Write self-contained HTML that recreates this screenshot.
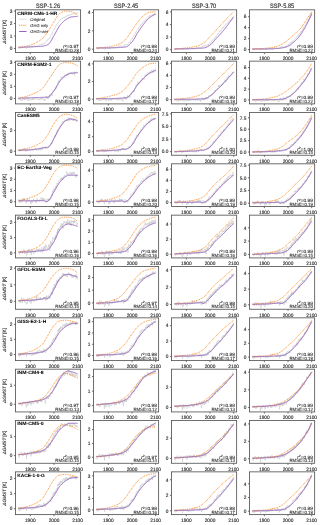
<!DOCTYPE html>
<html><head><meta charset="utf-8"><style>
html,body{margin:0;padding:0;background:#fff;width:320px;height:525px;overflow:hidden}
svg{display:block;will-change:transform}
text{font-family:"Liberation Sans", sans-serif;fill:#262626;text-rendering:geometricPrecision;stroke:#262626;stroke-width:0.12px}
.ti{font-size:6.4px}
.xt{font-size:4.9px}
.yt{font-size:4.9px}
.mn{font-size:4.7px;font-weight:bold;fill:#000;stroke:#000;stroke-width:0.05px}
.an{font-size:4.7px;stroke-width:0.06px;fill:#111;stroke:#111}
.sup{font-size:3.2px}
.lg{font-size:4.0px;fill:#333;stroke:#333;stroke-width:0.08px}
.yl{font-size:4.7px}
.ax{fill:none;stroke:#555555;stroke-width:0.85}
.tk{stroke:#555555;stroke-width:0.85}
.g{fill:none;stroke:#c8c8c8;stroke-width:0.6}
.o{fill:none;stroke:#ff7f0e;stroke-width:1.0;stroke-dasharray:0.9 0.9}
.p{fill:none;stroke:#9467bd;stroke-width:1.0}
</style></head><body>
<svg width="320" height="525" viewBox="0 0 320 525" xmlns="http://www.w3.org/2000/svg">
<text class="ti" x="48.05" y="7.75" text-anchor="middle" textLength="24.2" lengthAdjust="spacingAndGlyphs">SSP-1.26</text>
<text class="ti" x="126.07" y="7.75" text-anchor="middle" textLength="24.2" lengthAdjust="spacingAndGlyphs">SSP-2.45</text>
<text class="ti" x="204.09" y="7.75" text-anchor="middle" textLength="24.2" lengthAdjust="spacingAndGlyphs">SSP-3.70</text>
<text class="ti" x="282.11" y="7.75" text-anchor="middle" textLength="24.2" lengthAdjust="spacingAndGlyphs">SSP-5.85</text>
<clipPath id="c00"><rect x="15.50" y="9.80" width="65.10" height="42.75"/></clipPath>
<g clip-path="url(#c00)">
<polyline class="g" points="18.5,47.78 18.7,47.66 18.9,48.42 19.2,48.87 19.4,48.37 19.6,47.60 19.9,47.81 20.1,47.83 20.4,47.48 20.6,48.24 20.8,48.37 21.1,47.49 21.3,47.97 21.5,47.29 21.8,47.35 22.0,47.20 22.2,47.18 22.5,47.44 22.7,47.37 23.0,47.38 23.2,48.00 23.4,47.65 23.7,47.76 23.9,47.05 24.1,47.37 24.4,47.70 24.6,47.62 24.9,47.30 25.1,47.77 25.3,48.12 25.6,47.76 25.8,48.16 26.0,48.33 26.3,48.43 26.5,48.66 26.7,48.42 27.0,47.85 27.2,47.04 27.5,47.03 27.7,47.55 27.9,46.77 28.2,46.94 28.4,46.72 28.6,47.03 28.9,47.30 29.1,47.59 29.3,47.86 29.6,47.84 29.8,47.11 30.1,47.00 30.3,47.14 30.5,46.88 30.8,47.00 31.0,47.00 31.2,47.22 31.5,46.37 31.7,46.81 32.0,46.49 32.2,47.42 32.4,46.72 32.7,46.70 32.9,46.96 33.1,46.14 33.4,45.95 33.6,46.23 33.8,46.15 34.1,46.05 34.3,45.97 34.6,46.12 34.8,45.92 35.0,46.59 35.3,46.01 35.5,46.53 35.7,46.63 36.0,46.37 36.2,45.95 36.5,45.92 36.7,46.32 36.9,46.41 37.2,46.02 37.4,46.16 37.6,45.73 37.9,46.21 38.1,46.46 38.3,45.64 38.6,45.89 38.8,46.49 39.1,45.74 39.3,45.30 39.5,44.91 39.8,45.04 40.0,44.24 40.2,44.45 40.5,44.12 40.7,44.32 40.9,44.53 41.2,44.47 41.4,45.07 41.7,44.21 41.9,44.04 42.1,43.66 42.4,43.98 42.6,43.72 42.8,43.73 43.1,44.48 43.3,43.99 43.6,43.81 43.8,43.69 44.0,43.56 44.3,43.56 44.5,43.44 44.7,42.86 45.0,42.85 45.2,42.98 45.4,42.70 45.7,42.55 45.9,42.13 46.2,41.69 46.4,41.74 46.6,40.44 46.9,41.01 47.1,40.55 47.3,39.90 47.6,39.70 47.8,39.37 48.0,39.34 48.3,39.47 48.5,39.44 48.8,38.54 49.0,38.12 49.2,38.57 49.5,38.59 49.7,38.30 49.9,38.15 50.2,36.75 50.4,36.06 50.7,35.57 50.9,34.81 51.1,34.86 51.4,34.35 51.6,33.92 51.8,34.27 52.1,34.25 52.3,33.80 52.5,31.61 52.8,31.21 53.0,31.07 53.3,30.58 53.5,30.04 53.7,29.50 54.0,28.81 54.2,28.65 54.4,29.18 54.7,28.42 54.9,28.23 55.2,27.63 55.4,26.63 55.6,26.80 55.9,26.11 56.1,25.42 56.3,24.88 56.6,24.29 56.8,24.62 57.0,24.10 57.3,23.87 57.5,24.06 57.8,22.88 58.0,22.47 58.2,22.14 58.5,22.28 58.7,22.45 58.9,21.75 59.2,21.25 59.4,20.79 59.6,20.41 59.9,20.45 60.1,20.51 60.4,19.75 60.6,19.61 60.8,19.80 61.1,19.63 61.3,19.63 61.5,19.32 61.8,18.92 62.0,18.28 62.3,18.73 62.5,18.95 62.7,18.35 63.0,17.61 63.2,17.74 63.4,17.71 63.7,17.83 63.9,17.26 64.1,17.63 64.4,17.51 64.6,18.10 64.9,17.21 65.1,16.98 65.3,17.18 65.6,16.41 65.8,16.71 66.0,16.99 66.3,16.73 66.5,16.32 66.8,16.60 67.0,15.57 67.2,14.86 67.5,14.89 67.7,15.06 67.9,15.23 68.2,15.09 68.4,15.86 68.6,15.83 68.9,15.04 69.1,14.69 69.4,14.91 69.6,15.21 69.8,15.27 70.1,15.23 70.3,14.63 70.5,14.38 70.8,14.66 71.0,14.70 71.2,14.98 71.5,14.02 71.7,14.06 72.0,14.38 72.2,14.10 72.4,14.03 72.7,13.81 72.9,13.71 73.1,14.09 73.4,14.30 73.6,13.56 73.9,13.65 74.1,14.05 74.3,13.95 74.6,13.80 74.8,13.65 75.0,13.63 75.3,13.81 75.5,13.89 75.7,13.22 76.0,13.94 76.2,13.20 76.5,13.92 76.7,13.40 76.9,12.66 77.2,13.14 77.4,12.68 77.6,12.66"/>
<polyline class="o" points="18.5,47.27 18.9,47.26 19.4,47.25 19.9,47.23 20.4,47.19 20.8,47.15 21.3,47.10 21.8,47.04 22.2,46.98 22.7,46.91 23.2,46.83 23.7,46.74 24.1,46.65 24.6,46.56 25.1,46.46 25.6,46.35 26.0,46.24 26.5,46.13 27.0,46.02 27.5,45.90 27.9,45.78 28.4,45.65 28.9,45.53 29.3,45.40 29.8,45.27 30.3,45.15 30.8,45.01 31.2,44.87 31.7,44.72 32.2,44.55 32.7,44.38 33.1,44.19 33.6,43.99 34.1,43.79 34.6,43.57 35.0,43.34 35.5,43.11 36.0,42.86 36.5,42.60 36.9,42.33 37.4,42.06 37.9,41.77 38.3,41.48 38.8,41.17 39.3,40.86 39.8,40.53 40.2,40.20 40.7,39.86 41.2,39.51 41.7,39.15 42.1,38.78 42.6,38.38 43.1,37.92 43.6,37.42 44.0,36.88 44.5,36.29 45.0,35.68 45.4,35.05 45.9,34.39 46.4,33.72 46.9,33.04 47.3,32.36 47.8,31.69 48.3,31.01 48.8,30.31 49.2,29.57 49.7,28.82 50.2,28.04 50.7,27.25 51.1,26.45 51.6,25.65 52.1,24.85 52.5,24.06 53.0,23.29 53.5,22.53 54.0,21.80 54.4,21.05 54.9,20.27 55.4,19.47 55.9,18.65 56.3,17.84 56.8,17.05 57.3,16.29 57.8,15.57 58.2,14.92 58.7,14.34 59.2,13.85 59.6,13.46 60.1,13.17 60.6,12.91 61.1,12.65 61.5,12.41 62.0,12.18 62.5,11.97 63.0,11.77 63.4,11.61 63.9,11.46 64.4,11.34 64.9,11.26 65.3,11.20 65.8,11.18 66.3,11.19 66.8,11.20 67.2,11.23 67.7,11.26 68.2,11.30 68.6,11.35 69.1,11.41 69.6,11.47 70.1,11.54 70.5,11.62 71.0,11.69 71.5,11.78 72.0,11.87 72.4,12.00 72.9,12.17 73.4,12.38 73.9,12.62 74.3,12.90 74.8,13.20 75.3,13.53 75.7,13.88 76.2,14.25 76.7,14.63 77.2,15.03 77.6,15.43"/>
<polyline class="p" points="18.5,47.27 18.9,47.26 19.4,47.24 19.9,47.23 20.4,47.22 20.8,47.20 21.3,47.19 21.8,47.17 22.2,47.16 22.7,47.14 23.2,47.12 23.7,47.11 24.1,47.09 24.6,47.07 25.1,47.06 25.6,47.04 26.0,47.02 26.5,47.00 27.0,46.98 27.5,46.96 27.9,46.94 28.4,46.93 28.9,46.91 29.3,46.89 29.8,46.87 30.3,46.85 30.8,46.83 31.2,46.81 31.7,46.79 32.2,46.77 32.7,46.75 33.1,46.73 33.6,46.72 34.1,46.70 34.6,46.68 35.0,46.66 35.5,46.64 36.0,46.62 36.5,46.60 36.9,46.57 37.4,46.55 37.9,46.53 38.3,46.50 38.8,46.47 39.3,46.44 39.8,46.41 40.2,46.37 40.7,46.34 41.2,46.30 41.7,46.25 42.1,46.21 42.6,46.16 43.1,46.09 43.6,46.01 44.0,45.91 44.5,45.80 45.0,45.68 45.4,45.54 45.9,45.38 46.4,45.22 46.9,45.03 47.3,44.84 47.8,44.62 48.3,44.38 48.8,44.01 49.2,43.52 49.7,42.93 50.2,42.24 50.7,41.49 51.1,40.68 51.6,39.83 52.1,38.96 52.5,38.08 53.0,37.22 53.5,36.38 54.0,35.59 54.4,34.81 54.9,33.98 55.4,33.12 55.9,32.24 56.3,31.34 56.8,30.45 57.3,29.57 57.8,28.71 58.2,27.88 58.7,27.10 59.2,26.37 59.6,25.71 60.1,25.11 60.6,24.54 61.1,23.99 61.5,23.46 62.0,22.94 62.5,22.45 63.0,21.97 63.4,21.52 63.9,21.10 64.4,20.70 64.9,20.33 65.3,19.99 65.8,19.67 66.3,19.38 66.8,19.08 67.2,18.79 67.7,18.51 68.2,18.24 68.6,17.98 69.1,17.75 69.6,17.53 70.1,17.34 70.5,17.18 71.0,17.05 71.5,16.95 72.0,16.89 72.4,16.83 72.9,16.78 73.4,16.73 73.9,16.68 74.3,16.64 74.8,16.60 75.3,16.57 75.7,16.54 76.2,16.52 76.7,16.50 77.2,16.49 77.6,16.49"/>
</g>
<rect class="ax" x="15.50" y="9.80" width="65.10" height="42.75"/>
<line class="tk" x1="30.30" y1="52.55" x2="30.30" y2="54.15"/>
<text class="xt" x="30.30" y="59.95" text-anchor="middle" textLength="10.69" lengthAdjust="spacingAndGlyphs">1900</text>
<line class="tk" x1="53.97" y1="52.55" x2="53.97" y2="54.15"/>
<text class="xt" x="53.97" y="59.95" text-anchor="middle" textLength="10.69" lengthAdjust="spacingAndGlyphs">2000</text>
<line class="tk" x1="77.64" y1="52.55" x2="77.64" y2="54.15"/>
<text class="xt" x="77.64" y="59.95" text-anchor="middle" textLength="10.69" lengthAdjust="spacingAndGlyphs">2100</text>
<line class="tk" x1="13.90" y1="48.44" x2="15.50" y2="48.44"/>
<text class="yt" x="12.30" y="50.19" text-anchor="end" textLength="2.67" lengthAdjust="spacingAndGlyphs">0</text>
<line class="tk" x1="13.90" y1="36.00" x2="15.50" y2="36.00"/>
<text class="yt" x="12.30" y="37.75" text-anchor="end" textLength="2.67" lengthAdjust="spacingAndGlyphs">1</text>
<line class="tk" x1="13.90" y1="23.55" x2="15.50" y2="23.55"/>
<text class="yt" x="12.30" y="25.30" text-anchor="end" textLength="2.67" lengthAdjust="spacingAndGlyphs">2</text>
<line class="tk" x1="13.90" y1="11.10" x2="15.50" y2="11.10"/>
<text class="yt" x="12.30" y="12.85" text-anchor="end" textLength="2.67" lengthAdjust="spacingAndGlyphs">3</text>
<text class="an" x="78.80" y="47.90" text-anchor="end" textLength="15.60" lengthAdjust="spacingAndGlyphs">r<tspan class="sup" dy="-1.3">2</tspan><tspan dy="1.3">=0.97</tspan></text>
<text class="an" x="78.80" y="51.60" text-anchor="end" textLength="23.43" lengthAdjust="spacingAndGlyphs">RMSE=0.28</text>
<clipPath id="c01"><rect x="93.52" y="9.80" width="65.10" height="42.75"/></clipPath>
<g clip-path="url(#c01)">
<polyline class="g" points="96.5,48.21 96.7,48.09 97.0,48.87 97.2,49.33 97.4,48.84 97.7,48.07 97.9,48.29 98.1,48.32 98.4,47.98 98.6,48.75 98.8,48.89 99.1,48.02 99.3,48.51 99.6,47.84 99.8,47.92 100.0,47.77 100.3,47.76 100.5,48.04 100.7,47.98 101.0,48.00 101.2,48.64 101.5,48.30 101.7,48.42 101.9,47.72 102.2,48.06 102.4,48.40 102.6,48.33 102.9,48.02 103.1,48.50 103.3,48.87 103.6,48.53 103.8,48.93 104.1,49.12 104.3,49.23 104.5,49.48 104.8,49.25 105.0,48.70 105.2,47.90 105.5,47.91 105.7,48.44 105.9,47.68 106.2,47.86 106.4,47.66 106.7,47.98 106.9,48.27 107.1,48.57 107.4,48.86 107.6,48.85 107.8,48.14 108.1,48.04 108.3,48.21 108.6,47.95 108.8,48.09 109.0,48.10 109.3,48.34 109.5,47.50 109.7,47.95 110.0,47.64 110.2,48.58 110.4,47.90 110.7,47.89 110.9,48.15 111.2,47.34 111.4,47.16 111.6,47.45 111.9,47.38 112.1,47.29 112.3,47.22 112.6,47.38 112.8,47.18 113.0,47.87 113.3,47.29 113.5,47.82 113.8,47.94 114.0,47.69 114.2,47.28 114.5,47.26 114.7,47.67 114.9,47.77 115.2,47.39 115.4,47.55 115.7,47.13 115.9,47.63 116.1,47.90 116.4,47.09 116.6,47.36 116.8,47.98 117.1,47.25 117.3,46.83 117.5,46.47 117.8,46.62 118.0,45.84 118.3,46.08 118.5,45.78 118.7,46.01 119.0,46.26 119.2,46.23 119.4,46.86 119.7,46.04 119.9,45.91 120.2,45.57 120.4,45.94 120.6,45.74 120.9,45.81 121.1,46.65 121.3,46.25 121.6,46.16 121.8,46.15 122.0,46.14 122.3,46.26 122.5,46.28 122.8,45.83 123.0,45.97 123.2,46.25 123.5,46.12 123.7,46.13 123.9,45.87 124.2,45.61 124.4,45.82 124.6,44.69 124.9,45.43 125.1,45.15 125.4,44.67 125.6,44.65 125.8,44.50 126.1,44.65 126.3,44.95 126.5,45.11 126.8,44.40 127.0,44.17 127.3,44.82 127.5,45.04 127.7,44.95 128.0,45.01 128.2,43.81 128.4,43.32 128.7,43.03 128.9,42.47 129.1,42.71 129.4,42.39 129.6,42.13 129.9,42.66 130.1,42.82 130.3,42.52 130.6,40.48 130.8,40.23 131.0,40.22 131.3,39.85 131.5,39.42 131.8,38.98 132.0,38.36 132.2,38.27 132.5,38.85 132.7,38.13 132.9,37.96 133.2,37.38 133.4,36.40 133.6,36.56 133.9,35.86 134.1,35.15 134.4,34.57 134.6,33.95 134.8,34.23 135.1,33.65 135.3,33.37 135.5,31.97 135.8,32.12 136.0,32.32 136.2,32.34 136.5,31.46 136.7,31.06 137.0,30.79 137.2,30.42 137.4,30.09 137.7,30.07 137.9,29.24 138.1,28.42 138.4,27.99 138.6,28.82 138.9,27.92 139.1,27.36 139.3,27.29 139.6,27.30 139.8,26.54 140.0,26.07 140.3,26.24 140.5,24.99 140.7,24.71 141.0,24.62 141.2,24.66 141.5,24.68 141.7,24.22 141.9,24.07 142.2,23.78 142.4,22.96 142.6,22.63 142.9,22.49 143.1,22.04 143.4,22.09 143.6,21.58 143.8,21.82 144.1,21.31 144.3,21.35 144.5,21.59 144.8,21.12 145.0,21.13 145.2,20.44 145.5,20.58 145.7,20.00 146.0,19.20 146.2,19.10 146.4,19.52 146.7,19.05 146.9,18.93 147.1,18.80 147.4,18.50 147.6,18.54 147.8,18.35 148.1,17.91 148.3,17.99 148.6,17.39 148.8,16.71 149.0,17.08 149.3,17.04 149.5,16.47 149.7,15.58 150.0,16.04 150.2,16.47 150.5,15.50 150.7,15.64 150.9,15.37 151.2,15.79 151.4,15.57 151.6,16.00 151.9,15.25 152.1,14.74 152.3,14.53 152.6,14.94 152.8,15.79 153.1,14.96 153.3,14.30 153.5,14.01 153.8,14.10 154.0,14.34 154.2,13.56 154.5,14.07 154.7,13.51 155.0,14.00 155.2,14.68 155.4,14.36 155.7,13.34"/>
<polyline class="o" points="96.5,47.91 97.0,47.90 97.4,47.90 97.9,47.88 98.4,47.87 98.8,47.85 99.3,47.82 99.8,47.79 100.3,47.76 100.7,47.73 101.2,47.69 101.7,47.64 102.2,47.60 102.6,47.55 103.1,47.50 103.6,47.45 104.1,47.39 104.5,47.34 105.0,47.28 105.5,47.22 105.9,47.16 106.4,47.10 106.9,47.04 107.4,46.97 107.8,46.91 108.3,46.85 108.8,46.78 109.3,46.71 109.7,46.64 110.2,46.56 110.7,46.47 111.2,46.39 111.6,46.29 112.1,46.19 112.6,46.09 113.0,45.98 113.5,45.87 114.0,45.75 114.5,45.63 114.9,45.50 115.4,45.36 115.9,45.22 116.4,45.07 116.8,44.92 117.3,44.76 117.8,44.59 118.3,44.42 118.7,44.24 119.2,44.05 119.7,43.86 120.2,43.66 120.6,43.44 121.1,43.17 121.6,42.87 122.0,42.54 122.5,42.17 123.0,41.78 123.5,41.36 123.9,40.92 124.4,40.47 124.9,40.00 125.4,39.52 125.8,39.03 126.3,38.52 126.8,37.97 127.3,37.37 127.7,36.73 128.2,36.06 128.7,35.36 129.1,34.64 129.6,33.90 130.1,33.16 130.6,32.43 131.0,31.70 131.5,30.98 132.0,30.29 132.5,29.60 132.9,28.90 133.4,28.20 133.9,27.49 134.4,26.78 134.8,26.07 135.3,25.37 135.8,24.68 136.2,24.00 136.7,23.34 137.2,22.70 137.7,22.09 138.1,21.51 138.6,20.92 139.1,20.34 139.6,19.76 140.0,19.19 140.5,18.64 141.0,18.10 141.5,17.58 141.9,17.09 142.4,16.62 142.9,16.19 143.4,15.79 143.8,15.43 144.3,15.09 144.8,14.75 145.2,14.41 145.7,14.08 146.2,13.77 146.7,13.47 147.1,13.20 147.6,12.94 148.1,12.72 148.6,12.54 149.0,12.39 149.5,12.28 150.0,12.22 150.5,12.16 150.9,12.11 151.4,12.06 151.9,12.01 152.3,11.97 152.8,11.93 153.3,11.90 153.8,11.87 154.2,11.85 154.7,11.83 155.2,11.82 155.7,11.82"/>
<polyline class="p" points="96.5,47.91 97.0,47.91 97.4,47.91 97.9,47.91 98.4,47.91 98.8,47.91 99.3,47.91 99.8,47.91 100.3,47.91 100.7,47.91 101.2,47.91 101.7,47.91 102.2,47.91 102.6,47.91 103.1,47.91 103.6,47.91 104.1,47.91 104.5,47.91 105.0,47.91 105.5,47.91 105.9,47.91 106.4,47.91 106.9,47.91 107.4,47.91 107.8,47.91 108.3,47.91 108.8,47.91 109.3,47.90 109.7,47.90 110.2,47.89 110.7,47.88 111.2,47.87 111.6,47.86 112.1,47.85 112.6,47.84 113.0,47.82 113.5,47.81 114.0,47.79 114.5,47.77 114.9,47.75 115.4,47.73 115.9,47.71 116.4,47.68 116.8,47.66 117.3,47.64 117.8,47.61 118.3,47.59 118.7,47.56 119.2,47.54 119.7,47.51 120.2,47.48 120.6,47.45 121.1,47.42 121.6,47.39 122.0,47.36 122.5,47.32 123.0,47.27 123.5,47.23 123.9,47.17 124.4,47.11 124.9,47.04 125.4,46.97 125.8,46.89 126.3,46.79 126.8,46.63 127.3,46.40 127.7,46.11 128.2,45.77 128.7,45.39 129.1,44.96 129.6,44.50 130.1,44.02 130.6,43.52 131.0,43.00 131.5,42.48 132.0,41.96 132.5,41.40 132.9,40.77 133.4,40.07 133.9,39.32 134.4,38.53 134.8,37.71 135.3,36.87 135.8,36.02 136.2,35.18 136.7,34.35 137.2,33.54 137.7,32.78 138.1,32.05 138.6,31.33 139.1,30.61 139.6,29.89 140.0,29.18 140.5,28.47 141.0,27.78 141.5,27.09 141.9,26.42 142.4,25.77 142.9,25.13 143.4,24.51 143.8,23.92 144.3,23.34 144.8,22.75 145.2,22.17 145.7,21.60 146.2,21.04 146.7,20.49 147.1,19.96 147.6,19.46 148.1,18.98 148.6,18.52 149.0,18.11 149.5,17.73 150.0,17.38 150.5,17.05 150.9,16.73 151.4,16.42 151.9,16.12 152.3,15.83 152.8,15.56 153.3,15.31 153.8,15.08 154.2,14.87 154.7,14.67 155.2,14.51 155.7,14.37"/>
</g>
<rect class="ax" x="93.52" y="9.80" width="65.10" height="42.75"/>
<line class="tk" x1="108.32" y1="52.55" x2="108.32" y2="54.15"/>
<text class="xt" x="108.32" y="59.95" text-anchor="middle" textLength="10.69" lengthAdjust="spacingAndGlyphs">1900</text>
<line class="tk" x1="131.99" y1="52.55" x2="131.99" y2="54.15"/>
<text class="xt" x="131.99" y="59.95" text-anchor="middle" textLength="10.69" lengthAdjust="spacingAndGlyphs">2000</text>
<line class="tk" x1="155.66" y1="52.55" x2="155.66" y2="54.15"/>
<text class="xt" x="155.66" y="59.95" text-anchor="middle" textLength="10.69" lengthAdjust="spacingAndGlyphs">2100</text>
<line class="tk" x1="91.92" y1="49.19" x2="93.52" y2="49.19"/>
<text class="yt" x="90.32" y="50.94" text-anchor="end" textLength="2.67" lengthAdjust="spacingAndGlyphs">0</text>
<line class="tk" x1="91.92" y1="30.86" x2="93.52" y2="30.86"/>
<text class="yt" x="90.32" y="32.61" text-anchor="end" textLength="2.67" lengthAdjust="spacingAndGlyphs">2</text>
<line class="tk" x1="91.92" y1="12.53" x2="93.52" y2="12.53"/>
<text class="yt" x="90.32" y="14.28" text-anchor="end" textLength="2.67" lengthAdjust="spacingAndGlyphs">4</text>
<text class="an" x="156.82" y="47.90" text-anchor="end" textLength="15.60" lengthAdjust="spacingAndGlyphs">r<tspan class="sup" dy="-1.3">2</tspan><tspan dy="1.3">=0.98</tspan></text>
<text class="an" x="156.82" y="51.60" text-anchor="end" textLength="23.43" lengthAdjust="spacingAndGlyphs">RMSE=0.24</text>
<clipPath id="c02"><rect x="171.54" y="9.80" width="65.10" height="42.75"/></clipPath>
<g clip-path="url(#c02)">
<polyline class="g" points="174.5,48.84 174.7,48.73 175.0,49.50 175.2,49.96 175.4,49.47 175.7,48.71 175.9,48.93 176.2,48.96 176.4,48.62 176.6,49.39 176.9,49.53 177.1,48.67 177.3,49.16 177.6,48.50 177.8,48.58 178.0,48.44 178.3,48.43 178.5,48.71 178.8,48.65 179.0,48.68 179.2,49.32 179.5,48.98 179.7,49.11 179.9,48.41 180.2,48.76 180.4,49.10 180.7,49.04 180.9,48.73 181.1,49.22 181.4,49.59 181.6,49.25 181.8,49.67 182.1,49.86 182.3,49.97 182.5,50.23 182.8,50.01 183.0,49.46 183.3,48.67 183.5,48.68 183.7,49.22 184.0,48.46 184.2,48.65 184.4,48.46 184.7,48.79 184.9,49.08 185.2,49.39 185.4,49.68 185.6,49.68 185.9,48.98 186.1,48.89 186.3,49.05 186.6,48.81 186.8,48.95 187.0,48.97 187.3,49.22 187.5,48.39 187.8,48.85 188.0,48.55 188.2,49.50 188.5,48.83 188.7,48.83 188.9,49.10 189.2,48.31 189.4,48.14 189.6,48.44 189.9,48.38 190.1,48.31 190.4,48.25 190.6,48.42 190.8,48.24 191.1,48.94 191.3,48.38 191.5,48.93 191.8,49.05 192.0,48.82 192.3,48.43 192.5,48.42 192.7,48.85 193.0,48.96 193.2,48.60 193.4,48.77 193.7,48.37 193.9,48.89 194.1,49.17 194.4,48.38 194.6,48.66 194.9,49.29 195.1,48.58 195.3,48.17 195.6,47.82 195.8,47.99 196.0,47.23 196.3,47.48 196.5,47.19 196.8,47.43 197.0,47.69 197.2,47.67 197.5,48.32 197.7,47.51 197.9,47.39 198.2,47.06 198.4,47.43 198.6,47.23 198.9,47.31 199.1,48.13 199.4,47.72 199.6,47.63 199.8,47.59 200.1,47.57 200.3,47.66 200.5,47.66 200.8,47.19 201.0,47.30 201.2,47.55 201.5,47.40 201.7,47.38 202.0,47.09 202.2,46.80 202.4,46.99 202.7,45.84 202.9,46.56 203.1,46.26 203.4,45.76 203.6,45.73 203.9,45.57 204.1,45.71 204.3,46.02 204.6,46.20 204.8,45.53 205.0,45.37 205.3,46.09 205.5,46.40 205.7,46.41 206.0,46.59 206.2,45.51 206.5,45.16 206.7,45.02 206.9,44.61 207.2,45.01 207.4,44.85 207.6,44.76 207.9,45.46 208.1,45.79 208.4,45.66 208.6,43.79 208.8,43.71 209.1,43.87 209.3,43.66 209.5,43.38 209.8,43.08 210.0,42.61 210.2,42.65 210.5,43.38 210.7,42.80 211.0,42.78 211.2,42.35 211.4,41.51 211.7,41.83 211.9,41.28 212.1,40.71 212.4,40.28 212.6,39.80 212.8,40.24 213.1,39.80 213.3,39.65 213.6,39.74 213.8,39.58 214.0,38.67 214.3,38.64 214.5,38.88 214.7,38.20 215.0,37.38 215.2,37.20 215.5,37.28 215.7,36.81 215.9,35.97 216.2,36.45 216.4,36.22 216.6,35.58 216.9,35.20 217.1,34.84 217.3,35.05 217.6,34.05 217.8,33.52 218.1,33.79 218.3,34.15 218.5,33.59 218.8,33.15 219.0,32.92 219.2,31.69 219.5,30.96 219.7,30.82 220.0,31.16 220.2,31.53 220.4,30.37 220.7,30.24 220.9,31.12 221.1,30.79 221.4,29.70 221.6,29.55 221.8,29.73 222.1,28.39 222.3,28.30 222.6,27.95 222.8,28.37 223.0,27.40 223.3,27.81 223.5,28.10 223.7,26.89 224.0,26.83 224.2,26.32 224.4,26.53 224.7,26.68 224.9,26.09 225.2,25.63 225.4,24.70 225.6,24.07 225.9,24.29 226.1,24.46 226.3,24.16 226.6,23.78 226.8,23.52 227.1,23.72 227.3,23.71 227.5,23.74 227.8,23.17 228.0,23.09 228.2,22.73 228.5,22.65 228.7,21.68 228.9,21.79 229.2,21.55 229.4,21.15 229.7,20.62 229.9,20.68 230.1,21.04 230.4,20.29 230.6,20.44 230.8,20.04 231.1,19.01 231.3,19.75 231.6,18.94 231.8,18.81 232.0,17.95 232.3,18.18 232.5,17.94 232.7,17.88 233.0,16.83 233.2,16.76 233.4,16.67 233.7,16.65"/>
<polyline class="o" points="174.5,48.97 175.0,48.95 175.4,48.92 175.9,48.89 176.4,48.87 176.9,48.83 177.3,48.80 177.8,48.77 178.3,48.73 178.8,48.69 179.2,48.65 179.7,48.61 180.2,48.57 180.7,48.53 181.1,48.48 181.6,48.43 182.1,48.38 182.5,48.34 183.0,48.29 183.5,48.23 184.0,48.18 184.4,48.13 184.9,48.07 185.4,48.02 185.9,47.96 186.3,47.91 186.8,47.85 187.3,47.79 187.8,47.73 188.2,47.67 188.7,47.61 189.2,47.55 189.6,47.49 190.1,47.42 190.6,47.35 191.1,47.28 191.5,47.21 192.0,47.13 192.5,47.05 193.0,46.97 193.4,46.88 193.9,46.79 194.4,46.70 194.9,46.60 195.3,46.50 195.8,46.39 196.3,46.28 196.8,46.16 197.2,46.04 197.7,45.92 198.2,45.78 198.6,45.64 199.1,45.46 199.6,45.27 200.1,45.05 200.5,44.82 201.0,44.57 201.5,44.30 202.0,44.01 202.4,43.72 202.9,43.41 203.4,43.09 203.9,42.77 204.3,42.43 204.8,42.06 205.3,41.65 205.7,41.21 206.2,40.74 206.7,40.25 207.2,39.75 207.6,39.24 208.1,38.71 208.6,38.19 209.1,37.67 209.5,37.16 210.0,36.66 210.5,36.16 211.0,35.66 211.4,35.16 211.9,34.65 212.4,34.14 212.8,33.63 213.3,33.11 213.8,32.60 214.3,32.08 214.7,31.57 215.2,31.06 215.7,30.54 216.2,30.03 216.6,29.52 217.1,29.01 217.6,28.51 218.1,28.00 218.5,27.49 219.0,26.98 219.5,26.47 220.0,25.96 220.4,25.45 220.9,24.94 221.4,24.43 221.8,23.92 222.3,23.41 222.8,22.89 223.3,22.38 223.7,21.86 224.2,21.34 224.7,20.82 225.2,20.31 225.6,19.80 226.1,19.29 226.6,18.78 227.1,18.29 227.5,17.79 228.0,17.31 228.5,16.83 228.9,16.36 229.4,15.89 229.9,15.42 230.4,14.95 230.8,14.49 231.3,14.04 231.8,13.59 232.3,13.14 232.7,12.70 233.2,12.26 233.7,11.82"/>
<polyline class="p" points="174.5,48.97 175.0,48.96 175.4,48.96 175.9,48.95 176.4,48.95 176.9,48.94 177.3,48.93 177.8,48.93 178.3,48.92 178.8,48.91 179.2,48.91 179.7,48.90 180.2,48.89 180.7,48.88 181.1,48.87 181.6,48.86 182.1,48.85 182.5,48.84 183.0,48.83 183.5,48.82 184.0,48.81 184.4,48.80 184.9,48.79 185.4,48.78 185.9,48.77 186.3,48.76 186.8,48.74 187.3,48.73 187.8,48.72 188.2,48.71 188.7,48.69 189.2,48.68 189.6,48.67 190.1,48.65 190.6,48.64 191.1,48.62 191.5,48.61 192.0,48.59 192.5,48.57 193.0,48.56 193.4,48.54 193.9,48.52 194.4,48.50 194.9,48.48 195.3,48.46 195.8,48.44 196.3,48.42 196.8,48.40 197.2,48.38 197.7,48.35 198.2,48.33 198.6,48.31 199.1,48.28 199.6,48.26 200.1,48.24 200.5,48.21 201.0,48.18 201.5,48.15 202.0,48.12 202.4,48.08 202.9,48.04 203.4,47.99 203.9,47.94 204.3,47.87 204.8,47.78 205.3,47.65 205.7,47.49 206.2,47.30 206.7,47.09 207.2,46.86 207.6,46.60 208.1,46.33 208.6,46.05 209.1,45.76 209.5,45.45 210.0,45.15 210.5,44.81 211.0,44.41 211.4,43.97 211.9,43.48 212.4,42.96 212.8,42.42 213.3,41.85 213.8,41.28 214.3,40.70 214.7,40.13 215.2,39.58 215.7,39.04 216.2,38.53 216.6,38.02 217.1,37.52 217.6,37.02 218.1,36.53 218.5,36.03 219.0,35.53 219.5,35.03 220.0,34.52 220.4,34.01 220.9,33.49 221.4,32.95 221.8,32.41 222.3,31.86 222.8,31.29 223.3,30.72 223.7,30.14 224.2,29.55 224.7,28.96 225.2,28.35 225.6,27.75 226.1,27.14 226.6,26.52 227.1,25.91 227.5,25.29 228.0,24.67 228.5,24.05 228.9,23.42 229.4,22.79 229.9,22.15 230.4,21.51 230.8,20.87 231.3,20.22 231.8,19.57 232.3,18.91 232.7,18.25 233.2,17.58 233.7,16.92"/>
</g>
<rect class="ax" x="171.54" y="9.80" width="65.10" height="42.75"/>
<line class="tk" x1="186.34" y1="52.55" x2="186.34" y2="54.15"/>
<text class="xt" x="186.34" y="59.95" text-anchor="middle" textLength="10.69" lengthAdjust="spacingAndGlyphs">1900</text>
<line class="tk" x1="210.01" y1="52.55" x2="210.01" y2="54.15"/>
<text class="xt" x="210.01" y="59.95" text-anchor="middle" textLength="10.69" lengthAdjust="spacingAndGlyphs">2000</text>
<line class="tk" x1="233.68" y1="52.55" x2="233.68" y2="54.15"/>
<text class="xt" x="233.68" y="59.95" text-anchor="middle" textLength="10.69" lengthAdjust="spacingAndGlyphs">2100</text>
<line class="tk" x1="169.94" y1="49.67" x2="171.54" y2="49.67"/>
<text class="yt" x="168.34" y="51.42" text-anchor="end" textLength="2.67" lengthAdjust="spacingAndGlyphs">0</text>
<line class="tk" x1="169.94" y1="37.09" x2="171.54" y2="37.09"/>
<text class="yt" x="168.34" y="38.84" text-anchor="end" textLength="2.67" lengthAdjust="spacingAndGlyphs">2</text>
<line class="tk" x1="169.94" y1="24.52" x2="171.54" y2="24.52"/>
<text class="yt" x="168.34" y="26.27" text-anchor="end" textLength="2.67" lengthAdjust="spacingAndGlyphs">4</text>
<line class="tk" x1="169.94" y1="11.95" x2="171.54" y2="11.95"/>
<text class="yt" x="168.34" y="13.70" text-anchor="end" textLength="2.67" lengthAdjust="spacingAndGlyphs">6</text>
<text class="an" x="234.84" y="47.90" text-anchor="end" textLength="15.60" lengthAdjust="spacingAndGlyphs">r<tspan class="sup" dy="-1.3">2</tspan><tspan dy="1.3">=0.99</tspan></text>
<text class="an" x="234.84" y="51.60" text-anchor="end" textLength="23.43" lengthAdjust="spacingAndGlyphs">RMSE=0.21</text>
<clipPath id="c03"><rect x="249.56" y="9.80" width="65.10" height="42.75"/></clipPath>
<g clip-path="url(#c03)">
<polyline class="g" points="252.5,49.06 252.8,48.94 253.0,49.71 253.2,50.18 253.5,49.69 253.7,48.92 253.9,49.14 254.2,49.17 254.4,48.84 254.6,49.61 254.9,49.75 255.1,48.89 255.4,49.38 255.6,48.71 255.8,48.79 256.1,48.65 256.3,48.64 256.5,48.92 256.8,48.86 257.0,48.89 257.3,49.53 257.5,49.19 257.7,49.32 258.0,48.62 258.2,48.97 258.4,49.31 258.7,49.25 258.9,48.94 259.1,49.43 259.4,49.80 259.6,49.46 259.9,49.88 260.1,50.07 260.3,50.18 260.6,50.44 260.8,50.22 261.0,49.67 261.3,48.88 261.5,48.89 261.8,49.43 262.0,48.67 262.2,48.86 262.5,48.67 262.7,49.00 262.9,49.29 263.2,49.60 263.4,49.90 263.6,49.89 263.9,49.19 264.1,49.10 264.4,49.27 264.6,49.02 264.8,49.16 265.1,49.19 265.3,49.43 265.5,48.61 265.8,49.07 266.0,48.77 266.2,49.72 266.5,49.05 266.7,49.05 267.0,49.33 267.2,48.53 267.4,48.37 267.7,48.68 267.9,48.62 268.1,48.54 268.4,48.49 268.6,48.66 268.9,48.49 269.1,49.19 269.3,48.63 269.6,49.18 269.8,49.32 270.0,49.08 270.3,48.70 270.5,48.70 270.7,49.13 271.0,49.25 271.2,48.89 271.5,49.06 271.7,48.67 271.9,49.19 272.2,49.48 272.4,48.69 272.6,48.98 272.9,49.62 273.1,48.91 273.4,48.51 273.6,48.17 273.8,48.34 274.1,47.58 274.3,47.84 274.5,47.56 274.8,47.81 275.0,48.08 275.2,48.06 275.5,48.72 275.7,47.92 276.0,47.80 276.2,47.48 276.4,47.86 276.7,47.68 276.9,47.77 277.1,48.61 277.4,48.21 277.6,48.14 277.8,48.13 278.1,48.12 278.3,48.24 278.6,48.26 278.8,47.82 279.0,47.96 279.3,48.23 279.5,48.11 279.7,48.12 280.0,47.87 280.2,47.60 280.5,47.83 280.7,46.71 280.9,47.46 281.2,47.19 281.4,46.73 281.6,46.73 281.9,46.60 282.1,46.77 282.3,47.11 282.6,47.33 282.8,46.69 283.1,46.56 283.3,47.32 283.5,47.68 283.8,47.73 284.0,47.94 284.2,46.91 284.5,46.60 284.7,46.49 285.0,46.12 285.2,46.57 285.4,46.45 285.7,46.41 285.9,47.15 286.1,47.53 286.4,47.45 286.6,45.63 286.8,45.59 287.1,45.80 287.3,45.63 287.6,45.41 287.8,45.15 288.0,44.73 288.3,44.82 288.5,45.59 288.7,45.06 289.0,45.09 289.2,44.70 289.4,43.91 289.7,44.27 289.9,43.76 290.2,43.24 290.4,42.85 290.6,42.41 290.9,42.89 291.1,42.49 291.3,42.38 291.6,41.96 291.8,42.34 292.1,41.50 292.3,41.26 292.5,40.90 292.8,41.54 293.0,41.07 293.2,40.90 293.5,40.55 293.7,40.69 293.9,40.45 294.2,39.75 294.4,39.47 294.7,39.58 294.9,39.46 295.1,39.22 295.4,38.47 295.6,38.03 295.8,38.25 296.1,38.20 296.3,37.39 296.6,37.04 296.8,37.16 297.0,36.51 297.3,36.32 297.5,36.27 297.7,35.79 298.0,35.51 298.2,34.98 298.4,35.27 298.7,34.63 298.9,34.96 299.2,34.22 299.4,34.43 299.6,33.36 299.9,33.07 300.1,33.73 300.3,32.57 300.6,32.04 300.8,31.89 301.0,31.93 301.3,30.96 301.5,31.83 301.8,31.42 302.0,30.26 302.2,29.82 302.5,29.58 302.7,29.44 302.9,28.57 303.2,28.92 303.4,28.60 303.7,27.31 303.9,26.43 304.1,26.63 304.4,25.80 304.6,25.85 304.8,25.85 305.1,25.44 305.3,24.65 305.5,24.47 305.8,24.38 306.0,23.19 306.3,23.46 306.5,22.68 306.7,22.18 307.0,21.62 307.2,20.97 307.4,20.73 307.7,19.91 307.9,19.73 308.1,19.95 308.4,20.27 308.6,19.80 308.9,18.72 309.1,18.34 309.3,17.88 309.6,17.09 309.8,15.95 310.0,16.10 310.3,16.38 310.5,15.49 310.8,14.67 311.0,14.16 311.2,14.04 311.5,12.48 311.7,13.37"/>
<polyline class="o" points="252.5,48.97 253.0,48.96 253.5,48.95 253.9,48.94 254.4,48.93 254.9,48.92 255.4,48.90 255.8,48.88 256.3,48.86 256.8,48.84 257.3,48.82 257.7,48.79 258.2,48.77 258.7,48.74 259.1,48.71 259.6,48.68 260.1,48.65 260.6,48.61 261.0,48.58 261.5,48.55 262.0,48.51 262.5,48.48 262.9,48.44 263.4,48.40 263.9,48.37 264.4,48.33 264.8,48.29 265.3,48.25 265.8,48.21 266.2,48.17 266.7,48.12 267.2,48.07 267.7,48.02 268.1,47.97 268.6,47.92 269.1,47.86 269.6,47.80 270.0,47.74 270.5,47.67 271.0,47.60 271.5,47.53 271.9,47.46 272.4,47.38 272.9,47.30 273.4,47.21 273.8,47.13 274.3,47.03 274.8,46.94 275.2,46.84 275.7,46.74 276.2,46.63 276.7,46.51 277.1,46.37 277.6,46.22 278.1,46.04 278.6,45.85 279.0,45.64 279.5,45.42 280.0,45.20 280.5,44.96 280.9,44.72 281.4,44.47 281.9,44.21 282.3,43.96 282.8,43.68 283.3,43.39 283.8,43.08 284.2,42.75 284.7,42.42 285.2,42.07 285.7,41.71 286.1,41.34 286.6,40.97 287.1,40.60 287.6,40.22 288.0,39.84 288.5,39.46 289.0,39.06 289.4,38.65 289.9,38.23 290.4,37.80 290.9,37.37 291.3,36.93 291.8,36.49 292.3,36.05 292.8,35.61 293.2,35.18 293.7,34.75 294.2,34.32 294.7,33.91 295.1,33.51 295.6,33.12 296.1,32.72 296.6,32.33 297.0,31.93 297.5,31.53 298.0,31.11 298.4,30.67 298.9,30.21 299.4,29.73 299.9,29.23 300.3,28.68 300.8,28.09 301.3,27.47 301.8,26.81 302.2,26.13 302.7,25.43 303.2,24.71 303.7,23.99 304.1,23.25 304.6,22.52 305.1,21.80 305.5,21.09 306.0,20.39 306.5,19.69 307.0,18.99 307.4,18.28 307.9,17.58 308.4,16.87 308.9,16.15 309.3,15.44 309.8,14.72 310.3,14.00 310.8,13.28 311.2,12.55 311.7,11.82"/>
<polyline class="p" points="252.5,48.97 253.0,48.97 253.5,48.97 253.9,48.97 254.4,48.97 254.9,48.97 255.4,48.97 255.8,48.97 256.3,48.97 256.8,48.97 257.3,48.97 257.7,48.97 258.2,48.97 258.7,48.97 259.1,48.97 259.6,48.97 260.1,48.97 260.6,48.97 261.0,48.97 261.5,48.97 262.0,48.97 262.5,48.97 262.9,48.97 263.4,48.97 263.9,48.97 264.4,48.97 264.8,48.97 265.3,48.96 265.8,48.96 266.2,48.95 266.7,48.95 267.2,48.94 267.7,48.92 268.1,48.91 268.6,48.90 269.1,48.88 269.6,48.87 270.0,48.85 270.5,48.83 271.0,48.81 271.5,48.79 271.9,48.77 272.4,48.75 272.9,48.72 273.4,48.70 273.8,48.67 274.3,48.65 274.8,48.62 275.2,48.60 275.7,48.57 276.2,48.54 276.7,48.51 277.1,48.48 277.6,48.44 278.1,48.40 278.6,48.36 279.0,48.31 279.5,48.26 280.0,48.20 280.5,48.14 280.9,48.08 281.4,48.01 281.9,47.94 282.3,47.87 282.8,47.78 283.3,47.69 283.8,47.58 284.2,47.47 284.7,47.34 285.2,47.21 285.7,47.07 286.1,46.91 286.6,46.75 287.1,46.58 287.6,46.40 288.0,46.21 288.5,46.00 289.0,45.75 289.4,45.48 289.9,45.18 290.4,44.85 290.9,44.51 291.3,44.15 291.8,43.77 292.3,43.38 292.8,42.98 293.2,42.57 293.7,42.17 294.2,41.76 294.7,41.33 295.1,40.89 295.6,40.44 296.1,39.96 296.6,39.47 297.0,38.97 297.5,38.45 298.0,37.91 298.4,37.36 298.9,36.79 299.4,36.20 299.9,35.59 300.3,34.97 300.8,34.31 301.3,33.62 301.8,32.90 302.2,32.16 302.7,31.39 303.2,30.61 303.7,29.81 304.1,28.99 304.6,28.16 305.1,27.32 305.5,26.47 306.0,25.61 306.5,24.74 307.0,23.85 307.4,22.93 307.9,22.00 308.4,21.05 308.9,20.09 309.3,19.10 309.8,18.10 310.3,17.09 310.8,16.05 311.2,15.01 311.7,13.94"/>
</g>
<rect class="ax" x="249.56" y="9.80" width="65.10" height="42.75"/>
<line class="tk" x1="264.36" y1="52.55" x2="264.36" y2="54.15"/>
<text class="xt" x="264.36" y="59.95" text-anchor="middle" textLength="10.69" lengthAdjust="spacingAndGlyphs">1900</text>
<line class="tk" x1="288.03" y1="52.55" x2="288.03" y2="54.15"/>
<text class="xt" x="288.03" y="59.95" text-anchor="middle" textLength="10.69" lengthAdjust="spacingAndGlyphs">2000</text>
<line class="tk" x1="311.70" y1="52.55" x2="311.70" y2="54.15"/>
<text class="xt" x="311.70" y="59.95" text-anchor="middle" textLength="10.69" lengthAdjust="spacingAndGlyphs">2100</text>
<line class="tk" x1="247.96" y1="49.59" x2="249.56" y2="49.59"/>
<text class="yt" x="246.36" y="51.34" text-anchor="end" textLength="2.67" lengthAdjust="spacingAndGlyphs">0</text>
<line class="tk" x1="247.96" y1="38.63" x2="249.56" y2="38.63"/>
<text class="yt" x="246.36" y="40.38" text-anchor="end" textLength="2.67" lengthAdjust="spacingAndGlyphs">2</text>
<line class="tk" x1="247.96" y1="27.67" x2="249.56" y2="27.67"/>
<text class="yt" x="246.36" y="29.42" text-anchor="end" textLength="2.67" lengthAdjust="spacingAndGlyphs">4</text>
<line class="tk" x1="247.96" y1="16.71" x2="249.56" y2="16.71"/>
<text class="yt" x="246.36" y="18.46" text-anchor="end" textLength="2.67" lengthAdjust="spacingAndGlyphs">6</text>
<text class="an" x="312.86" y="47.90" text-anchor="end" textLength="15.60" lengthAdjust="spacingAndGlyphs">r<tspan class="sup" dy="-1.3">2</tspan><tspan dy="1.3">=0.99</tspan></text>
<text class="an" x="312.86" y="51.60" text-anchor="end" textLength="23.43" lengthAdjust="spacingAndGlyphs">RMSE=0.22</text>
<text class="mn" x="17.20" y="14.70" textLength="40.09" lengthAdjust="spacingAndGlyphs">CNRM-CM6-1-HR</text>
<text class="yl" transform="translate(6.10,31.78) rotate(-90)" text-anchor="middle"><tspan font-style="italic">&#916;GMST</tspan> [K]</text>
<clipPath id="c10"><rect x="15.50" y="61.14" width="65.10" height="42.75"/></clipPath>
<g clip-path="url(#c10)">
<polyline class="g" points="18.5,99.81 18.7,99.28 18.9,98.26 19.2,99.67 19.4,98.09 19.6,98.31 19.9,98.78 20.1,98.37 20.4,98.47 20.6,99.30 20.8,99.22 21.1,100.82 21.3,99.68 21.5,99.26 21.8,100.07 22.0,100.31 22.2,100.68 22.5,99.53 22.7,99.76 23.0,98.48 23.2,98.51 23.4,98.27 23.7,99.00 23.9,99.92 24.1,99.24 24.4,99.02 24.6,99.76 24.9,98.81 25.1,99.94 25.3,97.92 25.6,98.27 25.8,98.68 26.0,98.85 26.3,99.28 26.5,99.37 26.7,97.80 27.0,97.54 27.2,98.62 27.5,99.12 27.7,100.50 27.9,100.21 28.2,100.82 28.4,99.15 28.6,98.29 28.9,98.49 29.1,99.09 29.3,98.77 29.6,98.63 29.8,99.58 30.1,98.86 30.3,100.14 30.5,100.16 30.8,100.39 31.0,99.52 31.2,99.69 31.5,99.34 31.7,99.84 32.0,98.96 32.2,99.84 32.4,97.34 32.7,97.96 32.9,99.87 33.1,99.32 33.4,98.80 33.6,100.07 33.8,99.09 34.1,98.45 34.3,98.95 34.6,99.20 34.8,99.27 35.0,98.48 35.3,98.31 35.5,98.25 35.7,99.29 36.0,98.52 36.2,98.55 36.5,98.67 36.7,98.82 36.9,98.97 37.2,98.95 37.4,99.40 37.6,98.15 37.9,98.31 38.1,99.40 38.3,99.38 38.6,99.44 38.8,98.94 39.1,98.82 39.3,99.02 39.5,100.12 39.8,98.94 40.0,99.75 40.2,98.25 40.5,98.08 40.7,98.70 40.9,98.78 41.2,98.14 41.4,98.55 41.7,99.71 41.9,98.43 42.1,97.74 42.4,97.72 42.6,98.49 42.8,99.12 43.1,99.37 43.3,99.58 43.6,99.86 43.8,98.64 44.0,98.90 44.3,100.16 44.5,99.63 44.7,100.95 45.0,100.31 45.2,99.48 45.4,99.20 45.7,98.94 45.9,97.29 46.2,96.36 46.4,96.17 46.6,97.58 46.9,96.56 47.1,97.34 47.3,98.87 47.6,97.47 47.8,98.17 48.0,99.08 48.3,98.67 48.5,97.02 48.8,96.63 49.0,97.23 49.2,95.88 49.5,94.56 49.7,97.50 49.9,96.70 50.2,96.55 50.4,94.58 50.7,94.56 50.9,95.52 51.1,95.39 51.4,94.63 51.6,93.64 51.8,95.89 52.1,95.32 52.3,92.59 52.5,93.22 52.8,91.29 53.0,91.46 53.3,91.49 53.5,90.54 53.7,90.86 54.0,90.26 54.2,90.59 54.4,90.81 54.7,90.32 54.9,89.68 55.2,88.55 55.4,89.08 55.6,87.68 55.9,88.69 56.1,87.56 56.3,88.36 56.6,86.67 56.8,85.61 57.0,85.39 57.3,85.24 57.5,85.51 57.8,84.38 58.0,83.36 58.2,81.73 58.5,81.13 58.7,82.06 58.9,80.47 59.2,82.09 59.4,81.38 59.6,80.81 59.9,80.38 60.1,79.38 60.4,79.91 60.6,79.18 60.8,78.82 61.1,77.78 61.3,76.79 61.5,76.70 61.8,76.52 62.0,78.57 62.3,78.01 62.5,77.74 62.7,77.69 63.0,77.44 63.2,76.45 63.4,77.26 63.7,77.52 63.9,77.84 64.1,76.79 64.4,76.82 64.6,76.31 64.9,77.43 65.1,74.78 65.3,76.07 65.6,75.95 65.8,74.80 66.0,75.16 66.3,75.12 66.5,74.99 66.8,75.56 67.0,75.28 67.2,74.38 67.5,75.76 67.7,74.17 67.9,72.77 68.2,74.63 68.4,73.89 68.6,74.84 68.9,73.95 69.1,73.47 69.4,73.52 69.6,73.16 69.8,72.43 70.1,73.15 70.3,73.30 70.5,72.87 70.8,73.61 71.0,73.84 71.2,72.27 71.5,73.57 71.7,73.48 72.0,74.08 72.2,74.00 72.4,73.21 72.7,73.47 72.9,74.38 73.1,72.89 73.4,73.36 73.6,72.77 73.9,72.14 74.1,71.69 74.3,72.59 74.6,75.30 74.8,73.13 75.0,73.61 75.3,73.07 75.5,72.55 75.7,72.38 76.0,71.65 76.2,71.79 76.5,71.82 76.7,72.28 76.9,72.90 77.2,72.50 77.4,72.18 77.6,72.78"/>
<polyline class="o" points="18.5,98.21 18.9,98.14 19.4,98.07 19.9,97.99 20.4,97.90 20.8,97.81 21.3,97.71 21.8,97.61 22.2,97.50 22.7,97.38 23.2,97.27 23.7,97.14 24.1,97.01 24.6,96.88 25.1,96.74 25.6,96.60 26.0,96.46 26.5,96.31 27.0,96.16 27.5,96.01 27.9,95.85 28.4,95.69 28.9,95.53 29.3,95.36 29.8,95.19 30.3,95.02 30.8,94.85 31.2,94.68 31.7,94.50 32.2,94.31 32.7,94.13 33.1,93.93 33.6,93.73 34.1,93.53 34.6,93.31 35.0,93.09 35.5,92.87 36.0,92.63 36.5,92.39 36.9,92.13 37.4,91.87 37.9,91.60 38.3,91.32 38.8,91.03 39.3,90.72 39.8,90.41 40.2,90.09 40.7,89.75 41.2,89.40 41.7,89.03 42.1,88.66 42.6,88.23 43.1,87.74 43.6,87.19 44.0,86.59 44.5,85.94 45.0,85.26 45.4,84.55 45.9,83.82 46.4,83.09 46.9,82.36 47.3,81.64 47.8,80.93 48.3,80.25 48.8,79.55 49.2,78.84 49.7,78.11 50.2,77.38 50.7,76.64 51.1,75.90 51.6,75.17 52.1,74.44 52.5,73.72 53.0,73.02 53.5,72.34 54.0,71.67 54.4,71.01 54.9,70.31 55.4,69.59 55.9,68.87 56.3,68.16 56.8,67.46 57.3,66.80 57.8,66.18 58.2,65.61 58.7,65.11 59.2,64.69 59.6,64.37 60.1,64.14 60.6,63.92 61.1,63.71 61.5,63.52 62.0,63.34 62.5,63.17 63.0,63.01 63.4,62.88 63.9,62.77 64.4,62.67 64.9,62.60 65.3,62.56 65.8,62.55 66.3,62.55 66.8,62.57 67.2,62.59 67.7,62.63 68.2,62.67 68.6,62.72 69.1,62.78 69.6,62.84 70.1,62.91 70.5,62.99 71.0,63.06 71.5,63.14 72.0,63.23 72.4,63.34 72.9,63.48 73.4,63.65 73.9,63.84 74.3,64.05 74.8,64.27 75.3,64.52 75.7,64.78 76.2,65.06 76.7,65.35 77.2,65.64 77.6,65.94"/>
<polyline class="p" points="18.5,98.21 18.9,98.19 19.4,98.17 19.9,98.16 20.4,98.14 20.8,98.12 21.3,98.11 21.8,98.09 22.2,98.07 22.7,98.06 23.2,98.04 23.7,98.02 24.1,98.00 24.6,97.99 25.1,97.97 25.6,97.95 26.0,97.94 26.5,97.92 27.0,97.90 27.5,97.89 27.9,97.87 28.4,97.85 28.9,97.83 29.3,97.82 29.8,97.80 30.3,97.78 30.8,97.77 31.2,97.75 31.7,97.73 32.2,97.72 32.7,97.70 33.1,97.68 33.6,97.66 34.1,97.64 34.6,97.63 35.0,97.61 35.5,97.59 36.0,97.57 36.5,97.56 36.9,97.54 37.4,97.52 37.9,97.51 38.3,97.49 38.8,97.47 39.3,97.46 39.8,97.44 40.2,97.42 40.7,97.41 41.2,97.39 41.7,97.37 42.1,97.36 42.6,97.34 43.1,97.33 43.6,97.32 44.0,97.30 44.5,97.29 45.0,97.28 45.4,97.26 45.9,97.25 46.4,97.23 46.9,97.21 47.3,97.19 47.8,97.17 48.3,97.09 48.8,96.81 49.2,96.36 49.7,95.82 50.2,95.28 50.7,94.78 51.1,94.28 51.6,93.75 52.1,93.19 52.5,92.62 53.0,92.03 53.5,91.41 54.0,90.78 54.4,90.10 54.9,89.37 55.4,88.60 55.9,87.79 56.3,86.96 56.8,86.13 57.3,85.29 57.8,84.46 58.2,83.66 58.7,82.90 59.2,82.19 59.6,81.53 60.1,80.93 60.6,80.35 61.1,79.77 61.5,79.20 62.0,78.65 62.5,78.12 63.0,77.61 63.4,77.12 63.9,76.67 64.4,76.26 64.9,75.89 65.3,75.56 65.8,75.28 66.3,75.04 66.8,74.80 67.2,74.57 67.7,74.36 68.2,74.15 68.6,73.96 69.1,73.79 69.6,73.63 70.1,73.49 70.5,73.37 71.0,73.27 71.5,73.19 72.0,73.13 72.4,73.08 72.9,73.03 73.4,72.98 73.9,72.93 74.3,72.89 74.8,72.85 75.3,72.82 75.7,72.79 76.2,72.77 76.7,72.75 77.2,72.74 77.6,72.74"/>
</g>
<rect class="ax" x="15.50" y="61.14" width="65.10" height="42.75"/>
<line class="tk" x1="30.30" y1="103.89" x2="30.30" y2="105.49"/>
<text class="xt" x="30.30" y="111.29" text-anchor="middle" textLength="10.69" lengthAdjust="spacingAndGlyphs">1900</text>
<line class="tk" x1="53.97" y1="103.89" x2="53.97" y2="105.49"/>
<text class="xt" x="53.97" y="111.29" text-anchor="middle" textLength="10.69" lengthAdjust="spacingAndGlyphs">2000</text>
<line class="tk" x1="77.64" y1="103.89" x2="77.64" y2="105.49"/>
<text class="xt" x="77.64" y="111.29" text-anchor="middle" textLength="10.69" lengthAdjust="spacingAndGlyphs">2100</text>
<line class="tk" x1="13.90" y1="98.47" x2="15.50" y2="98.47"/>
<text class="yt" x="12.30" y="100.22" text-anchor="end" textLength="2.67" lengthAdjust="spacingAndGlyphs">0</text>
<line class="tk" x1="13.90" y1="86.41" x2="15.50" y2="86.41"/>
<text class="yt" x="12.30" y="88.16" text-anchor="end" textLength="2.67" lengthAdjust="spacingAndGlyphs">1</text>
<line class="tk" x1="13.90" y1="74.35" x2="15.50" y2="74.35"/>
<text class="yt" x="12.30" y="76.10" text-anchor="end" textLength="2.67" lengthAdjust="spacingAndGlyphs">2</text>
<line class="tk" x1="13.90" y1="62.30" x2="15.50" y2="62.30"/>
<text class="yt" x="12.30" y="64.05" text-anchor="end" textLength="2.67" lengthAdjust="spacingAndGlyphs">3</text>
<text class="an" x="78.80" y="99.24" text-anchor="end" textLength="15.60" lengthAdjust="spacingAndGlyphs">r<tspan class="sup" dy="-1.3">2</tspan><tspan dy="1.3">=0.97</tspan></text>
<text class="an" x="78.80" y="102.94" text-anchor="end" textLength="23.43" lengthAdjust="spacingAndGlyphs">RMSE=0.18</text>
<clipPath id="c11"><rect x="93.52" y="61.14" width="65.10" height="42.75"/></clipPath>
<g clip-path="url(#c11)">
<polyline class="g" points="96.5,100.02 96.7,99.50 97.0,98.49 97.2,99.90 97.4,98.32 97.7,98.55 97.9,99.02 98.1,98.61 98.4,98.72 98.6,99.55 98.8,99.48 99.1,101.08 99.3,99.94 99.6,99.53 99.8,100.34 100.0,100.59 100.3,100.96 100.5,99.82 100.7,100.05 101.0,98.77 101.2,98.81 101.5,98.57 101.7,99.30 101.9,100.23 102.2,99.55 102.4,99.34 102.6,100.08 102.9,99.14 103.1,100.27 103.3,98.26 103.6,98.61 103.8,99.03 104.1,99.20 104.3,99.63 104.5,99.72 104.8,98.16 105.0,97.90 105.2,98.99 105.5,99.50 105.7,100.87 105.9,100.59 106.2,101.21 106.4,99.54 106.7,98.68 106.9,98.89 107.1,99.50 107.4,99.18 107.6,99.04 107.8,99.99 108.1,99.28 108.3,100.57 108.6,100.59 108.8,100.82 109.0,99.96 109.3,100.13 109.5,99.78 109.7,100.28 110.0,99.40 110.2,100.28 110.4,97.78 110.7,98.40 110.9,100.30 111.2,99.76 111.4,99.23 111.6,100.49 111.9,99.52 112.1,98.87 112.3,99.37 112.6,99.61 112.8,99.68 113.0,98.89 113.3,98.71 113.5,98.64 113.8,99.67 114.0,98.91 114.2,98.92 114.5,99.04 114.7,99.18 114.9,99.33 115.2,99.30 115.4,99.75 115.7,98.48 115.9,98.63 116.1,99.72 116.4,99.70 116.6,99.75 116.8,99.24 117.1,99.11 117.3,99.31 117.5,100.40 117.8,99.21 118.0,100.01 118.3,98.51 118.5,98.33 118.7,98.95 119.0,99.02 119.2,98.37 119.4,98.77 119.7,99.93 119.9,98.65 120.2,97.95 120.4,97.93 120.6,98.70 120.9,99.33 121.1,99.59 121.3,99.81 121.6,100.10 121.8,98.89 122.0,99.16 122.3,100.44 122.5,99.93 122.8,101.27 123.0,100.64 123.2,99.82 123.5,99.56 123.7,99.30 123.9,97.65 124.2,96.73 124.4,96.55 124.6,97.96 124.9,96.95 125.1,97.73 125.4,99.26 125.6,97.88 125.8,98.58 126.1,99.50 126.3,99.12 126.5,97.53 126.8,97.22 127.0,97.93 127.3,96.68 127.5,95.48 127.7,98.54 128.0,97.85 128.2,97.82 128.4,95.94 128.7,96.00 128.9,97.03 129.1,96.96 129.4,96.25 129.6,95.32 129.9,97.62 130.1,97.09 130.3,94.40 130.6,95.07 130.8,93.18 131.0,93.39 131.3,93.47 131.5,92.55 131.8,92.93 132.0,92.38 132.2,92.78 132.5,93.06 132.7,92.66 132.9,92.10 133.2,91.06 133.4,91.69 133.6,90.39 133.9,91.50 134.1,90.47 134.4,91.37 134.6,89.78 134.8,88.82 135.1,88.70 135.3,88.64 135.5,87.71 135.8,85.99 136.0,85.12 136.2,85.89 136.5,84.66 136.7,84.18 137.0,84.52 137.2,84.52 137.4,84.05 137.7,84.19 137.9,82.35 138.1,84.04 138.4,83.26 138.6,84.02 138.9,83.15 139.1,81.60 139.3,82.55 139.6,83.21 139.8,82.24 140.0,81.90 140.3,82.20 140.5,82.00 140.7,81.09 141.0,80.23 141.2,81.56 141.5,79.64 141.7,79.31 141.9,79.39 142.2,78.19 142.4,79.44 142.6,80.16 142.9,78.25 143.1,78.08 143.4,78.05 143.6,78.64 143.8,78.65 144.1,79.51 144.3,77.66 144.5,76.61 144.8,75.68 145.0,75.77 145.2,74.75 145.5,75.59 145.7,75.49 146.0,76.23 146.2,74.29 146.4,74.02 146.7,74.85 146.9,73.93 147.1,74.86 147.4,74.07 147.6,73.99 147.8,72.64 148.1,73.56 148.3,73.63 148.6,73.11 148.8,73.00 149.0,73.05 149.3,72.55 149.5,72.00 149.7,72.63 150.0,71.81 150.2,73.11 150.5,71.41 150.7,71.35 150.9,70.81 151.2,70.90 151.4,71.27 151.6,70.76 151.9,69.86 152.1,70.53 152.3,71.37 152.6,71.49 152.8,73.01 153.1,72.32 153.3,69.90 153.5,69.61 153.8,70.37 154.0,70.43 154.2,69.99 154.5,70.31 154.7,70.99 155.0,69.89 155.2,70.37 155.4,68.65 155.7,70.13"/>
<polyline class="o" points="96.5,98.63 97.0,98.58 97.4,98.52 97.9,98.45 98.4,98.39 98.8,98.32 99.3,98.25 99.8,98.18 100.3,98.10 100.7,98.02 101.2,97.94 101.7,97.86 102.2,97.78 102.6,97.69 103.1,97.60 103.6,97.51 104.1,97.42 104.5,97.32 105.0,97.23 105.5,97.13 105.9,97.03 106.4,96.93 106.9,96.83 107.4,96.72 107.8,96.62 108.3,96.51 108.8,96.40 109.3,96.30 109.7,96.19 110.2,96.08 110.7,95.98 111.2,95.87 111.6,95.75 112.1,95.64 112.6,95.52 113.0,95.40 113.5,95.28 114.0,95.15 114.5,95.02 114.9,94.88 115.4,94.74 115.9,94.59 116.4,94.43 116.8,94.27 117.3,94.10 117.8,93.92 118.3,93.74 118.7,93.54 119.2,93.34 119.7,93.12 120.2,92.90 120.6,92.65 121.1,92.35 121.6,92.01 122.0,91.63 122.5,91.22 123.0,90.78 123.5,90.32 123.9,89.84 124.4,89.35 124.9,88.85 125.4,88.35 125.8,87.84 126.3,87.34 126.8,86.82 127.3,86.28 127.7,85.72 128.2,85.14 128.7,84.55 129.1,83.94 129.6,83.33 130.1,82.70 130.6,82.07 131.0,81.44 131.5,80.80 132.0,80.17 132.5,79.51 132.9,78.82 133.4,78.11 133.9,77.37 134.4,76.63 134.8,75.89 135.3,75.16 135.8,74.44 136.2,73.75 136.7,73.10 137.2,72.49 137.7,71.93 138.1,71.43 138.6,70.95 139.1,70.49 139.6,70.05 140.0,69.62 140.5,69.22 141.0,68.82 141.5,68.45 141.9,68.09 142.4,67.74 142.9,67.41 143.4,67.10 143.8,66.79 144.3,66.49 144.8,66.19 145.2,65.90 145.7,65.60 146.2,65.32 146.7,65.04 147.1,64.78 147.6,64.55 148.1,64.33 148.6,64.15 149.0,63.99 149.5,63.87 150.0,63.78 150.5,63.70 150.9,63.62 151.4,63.55 151.9,63.48 152.3,63.41 152.8,63.36 153.3,63.31 153.8,63.26 154.2,63.23 154.7,63.21 155.2,63.19 155.7,63.18"/>
<polyline class="p" points="96.5,98.63 97.0,98.63 97.4,98.63 97.9,98.63 98.4,98.63 98.8,98.63 99.3,98.63 99.8,98.63 100.3,98.63 100.7,98.63 101.2,98.63 101.7,98.63 102.2,98.63 102.6,98.63 103.1,98.63 103.6,98.63 104.1,98.63 104.5,98.63 105.0,98.63 105.5,98.63 105.9,98.63 106.4,98.63 106.9,98.63 107.4,98.63 107.8,98.63 108.3,98.63 108.8,98.63 109.3,98.63 109.7,98.62 110.2,98.62 110.7,98.61 111.2,98.60 111.6,98.58 112.1,98.57 112.6,98.55 113.0,98.54 113.5,98.52 114.0,98.50 114.5,98.48 114.9,98.46 115.4,98.44 115.9,98.42 116.4,98.39 116.8,98.37 117.3,98.35 117.8,98.32 118.3,98.30 118.7,98.28 119.2,98.25 119.7,98.23 120.2,98.21 120.6,98.19 121.1,98.16 121.6,98.13 122.0,98.11 122.5,98.08 123.0,98.05 123.5,98.01 123.9,97.98 124.4,97.95 124.9,97.91 125.4,97.87 125.8,97.82 126.3,97.73 126.8,97.56 127.3,97.31 127.7,97.00 128.2,96.67 128.7,96.34 129.1,95.95 129.6,95.52 130.1,95.05 130.6,94.54 131.0,94.00 131.5,93.46 132.0,92.90 132.5,92.32 132.9,91.69 133.4,91.03 133.9,90.33 134.4,89.61 134.8,88.88 135.3,88.15 135.8,87.42 136.2,86.70 136.7,86.00 137.2,85.34 137.7,84.71 138.1,84.12 138.6,83.55 139.1,82.99 139.6,82.45 140.0,81.91 140.5,81.39 141.0,80.88 141.5,80.38 141.9,79.89 142.4,79.41 142.9,78.95 143.4,78.49 143.8,78.04 144.3,77.60 144.8,77.16 145.2,76.71 145.7,76.28 146.2,75.85 146.7,75.43 147.1,75.03 147.6,74.64 148.1,74.27 148.6,73.92 149.0,73.60 149.5,73.30 150.0,73.03 150.5,72.77 150.9,72.51 151.4,72.27 151.9,72.03 152.3,71.80 152.8,71.59 153.3,71.39 153.8,71.20 154.2,71.03 154.7,70.87 155.2,70.73 155.7,70.61"/>
</g>
<rect class="ax" x="93.52" y="61.14" width="65.10" height="42.75"/>
<line class="tk" x1="108.32" y1="103.89" x2="108.32" y2="105.49"/>
<text class="xt" x="108.32" y="111.29" text-anchor="middle" textLength="10.69" lengthAdjust="spacingAndGlyphs">1900</text>
<line class="tk" x1="131.99" y1="103.89" x2="131.99" y2="105.49"/>
<text class="xt" x="131.99" y="111.29" text-anchor="middle" textLength="10.69" lengthAdjust="spacingAndGlyphs">2000</text>
<line class="tk" x1="155.66" y1="103.89" x2="155.66" y2="105.49"/>
<text class="xt" x="155.66" y="111.29" text-anchor="middle" textLength="10.69" lengthAdjust="spacingAndGlyphs">2100</text>
<line class="tk" x1="91.92" y1="99.16" x2="93.52" y2="99.16"/>
<text class="yt" x="90.32" y="100.91" text-anchor="end" textLength="2.67" lengthAdjust="spacingAndGlyphs">0</text>
<line class="tk" x1="91.92" y1="81.49" x2="93.52" y2="81.49"/>
<text class="yt" x="90.32" y="83.24" text-anchor="end" textLength="2.67" lengthAdjust="spacingAndGlyphs">2</text>
<line class="tk" x1="91.92" y1="63.82" x2="93.52" y2="63.82"/>
<text class="yt" x="90.32" y="65.57" text-anchor="end" textLength="2.67" lengthAdjust="spacingAndGlyphs">4</text>
<text class="an" x="156.82" y="99.24" text-anchor="end" textLength="15.60" lengthAdjust="spacingAndGlyphs">r<tspan class="sup" dy="-1.3">2</tspan><tspan dy="1.3">=0.98</tspan></text>
<text class="an" x="156.82" y="102.94" text-anchor="end" textLength="23.43" lengthAdjust="spacingAndGlyphs">RMSE=0.17</text>
<clipPath id="c12"><rect x="171.54" y="61.14" width="65.10" height="42.75"/></clipPath>
<g clip-path="url(#c12)">
<polyline class="g" points="174.5,100.57 174.7,100.11 175.0,99.22 175.2,100.45 175.4,99.08 175.7,99.27 175.9,99.68 176.2,99.33 176.4,99.43 176.6,100.15 176.9,100.09 177.1,101.49 177.3,100.49 177.6,100.13 177.8,100.84 178.0,101.06 178.3,101.39 178.5,100.39 178.8,100.59 179.0,99.47 179.2,99.50 179.5,99.30 179.7,99.93 179.9,100.74 180.2,100.15 180.4,99.97 180.7,100.62 180.9,99.79 181.1,100.78 181.4,99.02 181.6,99.33 181.8,99.70 182.1,99.87 182.3,100.33 182.5,100.47 182.8,99.04 183.0,98.73 183.3,99.66 183.5,100.11 183.7,101.31 184.0,101.06 184.2,101.60 184.4,100.14 184.7,99.39 184.9,99.58 185.2,100.11 185.4,99.83 185.6,99.71 185.9,100.54 186.1,99.91 186.3,101.04 186.6,101.08 186.8,101.33 187.0,100.61 187.3,100.72 187.5,100.36 187.8,100.79 188.0,100.02 188.2,100.79 188.5,98.60 188.7,99.14 188.9,100.80 189.2,100.32 189.4,99.86 189.6,100.97 189.9,100.11 190.1,99.54 190.4,99.98 190.6,100.19 190.8,100.25 191.1,99.55 191.3,99.39 191.5,99.34 191.8,100.23 192.0,99.56 192.3,99.58 192.5,99.68 192.7,99.80 193.0,99.92 193.2,99.90 193.4,100.29 193.7,99.18 193.9,99.31 194.1,100.26 194.4,100.24 194.6,100.28 194.9,99.84 195.1,99.72 195.3,99.89 195.6,100.85 195.8,99.80 196.0,100.51 196.3,99.19 196.5,99.03 196.8,99.57 197.0,99.63 197.2,99.07 197.5,99.42 197.7,100.44 197.9,99.31 198.2,98.70 198.4,98.68 198.6,99.36 198.9,99.91 199.1,100.14 199.4,100.34 199.6,100.60 199.8,99.54 200.1,99.79 200.3,100.91 200.5,100.47 200.8,101.64 201.0,101.12 201.2,100.49 201.5,100.33 201.7,100.05 202.0,98.53 202.2,97.71 202.4,97.55 202.7,98.80 202.9,97.91 203.1,98.60 203.4,99.95 203.6,98.75 203.9,99.38 204.1,100.19 204.3,99.87 204.6,98.51 204.8,98.26 205.0,98.91 205.3,97.86 205.5,96.87 205.7,99.64 206.0,99.13 206.2,99.11 206.5,97.46 206.7,97.54 206.9,98.50 207.2,98.48 207.4,97.92 207.6,97.17 207.9,99.32 208.1,98.98 208.4,96.62 208.6,97.19 208.8,95.57 209.1,95.82 209.3,95.95 209.5,95.22 209.8,95.61 210.0,95.21 210.2,95.62 210.5,95.96 210.7,95.69 211.0,95.29 211.2,94.48 211.4,95.13 211.7,94.09 211.9,95.17 212.1,94.38 212.4,95.28 212.6,94.00 212.8,93.27 213.1,93.27 213.3,93.33 213.6,93.01 213.8,93.12 214.0,93.54 214.3,92.17 214.5,91.77 214.7,90.28 215.0,90.98 215.2,91.35 215.5,91.57 215.7,91.00 215.9,89.91 216.2,90.74 216.4,89.52 216.6,89.55 216.9,89.40 217.1,89.61 217.3,88.58 217.6,89.11 217.8,88.05 218.1,87.84 218.3,87.32 218.5,85.32 218.8,86.49 219.0,85.67 219.2,85.04 219.5,85.28 219.7,86.47 220.0,85.84 220.2,86.65 220.4,86.10 220.7,84.97 220.9,84.58 221.1,84.65 221.4,85.63 221.6,84.09 221.8,85.11 222.1,84.45 222.3,84.30 222.6,83.21 222.8,83.85 223.0,84.50 223.3,83.87 223.5,82.40 223.7,81.80 224.0,82.17 224.2,82.23 224.4,81.69 224.7,80.13 224.9,79.73 225.2,80.37 225.4,81.34 225.6,80.15 225.9,82.01 226.1,81.19 226.3,78.85 226.6,78.87 226.8,78.23 227.1,77.15 227.3,77.53 227.5,78.17 227.8,77.57 228.0,77.42 228.2,77.16 228.5,75.58 228.7,76.74 228.9,76.10 229.2,76.00 229.4,76.71 229.7,75.65 229.9,75.92 230.1,75.87 230.4,75.94 230.6,76.10 230.8,75.24 231.1,73.58 231.3,74.71 231.6,74.60 231.8,74.47 232.0,74.43 232.3,73.67 232.5,71.98 232.7,72.30 233.0,72.33 233.2,72.81 233.4,71.56 233.7,71.14"/>
<polyline class="o" points="174.5,99.27 175.0,99.26 175.4,99.24 175.9,99.22 176.4,99.19 176.9,99.17 177.3,99.14 177.8,99.11 178.3,99.07 178.8,99.03 179.2,98.99 179.7,98.95 180.2,98.91 180.7,98.86 181.1,98.82 181.6,98.77 182.1,98.72 182.5,98.66 183.0,98.61 183.5,98.56 184.0,98.50 184.4,98.44 184.9,98.39 185.4,98.33 185.9,98.27 186.3,98.21 186.8,98.15 187.3,98.08 187.8,98.02 188.2,97.95 188.7,97.88 189.2,97.80 189.6,97.72 190.1,97.64 190.6,97.56 191.1,97.47 191.5,97.38 192.0,97.28 192.5,97.19 193.0,97.08 193.4,96.98 193.9,96.87 194.4,96.75 194.9,96.63 195.3,96.51 195.8,96.38 196.3,96.24 196.8,96.11 197.2,95.96 197.7,95.81 198.2,95.66 198.6,95.49 199.1,95.30 199.6,95.08 200.1,94.84 200.5,94.58 201.0,94.30 201.5,94.01 202.0,93.71 202.4,93.40 202.9,93.08 203.4,92.75 203.9,92.43 204.3,92.10 204.8,91.75 205.3,91.39 205.7,91.01 206.2,90.61 206.7,90.21 207.2,89.79 207.6,89.36 208.1,88.93 208.6,88.49 209.1,88.05 209.5,87.61 210.0,87.17 210.5,86.73 211.0,86.27 211.4,85.81 211.9,85.34 212.4,84.86 212.8,84.38 213.3,83.89 213.8,83.40 214.3,82.92 214.7,82.43 215.2,81.95 215.7,81.47 216.2,80.99 216.6,80.51 217.1,80.03 217.6,79.56 218.1,79.08 218.5,78.60 219.0,78.12 219.5,77.65 220.0,77.17 220.4,76.69 220.9,76.22 221.4,75.75 221.8,75.28 222.3,74.82 222.8,74.36 223.3,73.91 223.7,73.45 224.2,73.00 224.7,72.55 225.2,72.10 225.6,71.65 226.1,71.19 226.6,70.73 227.1,70.27 227.5,69.79 228.0,69.31 228.5,68.82 228.9,68.33 229.4,67.84 229.9,67.34 230.4,66.83 230.8,66.32 231.3,65.81 231.8,65.29 232.3,64.77 232.7,64.25 233.2,63.72 233.7,63.18"/>
<polyline class="p" points="174.5,99.27 175.0,99.27 175.4,99.27 175.9,99.27 176.4,99.27 176.9,99.27 177.3,99.27 177.8,99.27 178.3,99.27 178.8,99.27 179.2,99.27 179.7,99.27 180.2,99.27 180.7,99.27 181.1,99.27 181.6,99.27 182.1,99.27 182.5,99.27 183.0,99.27 183.5,99.27 184.0,99.27 184.4,99.27 184.9,99.27 185.4,99.27 185.9,99.27 186.3,99.27 186.8,99.27 187.3,99.27 187.8,99.26 188.2,99.26 188.7,99.26 189.2,99.25 189.6,99.24 190.1,99.24 190.6,99.23 191.1,99.22 191.5,99.21 192.0,99.20 192.5,99.19 193.0,99.18 193.4,99.17 193.9,99.16 194.4,99.15 194.9,99.14 195.3,99.13 195.8,99.12 196.3,99.10 196.8,99.09 197.2,99.08 197.7,99.07 198.2,99.06 198.6,99.05 199.1,99.03 199.6,99.02 200.1,99.01 200.5,98.99 201.0,98.98 201.5,98.96 202.0,98.94 202.4,98.93 202.9,98.91 203.4,98.89 203.9,98.86 204.3,98.82 204.8,98.73 205.3,98.61 205.7,98.46 206.2,98.29 206.7,98.12 207.2,97.90 207.6,97.65 208.1,97.37 208.6,97.07 209.1,96.75 209.5,96.42 210.0,96.09 210.5,95.74 211.0,95.37 211.4,94.98 211.9,94.57 212.4,94.15 212.8,93.71 213.3,93.26 213.8,92.81 214.3,92.36 214.7,91.90 215.2,91.45 215.7,91.00 216.2,90.56 216.6,90.12 217.1,89.67 217.6,89.22 218.1,88.77 218.5,88.32 219.0,87.86 219.5,87.40 220.0,86.94 220.4,86.47 220.9,86.00 221.4,85.53 221.8,85.05 222.3,84.56 222.8,84.07 223.3,83.57 223.7,83.07 224.2,82.56 224.7,82.05 225.2,81.53 225.6,81.02 226.1,80.50 226.6,79.98 227.1,79.46 227.5,78.94 228.0,78.42 228.5,77.90 228.9,77.38 229.4,76.86 229.9,76.34 230.4,75.81 230.8,75.28 231.3,74.76 231.8,74.23 232.3,73.70 232.7,73.17 233.2,72.63 233.7,72.10"/>
</g>
<rect class="ax" x="171.54" y="61.14" width="65.10" height="42.75"/>
<line class="tk" x1="186.34" y1="103.89" x2="186.34" y2="105.49"/>
<text class="xt" x="186.34" y="111.29" text-anchor="middle" textLength="10.69" lengthAdjust="spacingAndGlyphs">1900</text>
<line class="tk" x1="210.01" y1="103.89" x2="210.01" y2="105.49"/>
<text class="xt" x="210.01" y="111.29" text-anchor="middle" textLength="10.69" lengthAdjust="spacingAndGlyphs">2000</text>
<line class="tk" x1="233.68" y1="103.89" x2="233.68" y2="105.49"/>
<text class="xt" x="233.68" y="111.29" text-anchor="middle" textLength="10.69" lengthAdjust="spacingAndGlyphs">2100</text>
<line class="tk" x1="169.94" y1="99.64" x2="171.54" y2="99.64"/>
<text class="yt" x="168.34" y="101.39" text-anchor="end" textLength="2.67" lengthAdjust="spacingAndGlyphs">0</text>
<line class="tk" x1="169.94" y1="87.51" x2="171.54" y2="87.51"/>
<text class="yt" x="168.34" y="89.26" text-anchor="end" textLength="2.67" lengthAdjust="spacingAndGlyphs">2</text>
<line class="tk" x1="169.94" y1="75.39" x2="171.54" y2="75.39"/>
<text class="yt" x="168.34" y="77.14" text-anchor="end" textLength="2.67" lengthAdjust="spacingAndGlyphs">4</text>
<line class="tk" x1="169.94" y1="63.27" x2="171.54" y2="63.27"/>
<text class="yt" x="168.34" y="65.02" text-anchor="end" textLength="2.67" lengthAdjust="spacingAndGlyphs">6</text>
<text class="an" x="234.84" y="99.24" text-anchor="end" textLength="15.60" lengthAdjust="spacingAndGlyphs">r<tspan class="sup" dy="-1.3">2</tspan><tspan dy="1.3">=0.99</tspan></text>
<text class="an" x="234.84" y="102.94" text-anchor="end" textLength="23.43" lengthAdjust="spacingAndGlyphs">RMSE=0.18</text>
<clipPath id="c13"><rect x="249.56" y="61.14" width="65.10" height="42.75"/></clipPath>
<g clip-path="url(#c13)">
<polyline class="g" points="252.5,100.78 252.8,100.32 253.0,99.43 253.2,100.67 253.5,99.29 253.7,99.49 253.9,99.90 254.2,99.54 254.4,99.64 254.6,100.36 254.9,100.30 255.1,101.70 255.4,100.71 255.6,100.35 255.8,101.05 256.1,101.27 256.3,101.60 256.5,100.60 256.8,100.80 257.0,99.68 257.3,99.71 257.5,99.51 257.7,100.15 258.0,100.96 258.2,100.37 258.4,100.18 258.7,100.83 258.9,100.00 259.1,100.99 259.4,99.23 259.6,99.55 259.9,99.91 260.1,100.08 260.3,100.54 260.6,100.69 260.8,99.25 261.0,98.95 261.3,99.87 261.5,100.32 261.8,101.52 262.0,101.28 262.2,101.82 262.5,100.36 262.7,99.61 262.9,99.79 263.2,100.32 263.4,100.04 263.6,99.92 263.9,100.75 264.1,100.12 264.4,101.25 264.6,101.29 264.8,101.54 265.1,100.83 265.3,100.93 265.5,100.58 265.8,101.01 266.0,100.24 266.2,101.01 266.5,98.82 266.7,99.37 267.0,101.03 267.2,100.56 267.4,100.10 267.7,101.21 267.9,100.35 268.1,99.79 268.4,100.23 268.6,100.45 268.9,100.51 269.1,99.82 269.3,99.67 269.6,99.61 269.8,100.52 270.0,99.85 270.3,99.87 270.5,99.98 270.7,100.10 271.0,100.23 271.2,100.21 271.5,100.61 271.7,99.51 271.9,99.64 272.2,100.60 272.4,100.58 272.6,100.63 272.9,100.19 273.1,100.08 273.4,100.26 273.6,101.22 273.8,100.18 274.1,100.89 274.3,99.58 274.5,99.42 274.8,99.97 275.0,100.04 275.2,99.47 275.5,99.83 275.7,100.85 276.0,99.73 276.2,99.12 276.4,99.11 276.7,99.79 276.9,100.34 277.1,100.57 277.4,100.77 277.6,101.03 277.8,99.97 278.1,100.22 278.3,101.34 278.6,100.90 278.8,102.07 279.0,101.55 279.3,100.92 279.5,100.76 279.7,100.47 280.0,98.96 280.2,98.13 280.5,97.98 280.7,99.22 280.9,98.34 281.2,99.03 281.4,100.38 281.6,99.17 281.9,99.80 282.1,100.62 282.3,100.30 282.6,98.93 282.8,98.69 283.1,99.35 283.3,98.31 283.5,97.32 283.8,100.11 284.0,99.61 284.2,99.60 284.5,97.97 284.7,98.08 285.0,99.06 285.2,99.08 285.4,98.57 285.7,97.87 285.9,100.07 286.1,99.79 286.4,97.49 286.6,98.12 286.8,96.57 287.1,96.88 287.3,97.06 287.6,96.39 287.8,96.84 288.0,96.48 288.3,96.95 288.5,97.33 288.7,97.11 289.0,96.75 289.2,95.99 289.4,96.68 289.7,95.69 289.9,96.81 290.2,96.06 290.4,97.00 290.6,95.76 290.9,95.07 291.1,95.11 291.3,95.20 291.6,95.34 291.8,94.53 292.1,94.37 292.3,93.39 292.5,94.50 292.8,93.09 293.0,92.98 293.2,93.33 293.5,92.70 293.7,92.00 293.9,91.73 294.2,91.72 294.4,92.40 294.7,92.13 294.9,92.48 295.1,91.21 295.4,91.08 295.6,90.71 295.8,89.83 296.1,90.34 296.3,91.09 296.6,89.92 296.8,89.15 297.0,87.94 297.3,88.14 297.5,88.17 297.7,89.83 298.0,89.73 298.2,88.75 298.4,86.91 298.7,88.23 298.9,86.47 299.2,85.75 299.4,85.72 299.6,86.10 299.9,85.86 300.1,85.75 300.3,85.10 300.6,85.07 300.8,83.93 301.0,83.52 301.3,84.97 301.5,84.15 301.8,82.01 302.0,83.04 302.2,82.52 302.5,82.57 302.7,83.06 302.9,82.38 303.2,81.43 303.4,80.77 303.7,79.07 303.9,80.40 304.1,80.08 304.4,79.21 304.6,80.49 304.8,81.45 305.1,80.76 305.3,79.41 305.5,79.43 305.8,79.25 306.0,78.88 306.3,76.81 306.5,76.56 306.7,76.05 307.0,75.39 307.2,74.85 307.4,75.19 307.7,74.24 307.9,74.38 308.1,73.39 308.4,74.18 308.6,74.60 308.9,74.45 309.1,73.77 309.3,72.87 309.6,73.07 309.8,70.74 310.0,70.15 310.3,70.09 310.5,68.98 310.8,68.12 311.0,68.07 311.2,68.11 311.5,68.86 311.7,69.18"/>
<polyline class="o" points="252.5,99.69 253.0,99.69 253.5,99.68 253.9,99.67 254.4,99.65 254.9,99.63 255.4,99.61 255.8,99.59 256.3,99.56 256.8,99.53 257.3,99.50 257.7,99.47 258.2,99.43 258.7,99.39 259.1,99.35 259.6,99.31 260.1,99.27 260.6,99.23 261.0,99.18 261.5,99.14 262.0,99.09 262.5,99.04 262.9,98.99 263.4,98.94 263.9,98.89 264.4,98.85 264.8,98.79 265.3,98.74 265.8,98.68 266.2,98.62 266.7,98.55 267.2,98.48 267.7,98.41 268.1,98.33 268.6,98.25 269.1,98.16 269.6,98.08 270.0,97.99 270.5,97.89 271.0,97.79 271.5,97.69 271.9,97.59 272.4,97.48 272.9,97.37 273.4,97.26 273.8,97.14 274.3,97.02 274.8,96.90 275.2,96.77 275.7,96.64 276.2,96.51 276.7,96.37 277.1,96.22 277.6,96.05 278.1,95.87 278.6,95.68 279.0,95.48 279.5,95.27 280.0,95.05 280.5,94.82 280.9,94.58 281.4,94.34 281.9,94.09 282.3,93.83 282.8,93.55 283.3,93.26 283.8,92.94 284.2,92.61 284.7,92.26 285.2,91.91 285.7,91.55 286.1,91.18 286.6,90.81 287.1,90.44 287.6,90.08 288.0,89.72 288.5,89.36 289.0,89.00 289.4,88.64 289.9,88.28 290.4,87.92 290.9,87.55 291.3,87.18 291.8,86.80 292.3,86.42 292.8,86.04 293.2,85.65 293.7,85.25 294.2,84.84 294.7,84.44 295.1,84.02 295.6,83.60 296.1,83.18 296.6,82.74 297.0,82.31 297.5,81.86 298.0,81.41 298.4,80.95 298.9,80.49 299.4,80.01 299.9,79.53 300.3,79.04 300.8,78.55 301.3,78.05 301.8,77.54 302.2,77.02 302.7,76.50 303.2,75.96 303.7,75.41 304.1,74.84 304.6,74.26 305.1,73.67 305.5,73.05 306.0,72.42 306.5,71.76 307.0,71.08 307.4,70.37 307.9,69.65 308.4,68.91 308.9,68.14 309.3,67.36 309.8,66.56 310.3,65.74 310.8,64.90 311.2,64.05 311.7,63.18"/>
<polyline class="p" points="252.5,99.69 253.0,99.69 253.5,99.69 253.9,99.69 254.4,99.69 254.9,99.69 255.4,99.69 255.8,99.69 256.3,99.69 256.8,99.69 257.3,99.69 257.7,99.69 258.2,99.69 258.7,99.69 259.1,99.69 259.6,99.69 260.1,99.69 260.6,99.69 261.0,99.69 261.5,99.69 262.0,99.69 262.5,99.69 262.9,99.69 263.4,99.69 263.9,99.69 264.4,99.69 264.8,99.69 265.3,99.69 265.8,99.69 266.2,99.69 266.7,99.68 267.2,99.68 267.7,99.67 268.1,99.66 268.6,99.65 269.1,99.65 269.6,99.64 270.0,99.63 270.5,99.62 271.0,99.61 271.5,99.60 271.9,99.59 272.4,99.57 272.9,99.56 273.4,99.55 273.8,99.54 274.3,99.53 274.8,99.52 275.2,99.50 275.7,99.49 276.2,99.48 276.7,99.47 277.1,99.46 277.6,99.45 278.1,99.43 278.6,99.42 279.0,99.40 279.5,99.38 280.0,99.37 280.5,99.35 280.9,99.33 281.4,99.31 281.9,99.29 282.3,99.24 282.8,99.15 283.3,99.02 283.8,98.87 284.2,98.71 284.7,98.56 285.2,98.39 285.7,98.21 286.1,98.03 286.6,97.82 287.1,97.61 287.6,97.39 288.0,97.15 288.5,96.89 289.0,96.62 289.4,96.33 289.9,96.02 290.4,95.70 290.9,95.36 291.3,95.02 291.8,94.65 292.3,94.28 292.8,93.90 293.2,93.51 293.7,93.10 294.2,92.69 294.7,92.26 295.1,91.81 295.6,91.34 296.1,90.85 296.6,90.35 297.0,89.83 297.5,89.30 298.0,88.76 298.4,88.21 298.9,87.66 299.4,87.10 299.9,86.53 300.3,85.97 300.8,85.39 301.3,84.81 301.8,84.21 302.2,83.61 302.7,82.99 303.2,82.36 303.7,81.73 304.1,81.07 304.6,80.41 305.1,79.73 305.5,79.03 306.0,78.32 306.5,77.59 307.0,76.85 307.4,76.08 307.9,75.30 308.4,74.51 308.9,73.69 309.3,72.86 309.8,72.02 310.3,71.16 310.8,70.28 311.2,69.39 311.7,68.49"/>
</g>
<rect class="ax" x="249.56" y="61.14" width="65.10" height="42.75"/>
<line class="tk" x1="264.36" y1="103.89" x2="264.36" y2="105.49"/>
<text class="xt" x="264.36" y="111.29" text-anchor="middle" textLength="10.69" lengthAdjust="spacingAndGlyphs">1900</text>
<line class="tk" x1="288.03" y1="103.89" x2="288.03" y2="105.49"/>
<text class="xt" x="288.03" y="111.29" text-anchor="middle" textLength="10.69" lengthAdjust="spacingAndGlyphs">2000</text>
<line class="tk" x1="311.70" y1="103.89" x2="311.70" y2="105.49"/>
<text class="xt" x="311.70" y="111.29" text-anchor="middle" textLength="10.69" lengthAdjust="spacingAndGlyphs">2100</text>
<line class="tk" x1="247.96" y1="99.95" x2="249.56" y2="99.95"/>
<text class="yt" x="246.36" y="101.70" text-anchor="end" textLength="2.67" lengthAdjust="spacingAndGlyphs">0</text>
<line class="tk" x1="247.96" y1="89.14" x2="249.56" y2="89.14"/>
<text class="yt" x="246.36" y="90.89" text-anchor="end" textLength="2.67" lengthAdjust="spacingAndGlyphs">2</text>
<line class="tk" x1="247.96" y1="78.33" x2="249.56" y2="78.33"/>
<text class="yt" x="246.36" y="80.08" text-anchor="end" textLength="2.67" lengthAdjust="spacingAndGlyphs">4</text>
<line class="tk" x1="247.96" y1="67.52" x2="249.56" y2="67.52"/>
<text class="yt" x="246.36" y="69.27" text-anchor="end" textLength="2.67" lengthAdjust="spacingAndGlyphs">6</text>
<text class="an" x="312.86" y="99.24" text-anchor="end" textLength="15.60" lengthAdjust="spacingAndGlyphs">r<tspan class="sup" dy="-1.3">2</tspan><tspan dy="1.3">=0.99</tspan></text>
<text class="an" x="312.86" y="102.94" text-anchor="end" textLength="23.43" lengthAdjust="spacingAndGlyphs">RMSE=0.22</text>
<text class="mn" x="17.20" y="66.04" textLength="34.26" lengthAdjust="spacingAndGlyphs">CNRM-ESM2-1</text>
<text class="yl" transform="translate(6.10,83.11) rotate(-90)" text-anchor="middle"><tspan font-style="italic">&#916;GMST</tspan> [K]</text>
<clipPath id="c20"><rect x="15.50" y="112.48" width="65.10" height="42.75"/></clipPath>
<g clip-path="url(#c20)">
<polyline class="g" points="18.5,150.56 18.7,149.34 18.9,150.91 19.2,150.72 19.4,149.73 19.6,150.96 19.9,151.38 20.1,149.82 20.4,150.95 20.6,150.22 20.8,149.62 21.1,150.58 21.3,149.95 21.5,149.13 21.8,149.38 22.0,149.60 22.2,149.98 22.5,149.60 22.7,150.14 23.0,150.46 23.2,150.34 23.4,150.28 23.7,148.42 23.9,149.58 24.1,149.21 24.4,148.59 24.6,149.35 24.9,148.59 25.1,149.56 25.3,151.16 25.6,151.44 25.8,150.47 26.0,149.48 26.3,150.67 26.5,151.06 26.7,151.33 27.0,149.83 27.2,149.35 27.5,149.28 27.7,150.50 27.9,150.98 28.2,150.25 28.4,150.62 28.6,149.85 28.9,150.07 29.1,149.24 29.3,149.72 29.6,149.59 29.8,149.94 30.1,149.79 30.3,149.55 30.5,150.66 30.8,150.17 31.0,149.44 31.2,150.01 31.5,149.09 31.7,149.12 32.0,149.71 32.2,149.26 32.4,149.01 32.7,149.34 32.9,150.41 33.1,148.85 33.4,149.67 33.6,149.92 33.8,149.92 34.1,149.78 34.3,148.55 34.6,148.89 34.8,148.68 35.0,149.18 35.3,149.18 35.5,148.42 35.7,148.04 36.0,148.00 36.2,149.55 36.5,150.29 36.7,150.54 36.9,150.11 37.2,149.88 37.4,149.95 37.6,150.16 37.9,149.68 38.1,150.03 38.3,150.16 38.6,148.93 38.8,148.16 39.1,148.38 39.3,148.42 39.5,148.81 39.8,149.87 40.0,149.04 40.2,150.54 40.5,148.82 40.7,148.82 40.9,147.66 41.2,147.64 41.4,148.30 41.7,149.13 41.9,149.38 42.1,148.12 42.4,148.31 42.6,149.62 42.8,147.60 43.1,146.79 43.3,147.38 43.6,147.24 43.8,147.17 44.0,146.89 44.3,147.66 44.5,147.68 44.7,147.29 45.0,148.40 45.2,146.82 45.4,148.54 45.7,147.72 45.9,147.11 46.2,146.77 46.4,147.12 46.6,146.55 46.9,146.86 47.1,147.37 47.3,147.34 47.6,147.61 47.8,147.19 48.0,147.01 48.3,146.46 48.5,145.75 48.8,145.72 49.0,145.98 49.2,145.90 49.5,145.84 49.7,145.77 49.9,145.65 50.2,144.71 50.4,144.37 50.7,143.48 50.9,143.20 51.1,142.56 51.4,143.39 51.6,142.97 51.8,143.18 52.1,143.68 52.3,142.11 52.5,141.85 52.8,140.56 53.0,140.90 53.3,139.05 53.5,139.31 53.7,138.18 54.0,138.43 54.2,137.51 54.4,137.55 54.7,136.34 54.9,135.31 55.2,136.20 55.4,136.70 55.6,135.56 55.9,134.29 56.1,133.00 56.3,132.39 56.6,132.29 56.8,132.36 57.0,130.93 57.3,130.04 57.5,131.01 57.8,131.27 58.0,129.71 58.2,129.55 58.5,128.84 58.7,128.79 58.9,128.02 59.2,127.59 59.4,127.56 59.6,126.10 59.9,126.48 60.1,127.06 60.4,126.23 60.6,125.37 60.8,125.58 61.1,124.73 61.3,124.82 61.5,124.00 61.8,125.16 62.0,124.38 62.3,122.28 62.5,121.82 62.7,122.69 63.0,121.46 63.2,121.23 63.4,122.54 63.7,122.33 63.9,121.94 64.1,121.63 64.4,119.77 64.6,120.48 64.9,120.99 65.1,120.73 65.3,120.83 65.6,120.12 65.8,120.61 66.0,119.84 66.3,120.54 66.5,120.36 66.8,121.02 67.0,119.75 67.2,121.16 67.5,119.60 67.7,119.34 67.9,120.05 68.2,121.08 68.4,119.34 68.6,118.94 68.9,117.46 69.1,119.17 69.4,119.20 69.6,120.63 69.8,119.91 70.1,120.02 70.3,119.23 70.5,119.59 70.8,118.96 71.0,118.35 71.2,119.71 71.5,118.99 71.7,119.57 72.0,118.81 72.2,119.71 72.4,120.18 72.7,120.23 72.9,120.94 73.1,120.34 73.4,118.97 73.6,120.76 73.9,119.45 74.1,118.21 74.3,119.88 74.6,119.76 74.8,119.46 75.0,119.37 75.3,119.76 75.5,119.08 75.7,119.98 76.0,121.42 76.2,121.80 76.5,121.62 76.7,121.82 76.9,121.30 77.2,120.97 77.4,121.05 77.6,120.93"/>
<polyline class="o" points="18.5,150.27 18.9,150.22 19.4,150.16 19.9,150.09 20.4,150.02 20.8,149.94 21.3,149.86 21.8,149.77 22.2,149.67 22.7,149.58 23.2,149.47 23.7,149.37 24.1,149.25 24.6,149.14 25.1,149.02 25.6,148.90 26.0,148.77 26.5,148.64 27.0,148.51 27.5,148.37 27.9,148.23 28.4,148.09 28.9,147.95 29.3,147.81 29.8,147.66 30.3,147.51 30.8,147.36 31.2,147.21 31.7,147.05 32.2,146.88 32.7,146.72 33.1,146.54 33.6,146.36 34.1,146.18 34.6,145.99 35.0,145.79 35.5,145.59 36.0,145.38 36.5,145.16 36.9,144.93 37.4,144.69 37.9,144.45 38.3,144.19 38.8,143.93 39.3,143.65 39.8,143.37 40.2,143.07 40.7,142.77 41.2,142.45 41.7,142.12 42.1,141.78 42.6,141.40 43.1,140.97 43.6,140.48 44.0,139.95 44.5,139.38 45.0,138.77 45.4,138.13 45.9,137.47 46.4,136.79 46.9,136.10 47.3,135.40 47.8,134.70 48.3,133.99 48.8,133.23 49.2,132.41 49.7,131.54 50.2,130.65 50.7,129.74 51.1,128.81 51.6,127.89 52.1,126.99 52.5,126.11 53.0,125.26 53.5,124.47 54.0,123.74 54.4,123.03 54.9,122.31 55.4,121.59 55.9,120.88 56.3,120.18 56.8,119.51 57.3,118.86 57.8,118.26 58.2,117.71 58.7,117.22 59.2,116.80 59.6,116.45 60.1,116.18 60.6,115.92 61.1,115.66 61.5,115.42 62.0,115.19 62.5,114.98 63.0,114.79 63.4,114.61 63.9,114.47 64.4,114.35 64.9,114.26 65.3,114.20 65.8,114.18 66.3,114.19 66.8,114.22 67.2,114.27 67.7,114.33 68.2,114.40 68.6,114.49 69.1,114.59 69.6,114.70 70.1,114.81 70.5,114.93 71.0,115.06 71.5,115.18 72.0,115.31 72.4,115.47 72.9,115.64 73.4,115.85 73.9,116.07 74.3,116.31 74.8,116.57 75.3,116.85 75.7,117.14 76.2,117.45 76.7,117.77 77.2,118.09 77.6,118.43"/>
<polyline class="p" points="18.5,150.27 18.9,150.27 19.4,150.27 19.9,150.26 20.4,150.26 20.8,150.25 21.3,150.24 21.8,150.23 22.2,150.21 22.7,150.20 23.2,150.19 23.7,150.17 24.1,150.15 24.6,150.13 25.1,150.11 25.6,150.09 26.0,150.07 26.5,150.05 27.0,150.03 27.5,150.00 27.9,149.98 28.4,149.95 28.9,149.93 29.3,149.90 29.8,149.87 30.3,149.85 30.8,149.82 31.2,149.78 31.7,149.74 32.2,149.70 32.7,149.65 33.1,149.60 33.6,149.54 34.1,149.49 34.6,149.42 35.0,149.36 35.5,149.29 36.0,149.22 36.5,149.15 36.9,149.07 37.4,148.99 37.9,148.91 38.3,148.83 38.8,148.75 39.3,148.66 39.8,148.58 40.2,148.49 40.7,148.41 41.2,148.32 41.7,148.23 42.1,148.15 42.6,148.04 43.1,147.90 43.6,147.76 44.0,147.64 44.5,147.55 45.0,147.51 45.4,147.54 45.9,147.62 46.4,147.69 46.9,147.72 47.3,147.68 47.8,147.58 48.3,147.41 48.8,147.06 49.2,146.54 49.7,145.93 50.2,145.28 50.7,144.64 51.1,143.91 51.6,143.10 52.1,142.23 52.5,141.32 53.0,140.40 53.5,139.48 54.0,138.59 54.4,137.71 54.9,136.80 55.4,135.87 55.9,134.93 56.3,133.98 56.8,133.03 57.3,132.10 57.8,131.19 58.2,130.30 58.7,129.46 59.2,128.66 59.6,127.91 60.1,127.21 60.6,126.52 61.1,125.83 61.5,125.15 62.0,124.49 62.5,123.85 63.0,123.23 63.4,122.66 63.9,122.12 64.4,121.64 64.9,121.21 65.3,120.85 65.8,120.55 66.3,120.30 66.8,120.05 67.2,119.81 67.7,119.59 68.2,119.38 68.6,119.21 69.1,119.06 69.6,118.95 70.1,118.88 70.5,118.85 71.0,118.91 71.5,119.01 72.0,119.11 72.4,119.21 72.9,119.31 73.4,119.42 73.9,119.53 74.3,119.64 74.8,119.76 75.3,119.88 75.7,120.00 76.2,120.13 76.7,120.27 77.2,120.41 77.6,120.55"/>
</g>
<rect class="ax" x="15.50" y="112.48" width="65.10" height="42.75"/>
<line class="tk" x1="30.30" y1="155.23" x2="30.30" y2="156.83"/>
<text class="xt" x="30.30" y="162.63" text-anchor="middle" textLength="10.69" lengthAdjust="spacingAndGlyphs">1900</text>
<line class="tk" x1="53.97" y1="155.23" x2="53.97" y2="156.83"/>
<text class="xt" x="53.97" y="162.63" text-anchor="middle" textLength="10.69" lengthAdjust="spacingAndGlyphs">2000</text>
<line class="tk" x1="77.64" y1="155.23" x2="77.64" y2="156.83"/>
<text class="xt" x="77.64" y="162.63" text-anchor="middle" textLength="10.69" lengthAdjust="spacingAndGlyphs">2100</text>
<line class="tk" x1="13.90" y1="151.24" x2="15.50" y2="151.24"/>
<text class="yt" x="12.30" y="152.99" text-anchor="end" textLength="2.67" lengthAdjust="spacingAndGlyphs">0</text>
<line class="tk" x1="13.90" y1="130.48" x2="15.50" y2="130.48"/>
<text class="yt" x="12.30" y="132.23" text-anchor="end" textLength="2.67" lengthAdjust="spacingAndGlyphs">2</text>
<text class="an" x="78.80" y="150.58" text-anchor="end" textLength="15.60" lengthAdjust="spacingAndGlyphs">r<tspan class="sup" dy="-1.3">2</tspan><tspan dy="1.3">=0.99</tspan></text>
<text class="an" x="78.80" y="154.28" text-anchor="end" textLength="23.43" lengthAdjust="spacingAndGlyphs">RMSE=0.15</text>
<clipPath id="c21"><rect x="93.52" y="112.48" width="65.10" height="42.75"/></clipPath>
<g clip-path="url(#c21)">
<polyline class="g" points="96.5,151.20 96.7,149.98 97.0,151.55 97.2,151.36 97.4,150.37 97.7,151.60 97.9,152.02 98.1,150.46 98.4,151.59 98.6,150.87 98.8,150.27 99.1,151.23 99.3,150.60 99.6,149.79 99.8,150.04 100.0,150.26 100.3,150.65 100.5,150.26 100.7,150.81 101.0,151.13 101.2,151.02 101.5,150.97 101.7,149.11 101.9,150.27 102.2,149.91 102.4,149.29 102.6,150.06 102.9,149.30 103.1,150.28 103.3,151.88 103.6,152.17 103.8,151.21 104.1,150.22 104.3,151.42 104.5,151.81 104.8,152.08 105.0,150.59 105.2,150.12 105.5,150.05 105.7,151.27 105.9,151.77 106.2,151.04 106.4,151.42 106.7,150.66 106.9,150.89 107.1,150.06 107.4,150.55 107.6,150.42 107.8,150.78 108.1,150.63 108.3,150.40 108.6,151.52 108.8,151.03 109.0,150.31 109.3,150.89 109.5,149.97 109.7,150.02 110.0,150.62 110.2,150.18 110.4,149.93 110.7,150.27 110.9,151.35 111.2,149.81 111.4,150.63 111.6,150.89 111.9,150.90 112.1,150.78 112.3,149.55 112.6,149.90 112.8,149.71 113.0,150.22 113.3,150.23 113.5,149.49 113.8,149.12 114.0,149.09 114.2,150.65 114.5,151.41 114.7,151.67 114.9,151.26 115.2,151.04 115.4,151.13 115.7,151.35 115.9,150.89 116.1,151.25 116.4,151.39 116.6,150.18 116.8,149.42 117.1,149.66 117.3,149.72 117.5,150.12 117.8,151.19 118.0,150.38 118.3,151.90 118.5,150.19 118.7,150.21 119.0,149.06 119.2,149.06 119.4,149.74 119.7,150.59 119.9,150.84 120.2,149.60 120.4,149.81 120.6,151.14 120.9,149.13 121.1,148.33 121.3,148.93 121.6,148.80 121.8,148.74 122.0,148.47 122.3,149.24 122.5,149.27 122.8,148.88 123.0,149.99 123.2,148.42 123.5,150.18 123.7,149.39 123.9,148.84 124.2,148.54 124.4,148.94 124.6,148.41 124.9,148.73 125.1,149.23 125.4,149.21 125.6,149.48 125.8,149.08 126.1,148.92 126.3,148.42 126.5,147.79 126.8,147.87 127.0,148.26 127.3,148.33 127.5,148.44 127.7,148.56 128.0,148.61 128.2,147.85 128.4,147.69 128.7,146.97 128.9,146.87 129.1,146.43 129.4,147.47 129.6,147.27 129.9,147.70 130.1,148.42 130.3,147.07 130.6,147.03 130.8,145.97 131.0,146.52 131.3,144.87 131.5,145.32 131.8,144.38 132.0,144.80 132.2,144.03 132.5,144.22 132.7,143.15 132.9,142.25 133.2,143.26 133.4,143.87 133.6,142.83 133.9,141.65 134.1,140.45 134.4,139.91 134.6,139.88 134.8,140.02 135.1,138.64 135.3,137.80 135.5,138.07 135.8,137.86 136.0,137.80 136.2,137.18 136.5,136.56 136.7,134.96 137.0,135.49 137.2,135.76 137.4,135.35 137.7,135.51 137.9,135.86 138.1,136.20 138.4,133.82 138.6,134.52 138.9,134.14 139.1,132.51 139.3,132.33 139.6,132.42 139.8,132.83 140.0,132.20 140.3,131.88 140.5,130.16 140.7,130.04 141.0,130.30 141.2,129.43 141.5,130.93 141.7,130.04 141.9,129.81 142.2,129.22 142.4,129.29 142.6,128.67 142.9,127.09 143.1,127.40 143.4,126.54 143.6,126.31 143.8,124.73 144.1,125.77 144.3,126.19 144.5,126.64 144.8,125.57 145.0,125.39 145.2,125.11 145.5,124.54 145.7,124.21 146.0,124.90 146.2,123.83 146.4,123.35 146.7,124.12 146.9,123.89 147.1,123.27 147.4,123.91 147.6,124.10 147.8,122.79 148.1,122.94 148.3,121.22 148.6,121.85 148.8,121.78 149.0,122.45 149.3,123.19 149.5,121.66 149.7,121.99 150.0,120.63 150.2,119.83 150.5,120.32 150.7,118.97 150.9,120.19 151.2,120.15 151.4,121.03 151.6,119.89 151.9,117.96 152.1,118.66 152.3,119.11 152.6,119.47 152.8,118.90 153.1,119.07 153.3,119.56 153.5,119.86 153.8,118.82 154.0,117.75 154.2,118.20 154.5,119.67 154.7,118.50 155.0,119.14 155.2,118.68 155.4,118.34 155.7,118.46"/>
<polyline class="o" points="96.5,150.91 97.0,150.87 97.4,150.84 97.9,150.80 98.4,150.76 98.8,150.71 99.3,150.66 99.8,150.60 100.3,150.55 100.7,150.49 101.2,150.42 101.7,150.36 102.2,150.29 102.6,150.22 103.1,150.14 103.6,150.07 104.1,149.99 104.5,149.91 105.0,149.83 105.5,149.74 105.9,149.66 106.4,149.57 106.9,149.48 107.4,149.39 107.8,149.30 108.3,149.21 108.8,149.11 109.3,149.02 109.7,148.92 110.2,148.82 110.7,148.72 111.2,148.61 111.6,148.50 112.1,148.38 112.6,148.26 113.0,148.14 113.5,148.01 114.0,147.88 114.5,147.74 114.9,147.60 115.4,147.45 115.9,147.29 116.4,147.13 116.8,146.97 117.3,146.79 117.8,146.61 118.3,146.42 118.7,146.23 119.2,146.03 119.7,145.82 120.2,145.60 120.6,145.36 121.1,145.08 121.6,144.78 122.0,144.44 122.5,144.08 123.0,143.69 123.5,143.28 123.9,142.84 124.4,142.39 124.9,141.93 125.4,141.45 125.8,140.96 126.3,140.46 126.8,139.91 127.3,139.31 127.7,138.67 128.2,138.00 128.7,137.30 129.1,136.58 129.6,135.84 130.1,135.10 130.6,134.36 131.0,133.63 131.5,132.92 132.0,132.23 132.5,131.54 132.9,130.83 133.4,130.10 133.9,129.37 134.4,128.64 134.8,127.92 135.3,127.20 135.8,126.50 136.2,125.83 136.7,125.18 137.2,124.57 137.7,124.00 138.1,123.48 138.6,122.96 139.1,122.46 139.6,121.98 140.0,121.51 140.5,121.05 141.0,120.61 141.5,120.19 141.9,119.79 142.4,119.42 142.9,119.06 143.4,118.73 143.8,118.43 144.3,118.14 144.8,117.87 145.2,117.61 145.7,117.36 146.2,117.12 146.7,116.89 147.1,116.68 147.6,116.47 148.1,116.27 148.6,116.09 149.0,115.91 149.5,115.75 150.0,115.59 150.5,115.44 150.9,115.30 151.4,115.15 151.9,115.02 152.3,114.89 152.8,114.76 153.3,114.64 153.8,114.53 154.2,114.43 154.7,114.34 155.2,114.26 155.7,114.18"/>
<polyline class="p" points="96.5,150.91 97.0,150.91 97.4,150.90 97.9,150.90 98.4,150.90 98.8,150.90 99.3,150.89 99.8,150.89 100.3,150.88 100.7,150.87 101.2,150.87 101.7,150.86 102.2,150.85 102.6,150.84 103.1,150.83 103.6,150.82 104.1,150.81 104.5,150.80 105.0,150.79 105.5,150.77 105.9,150.76 106.4,150.75 106.9,150.74 107.4,150.72 107.8,150.71 108.3,150.69 108.8,150.68 109.3,150.66 109.7,150.64 110.2,150.62 110.7,150.59 111.2,150.56 111.6,150.53 112.1,150.50 112.6,150.47 113.0,150.43 113.5,150.39 114.0,150.35 114.5,150.31 114.9,150.26 115.4,150.21 115.9,150.16 116.4,150.11 116.8,150.06 117.3,150.00 117.8,149.94 118.3,149.89 118.7,149.83 119.2,149.76 119.7,149.70 120.2,149.63 120.6,149.54 121.1,149.41 121.6,149.26 122.0,149.13 122.5,149.03 123.0,149.00 123.5,149.06 123.9,149.21 124.4,149.35 124.9,149.42 125.4,149.37 125.8,149.27 126.3,149.14 126.8,148.98 127.3,148.78 127.7,148.54 128.2,148.28 128.7,148.00 129.1,147.68 129.6,147.31 130.1,146.90 130.6,146.46 131.0,145.99 131.5,145.49 132.0,144.96 132.5,144.39 132.9,143.74 133.4,143.03 133.9,142.27 134.4,141.47 134.8,140.64 135.3,139.80 135.8,138.95 136.2,138.11 136.7,137.29 137.2,136.51 137.7,135.76 138.1,135.07 138.6,134.38 139.1,133.71 139.6,133.04 140.0,132.38 140.5,131.73 141.0,131.09 141.5,130.47 141.9,129.86 142.4,129.26 142.9,128.67 143.4,128.11 143.8,127.56 144.3,127.02 144.8,126.47 145.2,125.94 145.7,125.41 146.2,124.89 146.7,124.38 147.1,123.89 147.6,123.42 148.1,122.97 148.6,122.55 149.0,122.15 149.5,121.78 150.0,121.45 150.5,121.12 150.9,120.81 151.4,120.50 151.9,120.21 152.3,119.93 152.8,119.66 153.3,119.41 153.8,119.18 154.2,118.96 154.7,118.76 155.2,118.59 155.7,118.43"/>
</g>
<rect class="ax" x="93.52" y="112.48" width="65.10" height="42.75"/>
<line class="tk" x1="108.32" y1="155.23" x2="108.32" y2="156.83"/>
<text class="xt" x="108.32" y="162.63" text-anchor="middle" textLength="10.69" lengthAdjust="spacingAndGlyphs">1900</text>
<line class="tk" x1="131.99" y1="155.23" x2="131.99" y2="156.83"/>
<text class="xt" x="131.99" y="162.63" text-anchor="middle" textLength="10.69" lengthAdjust="spacingAndGlyphs">2000</text>
<line class="tk" x1="155.66" y1="155.23" x2="155.66" y2="156.83"/>
<text class="xt" x="155.66" y="162.63" text-anchor="middle" textLength="10.69" lengthAdjust="spacingAndGlyphs">2100</text>
<line class="tk" x1="91.92" y1="151.70" x2="93.52" y2="151.70"/>
<text class="yt" x="90.32" y="153.45" text-anchor="end" textLength="2.67" lengthAdjust="spacingAndGlyphs">0</text>
<line class="tk" x1="91.92" y1="136.70" x2="93.52" y2="136.70"/>
<text class="yt" x="90.32" y="138.45" text-anchor="end" textLength="2.67" lengthAdjust="spacingAndGlyphs">2</text>
<line class="tk" x1="91.92" y1="121.70" x2="93.52" y2="121.70"/>
<text class="yt" x="90.32" y="123.45" text-anchor="end" textLength="2.67" lengthAdjust="spacingAndGlyphs">4</text>
<text class="an" x="156.82" y="150.58" text-anchor="end" textLength="15.60" lengthAdjust="spacingAndGlyphs">r<tspan class="sup" dy="-1.3">2</tspan><tspan dy="1.3">=0.99</tspan></text>
<text class="an" x="156.82" y="154.28" text-anchor="end" textLength="23.43" lengthAdjust="spacingAndGlyphs">RMSE=0.13</text>
<clipPath id="c22"><rect x="171.54" y="112.48" width="65.10" height="42.75"/></clipPath>
<g clip-path="url(#c22)">
<polyline class="g" points="174.5,151.82 174.7,150.78 175.0,152.12 175.2,151.96 175.4,151.10 175.7,152.15 175.9,152.51 176.2,151.18 176.4,152.14 176.6,151.52 176.9,151.01 177.1,151.82 177.3,151.28 177.6,150.59 177.8,150.80 178.0,150.99 178.3,151.32 178.5,150.99 178.8,151.46 179.0,151.73 179.2,151.63 179.5,151.59 179.7,149.99 179.9,150.99 180.2,150.68 180.4,150.15 180.7,150.80 180.9,150.15 181.1,150.99 181.4,152.36 181.6,152.61 181.8,151.78 182.1,150.96 182.3,152.08 182.5,152.49 182.8,152.65 183.0,151.28 183.3,150.84 183.5,150.78 183.7,151.83 184.0,152.26 184.2,151.64 184.4,151.96 184.7,151.30 184.9,151.50 185.2,150.79 185.4,151.21 185.6,151.10 185.9,151.40 186.1,151.28 186.3,151.08 186.6,152.05 186.8,151.70 187.0,151.13 187.3,151.57 187.5,150.73 187.8,150.75 188.0,151.26 188.2,150.89 188.5,150.68 188.7,150.97 188.9,151.90 189.2,150.57 189.4,151.28 189.6,151.51 189.9,151.52 190.1,151.41 190.4,150.36 190.6,150.67 190.8,150.50 191.1,150.94 191.3,150.95 191.5,150.32 191.8,150.01 192.0,149.98 192.3,151.32 192.5,151.97 192.7,152.20 193.0,151.85 193.2,151.67 193.4,151.74 193.7,151.93 193.9,151.54 194.1,151.86 194.4,151.98 194.6,150.94 194.9,150.29 195.1,150.50 195.3,150.55 195.6,150.91 195.8,151.82 196.0,151.13 196.3,152.43 196.5,150.97 196.8,150.99 197.0,150.01 197.2,150.01 197.5,150.60 197.7,151.32 197.9,151.55 198.2,150.49 198.4,150.67 198.6,151.80 198.9,150.08 199.1,149.39 199.4,149.91 199.6,149.80 199.8,149.74 200.1,149.50 200.3,150.16 200.5,150.18 200.8,149.85 201.0,150.82 201.2,149.57 201.5,151.14 201.7,150.37 202.0,149.79 202.2,149.49 202.4,149.82 202.7,149.34 202.9,149.62 203.1,150.05 203.4,150.03 203.6,150.26 203.9,149.92 204.1,149.78 204.3,149.35 204.6,148.81 204.8,148.87 205.0,149.20 205.3,149.25 205.5,149.36 205.7,149.51 206.0,149.60 206.2,148.89 206.5,148.70 206.7,148.08 206.9,148.01 207.2,147.64 207.4,148.56 207.6,148.44 207.9,148.93 208.1,149.66 208.4,148.46 208.6,148.37 208.8,147.47 209.1,147.99 209.3,146.62 209.5,147.04 209.8,146.28 210.0,146.67 210.2,146.06 210.5,146.27 210.7,145.40 211.0,144.68 211.2,145.60 211.4,146.19 211.7,145.36 211.9,144.42 212.1,143.46 212.4,143.07 212.6,143.11 212.8,143.30 213.1,142.19 213.3,141.53 213.6,142.78 213.8,141.50 214.0,141.94 214.3,141.14 214.5,141.20 214.7,141.12 215.0,140.75 215.2,139.64 215.5,140.72 215.7,139.94 215.9,139.53 216.2,139.04 216.4,138.68 216.6,138.65 216.9,138.25 217.1,138.29 217.3,137.59 217.6,137.29 217.8,136.84 218.1,135.72 218.3,135.38 218.5,135.80 218.8,135.91 219.0,135.91 219.2,135.82 219.5,135.14 219.7,135.57 220.0,135.08 220.2,134.34 220.4,134.57 220.7,133.03 220.9,132.49 221.1,132.65 221.4,133.03 221.6,132.29 221.8,131.46 222.1,131.90 222.3,131.72 222.6,131.69 222.8,131.27 223.0,131.29 223.3,131.32 223.5,130.31 223.7,129.27 224.0,131.06 224.2,130.17 224.4,130.25 224.7,129.23 224.9,128.34 225.2,128.13 225.4,128.08 225.6,127.82 225.9,127.68 226.1,127.48 226.3,126.77 226.6,126.78 226.8,126.17 227.1,125.80 227.3,124.94 227.5,125.19 227.8,124.69 228.0,125.19 228.2,124.78 228.5,124.41 228.7,123.41 228.9,124.36 229.2,123.56 229.4,124.86 229.7,124.04 229.9,123.26 230.1,122.77 230.4,122.16 230.6,120.93 230.8,120.24 231.1,120.02 231.3,119.62 231.6,119.85 231.8,119.63 232.0,119.78 232.3,120.20 232.5,119.93 232.7,118.28 233.0,118.44 233.2,118.86 233.4,118.83 233.7,118.62"/>
<polyline class="o" points="174.5,151.76 175.0,151.72 175.4,151.69 175.9,151.66 176.4,151.62 176.9,151.58 177.3,151.54 177.8,151.50 178.3,151.45 178.8,151.41 179.2,151.36 179.7,151.31 180.2,151.26 180.7,151.21 181.1,151.15 181.6,151.10 182.1,151.04 182.5,150.98 183.0,150.92 183.5,150.86 184.0,150.80 184.4,150.74 184.9,150.68 185.4,150.61 185.9,150.55 186.3,150.48 186.8,150.42 187.3,150.35 187.8,150.28 188.2,150.21 188.7,150.14 189.2,150.07 189.6,150.00 190.1,149.92 190.6,149.85 191.1,149.77 191.5,149.69 192.0,149.60 192.5,149.51 193.0,149.42 193.4,149.33 193.9,149.23 194.4,149.13 194.9,149.02 195.3,148.91 195.8,148.80 196.3,148.68 196.8,148.55 197.2,148.42 197.7,148.29 198.2,148.15 198.6,147.99 199.1,147.82 199.6,147.62 200.1,147.41 200.5,147.17 201.0,146.93 201.5,146.66 202.0,146.38 202.4,146.09 202.9,145.78 203.4,145.46 203.9,145.13 204.3,144.79 204.8,144.40 205.3,143.96 205.7,143.49 206.2,142.98 206.7,142.45 207.2,141.91 207.6,141.35 208.1,140.78 208.6,140.22 209.1,139.66 209.5,139.12 210.0,138.59 210.5,138.08 211.0,137.57 211.4,137.06 211.9,136.54 212.4,136.03 212.8,135.51 213.3,135.00 213.8,134.49 214.3,133.98 214.7,133.47 215.2,132.97 215.7,132.47 216.2,131.98 216.6,131.49 217.1,131.01 217.6,130.53 218.1,130.05 218.5,129.57 219.0,129.10 219.5,128.63 220.0,128.16 220.4,127.69 220.9,127.22 221.4,126.75 221.8,126.28 222.3,125.82 222.8,125.36 223.3,124.91 223.7,124.45 224.2,124.00 224.7,123.55 225.2,123.10 225.6,122.65 226.1,122.19 226.6,121.73 227.1,121.27 227.5,120.79 228.0,120.31 228.5,119.82 228.9,119.33 229.4,118.84 229.9,118.34 230.4,117.83 230.8,117.32 231.3,116.81 231.8,116.29 232.3,115.77 232.7,115.25 233.2,114.72 233.7,114.18"/>
<polyline class="p" points="174.5,151.76 175.0,151.74 175.4,151.73 175.9,151.72 176.4,151.70 176.9,151.69 177.3,151.67 177.8,151.66 178.3,151.64 178.8,151.63 179.2,151.61 179.7,151.59 180.2,151.58 180.7,151.56 181.1,151.54 181.6,151.52 182.1,151.51 182.5,151.49 183.0,151.47 183.5,151.45 184.0,151.43 184.4,151.41 184.9,151.39 185.4,151.37 185.9,151.35 186.3,151.33 186.8,151.31 187.3,151.29 187.8,151.27 188.2,151.26 188.7,151.24 189.2,151.22 189.6,151.20 190.1,151.18 190.6,151.17 191.1,151.15 191.5,151.13 192.0,151.11 192.5,151.08 193.0,151.06 193.4,151.04 193.9,151.01 194.4,150.99 194.9,150.96 195.3,150.93 195.8,150.89 196.3,150.86 196.8,150.82 197.2,150.78 197.7,150.74 198.2,150.69 198.6,150.61 199.1,150.49 199.6,150.34 200.1,150.20 200.5,150.10 201.0,150.06 201.5,150.09 202.0,150.16 202.4,150.24 202.9,150.27 203.4,150.22 203.9,150.11 204.3,150.00 204.8,149.86 205.3,149.70 205.7,149.51 206.2,149.31 206.7,149.10 207.2,148.87 207.6,148.63 208.1,148.36 208.6,148.07 209.1,147.77 209.5,147.44 210.0,147.09 210.5,146.70 211.0,146.26 211.4,145.77 211.9,145.25 212.4,144.70 212.8,144.13 213.3,143.54 213.8,142.94 214.3,142.34 214.7,141.74 215.2,141.15 215.7,140.57 216.2,140.02 216.6,139.46 217.1,138.91 217.6,138.35 218.1,137.79 218.5,137.23 219.0,136.66 219.5,136.10 220.0,135.54 220.4,134.97 220.9,134.41 221.4,133.85 221.8,133.29 222.3,132.73 222.8,132.17 223.3,131.60 223.7,131.04 224.2,130.48 224.7,129.91 225.2,129.35 225.6,128.79 226.1,128.23 226.6,127.67 227.1,127.11 227.5,126.56 228.0,126.01 228.5,125.46 228.9,124.91 229.4,124.36 229.9,123.81 230.4,123.27 230.8,122.72 231.3,122.18 231.8,121.64 232.3,121.10 232.7,120.56 233.2,120.03 233.7,119.49"/>
</g>
<rect class="ax" x="171.54" y="112.48" width="65.10" height="42.75"/>
<line class="tk" x1="186.34" y1="155.23" x2="186.34" y2="156.83"/>
<text class="xt" x="186.34" y="162.63" text-anchor="middle" textLength="10.69" lengthAdjust="spacingAndGlyphs">1900</text>
<line class="tk" x1="210.01" y1="155.23" x2="210.01" y2="156.83"/>
<text class="xt" x="210.01" y="162.63" text-anchor="middle" textLength="10.69" lengthAdjust="spacingAndGlyphs">2000</text>
<line class="tk" x1="233.68" y1="155.23" x2="233.68" y2="156.83"/>
<text class="xt" x="233.68" y="162.63" text-anchor="middle" textLength="10.69" lengthAdjust="spacingAndGlyphs">2100</text>
<line class="tk" x1="169.94" y1="151.63" x2="171.54" y2="151.63"/>
<text class="yt" x="168.34" y="153.38" text-anchor="end" textLength="6.68" lengthAdjust="spacingAndGlyphs">0.0</text>
<line class="tk" x1="169.94" y1="139.02" x2="171.54" y2="139.02"/>
<text class="yt" x="168.34" y="140.77" text-anchor="end" textLength="6.68" lengthAdjust="spacingAndGlyphs">2.5</text>
<line class="tk" x1="169.94" y1="126.41" x2="171.54" y2="126.41"/>
<text class="yt" x="168.34" y="128.16" text-anchor="end" textLength="6.68" lengthAdjust="spacingAndGlyphs">5.0</text>
<line class="tk" x1="169.94" y1="113.80" x2="171.54" y2="113.80"/>
<text class="yt" x="168.34" y="115.55" text-anchor="end" textLength="6.68" lengthAdjust="spacingAndGlyphs">7.5</text>
<text class="an" x="234.84" y="150.58" text-anchor="end" textLength="15.60" lengthAdjust="spacingAndGlyphs">r<tspan class="sup" dy="-1.3">2</tspan><tspan dy="1.3">=1.00</tspan></text>
<text class="an" x="234.84" y="154.28" text-anchor="end" textLength="23.43" lengthAdjust="spacingAndGlyphs">RMSE=0.20</text>
<clipPath id="c23"><rect x="249.56" y="112.48" width="65.10" height="42.75"/></clipPath>
<g clip-path="url(#c23)">
<polyline class="g" points="252.5,152.03 252.8,150.99 253.0,152.34 253.2,152.19 253.5,151.34 253.7,152.39 253.9,152.76 254.2,151.43 254.4,152.40 254.6,151.78 254.9,151.27 255.1,152.10 255.4,151.56 255.6,150.87 255.8,151.09 256.1,151.28 256.3,151.62 256.5,151.29 256.8,151.76 257.0,152.04 257.3,151.95 257.5,151.90 257.7,150.32 258.0,151.31 258.2,151.01 258.4,150.48 258.7,151.14 258.9,150.49 259.1,151.33 259.4,152.71 259.6,152.96 259.9,152.14 260.1,151.32 260.3,152.44 260.6,152.86 260.8,153.02 261.0,151.65 261.3,151.22 261.5,151.16 261.8,152.22 262.0,152.64 262.2,152.03 262.5,152.35 262.7,151.70 262.9,151.90 263.2,151.20 263.4,151.62 263.6,151.51 263.9,151.82 264.1,151.70 264.4,151.50 264.6,152.48 264.8,152.13 265.1,151.56 265.3,152.01 265.5,151.17 265.8,151.19 266.0,151.71 266.2,151.33 266.5,151.12 266.7,151.42 267.0,152.34 267.2,151.02 267.4,151.73 267.7,151.95 267.9,151.96 268.1,151.86 268.4,150.81 268.6,151.11 268.9,150.95 269.1,151.39 269.3,151.40 269.6,150.76 269.8,150.45 270.0,150.42 270.3,151.76 270.5,152.41 270.7,152.63 271.0,152.28 271.2,152.10 271.5,152.17 271.7,152.36 271.9,151.96 272.2,152.28 272.4,152.40 272.6,151.36 272.9,150.71 273.1,150.92 273.4,150.97 273.6,151.32 273.8,152.24 274.1,151.55 274.3,152.85 274.5,151.39 274.8,151.41 275.0,150.43 275.2,150.43 275.5,151.01 275.7,151.74 276.0,151.97 276.2,150.91 276.4,151.10 276.7,152.25 276.9,150.54 277.1,149.88 277.4,150.42 277.6,150.33 277.8,150.30 278.1,150.08 278.3,150.76 278.6,150.80 278.8,150.48 279.0,151.46 279.3,150.20 279.5,151.77 279.7,151.01 280.0,150.42 280.2,150.13 280.5,150.45 280.7,149.98 280.9,150.26 281.2,150.68 281.4,150.66 281.6,150.90 281.9,150.55 282.1,150.41 282.3,149.99 282.6,149.47 282.8,149.55 283.1,149.91 283.3,150.00 283.5,150.13 283.8,150.32 284.0,150.45 284.2,149.79 284.5,149.64 284.7,149.05 285.0,149.03 285.2,148.72 285.4,149.70 285.7,149.64 285.9,150.19 286.1,150.99 286.4,149.86 286.6,149.84 286.8,149.01 287.1,149.60 287.3,148.30 287.6,148.81 287.8,148.11 288.0,148.58 288.3,148.04 288.5,148.33 288.7,147.54 289.0,146.90 289.2,147.91 289.4,148.57 289.7,147.83 289.9,146.98 290.2,146.10 290.4,145.79 290.6,145.92 290.9,146.19 291.1,145.16 291.3,144.59 291.6,144.61 291.8,144.73 292.1,143.92 292.3,144.41 292.5,145.18 292.8,145.89 293.0,145.57 293.2,144.09 293.5,143.84 293.7,143.17 293.9,144.19 294.2,143.24 294.4,141.82 294.7,143.24 294.9,143.17 295.1,142.00 295.4,142.21 295.6,142.18 295.8,140.88 296.1,140.96 296.3,140.26 296.6,140.09 296.8,139.73 297.0,139.41 297.3,138.69 297.5,139.69 297.7,138.61 298.0,139.92 298.2,139.16 298.4,138.67 298.7,138.32 298.9,138.41 299.2,138.03 299.4,137.03 299.6,136.70 299.9,136.62 300.1,135.72 300.3,135.31 300.6,136.30 300.8,136.72 301.0,136.15 301.3,134.57 301.5,135.14 301.8,135.42 302.0,133.95 302.2,132.70 302.5,133.50 302.7,132.55 302.9,131.93 303.2,131.41 303.4,131.06 303.7,130.42 303.9,131.31 304.1,130.83 304.4,130.83 304.6,129.73 304.8,130.08 305.1,129.67 305.3,128.52 305.5,127.91 305.8,128.44 306.0,128.55 306.3,127.39 306.5,127.83 306.7,127.57 307.0,125.84 307.2,125.44 307.4,126.19 307.7,124.79 307.9,124.17 308.1,124.34 308.4,123.70 308.6,123.59 308.9,122.38 309.1,121.63 309.3,122.73 309.6,121.37 309.8,120.68 310.0,120.83 310.3,119.39 310.5,119.28 310.8,119.09 311.0,118.10 311.2,116.94 311.5,117.41 311.7,117.70"/>
<polyline class="o" points="252.5,151.97 253.0,151.97 253.5,151.96 253.9,151.96 254.4,151.95 254.9,151.93 255.4,151.92 255.8,151.90 256.3,151.88 256.8,151.86 257.3,151.84 257.7,151.81 258.2,151.79 258.7,151.76 259.1,151.73 259.6,151.70 260.1,151.66 260.6,151.63 261.0,151.60 261.5,151.56 262.0,151.52 262.5,151.49 262.9,151.45 263.4,151.41 263.9,151.37 264.4,151.33 264.8,151.29 265.3,151.24 265.8,151.20 266.2,151.14 266.7,151.09 267.2,151.02 267.7,150.96 268.1,150.89 268.6,150.82 269.1,150.74 269.6,150.67 270.0,150.58 270.5,150.50 271.0,150.41 271.5,150.31 271.9,150.22 272.4,150.12 272.9,150.02 273.4,149.91 273.8,149.80 274.3,149.69 274.8,149.57 275.2,149.45 275.7,149.33 276.2,149.21 276.7,149.08 277.1,148.93 277.6,148.77 278.1,148.59 278.6,148.41 279.0,148.21 279.5,148.00 280.0,147.78 280.5,147.55 280.9,147.30 281.4,147.05 281.9,146.79 282.3,146.52 282.8,146.21 283.3,145.87 283.8,145.50 284.2,145.10 284.7,144.69 285.2,144.26 285.7,143.83 286.1,143.40 286.6,142.97 287.1,142.55 287.6,142.16 288.0,141.78 288.5,141.42 289.0,141.08 289.4,140.74 289.9,140.41 290.4,140.08 290.9,139.76 291.3,139.43 291.8,139.11 292.3,138.77 292.8,138.43 293.2,138.08 293.7,137.72 294.2,137.34 294.7,136.96 295.1,136.58 295.6,136.18 296.1,135.78 296.6,135.38 297.0,134.96 297.5,134.53 298.0,134.10 298.4,133.65 298.9,133.19 299.4,132.71 299.9,132.23 300.3,131.72 300.8,131.20 301.3,130.66 301.8,130.11 302.2,129.54 302.7,128.95 303.2,128.35 303.7,127.74 304.1,127.11 304.6,126.46 305.1,125.81 305.5,125.14 306.0,124.45 306.5,123.75 307.0,123.03 307.4,122.29 307.9,121.53 308.4,120.75 308.9,119.95 309.3,119.14 309.8,118.30 310.3,117.46 310.8,116.59 311.2,115.71 311.7,114.82"/>
<polyline class="p" points="252.5,151.97 253.0,151.97 253.5,151.97 253.9,151.96 254.4,151.96 254.9,151.96 255.4,151.95 255.8,151.95 256.3,151.94 256.8,151.93 257.3,151.92 257.7,151.92 258.2,151.91 258.7,151.90 259.1,151.89 259.6,151.88 260.1,151.87 260.6,151.85 261.0,151.84 261.5,151.83 262.0,151.82 262.5,151.81 262.9,151.79 263.4,151.78 263.9,151.77 264.4,151.76 264.8,151.74 265.3,151.73 265.8,151.71 266.2,151.70 266.7,151.68 267.2,151.66 267.7,151.65 268.1,151.63 268.6,151.61 269.1,151.59 269.6,151.56 270.0,151.54 270.5,151.51 271.0,151.49 271.5,151.46 271.9,151.43 272.4,151.40 272.9,151.37 273.4,151.34 273.8,151.31 274.3,151.27 274.8,151.24 275.2,151.20 275.7,151.16 276.2,151.12 276.7,151.06 277.1,150.97 277.6,150.88 278.1,150.79 278.6,150.72 279.0,150.69 279.5,150.73 280.0,150.80 280.5,150.87 280.9,150.91 281.4,150.86 281.9,150.75 282.3,150.64 282.8,150.53 283.3,150.40 283.8,150.27 284.2,150.13 284.7,149.99 285.2,149.84 285.7,149.69 286.1,149.54 286.6,149.38 287.1,149.20 287.6,149.00 288.0,148.78 288.5,148.53 289.0,148.24 289.4,147.92 289.9,147.57 290.4,147.18 290.9,146.78 291.3,146.36 291.8,145.92 292.3,145.48 292.8,145.03 293.2,144.57 293.7,144.12 294.2,143.68 294.7,143.23 295.1,142.76 295.6,142.29 296.1,141.81 296.6,141.31 297.0,140.81 297.5,140.29 298.0,139.76 298.4,139.22 298.9,138.67 299.4,138.11 299.9,137.53 300.3,136.94 300.8,136.34 301.3,135.72 301.8,135.08 302.2,134.43 302.7,133.76 303.2,133.07 303.7,132.38 304.1,131.66 304.6,130.93 305.1,130.19 305.5,129.43 306.0,128.65 306.5,127.86 307.0,127.04 307.4,126.20 307.9,125.34 308.4,124.46 308.9,123.56 309.3,122.64 309.8,121.71 310.3,120.75 310.8,119.78 311.2,118.80 311.7,117.79"/>
</g>
<rect class="ax" x="249.56" y="112.48" width="65.10" height="42.75"/>
<line class="tk" x1="264.36" y1="155.23" x2="264.36" y2="156.83"/>
<text class="xt" x="264.36" y="162.63" text-anchor="middle" textLength="10.69" lengthAdjust="spacingAndGlyphs">1900</text>
<line class="tk" x1="288.03" y1="155.23" x2="288.03" y2="156.83"/>
<text class="xt" x="288.03" y="162.63" text-anchor="middle" textLength="10.69" lengthAdjust="spacingAndGlyphs">2000</text>
<line class="tk" x1="311.70" y1="155.23" x2="311.70" y2="156.83"/>
<text class="xt" x="311.70" y="162.63" text-anchor="middle" textLength="10.69" lengthAdjust="spacingAndGlyphs">2100</text>
<line class="tk" x1="247.96" y1="152.04" x2="249.56" y2="152.04"/>
<text class="yt" x="246.36" y="153.79" text-anchor="end" textLength="6.68" lengthAdjust="spacingAndGlyphs">0.0</text>
<line class="tk" x1="247.96" y1="140.62" x2="249.56" y2="140.62"/>
<text class="yt" x="246.36" y="142.37" text-anchor="end" textLength="6.68" lengthAdjust="spacingAndGlyphs">2.5</text>
<line class="tk" x1="247.96" y1="129.19" x2="249.56" y2="129.19"/>
<text class="yt" x="246.36" y="130.94" text-anchor="end" textLength="6.68" lengthAdjust="spacingAndGlyphs">5.0</text>
<line class="tk" x1="247.96" y1="117.76" x2="249.56" y2="117.76"/>
<text class="yt" x="246.36" y="119.51" text-anchor="end" textLength="6.68" lengthAdjust="spacingAndGlyphs">7.5</text>
<text class="an" x="312.86" y="150.58" text-anchor="end" textLength="15.60" lengthAdjust="spacingAndGlyphs">r<tspan class="sup" dy="-1.3">2</tspan><tspan dy="1.3">=1.00</tspan></text>
<text class="an" x="312.86" y="154.28" text-anchor="end" textLength="23.43" lengthAdjust="spacingAndGlyphs">RMSE=0.15</text>
<text class="mn" x="17.20" y="117.38" textLength="22.46" lengthAdjust="spacingAndGlyphs">CanESM5</text>
<text class="yl" transform="translate(6.10,134.46) rotate(-90)" text-anchor="middle"><tspan font-style="italic">&#916;GMST</tspan> [K]</text>
<clipPath id="c30"><rect x="15.50" y="163.82" width="65.10" height="42.75"/></clipPath>
<g clip-path="url(#c30)">
<polyline class="g" points="18.5,199.74 18.7,200.22 18.9,199.03 19.2,199.60 19.4,200.23 19.6,202.17 19.9,203.04 20.1,202.44 20.4,202.16 20.6,201.76 20.8,201.72 21.1,200.94 21.3,199.67 21.5,202.16 21.8,201.75 22.0,198.96 22.2,199.37 22.5,200.67 22.7,200.00 23.0,199.23 23.2,198.28 23.4,200.44 23.7,198.51 23.9,200.63 24.1,198.48 24.4,198.38 24.6,199.83 24.9,200.47 25.1,200.39 25.3,201.09 25.6,201.39 25.8,201.08 26.0,201.87 26.3,203.27 26.5,203.02 26.7,200.81 27.0,199.96 27.2,198.55 27.5,199.96 27.7,200.24 27.9,201.17 28.2,199.80 28.4,201.38 28.6,200.16 28.9,199.53 29.1,199.37 29.3,199.39 29.6,200.14 29.8,201.33 30.1,201.56 30.3,201.11 30.5,203.20 30.8,203.08 31.0,204.11 31.2,202.06 31.5,200.55 31.7,200.10 32.0,201.65 32.2,203.09 32.4,201.49 32.7,200.67 32.9,200.80 33.1,200.97 33.4,200.37 33.6,198.99 33.8,198.56 34.1,200.81 34.3,201.16 34.6,200.57 34.8,200.95 35.0,200.21 35.3,200.17 35.5,201.74 35.7,202.98 36.0,201.07 36.2,201.17 36.5,200.28 36.7,202.26 36.9,199.97 37.2,198.45 37.4,200.35 37.6,200.37 37.9,200.09 38.1,200.48 38.3,200.62 38.6,200.06 38.8,200.02 39.1,199.87 39.3,199.83 39.5,201.42 39.8,199.65 40.0,200.61 40.2,200.31 40.5,200.47 40.7,200.22 40.9,199.29 41.2,197.90 41.4,197.21 41.7,199.81 41.9,201.34 42.1,200.29 42.4,199.36 42.6,198.17 42.8,200.00 43.1,199.14 43.3,198.13 43.6,199.08 43.8,200.19 44.0,199.78 44.3,200.67 44.5,198.78 44.7,198.43 45.0,200.33 45.2,200.31 45.4,201.24 45.7,201.15 45.9,201.03 46.2,202.55 46.4,201.01 46.6,200.93 46.9,199.49 47.1,198.75 47.3,200.47 47.6,200.65 47.8,201.37 48.0,200.82 48.3,200.54 48.5,198.93 48.8,200.29 49.0,199.97 49.2,201.32 49.5,198.95 49.7,200.00 49.9,198.78 50.2,199.80 50.4,198.71 50.7,198.37 50.9,198.50 51.1,196.71 51.4,196.75 51.6,194.26 51.8,195.36 52.1,195.74 52.3,194.50 52.5,191.53 52.8,191.26 53.0,192.03 53.3,189.22 53.5,189.09 53.7,188.93 54.0,189.12 54.2,189.65 54.4,189.21 54.7,190.22 54.9,189.70 55.2,186.84 55.4,187.16 55.6,187.64 55.9,186.27 56.1,187.16 56.3,188.08 56.6,186.41 56.8,186.09 57.0,183.13 57.3,182.85 57.5,184.01 57.8,183.28 58.0,183.12 58.2,183.06 58.5,182.55 58.7,181.74 58.9,180.70 59.2,179.92 59.4,180.42 59.6,180.22 59.9,180.73 60.1,180.08 60.4,180.53 60.6,179.89 60.8,177.84 61.1,179.66 61.3,179.87 61.5,177.97 61.8,177.58 62.0,177.15 62.3,180.13 62.5,179.78 62.7,178.79 63.0,179.71 63.2,177.31 63.4,178.76 63.7,176.66 63.9,176.00 64.1,175.89 64.4,175.14 64.6,175.92 64.9,176.99 65.1,176.88 65.3,176.08 65.6,176.02 65.8,176.10 66.0,175.02 66.3,172.13 66.5,171.47 66.8,172.25 67.0,172.29 67.2,173.46 67.5,174.63 67.7,174.23 67.9,173.29 68.2,174.18 68.4,175.14 68.6,174.71 68.9,175.31 69.1,174.69 69.4,174.73 69.6,173.52 69.8,172.65 70.1,173.03 70.3,173.07 70.5,172.01 70.8,173.76 71.0,174.21 71.2,174.09 71.5,172.72 71.7,174.90 72.0,174.88 72.2,173.53 72.4,171.96 72.7,172.36 72.9,174.01 73.1,173.97 73.4,172.54 73.6,173.45 73.9,174.07 74.1,171.98 74.3,172.26 74.6,172.43 74.8,173.68 75.0,173.79 75.3,174.52 75.5,177.52 75.7,176.50 76.0,175.41 76.2,174.70 76.5,176.20 76.7,176.70 76.9,175.73 77.2,174.33 77.4,174.03 77.6,174.48"/>
<polyline class="o" points="18.5,200.85 18.9,200.77 19.4,200.69 19.9,200.60 20.4,200.51 20.8,200.42 21.3,200.31 21.8,200.21 22.2,200.10 22.7,199.98 23.2,199.86 23.7,199.74 24.1,199.61 24.6,199.48 25.1,199.34 25.6,199.21 26.0,199.06 26.5,198.92 27.0,198.77 27.5,198.62 27.9,198.47 28.4,198.31 28.9,198.15 29.3,197.99 29.8,197.83 30.3,197.66 30.8,197.49 31.2,197.33 31.7,197.16 32.2,196.99 32.7,196.81 33.1,196.63 33.6,196.45 34.1,196.26 34.6,196.07 35.0,195.87 35.5,195.66 36.0,195.44 36.5,195.22 36.9,194.99 37.4,194.75 37.9,194.50 38.3,194.24 38.8,193.97 39.3,193.69 39.8,193.39 40.2,193.09 40.7,192.77 41.2,192.43 41.7,192.08 42.1,191.72 42.6,191.30 43.1,190.81 43.6,190.25 44.0,189.63 44.5,188.96 45.0,188.25 45.4,187.51 45.9,186.74 46.4,185.96 46.9,185.17 47.3,184.38 47.8,183.61 48.3,182.84 48.8,182.02 49.2,181.16 49.7,180.26 50.2,179.33 50.7,178.40 51.1,177.46 51.6,176.54 52.1,175.65 52.5,174.80 53.0,174.00 53.5,173.27 54.0,172.61 54.4,172.00 54.9,171.40 55.4,170.80 55.9,170.22 56.3,169.65 56.8,169.12 57.3,168.61 57.8,168.14 58.2,167.72 58.7,167.35 59.2,167.03 59.6,166.77 60.1,166.58 60.6,166.39 61.1,166.21 61.5,166.04 62.0,165.88 62.5,165.73 63.0,165.60 63.4,165.48 63.9,165.38 64.4,165.30 64.9,165.23 65.3,165.20 65.8,165.18 66.3,165.19 66.8,165.21 67.2,165.23 67.7,165.27 68.2,165.31 68.6,165.36 69.1,165.42 69.6,165.48 70.1,165.55 70.5,165.62 71.0,165.70 71.5,165.78 72.0,165.86 72.4,165.97 72.9,166.10 73.4,166.26 73.9,166.43 74.3,166.63 74.8,166.84 75.3,167.06 75.7,167.31 76.2,167.56 76.7,167.82 77.2,168.09 77.6,168.37"/>
<polyline class="p" points="18.5,200.85 18.9,200.85 19.4,200.85 19.9,200.85 20.4,200.85 20.8,200.85 21.3,200.85 21.8,200.85 22.2,200.85 22.7,200.85 23.2,200.85 23.7,200.85 24.1,200.85 24.6,200.85 25.1,200.85 25.6,200.85 26.0,200.85 26.5,200.85 27.0,200.85 27.5,200.85 27.9,200.85 28.4,200.85 28.9,200.85 29.3,200.85 29.8,200.85 30.3,200.85 30.8,200.84 31.2,200.84 31.7,200.84 32.2,200.83 32.7,200.82 33.1,200.81 33.6,200.80 34.1,200.79 34.6,200.78 35.0,200.77 35.5,200.76 36.0,200.75 36.5,200.73 36.9,200.72 37.4,200.71 37.9,200.70 38.3,200.68 38.8,200.67 39.3,200.66 39.8,200.66 40.2,200.65 40.7,200.64 41.2,200.64 41.7,200.63 42.1,200.63 42.6,200.64 43.1,200.67 43.6,200.72 44.0,200.78 44.5,200.85 45.0,201.02 45.4,201.31 45.9,201.58 46.4,201.69 46.9,201.69 47.3,201.69 47.8,201.19 48.3,200.57 48.8,200.05 49.2,199.53 49.7,198.99 50.2,198.40 50.7,197.74 51.1,196.98 51.6,196.15 52.1,195.27 52.5,194.36 53.0,193.45 53.5,192.56 54.0,191.72 54.4,190.90 54.9,190.08 55.4,189.24 55.9,188.41 56.3,187.59 56.8,186.78 57.3,185.98 57.8,185.21 58.2,184.46 58.7,183.75 59.2,183.08 59.6,182.46 60.1,181.88 60.6,181.32 61.1,180.78 61.5,180.25 62.0,179.74 62.5,179.25 63.0,178.78 63.4,178.33 63.9,177.90 64.4,177.50 64.9,177.12 65.3,176.76 65.8,176.43 66.3,176.10 66.8,175.76 67.2,175.46 67.7,175.24 68.2,175.16 68.6,175.16 69.1,175.16 69.6,175.16 70.1,175.16 70.5,175.16 71.0,175.16 71.5,175.16 72.0,175.16 72.4,175.16 72.9,175.17 73.4,175.18 73.9,175.19 74.3,175.21 74.8,175.23 75.3,175.25 75.7,175.27 76.2,175.29 76.7,175.32 77.2,175.35 77.6,175.37"/>
</g>
<rect class="ax" x="15.50" y="163.82" width="65.10" height="42.75"/>
<line class="tk" x1="30.30" y1="206.57" x2="30.30" y2="208.17"/>
<text class="xt" x="30.30" y="213.97" text-anchor="middle" textLength="10.69" lengthAdjust="spacingAndGlyphs">1900</text>
<line class="tk" x1="53.97" y1="206.57" x2="53.97" y2="208.17"/>
<text class="xt" x="53.97" y="213.97" text-anchor="middle" textLength="10.69" lengthAdjust="spacingAndGlyphs">2000</text>
<line class="tk" x1="77.64" y1="206.57" x2="77.64" y2="208.17"/>
<text class="xt" x="77.64" y="213.97" text-anchor="middle" textLength="10.69" lengthAdjust="spacingAndGlyphs">2100</text>
<line class="tk" x1="13.90" y1="201.74" x2="15.50" y2="201.74"/>
<text class="yt" x="12.30" y="203.49" text-anchor="end" textLength="2.67" lengthAdjust="spacingAndGlyphs">0</text>
<line class="tk" x1="13.90" y1="190.53" x2="15.50" y2="190.53"/>
<text class="yt" x="12.30" y="192.28" text-anchor="end" textLength="2.67" lengthAdjust="spacingAndGlyphs">1</text>
<line class="tk" x1="13.90" y1="179.32" x2="15.50" y2="179.32"/>
<text class="yt" x="12.30" y="181.07" text-anchor="end" textLength="2.67" lengthAdjust="spacingAndGlyphs">2</text>
<line class="tk" x1="13.90" y1="168.11" x2="15.50" y2="168.11"/>
<text class="yt" x="12.30" y="169.86" text-anchor="end" textLength="2.67" lengthAdjust="spacingAndGlyphs">3</text>
<text class="an" x="78.80" y="201.92" text-anchor="end" textLength="15.60" lengthAdjust="spacingAndGlyphs">r<tspan class="sup" dy="-1.3">2</tspan><tspan dy="1.3">=0.98</tspan></text>
<text class="an" x="78.80" y="205.62" text-anchor="end" textLength="23.43" lengthAdjust="spacingAndGlyphs">RMSE=0.15</text>
<clipPath id="c31"><rect x="93.52" y="163.82" width="65.10" height="42.75"/></clipPath>
<g clip-path="url(#c31)">
<polyline class="g" points="96.5,200.48 96.7,200.91 97.0,199.83 97.2,200.34 97.4,200.91 97.7,202.67 97.9,203.46 98.1,202.92 98.4,202.66 98.6,202.29 98.8,202.25 99.1,201.53 99.3,200.38 99.6,202.64 99.8,202.27 100.0,199.72 100.3,200.10 100.5,201.27 100.7,200.66 101.0,199.96 101.2,199.09 101.5,201.05 101.7,199.29 101.9,201.22 102.2,199.25 102.4,199.15 102.6,200.48 102.9,201.05 103.1,200.97 103.3,201.60 103.6,201.87 103.8,201.58 104.1,202.33 104.3,203.67 104.5,203.51 104.8,201.43 105.0,200.57 105.2,199.26 105.5,200.53 105.7,200.78 105.9,201.62 106.2,200.37 106.4,201.80 106.7,200.69 106.9,200.11 107.1,199.96 107.4,199.97 107.6,200.64 107.8,201.72 108.1,201.92 108.3,201.51 108.6,203.42 108.8,203.36 109.0,204.34 109.3,202.43 109.5,201.00 109.7,200.58 110.0,201.99 110.2,203.30 110.4,201.85 110.7,201.11 110.9,201.22 111.2,201.39 111.4,200.84 111.6,199.59 111.9,199.21 112.1,201.26 112.3,201.59 112.6,201.06 112.8,201.41 113.0,200.75 113.3,200.72 113.5,202.15 113.8,203.29 114.0,201.56 114.2,201.66 114.5,200.86 114.7,202.67 114.9,200.59 115.2,199.22 115.4,200.95 115.7,200.98 115.9,200.73 116.1,201.10 116.4,201.23 116.6,200.72 116.8,200.69 117.1,200.55 117.3,200.52 117.5,201.98 117.8,200.37 118.0,201.24 118.3,200.97 118.5,201.11 118.7,200.88 119.0,200.04 119.2,198.77 119.4,198.14 119.7,200.49 119.9,201.88 120.2,200.92 120.4,200.06 120.6,198.97 120.9,200.61 121.1,199.81 121.3,198.87 121.6,199.71 121.8,200.70 122.0,200.30 122.3,201.09 122.5,199.35 122.8,199.02 123.0,200.76 123.2,200.84 123.5,201.78 123.7,201.65 123.9,201.47 124.2,202.84 124.4,201.45 124.6,201.36 124.9,200.01 125.1,199.29 125.4,200.79 125.6,201.01 125.8,201.89 126.1,201.61 126.3,201.51 126.5,200.18 126.8,201.52 127.0,201.32 127.3,202.62 127.5,200.54 127.7,201.62 128.0,200.63 128.2,201.60 128.4,200.65 128.7,200.45 128.9,200.71 129.1,199.23 129.4,199.42 129.6,197.35 129.9,198.60 130.1,199.19 130.3,198.16 130.6,195.54 130.8,195.43 131.0,196.28 131.3,193.86 131.5,193.87 131.8,193.83 132.0,194.08 132.2,194.63 132.5,194.29 132.7,195.26 132.9,194.83 133.2,192.26 133.4,192.57 133.6,193.03 133.9,191.80 134.1,192.60 134.4,193.44 134.6,191.92 134.8,191.61 135.1,188.90 135.3,188.62 135.5,188.89 135.8,189.39 136.0,188.44 136.2,187.37 136.5,186.95 136.7,186.21 137.0,185.30 137.2,187.30 137.4,187.45 137.7,187.01 137.9,186.53 138.1,186.86 138.4,185.75 138.6,184.61 138.9,185.61 139.1,185.12 139.3,183.97 139.6,184.61 139.8,184.07 140.0,183.17 140.3,182.96 140.5,182.50 140.7,182.83 141.0,184.13 141.2,183.81 141.5,182.41 141.7,180.71 141.9,180.90 142.2,181.64 142.4,182.02 142.6,180.86 142.9,180.87 143.1,180.19 143.4,181.15 143.6,179.81 143.8,178.46 144.1,179.58 144.3,179.81 144.5,179.80 144.8,180.51 145.0,180.25 145.2,179.64 145.5,177.97 145.7,178.91 146.0,177.43 146.2,178.10 146.4,177.99 146.7,177.92 146.9,178.71 147.1,177.03 147.4,175.59 147.6,176.99 147.8,177.14 148.1,177.59 148.3,176.59 148.6,176.76 148.8,175.93 149.0,175.27 149.3,174.43 149.5,174.35 149.7,173.57 150.0,174.12 150.2,174.69 150.5,175.16 150.7,173.74 150.9,173.25 151.2,172.49 151.4,173.15 151.6,172.33 151.9,172.69 152.1,173.31 152.3,172.41 152.6,173.62 152.8,173.10 153.1,172.92 153.3,172.76 153.5,174.24 153.8,175.02 154.0,175.06 154.2,172.85 154.5,170.82 154.7,170.94 155.0,172.70 155.2,173.11 155.4,173.03 155.7,173.59"/>
<polyline class="o" points="96.5,201.48 97.0,201.45 97.4,201.41 97.9,201.36 98.4,201.31 98.8,201.26 99.3,201.20 99.8,201.14 100.3,201.08 100.7,201.01 101.2,200.94 101.7,200.86 102.2,200.78 102.6,200.70 103.1,200.62 103.6,200.54 104.1,200.45 104.5,200.36 105.0,200.27 105.5,200.17 105.9,200.08 106.4,199.98 106.9,199.88 107.4,199.78 107.8,199.67 108.3,199.57 108.8,199.47 109.3,199.36 109.7,199.25 110.2,199.14 110.7,199.02 111.2,198.91 111.6,198.78 112.1,198.66 112.6,198.53 113.0,198.39 113.5,198.25 114.0,198.10 114.5,197.95 114.9,197.79 115.4,197.63 115.9,197.45 116.4,197.28 116.8,197.09 117.3,196.89 117.8,196.69 118.3,196.48 118.7,196.26 119.2,196.03 119.7,195.79 120.2,195.54 120.6,195.26 121.1,194.92 121.6,194.54 122.0,194.12 122.5,193.66 123.0,193.17 123.5,192.65 123.9,192.12 124.4,191.57 124.9,191.01 125.4,190.44 125.8,189.88 126.3,189.31 126.8,188.72 127.3,188.09 127.7,187.44 128.2,186.76 128.7,186.07 129.1,185.36 129.6,184.64 130.1,183.93 130.6,183.21 131.0,182.49 131.5,181.79 132.0,181.10 132.5,180.41 132.9,179.68 133.4,178.94 133.9,178.19 134.4,177.44 134.8,176.69 135.3,175.96 135.8,175.25 136.2,174.58 136.7,173.95 137.2,173.37 137.7,172.85 138.1,172.39 138.6,171.95 139.1,171.54 139.6,171.14 140.0,170.76 140.5,170.40 141.0,170.05 141.5,169.73 141.9,169.42 142.4,169.13 142.9,168.86 143.4,168.60 143.8,168.37 144.3,168.14 144.8,167.92 145.2,167.71 145.7,167.50 146.2,167.31 146.7,167.12 147.1,166.94 147.6,166.78 148.1,166.63 148.6,166.50 149.0,166.38 149.5,166.29 150.0,166.21 150.5,166.13 150.9,166.05 151.4,165.98 151.9,165.91 152.3,165.85 152.8,165.79 153.3,165.74 153.8,165.69 154.2,165.66 154.7,165.63 155.2,165.61 155.7,165.61"/>
<polyline class="p" points="96.5,201.48 97.0,201.47 97.4,201.47 97.9,201.46 98.4,201.45 98.8,201.44 99.3,201.43 99.8,201.42 100.3,201.41 100.7,201.41 101.2,201.40 101.7,201.39 102.2,201.38 102.6,201.37 103.1,201.36 103.6,201.35 104.1,201.35 104.5,201.34 105.0,201.33 105.5,201.32 105.9,201.31 106.4,201.30 106.9,201.30 107.4,201.29 107.8,201.28 108.3,201.27 108.8,201.26 109.3,201.25 109.7,201.24 110.2,201.23 110.7,201.22 111.2,201.21 111.6,201.20 112.1,201.19 112.6,201.18 113.0,201.16 113.5,201.15 114.0,201.14 114.5,201.13 114.9,201.12 115.4,201.11 115.9,201.10 116.4,201.09 116.8,201.09 117.3,201.08 117.8,201.07 118.3,201.07 118.7,201.06 119.2,201.06 119.7,201.06 120.2,201.06 120.6,201.06 121.1,201.06 121.6,201.06 122.0,201.06 122.5,201.06 123.0,201.19 123.5,201.48 123.9,201.77 124.4,201.91 124.9,201.86 125.4,201.73 125.8,201.57 126.3,201.38 126.8,201.11 127.3,200.78 127.7,200.39 128.2,199.99 128.7,199.58 129.1,199.14 129.6,198.67 130.1,198.17 130.6,197.64 131.0,197.09 131.5,196.53 132.0,195.96 132.5,195.36 132.9,194.73 133.4,194.05 133.9,193.35 134.4,192.64 134.8,191.91 135.3,191.18 135.8,190.46 136.2,189.75 136.7,189.06 137.2,188.39 137.7,187.77 138.1,187.18 138.6,186.61 139.1,186.05 139.6,185.50 140.0,184.96 140.5,184.44 141.0,183.92 141.5,183.42 141.9,182.93 142.4,182.46 142.9,181.99 143.4,181.54 143.8,181.10 144.3,180.67 144.8,180.25 145.2,179.83 145.7,179.42 146.2,179.02 146.7,178.63 147.1,178.25 147.6,177.88 148.1,177.53 148.6,177.19 149.0,176.87 149.5,176.58 150.0,176.30 150.5,176.03 150.9,175.76 151.4,175.50 151.9,175.26 152.3,175.02 152.8,174.79 153.3,174.57 153.8,174.37 154.2,174.17 154.7,173.99 155.2,173.83 155.7,173.67"/>
</g>
<rect class="ax" x="93.52" y="163.82" width="65.10" height="42.75"/>
<line class="tk" x1="108.32" y1="206.57" x2="108.32" y2="208.17"/>
<text class="xt" x="108.32" y="213.97" text-anchor="middle" textLength="10.69" lengthAdjust="spacingAndGlyphs">1900</text>
<line class="tk" x1="131.99" y1="206.57" x2="131.99" y2="208.17"/>
<text class="xt" x="131.99" y="213.97" text-anchor="middle" textLength="10.69" lengthAdjust="spacingAndGlyphs">2000</text>
<line class="tk" x1="155.66" y1="206.57" x2="155.66" y2="208.17"/>
<text class="xt" x="155.66" y="213.97" text-anchor="middle" textLength="10.69" lengthAdjust="spacingAndGlyphs">2100</text>
<line class="tk" x1="91.92" y1="202.27" x2="93.52" y2="202.27"/>
<text class="yt" x="90.32" y="204.02" text-anchor="end" textLength="2.67" lengthAdjust="spacingAndGlyphs">0</text>
<line class="tk" x1="91.92" y1="186.18" x2="93.52" y2="186.18"/>
<text class="yt" x="90.32" y="187.93" text-anchor="end" textLength="2.67" lengthAdjust="spacingAndGlyphs">2</text>
<line class="tk" x1="91.92" y1="170.08" x2="93.52" y2="170.08"/>
<text class="yt" x="90.32" y="171.83" text-anchor="end" textLength="2.67" lengthAdjust="spacingAndGlyphs">4</text>
<text class="an" x="156.82" y="201.92" text-anchor="end" textLength="15.60" lengthAdjust="spacingAndGlyphs">r<tspan class="sup" dy="-1.3">2</tspan><tspan dy="1.3">=0.98</tspan></text>
<text class="an" x="156.82" y="205.62" text-anchor="end" textLength="23.43" lengthAdjust="spacingAndGlyphs">RMSE=0.20</text>
<clipPath id="c32"><rect x="171.54" y="163.82" width="65.10" height="42.75"/></clipPath>
<g clip-path="url(#c32)">
<polyline class="g" points="174.5,201.43 174.7,201.82 175.0,200.85 175.2,201.31 175.4,201.83 175.7,203.41 175.9,204.13 176.2,203.64 176.4,203.41 176.6,203.08 176.9,203.05 177.1,202.41 177.3,201.37 177.6,203.41 177.8,203.07 178.0,200.78 178.3,201.13 178.5,202.19 178.8,201.64 179.0,201.01 179.2,200.23 179.5,202.00 179.7,200.42 179.9,202.16 180.2,200.40 180.4,200.31 180.7,201.50 180.9,202.03 181.1,201.96 181.4,202.53 181.6,202.78 181.8,202.53 182.1,203.22 182.3,204.54 182.5,204.48 182.8,202.53 183.0,201.66 183.3,200.46 183.5,201.61 183.7,201.84 184.0,202.60 184.2,201.47 184.4,202.77 184.7,201.77 184.9,201.26 185.2,201.13 185.4,201.14 185.6,201.75 185.9,202.73 186.1,202.91 186.3,202.55 186.6,204.29 186.8,204.30 187.0,205.23 187.3,203.47 187.5,202.12 187.8,201.73 188.0,203.00 188.2,204.18 188.5,202.88 188.7,202.21 188.9,202.32 189.2,202.47 189.4,201.98 189.6,200.85 189.9,200.51 190.1,202.36 190.4,202.65 190.6,202.17 190.8,202.48 191.1,201.89 191.3,201.86 191.5,203.15 191.8,204.17 192.0,202.61 192.3,202.70 192.5,201.97 192.7,203.60 193.0,201.73 193.2,200.49 193.4,202.05 193.7,202.07 193.9,201.84 194.1,202.17 194.4,202.29 194.6,201.83 194.9,201.79 195.1,201.67 195.3,201.64 195.6,202.94 195.8,201.49 196.0,202.27 196.3,202.03 196.5,202.16 196.8,201.95 197.0,201.18 197.2,200.04 197.5,199.47 197.7,201.59 197.9,202.84 198.2,201.97 198.4,201.20 198.6,200.22 198.9,201.70 199.1,200.97 199.4,200.13 199.6,200.88 199.8,201.77 200.1,201.41 200.3,202.12 200.5,200.55 200.8,200.25 201.0,201.83 201.2,201.98 201.5,202.88 201.7,202.65 202.0,202.37 202.2,203.57 202.4,202.30 202.7,202.22 202.9,201.01 203.1,200.35 203.4,201.68 203.6,201.88 203.9,202.66 204.1,202.41 204.3,202.32 204.6,201.13 204.8,202.36 205.0,202.21 205.3,203.41 205.5,201.60 205.7,202.67 206.0,201.87 206.2,202.74 206.5,201.88 206.7,201.72 206.9,202.01 207.2,200.73 207.4,200.97 207.6,199.20 207.9,200.49 208.1,201.18 208.4,200.24 208.6,197.86 208.8,197.81 209.1,198.64 209.3,196.53 209.5,196.61 209.8,196.64 210.0,196.92 210.2,197.47 210.5,197.22 210.7,198.15 211.0,197.81 211.2,195.55 211.4,195.88 211.7,196.35 211.9,195.28 212.1,196.05 212.4,196.85 212.6,195.52 212.8,195.28 213.1,192.87 213.3,192.66 213.6,193.60 213.8,194.75 214.0,193.91 214.3,193.79 214.5,193.89 214.7,192.39 215.0,191.91 215.2,190.57 215.5,191.16 215.7,191.68 215.9,191.82 216.2,190.07 216.4,188.55 216.6,189.83 216.9,190.09 217.1,189.15 217.3,190.41 217.6,189.79 217.8,190.06 218.1,188.77 218.3,188.15 218.5,188.11 218.8,187.92 219.0,188.08 219.2,187.79 219.5,186.88 219.7,185.86 220.0,186.91 220.2,186.14 220.4,186.68 220.7,186.99 220.9,187.62 221.1,186.18 221.4,185.22 221.6,184.82 221.8,183.75 222.1,183.71 222.3,184.93 222.6,185.14 222.8,184.13 223.0,184.15 223.3,183.43 223.5,183.23 223.7,181.71 224.0,182.26 224.2,182.00 224.4,181.14 224.7,180.84 224.9,179.98 225.2,180.19 225.4,182.54 225.6,181.01 225.9,180.27 226.1,180.35 226.3,178.04 226.6,178.45 226.8,177.75 227.1,178.65 227.3,180.29 227.5,178.86 227.8,178.84 228.0,178.17 228.2,175.96 228.5,176.57 228.7,177.48 228.9,177.24 229.2,177.89 229.4,175.97 229.7,176.07 229.9,175.85 230.1,174.53 230.4,174.74 230.6,174.84 230.8,175.30 231.1,175.38 231.3,176.00 231.6,175.33 231.8,176.42 232.0,176.16 232.3,176.55 232.5,174.83 232.7,174.32 233.0,172.00 233.2,172.40 233.4,173.18 233.7,173.30"/>
<polyline class="o" points="174.5,202.33 175.0,202.31 175.4,202.28 175.9,202.26 176.4,202.23 176.9,202.20 177.3,202.17 177.8,202.13 178.3,202.09 178.8,202.06 179.2,202.02 179.7,201.98 180.2,201.93 180.7,201.89 181.1,201.84 181.6,201.80 182.1,201.75 182.5,201.70 183.0,201.65 183.5,201.60 184.0,201.54 184.4,201.49 184.9,201.44 185.4,201.38 185.9,201.33 186.3,201.27 186.8,201.21 187.3,201.15 187.8,201.09 188.2,201.03 188.7,200.97 189.2,200.91 189.6,200.84 190.1,200.77 190.6,200.70 191.1,200.63 191.5,200.55 192.0,200.47 192.5,200.39 193.0,200.31 193.4,200.22 193.9,200.13 194.4,200.04 194.9,199.94 195.3,199.84 195.8,199.74 196.3,199.63 196.8,199.51 197.2,199.40 197.7,199.27 198.2,199.15 198.6,199.01 199.1,198.86 199.6,198.69 200.1,198.51 200.5,198.32 201.0,198.11 201.5,197.89 202.0,197.65 202.4,197.39 202.9,197.13 203.4,196.84 203.9,196.54 204.3,196.22 204.8,195.84 205.3,195.39 205.7,194.89 206.2,194.35 206.7,193.77 207.2,193.17 207.6,192.56 208.1,191.94 208.6,191.32 209.1,190.72 209.5,190.14 210.0,189.59 210.5,189.07 211.0,188.54 211.4,188.01 211.9,187.49 212.4,186.96 212.8,186.44 213.3,185.93 213.8,185.42 214.3,184.91 214.7,184.42 215.2,183.93 215.7,183.46 216.2,183.00 216.6,182.55 217.1,182.10 217.6,181.67 218.1,181.25 218.5,180.83 219.0,180.41 219.5,180.00 220.0,179.58 220.4,179.17 220.9,178.76 221.4,178.34 221.8,177.92 222.3,177.50 222.8,177.09 223.3,176.68 223.7,176.27 224.2,175.86 224.7,175.45 225.2,175.04 225.6,174.62 226.1,174.19 226.6,173.76 227.1,173.31 227.5,172.85 228.0,172.37 228.5,171.89 228.9,171.39 229.4,170.87 229.9,170.35 230.4,169.82 230.8,169.28 231.3,168.72 231.8,168.16 232.3,167.59 232.7,167.01 233.2,166.42 233.7,165.82"/>
<polyline class="p" points="174.5,202.33 175.0,202.33 175.4,202.33 175.9,202.33 176.4,202.33 176.9,202.33 177.3,202.33 177.8,202.33 178.3,202.33 178.8,202.33 179.2,202.33 179.7,202.33 180.2,202.33 180.7,202.33 181.1,202.33 181.6,202.33 182.1,202.33 182.5,202.33 183.0,202.33 183.5,202.33 184.0,202.33 184.4,202.33 184.9,202.33 185.4,202.33 185.9,202.33 186.3,202.33 186.8,202.33 187.3,202.33 187.8,202.32 188.2,202.32 188.7,202.31 189.2,202.30 189.6,202.29 190.1,202.28 190.6,202.27 191.1,202.26 191.5,202.24 192.0,202.23 192.5,202.22 193.0,202.21 193.4,202.19 193.9,202.18 194.4,202.17 194.9,202.16 195.3,202.15 195.8,202.14 196.3,202.13 196.8,202.13 197.2,202.12 197.7,202.12 198.2,202.12 198.6,202.12 199.1,202.12 199.6,202.12 200.1,202.12 200.5,202.12 201.0,202.22 201.5,202.44 202.0,202.66 202.4,202.76 202.9,202.70 203.4,202.58 203.9,202.41 204.3,202.24 204.8,202.03 205.3,201.77 205.7,201.49 206.2,201.20 206.7,200.91 207.2,200.61 207.6,200.30 208.1,199.98 208.6,199.64 209.1,199.29 209.5,198.91 210.0,198.51 210.5,198.08 211.0,197.61 211.4,197.10 211.9,196.57 212.4,196.01 212.8,195.44 213.3,194.86 213.8,194.27 214.3,193.68 214.7,193.10 215.2,192.53 215.7,191.98 216.2,191.45 216.6,190.93 217.1,190.40 217.6,189.87 218.1,189.35 218.5,188.82 219.0,188.31 219.5,187.79 220.0,187.29 220.4,186.79 220.9,186.30 221.4,185.82 221.8,185.35 222.3,184.89 222.8,184.45 223.3,184.01 223.7,183.58 224.2,183.16 224.7,182.74 225.2,182.33 225.6,181.91 226.1,181.50 226.6,181.09 227.1,180.67 227.5,180.25 228.0,179.83 228.5,179.41 228.9,178.98 229.4,178.56 229.9,178.13 230.4,177.71 230.8,177.28 231.3,176.86 231.8,176.43 232.3,176.01 232.7,175.59 233.2,175.16 233.7,174.74"/>
</g>
<rect class="ax" x="171.54" y="163.82" width="65.10" height="42.75"/>
<line class="tk" x1="186.34" y1="206.57" x2="186.34" y2="208.17"/>
<text class="xt" x="186.34" y="213.97" text-anchor="middle" textLength="10.69" lengthAdjust="spacingAndGlyphs">1900</text>
<line class="tk" x1="210.01" y1="206.57" x2="210.01" y2="208.17"/>
<text class="xt" x="210.01" y="213.97" text-anchor="middle" textLength="10.69" lengthAdjust="spacingAndGlyphs">2000</text>
<line class="tk" x1="233.68" y1="206.57" x2="233.68" y2="208.17"/>
<text class="xt" x="233.68" y="213.97" text-anchor="middle" textLength="10.69" lengthAdjust="spacingAndGlyphs">2100</text>
<line class="tk" x1="169.94" y1="202.64" x2="171.54" y2="202.64"/>
<text class="yt" x="168.34" y="204.39" text-anchor="end" textLength="2.67" lengthAdjust="spacingAndGlyphs">0</text>
<line class="tk" x1="169.94" y1="191.47" x2="171.54" y2="191.47"/>
<text class="yt" x="168.34" y="193.22" text-anchor="end" textLength="2.67" lengthAdjust="spacingAndGlyphs">2</text>
<line class="tk" x1="169.94" y1="180.30" x2="171.54" y2="180.30"/>
<text class="yt" x="168.34" y="182.05" text-anchor="end" textLength="2.67" lengthAdjust="spacingAndGlyphs">4</text>
<line class="tk" x1="169.94" y1="169.13" x2="171.54" y2="169.13"/>
<text class="yt" x="168.34" y="170.88" text-anchor="end" textLength="2.67" lengthAdjust="spacingAndGlyphs">6</text>
<text class="an" x="234.84" y="201.92" text-anchor="end" textLength="15.60" lengthAdjust="spacingAndGlyphs">r<tspan class="sup" dy="-1.3">2</tspan><tspan dy="1.3">=0.99</tspan></text>
<text class="an" x="234.84" y="205.62" text-anchor="end" textLength="23.43" lengthAdjust="spacingAndGlyphs">RMSE=0.19</text>
<clipPath id="c33"><rect x="249.56" y="163.82" width="65.10" height="42.75"/></clipPath>
<g clip-path="url(#c33)">
<polyline class="g" points="252.5,201.86 252.8,202.24 253.0,201.27 253.2,201.74 253.5,202.25 253.7,203.84 253.9,204.55 254.2,204.06 254.4,203.83 254.6,203.51 254.9,203.47 255.1,202.83 255.4,201.79 255.6,203.83 255.8,203.50 256.1,201.21 256.3,201.55 256.5,202.61 256.8,202.07 257.0,201.44 257.3,200.66 257.5,202.43 257.7,200.85 258.0,202.58 258.2,200.82 258.4,200.74 258.7,201.93 258.9,202.45 259.1,202.38 259.4,202.95 259.6,203.20 259.9,202.95 260.1,203.65 260.3,204.96 260.6,204.90 260.8,202.95 261.0,202.08 261.3,200.88 261.5,202.04 261.8,202.26 262.0,203.02 262.2,201.90 262.5,203.19 262.7,202.20 262.9,201.68 263.2,201.55 263.4,201.56 263.6,202.18 263.9,203.15 264.1,203.34 264.4,202.97 264.6,204.71 264.8,204.73 265.1,205.66 265.3,203.89 265.5,202.55 265.8,202.16 266.0,203.43 266.2,204.61 266.5,203.31 266.7,202.64 267.0,202.75 267.2,202.90 267.4,202.41 267.7,201.29 267.9,200.94 268.1,202.79 268.4,203.09 268.6,202.61 268.9,202.93 269.1,202.33 269.3,202.30 269.6,203.59 269.8,204.61 270.0,203.06 270.3,203.15 270.5,202.42 270.7,204.05 271.0,202.18 271.2,200.94 271.5,202.50 271.7,202.52 271.9,202.29 272.2,202.62 272.4,202.74 272.6,202.28 272.9,202.25 273.1,202.12 273.4,202.09 273.6,203.39 273.8,201.94 274.1,202.72 274.3,202.48 274.5,202.60 274.8,202.39 275.0,201.62 275.2,200.48 275.5,199.91 275.7,202.02 276.0,203.27 276.2,202.40 276.4,201.62 276.7,200.63 276.9,202.10 277.1,201.36 277.4,200.51 277.6,201.25 277.8,202.13 278.1,201.75 278.3,202.46 278.6,200.89 278.8,200.60 279.0,202.19 279.3,202.36 279.5,203.29 279.7,203.09 280.0,202.83 280.2,204.04 280.5,202.79 280.7,202.70 280.9,201.48 281.2,200.80 281.4,202.12 281.6,202.31 281.9,203.08 282.1,202.83 282.3,202.76 282.6,201.60 282.8,202.87 283.1,202.77 283.3,204.03 283.5,202.28 283.8,203.41 284.0,202.68 284.2,203.62 284.5,202.81 284.7,202.71 285.0,203.06 285.2,201.84 285.4,202.15 285.7,200.44 285.9,201.79 286.1,202.54 286.4,201.68 286.6,199.36 286.8,199.38 287.1,200.28 287.3,198.24 287.6,198.39 287.8,198.48 288.0,198.83 288.3,199.45 288.5,199.27 288.7,200.26 289.0,199.99 289.2,197.81 289.4,198.20 289.7,198.74 289.9,197.74 290.2,198.57 290.4,199.44 290.6,198.17 290.9,198.00 291.1,195.66 291.3,195.50 291.6,197.48 291.8,196.24 292.1,197.14 292.3,196.97 292.5,195.65 292.8,196.28 293.0,193.96 293.2,194.61 293.5,194.99 293.7,195.49 293.9,195.06 294.2,193.43 294.4,191.70 294.7,191.33 294.9,191.78 295.1,190.78 295.4,190.97 295.6,191.92 295.8,190.70 296.1,191.17 296.3,191.17 296.6,190.99 296.8,191.47 297.0,191.49 297.3,190.73 297.5,190.10 297.7,189.48 298.0,189.34 298.2,187.88 298.4,189.51 298.7,188.79 298.9,189.27 299.2,187.87 299.4,188.07 299.6,187.24 299.9,187.54 300.1,187.39 300.3,187.94 300.6,186.93 300.8,186.22 301.0,187.26 301.3,187.33 301.5,187.10 301.8,187.02 302.0,185.97 302.2,184.91 302.5,183.84 302.7,183.85 302.9,185.25 303.2,184.52 303.4,183.86 303.7,183.16 303.9,183.28 304.1,183.46 304.4,182.90 304.6,182.02 304.8,181.93 305.1,180.09 305.3,181.39 305.5,180.90 305.8,181.47 306.0,180.56 306.3,181.56 306.5,181.29 306.7,180.82 307.0,179.56 307.2,179.27 307.4,178.05 307.7,176.02 307.9,176.53 308.1,176.35 308.4,175.91 308.6,176.63 308.9,176.03 309.1,175.67 309.3,176.51 309.6,175.24 309.8,173.39 310.0,173.21 310.3,172.68 310.5,172.86 310.8,171.40 311.0,171.72 311.2,171.58 311.5,171.92 311.7,170.76"/>
<polyline class="o" points="252.5,202.76 253.0,202.75 253.5,202.73 253.9,202.72 254.4,202.70 254.9,202.68 255.4,202.66 255.8,202.63 256.3,202.60 256.8,202.57 257.3,202.54 257.7,202.51 258.2,202.47 258.7,202.44 259.1,202.40 259.6,202.36 260.1,202.32 260.6,202.28 261.0,202.23 261.5,202.19 262.0,202.14 262.5,202.10 262.9,202.05 263.4,202.00 263.9,201.95 264.4,201.91 264.8,201.86 265.3,201.80 265.8,201.75 266.2,201.69 266.7,201.63 267.2,201.57 267.7,201.51 268.1,201.44 268.6,201.37 269.1,201.29 269.6,201.22 270.0,201.14 270.5,201.05 271.0,200.97 271.5,200.88 271.9,200.79 272.4,200.69 272.9,200.59 273.4,200.49 273.8,200.38 274.3,200.27 274.8,200.15 275.2,200.03 275.7,199.91 276.2,199.78 276.7,199.65 277.1,199.49 277.6,199.32 278.1,199.13 278.6,198.93 279.0,198.71 279.5,198.48 280.0,198.24 280.5,197.99 280.9,197.72 281.4,197.45 281.9,197.17 282.3,196.87 282.8,196.55 283.3,196.19 283.8,195.80 284.2,195.39 284.7,194.95 285.2,194.50 285.7,194.04 286.1,193.58 286.6,193.11 287.1,192.64 287.6,192.17 288.0,191.72 288.5,191.26 289.0,190.80 289.4,190.33 289.9,189.86 290.4,189.38 290.9,188.90 291.3,188.41 291.8,187.93 292.3,187.44 292.8,186.96 293.2,186.48 293.7,186.01 294.2,185.54 294.7,185.08 295.1,184.62 295.6,184.17 296.1,183.72 296.6,183.27 297.0,182.82 297.5,182.37 298.0,181.91 298.4,181.46 298.9,180.99 299.4,180.52 299.9,180.04 300.3,179.56 300.8,179.08 301.3,178.59 301.8,178.10 302.2,177.61 302.7,177.11 303.2,176.60 303.7,176.09 304.1,175.57 304.6,175.04 305.1,174.51 305.5,173.95 306.0,173.39 306.5,172.82 307.0,172.23 307.4,171.64 307.9,171.03 308.4,170.41 308.9,169.79 309.3,169.15 309.8,168.50 310.3,167.84 310.8,167.18 311.2,166.50 311.7,165.82"/>
<polyline class="p" points="252.5,202.76 253.0,202.76 253.5,202.76 253.9,202.76 254.4,202.76 254.9,202.76 255.4,202.76 255.8,202.76 256.3,202.76 256.8,202.76 257.3,202.76 257.7,202.76 258.2,202.76 258.7,202.76 259.1,202.76 259.6,202.76 260.1,202.76 260.6,202.76 261.0,202.76 261.5,202.76 262.0,202.76 262.5,202.76 262.9,202.76 263.4,202.76 263.9,202.76 264.4,202.76 264.8,202.75 265.3,202.75 265.8,202.74 266.2,202.73 266.7,202.71 267.2,202.69 267.7,202.67 268.1,202.65 268.6,202.63 269.1,202.61 269.6,202.58 270.0,202.56 270.5,202.53 271.0,202.51 271.5,202.48 271.9,202.46 272.4,202.43 272.9,202.41 273.4,202.39 273.8,202.38 274.3,202.36 274.8,202.35 275.2,202.34 275.7,202.33 276.2,202.33 276.7,202.33 277.1,202.33 277.6,202.33 278.1,202.33 278.6,202.33 279.0,202.46 279.5,202.76 280.0,203.05 280.5,203.18 280.9,203.12 281.4,202.99 281.9,202.83 282.3,202.68 282.8,202.53 283.3,202.36 283.8,202.19 284.2,202.00 284.7,201.81 285.2,201.61 285.7,201.41 286.1,201.20 286.6,200.98 287.1,200.74 287.6,200.49 288.0,200.21 288.5,199.90 289.0,199.56 289.4,199.19 289.9,198.80 290.4,198.38 290.9,197.94 291.3,197.49 291.8,197.02 292.3,196.55 292.8,196.08 293.2,195.60 293.7,195.13 294.2,194.67 294.7,194.20 295.1,193.72 295.6,193.23 296.1,192.74 296.6,192.23 297.0,191.72 297.5,191.21 298.0,190.68 298.4,190.16 298.9,189.62 299.4,189.08 299.9,188.53 300.3,187.98 300.8,187.43 301.3,186.87 301.8,186.31 302.2,185.73 302.7,185.15 303.2,184.56 303.7,183.96 304.1,183.35 304.6,182.73 305.1,182.09 305.5,181.44 306.0,180.77 306.5,180.08 307.0,179.38 307.4,178.66 307.9,177.93 308.4,177.18 308.9,176.42 309.3,175.64 309.8,174.85 310.3,174.04 310.8,173.23 311.2,172.40 311.7,171.55"/>
</g>
<rect class="ax" x="249.56" y="163.82" width="65.10" height="42.75"/>
<line class="tk" x1="264.36" y1="206.57" x2="264.36" y2="208.17"/>
<text class="xt" x="264.36" y="213.97" text-anchor="middle" textLength="10.69" lengthAdjust="spacingAndGlyphs">1900</text>
<line class="tk" x1="288.03" y1="206.57" x2="288.03" y2="208.17"/>
<text class="xt" x="288.03" y="213.97" text-anchor="middle" textLength="10.69" lengthAdjust="spacingAndGlyphs">2000</text>
<line class="tk" x1="311.70" y1="206.57" x2="311.70" y2="208.17"/>
<text class="xt" x="311.70" y="213.97" text-anchor="middle" textLength="10.69" lengthAdjust="spacingAndGlyphs">2100</text>
<line class="tk" x1="247.96" y1="203.17" x2="249.56" y2="203.17"/>
<text class="yt" x="246.36" y="204.92" text-anchor="end" textLength="6.68" lengthAdjust="spacingAndGlyphs">0.0</text>
<line class="tk" x1="247.96" y1="190.49" x2="249.56" y2="190.49"/>
<text class="yt" x="246.36" y="192.24" text-anchor="end" textLength="6.68" lengthAdjust="spacingAndGlyphs">2.5</text>
<line class="tk" x1="247.96" y1="177.80" x2="249.56" y2="177.80"/>
<text class="yt" x="246.36" y="179.55" text-anchor="end" textLength="6.68" lengthAdjust="spacingAndGlyphs">5.0</text>
<line class="tk" x1="247.96" y1="165.11" x2="249.56" y2="165.11"/>
<text class="yt" x="246.36" y="166.86" text-anchor="end" textLength="6.68" lengthAdjust="spacingAndGlyphs">7.5</text>
<text class="an" x="312.86" y="201.92" text-anchor="end" textLength="15.60" lengthAdjust="spacingAndGlyphs">r<tspan class="sup" dy="-1.3">2</tspan><tspan dy="1.3">=0.99</tspan></text>
<text class="an" x="312.86" y="205.62" text-anchor="end" textLength="23.43" lengthAdjust="spacingAndGlyphs">RMSE=0.19</text>
<text class="mn" x="17.20" y="168.72" textLength="34.66" lengthAdjust="spacingAndGlyphs">EC-Earth3-Veg</text>
<text class="yl" transform="translate(6.10,185.80) rotate(-90)" text-anchor="middle"><tspan font-style="italic">&#916;GMST</tspan> [K]</text>
<clipPath id="c40"><rect x="15.50" y="215.16" width="65.10" height="42.75"/></clipPath>
<g clip-path="url(#c40)">
<polyline class="g" points="18.5,252.23 18.7,252.13 18.9,252.48 19.2,252.38 19.4,253.79 19.6,254.71 19.9,253.30 20.1,252.30 20.4,252.78 20.6,251.04 20.8,251.97 21.1,250.73 21.3,252.12 21.5,251.63 21.8,252.50 22.0,251.62 22.2,251.73 22.5,253.58 22.7,253.15 23.0,252.40 23.2,252.08 23.4,252.08 23.7,249.36 23.9,251.28 24.1,252.18 24.4,253.27 24.6,253.86 24.9,250.32 25.1,252.29 25.3,252.44 25.6,251.47 25.8,252.37 26.0,253.98 26.3,254.95 26.5,255.52 26.7,254.55 27.0,252.07 27.2,253.00 27.5,253.42 27.7,251.48 27.9,250.52 28.2,250.93 28.4,249.13 28.6,252.55 28.9,251.67 29.1,250.22 29.3,250.05 29.6,249.90 29.8,250.92 30.1,250.74 30.3,250.22 30.5,252.86 30.8,250.93 31.0,253.72 31.2,254.99 31.5,255.03 31.7,250.63 32.0,249.27 32.2,250.22 32.4,251.55 32.7,249.96 32.9,251.76 33.1,250.96 33.4,252.19 33.6,251.42 33.8,253.77 34.1,251.74 34.3,251.28 34.6,250.41 34.8,251.17 35.0,252.57 35.3,251.36 35.5,250.48 35.7,251.42 36.0,251.65 36.2,250.25 36.5,248.76 36.7,249.92 36.9,248.86 37.2,248.90 37.4,249.16 37.6,250.83 37.9,250.14 38.1,250.16 38.3,249.30 38.6,249.14 38.8,251.80 39.1,250.84 39.3,248.86 39.5,249.51 39.8,248.70 40.0,249.12 40.2,249.11 40.5,249.45 40.7,252.13 40.9,252.38 41.2,250.89 41.4,251.07 41.7,249.40 41.9,247.30 42.1,249.52 42.4,250.10 42.6,252.53 42.8,252.31 43.1,249.25 43.3,250.38 43.6,248.24 43.8,247.49 44.0,249.70 44.3,245.95 44.5,247.78 44.7,247.36 45.0,249.07 45.2,248.74 45.4,249.23 45.7,246.03 45.9,244.18 46.2,246.30 46.4,246.90 46.6,246.22 46.9,247.84 47.1,248.27 47.3,248.44 47.6,248.25 47.8,249.09 48.0,247.77 48.3,246.86 48.5,245.98 48.8,244.96 49.0,246.40 49.2,244.29 49.5,248.14 49.7,249.53 49.9,250.96 50.2,248.76 50.4,245.33 50.7,242.90 50.9,241.25 51.1,243.72 51.4,242.65 51.6,243.74 51.8,243.44 52.1,245.06 52.3,242.34 52.5,239.56 52.8,237.17 53.0,237.90 53.3,238.04 53.5,238.83 53.7,238.46 54.0,239.08 54.2,239.77 54.4,239.97 54.7,237.90 54.9,237.34 55.2,236.13 55.4,238.45 55.6,237.64 55.9,235.11 56.1,237.65 56.3,234.59 56.6,233.70 56.8,232.41 57.0,232.11 57.3,233.87 57.5,230.91 57.8,229.30 58.0,232.09 58.2,230.67 58.5,228.00 58.7,229.50 58.9,229.42 59.2,229.78 59.4,229.37 59.6,230.18 59.9,227.32 60.1,227.66 60.4,226.01 60.6,226.85 60.8,224.80 61.1,225.54 61.3,227.52 61.5,225.79 61.8,223.24 62.0,225.00 62.3,224.30 62.5,223.95 62.7,225.96 63.0,228.58 63.2,226.33 63.4,223.38 63.7,224.00 63.9,223.82 64.1,221.01 64.4,222.26 64.6,221.60 64.9,221.45 65.1,222.88 65.3,222.91 65.6,223.52 65.8,225.04 66.0,224.02 66.3,224.16 66.5,221.39 66.8,223.27 67.0,223.19 67.2,223.29 67.5,222.18 67.7,219.36 67.9,224.26 68.2,223.35 68.4,222.11 68.6,222.00 68.9,222.81 69.1,224.64 69.4,223.97 69.6,221.06 69.8,219.95 70.1,222.72 70.3,223.65 70.5,222.34 70.8,223.67 71.0,224.84 71.2,225.97 71.5,222.72 71.7,220.51 72.0,222.20 72.2,222.01 72.4,220.98 72.7,222.20 72.9,222.46 73.1,223.67 73.4,223.44 73.6,220.79 73.9,222.09 74.1,223.01 74.3,220.69 74.6,222.45 74.8,220.20 75.0,220.76 75.3,221.30 75.5,221.18 75.7,221.77 76.0,222.49 76.2,222.87 76.5,222.73 76.7,223.36 76.9,224.91 77.2,224.69 77.4,223.07 77.6,224.38"/>
<polyline class="o" points="18.5,251.78 18.9,251.78 19.4,251.77 19.9,251.75 20.4,251.73 20.8,251.69 21.3,251.65 21.8,251.61 22.2,251.56 22.7,251.50 23.2,251.44 23.7,251.38 24.1,251.31 24.6,251.23 25.1,251.15 25.6,251.07 26.0,250.98 26.5,250.89 27.0,250.80 27.5,250.70 27.9,250.61 28.4,250.50 28.9,250.40 29.3,250.30 29.8,250.19 30.3,250.09 30.8,249.97 31.2,249.85 31.7,249.71 32.2,249.56 32.7,249.39 33.1,249.22 33.6,249.03 34.1,248.83 34.6,248.62 35.0,248.39 35.5,248.16 36.0,247.91 36.5,247.66 36.9,247.39 37.4,247.11 37.9,246.82 38.3,246.51 38.8,246.20 39.3,245.88 39.8,245.54 40.2,245.20 40.7,244.84 41.2,244.48 41.7,244.10 42.1,243.72 42.6,243.29 43.1,242.79 43.6,242.22 44.0,241.60 44.5,240.93 45.0,240.22 45.4,239.48 45.9,238.72 46.4,237.95 46.9,237.16 47.3,236.38 47.8,235.61 48.3,234.84 48.8,234.03 49.2,233.17 49.7,232.28 50.2,231.36 50.7,230.43 51.1,229.50 51.6,228.59 52.1,227.70 52.5,226.84 53.0,226.04 53.5,225.29 54.0,224.61 54.4,223.97 54.9,223.32 55.4,222.67 55.9,222.02 56.3,221.40 56.8,220.81 57.3,220.25 57.8,219.74 58.2,219.28 58.7,218.89 59.2,218.57 59.6,218.33 60.1,218.17 60.6,218.03 61.1,217.90 61.5,217.78 62.0,217.66 62.5,217.56 63.0,217.46 63.4,217.38 63.9,217.31 64.4,217.26 64.9,217.22 65.3,217.19 65.8,217.18 66.3,217.19 66.8,217.20 67.2,217.23 67.7,217.26 68.2,217.30 68.6,217.35 69.1,217.41 69.6,217.47 70.1,217.54 70.5,217.62 71.0,217.69 71.5,217.78 72.0,217.87 72.4,218.00 72.9,218.17 73.4,218.38 73.9,218.62 74.3,218.90 74.8,219.20 75.3,219.53 75.7,219.88 76.2,220.25 76.7,220.63 77.2,221.03 77.6,221.43"/>
<polyline class="p" points="18.5,252.21 18.9,252.21 19.4,252.20 19.9,252.20 20.4,252.19 20.8,252.18 21.3,252.17 21.8,252.16 22.2,252.15 22.7,252.14 23.2,252.12 23.7,252.10 24.1,252.09 24.6,252.07 25.1,252.05 25.6,252.03 26.0,252.00 26.5,251.98 27.0,251.96 27.5,251.93 27.9,251.91 28.4,251.88 28.9,251.86 29.3,251.83 29.8,251.81 30.3,251.78 30.8,251.76 31.2,251.73 31.7,251.69 32.2,251.65 32.7,251.61 33.1,251.57 33.6,251.52 34.1,251.48 34.6,251.43 35.0,251.37 35.5,251.32 36.0,251.26 36.5,251.21 36.9,251.15 37.4,251.09 37.9,251.03 38.3,250.97 38.8,250.91 39.3,250.85 39.8,250.80 40.2,250.74 40.7,250.68 41.2,250.62 41.7,250.57 42.1,250.51 42.6,250.46 43.1,250.40 43.6,250.35 44.0,250.30 44.5,250.24 45.0,250.18 45.4,250.12 45.9,250.05 46.4,249.99 46.9,249.92 47.3,249.84 47.8,249.73 48.3,249.55 48.8,249.15 49.2,248.57 49.7,247.90 50.2,247.22 50.7,246.59 51.1,245.95 51.6,245.28 52.1,244.59 52.5,243.88 53.0,243.14 53.5,242.38 54.0,241.59 54.4,240.75 54.9,239.83 55.4,238.84 55.9,237.81 56.3,236.75 56.8,235.69 57.3,234.64 57.8,233.62 58.2,232.65 58.7,231.75 59.2,230.94 59.6,230.23 60.1,229.63 60.6,229.06 61.1,228.51 61.5,227.97 62.0,227.46 62.5,226.98 63.0,226.53 63.4,226.11 63.9,225.72 64.4,225.38 64.9,225.08 65.3,224.82 65.8,224.61 66.3,224.43 66.8,224.26 67.2,224.11 67.7,224.01 68.2,223.98 68.6,224.00 69.1,224.05 69.6,224.13 70.1,224.22 70.5,224.33 71.0,224.45 71.5,224.56 72.0,224.67 72.4,224.77 72.9,224.89 73.4,225.01 73.9,225.13 74.3,225.26 74.8,225.39 75.3,225.54 75.7,225.68 76.2,225.83 76.7,225.99 77.2,226.15 77.6,226.31"/>
</g>
<rect class="ax" x="15.50" y="215.16" width="65.10" height="42.75"/>
<line class="tk" x1="30.30" y1="257.91" x2="30.30" y2="259.51"/>
<text class="xt" x="30.30" y="265.31" text-anchor="middle" textLength="10.69" lengthAdjust="spacingAndGlyphs">1900</text>
<line class="tk" x1="53.97" y1="257.91" x2="53.97" y2="259.51"/>
<text class="xt" x="53.97" y="265.31" text-anchor="middle" textLength="10.69" lengthAdjust="spacingAndGlyphs">2000</text>
<line class="tk" x1="77.64" y1="257.91" x2="77.64" y2="259.51"/>
<text class="xt" x="77.64" y="265.31" text-anchor="middle" textLength="10.69" lengthAdjust="spacingAndGlyphs">2100</text>
<line class="tk" x1="13.90" y1="252.87" x2="15.50" y2="252.87"/>
<text class="yt" x="12.30" y="254.62" text-anchor="end" textLength="2.67" lengthAdjust="spacingAndGlyphs">0</text>
<line class="tk" x1="13.90" y1="237.63" x2="15.50" y2="237.63"/>
<text class="yt" x="12.30" y="239.38" text-anchor="end" textLength="2.67" lengthAdjust="spacingAndGlyphs">1</text>
<line class="tk" x1="13.90" y1="222.39" x2="15.50" y2="222.39"/>
<text class="yt" x="12.30" y="224.14" text-anchor="end" textLength="2.67" lengthAdjust="spacingAndGlyphs">2</text>
<text class="an" x="78.80" y="253.26" text-anchor="end" textLength="15.60" lengthAdjust="spacingAndGlyphs">r<tspan class="sup" dy="-1.3">2</tspan><tspan dy="1.3">=0.96</tspan></text>
<text class="an" x="78.80" y="256.96" text-anchor="end" textLength="23.43" lengthAdjust="spacingAndGlyphs">RMSE=0.16</text>
<clipPath id="c41"><rect x="93.52" y="215.16" width="65.10" height="42.75"/></clipPath>
<g clip-path="url(#c41)">
<polyline class="g" points="96.5,253.28 96.7,253.20 97.0,253.50 97.2,253.41 97.4,254.62 97.7,255.41 97.9,254.20 98.1,253.35 98.4,253.76 98.6,252.26 98.8,253.06 99.1,252.00 99.3,253.19 99.6,252.77 99.8,253.52 100.0,252.77 100.3,252.86 100.5,254.45 100.7,254.08 101.0,253.44 101.2,253.17 101.5,253.17 101.7,250.84 101.9,252.48 102.2,253.26 102.4,254.20 102.6,254.70 102.9,251.68 103.1,253.36 103.3,253.49 103.6,252.66 103.8,253.45 104.1,254.87 104.3,255.86 104.5,256.49 104.8,255.53 105.0,253.24 105.2,254.00 105.5,254.36 105.7,252.70 105.9,251.88 106.2,252.24 106.4,250.69 106.7,253.63 106.9,252.88 107.1,251.64 107.4,251.50 107.6,251.37 107.8,252.25 108.1,252.09 108.3,251.66 108.6,253.95 108.8,252.40 109.0,254.88 109.3,255.89 109.5,255.83 109.7,252.04 110.0,250.87 110.2,251.69 110.4,252.84 110.7,251.49 110.9,253.04 111.2,252.36 111.4,253.42 111.6,252.77 111.9,254.79 112.1,253.05 112.3,252.67 112.6,251.94 112.8,252.59 113.0,253.80 113.3,252.77 113.5,252.03 113.8,252.84 114.0,253.05 114.2,251.86 114.5,250.59 114.7,251.60 114.9,250.69 115.2,250.74 115.4,250.97 115.7,252.41 115.9,251.83 116.1,251.86 116.4,251.13 116.6,251.00 116.8,253.29 117.1,252.48 117.3,250.79 117.5,251.36 117.8,250.67 118.0,251.04 118.3,251.04 118.5,251.33 118.7,253.64 119.0,253.87 119.2,252.60 119.4,252.76 119.7,251.33 119.9,249.54 120.2,251.45 120.4,251.96 120.6,254.05 120.9,253.88 121.1,251.26 121.3,252.24 121.6,250.42 121.8,249.79 122.0,251.71 122.3,248.50 122.5,250.08 122.8,249.73 123.0,251.25 123.2,251.13 123.5,251.69 123.7,248.81 123.9,247.06 124.2,248.82 124.4,249.31 124.6,248.71 124.9,250.07 125.1,250.41 125.4,250.53 125.6,250.35 125.8,251.06 126.1,249.92 126.3,249.13 126.5,248.36 126.8,247.46 127.0,248.68 127.3,246.85 127.5,250.15 127.7,251.42 128.0,252.71 128.2,250.75 128.4,247.71 128.7,245.63 128.9,244.23 129.1,246.39 129.4,245.53 129.6,246.56 129.9,246.52 130.1,248.10 130.3,245.71 130.6,243.23 130.8,241.21 131.0,241.90 131.3,242.07 131.5,242.80 131.8,242.54 132.0,243.11 132.2,243.73 132.5,243.94 132.7,242.21 132.9,241.77 133.2,240.77 133.4,242.79 133.6,242.14 133.9,240.00 134.1,242.21 134.4,239.62 134.6,238.87 134.8,237.79 135.1,237.56 135.3,239.07 135.5,238.29 135.8,237.68 136.0,236.24 136.2,234.92 136.5,233.82 136.7,234.07 137.0,234.35 137.2,235.02 137.4,233.94 137.7,235.79 137.9,236.45 138.1,233.24 138.4,231.96 138.6,232.89 138.9,231.61 139.1,234.20 139.3,231.53 139.6,230.87 139.8,229.79 140.0,232.24 140.3,230.05 140.5,230.04 140.7,229.55 141.0,228.40 141.2,229.03 141.5,228.38 141.7,228.85 141.9,229.05 142.2,228.44 142.4,227.82 142.6,228.95 142.9,229.56 143.1,229.16 143.4,229.21 143.6,229.51 143.8,226.94 144.1,225.22 144.3,225.55 144.5,225.45 144.8,224.54 145.0,224.10 145.2,222.41 145.5,223.10 145.7,224.23 146.0,225.57 146.2,224.70 146.4,223.85 146.7,224.45 146.9,224.62 147.1,223.51 147.4,223.59 147.6,224.51 147.8,224.51 148.1,224.27 148.3,223.35 148.6,224.39 148.8,224.38 149.0,223.89 149.3,222.22 149.5,222.12 149.7,223.98 150.0,225.05 150.2,223.65 150.5,222.09 150.7,222.64 150.9,221.36 151.2,220.61 151.4,221.89 151.6,222.77 151.9,224.24 152.1,222.03 152.3,221.03 152.6,220.31 152.8,221.81 153.1,222.78 153.3,221.64 153.5,222.57 153.8,220.84 154.0,221.84 154.2,221.40 154.5,221.34 154.7,219.99 155.0,219.68 155.2,219.44 155.4,222.72 155.7,220.86"/>
<polyline class="o" points="96.5,253.27 97.0,253.24 97.4,253.21 97.9,253.18 98.4,253.14 98.8,253.10 99.3,253.05 99.8,253.01 100.3,252.96 100.7,252.90 101.2,252.85 101.7,252.79 102.2,252.73 102.6,252.67 103.1,252.60 103.6,252.54 104.1,252.47 104.5,252.40 105.0,252.33 105.5,252.25 105.9,252.18 106.4,252.10 106.9,252.02 107.4,251.94 107.8,251.86 108.3,251.78 108.8,251.70 109.3,251.62 109.7,251.53 110.2,251.45 110.7,251.36 111.2,251.26 111.6,251.17 112.1,251.07 112.6,250.97 113.0,250.86 113.5,250.75 114.0,250.63 114.5,250.51 114.9,250.39 115.4,250.26 115.9,250.12 116.4,249.98 116.8,249.83 117.3,249.68 117.8,249.52 118.3,249.35 118.7,249.17 119.2,248.99 119.7,248.80 120.2,248.60 120.6,248.38 121.1,248.11 121.6,247.81 122.0,247.48 122.5,247.11 123.0,246.72 123.5,246.30 123.9,245.86 124.4,245.41 124.9,244.94 125.4,244.46 125.8,243.97 126.3,243.46 126.8,242.91 127.3,242.31 127.7,241.67 128.2,241.00 128.7,240.30 129.1,239.58 129.6,238.84 130.1,238.10 130.6,237.36 131.0,236.63 131.5,235.92 132.0,235.23 132.5,234.54 132.9,233.83 133.4,233.10 133.9,232.37 134.4,231.64 134.8,230.92 135.3,230.20 135.8,229.50 136.2,228.83 136.7,228.18 137.2,227.57 137.7,227.00 138.1,226.48 138.6,225.96 139.1,225.46 139.6,224.98 140.0,224.51 140.5,224.05 141.0,223.61 141.5,223.19 141.9,222.79 142.4,222.42 142.9,222.06 143.4,221.73 143.8,221.43 144.3,221.14 144.8,220.87 145.2,220.61 145.7,220.36 146.2,220.12 146.7,219.89 147.1,219.68 147.6,219.47 148.1,219.27 148.6,219.09 149.0,218.91 149.5,218.75 150.0,218.59 150.5,218.44 150.9,218.30 151.4,218.15 151.9,218.02 152.3,217.89 152.8,217.76 153.3,217.64 153.8,217.53 154.2,217.43 154.7,217.34 155.2,217.26 155.7,217.18"/>
<polyline class="p" points="96.5,253.27 97.0,253.26 97.4,253.24 97.9,253.23 98.4,253.22 98.8,253.20 99.3,253.19 99.8,253.17 100.3,253.16 100.7,253.14 101.2,253.12 101.7,253.11 102.2,253.09 102.6,253.07 103.1,253.06 103.6,253.04 104.1,253.02 104.5,253.00 105.0,252.98 105.5,252.96 105.9,252.94 106.4,252.93 106.9,252.91 107.4,252.89 107.8,252.87 108.3,252.85 108.8,252.83 109.3,252.81 109.7,252.79 110.2,252.77 110.7,252.75 111.2,252.73 111.6,252.71 112.1,252.69 112.6,252.67 113.0,252.65 113.5,252.63 114.0,252.60 114.5,252.58 114.9,252.56 115.4,252.53 115.9,252.51 116.4,252.48 116.8,252.45 117.3,252.42 117.8,252.39 118.3,252.36 118.7,252.32 119.2,252.29 119.7,252.25 120.2,252.21 120.6,252.17 121.1,252.12 121.6,252.07 122.0,252.02 122.5,251.95 123.0,251.88 123.5,251.81 123.9,251.72 124.4,251.61 124.9,251.50 125.4,251.37 125.8,251.23 126.3,251.03 126.8,250.64 127.3,250.09 127.7,249.47 128.2,248.87 128.7,248.35 129.1,247.86 129.6,247.38 130.1,246.90 130.6,246.41 131.0,245.90 131.5,245.36 132.0,244.78 132.5,244.14 132.9,243.44 133.4,242.69 133.9,241.89 134.4,241.07 134.8,240.23 135.3,239.39 135.8,238.55 136.2,237.74 136.7,236.96 137.2,236.22 137.7,235.54 138.1,234.92 138.6,234.32 139.1,233.74 139.6,233.17 140.0,232.61 140.5,232.08 141.0,231.56 141.5,231.05 141.9,230.57 142.4,230.11 142.9,229.67 143.4,229.25 143.8,228.86 144.3,228.48 144.8,228.12 145.2,227.76 145.7,227.42 146.2,227.09 146.7,226.77 147.1,226.46 147.6,226.17 148.1,225.90 148.6,225.63 149.0,225.38 149.5,225.15 150.0,224.93 150.5,224.72 150.9,224.51 151.4,224.31 151.9,224.11 152.3,223.93 152.8,223.75 153.3,223.58 153.8,223.43 154.2,223.28 154.7,223.15 155.2,223.02 155.7,222.92"/>
</g>
<rect class="ax" x="93.52" y="215.16" width="65.10" height="42.75"/>
<line class="tk" x1="108.32" y1="257.91" x2="108.32" y2="259.51"/>
<text class="xt" x="108.32" y="265.31" text-anchor="middle" textLength="10.69" lengthAdjust="spacingAndGlyphs">1900</text>
<line class="tk" x1="131.99" y1="257.91" x2="131.99" y2="259.51"/>
<text class="xt" x="131.99" y="265.31" text-anchor="middle" textLength="10.69" lengthAdjust="spacingAndGlyphs">2000</text>
<line class="tk" x1="155.66" y1="257.91" x2="155.66" y2="259.51"/>
<text class="xt" x="155.66" y="265.31" text-anchor="middle" textLength="10.69" lengthAdjust="spacingAndGlyphs">2100</text>
<line class="tk" x1="91.92" y1="253.62" x2="93.52" y2="253.62"/>
<text class="yt" x="90.32" y="255.37" text-anchor="end" textLength="2.67" lengthAdjust="spacingAndGlyphs">0</text>
<line class="tk" x1="91.92" y1="242.34" x2="93.52" y2="242.34"/>
<text class="yt" x="90.32" y="244.09" text-anchor="end" textLength="2.67" lengthAdjust="spacingAndGlyphs">1</text>
<line class="tk" x1="91.92" y1="231.05" x2="93.52" y2="231.05"/>
<text class="yt" x="90.32" y="232.80" text-anchor="end" textLength="2.67" lengthAdjust="spacingAndGlyphs">2</text>
<line class="tk" x1="91.92" y1="219.76" x2="93.52" y2="219.76"/>
<text class="yt" x="90.32" y="221.51" text-anchor="end" textLength="2.67" lengthAdjust="spacingAndGlyphs">3</text>
<text class="an" x="156.82" y="253.26" text-anchor="end" textLength="15.60" lengthAdjust="spacingAndGlyphs">r<tspan class="sup" dy="-1.3">2</tspan><tspan dy="1.3">=0.98</tspan></text>
<text class="an" x="156.82" y="256.96" text-anchor="end" textLength="23.43" lengthAdjust="spacingAndGlyphs">RMSE=0.16</text>
<clipPath id="c42"><rect x="171.54" y="215.16" width="65.10" height="42.75"/></clipPath>
<g clip-path="url(#c42)">
<polyline class="g" points="174.5,253.92 174.7,253.85 175.0,254.10 175.2,254.02 175.4,255.03 175.7,255.68 175.9,254.68 176.2,253.96 176.4,254.30 176.6,253.05 176.9,253.71 177.1,252.83 177.3,253.82 177.6,253.47 177.8,254.09 178.0,253.46 178.3,253.54 178.5,254.86 178.8,254.55 179.0,254.01 179.2,253.79 179.5,253.79 179.7,251.84 179.9,253.21 180.2,253.86 180.4,254.64 180.7,255.05 180.9,252.53 181.1,253.93 181.4,254.04 181.6,253.34 181.8,254.00 182.1,255.23 182.3,256.25 182.5,256.92 182.8,255.96 183.0,253.87 183.3,254.45 183.5,254.74 183.7,253.35 184.0,252.67 184.2,252.96 184.4,251.67 184.7,254.12 184.9,253.49 185.2,252.45 185.4,252.33 185.6,252.23 185.9,252.95 186.1,252.82 186.3,252.46 186.6,254.40 186.8,253.22 187.0,255.38 187.3,256.12 187.5,255.95 187.8,252.76 188.0,251.78 188.2,252.46 188.5,253.41 188.7,252.28 188.9,253.56 189.2,253.00 189.4,253.88 189.6,253.32 189.9,255.00 190.1,253.56 190.4,253.23 190.6,252.62 190.8,253.16 191.1,254.16 191.3,253.30 191.5,252.67 191.8,253.34 192.0,253.51 192.3,252.51 192.5,251.46 192.7,252.29 193.0,251.53 193.2,251.56 193.4,251.75 193.7,252.95 193.9,252.46 194.1,252.48 194.4,251.87 194.6,251.76 194.9,253.66 195.1,252.98 195.3,251.57 195.6,252.04 195.8,251.47 196.0,251.77 196.3,251.77 196.5,252.01 196.8,253.93 197.0,254.12 197.2,253.06 197.5,253.20 197.7,252.01 197.9,250.52 198.2,252.11 198.4,252.53 198.6,254.28 198.9,254.14 199.1,251.97 199.4,252.79 199.6,251.28 199.8,250.77 200.1,252.37 200.3,249.71 200.5,251.04 200.8,250.77 201.0,252.10 201.2,252.20 201.5,252.84 201.7,250.31 202.0,248.68 202.2,250.12 202.4,250.54 202.7,250.06 202.9,251.22 203.1,251.53 203.4,251.65 203.6,251.53 203.9,252.14 204.1,251.22 204.3,250.60 204.6,250.00 204.8,249.32 205.0,250.39 205.3,248.94 205.5,251.79 205.7,253.03 206.0,254.27 206.2,252.58 206.5,249.97 206.7,248.22 206.9,247.06 207.2,248.86 207.4,248.14 207.6,249.03 207.9,249.17 208.1,250.61 208.4,248.43 208.6,246.15 208.8,244.39 209.1,244.92 209.3,245.04 209.5,245.63 209.8,245.39 210.0,245.86 210.2,246.38 210.5,246.56 210.7,245.12 211.0,244.77 211.2,243.95 211.4,245.65 211.7,245.13 211.9,243.38 212.1,245.24 212.4,243.11 212.6,242.52 212.8,241.64 213.1,241.48 213.3,242.77 213.6,242.14 213.8,242.29 214.0,241.14 214.3,241.19 214.5,241.59 214.7,241.07 215.0,241.03 215.2,240.49 215.5,241.03 215.7,239.98 215.9,238.33 216.2,237.50 216.4,236.31 216.6,236.77 216.9,236.47 217.1,237.41 217.3,236.92 217.6,235.74 217.8,234.22 218.1,237.03 218.3,235.15 218.5,235.89 218.8,237.31 219.0,236.19 219.2,235.87 219.5,235.02 219.7,234.18 220.0,234.30 220.2,233.63 220.4,233.94 220.7,234.49 220.9,234.30 221.1,234.65 221.4,233.40 221.6,232.97 221.8,233.58 222.1,232.16 222.3,230.43 222.6,231.38 222.8,231.79 223.0,231.42 223.3,231.99 223.5,230.95 223.7,230.76 224.0,230.51 224.2,231.69 224.4,231.41 224.7,230.84 224.9,229.31 225.2,228.91 225.4,230.81 225.6,229.36 225.9,227.24 226.1,226.97 226.3,228.30 226.6,228.97 226.8,229.70 227.1,228.18 227.3,226.85 227.5,225.00 227.8,224.11 228.0,226.01 228.2,227.10 228.5,227.23 228.7,224.97 228.9,225.94 229.2,224.21 229.4,223.30 229.7,225.23 229.9,225.89 230.1,226.95 230.4,224.74 230.6,224.30 230.8,223.23 231.1,224.53 231.3,222.22 231.6,223.41 231.8,223.22 232.0,220.68 232.3,220.76 232.5,221.64 232.7,223.99 233.0,222.36 233.2,220.91 233.4,221.43 233.7,221.84"/>
<polyline class="o" points="174.5,253.91 175.0,253.87 175.4,253.84 175.9,253.80 176.4,253.76 176.9,253.72 177.3,253.67 177.8,253.63 178.3,253.58 178.8,253.54 179.2,253.49 179.7,253.44 180.2,253.39 180.7,253.34 181.1,253.28 181.6,253.23 182.1,253.17 182.5,253.12 183.0,253.06 183.5,253.00 184.0,252.94 184.4,252.88 184.9,252.82 185.4,252.76 185.9,252.70 186.3,252.63 186.8,252.57 187.3,252.51 187.8,252.44 188.2,252.38 188.7,252.31 189.2,252.24 189.6,252.17 190.1,252.10 190.6,252.03 191.1,251.96 191.5,251.88 192.0,251.80 192.5,251.72 193.0,251.64 193.4,251.56 193.9,251.47 194.4,251.38 194.9,251.28 195.3,251.18 195.8,251.08 196.3,250.98 196.8,250.87 197.2,250.75 197.7,250.63 198.2,250.51 198.6,250.38 199.1,250.24 199.6,250.08 200.1,249.92 200.5,249.74 201.0,249.55 201.5,249.34 202.0,249.12 202.4,248.89 202.9,248.64 203.4,248.38 203.9,248.11 204.3,247.81 204.8,247.45 205.3,247.04 205.7,246.58 206.2,246.07 206.7,245.54 207.2,244.98 207.6,244.40 208.1,243.82 208.6,243.24 209.1,242.67 209.5,242.12 210.0,241.59 210.5,241.08 211.0,240.56 211.4,240.04 211.9,239.52 212.4,238.99 212.8,238.47 213.3,237.95 213.8,237.43 214.3,236.93 214.7,236.43 215.2,235.94 215.7,235.46 216.2,235.00 216.6,234.55 217.1,234.12 217.6,233.70 218.1,233.29 218.5,232.88 219.0,232.47 219.5,232.07 220.0,231.66 220.4,231.24 220.9,230.81 221.4,230.37 221.8,229.92 222.3,229.45 222.8,228.96 223.3,228.46 223.7,227.94 224.2,227.42 224.7,226.90 225.2,226.37 225.6,225.84 226.1,225.32 226.6,224.80 227.1,224.29 227.5,223.80 228.0,223.31 228.5,222.83 228.9,222.36 229.4,221.89 229.9,221.42 230.4,220.95 230.8,220.49 231.3,220.04 231.8,219.59 232.3,219.14 232.7,218.70 233.2,218.26 233.7,217.82"/>
<polyline class="p" points="174.5,253.91 175.0,253.90 175.4,253.89 175.9,253.88 176.4,253.87 176.9,253.85 177.3,253.84 177.8,253.83 178.3,253.81 178.8,253.80 179.2,253.78 179.7,253.76 180.2,253.75 180.7,253.73 181.1,253.71 181.6,253.69 182.1,253.67 182.5,253.65 183.0,253.63 183.5,253.61 184.0,253.59 184.4,253.57 184.9,253.55 185.4,253.53 185.9,253.50 186.3,253.48 186.8,253.46 187.3,253.43 187.8,253.41 188.2,253.38 188.7,253.35 189.2,253.32 189.6,253.29 190.1,253.25 190.6,253.22 191.1,253.18 191.5,253.15 192.0,253.11 192.5,253.07 193.0,253.04 193.4,253.00 193.9,252.96 194.4,252.92 194.9,252.89 195.3,252.85 195.8,252.81 196.3,252.77 196.8,252.74 197.2,252.70 197.7,252.67 198.2,252.63 198.6,252.60 199.1,252.57 199.6,252.55 200.1,252.53 200.5,252.50 201.0,252.48 201.5,252.45 202.0,252.42 202.4,252.39 202.9,252.35 203.4,252.30 203.9,252.24 204.3,252.16 204.8,251.98 205.3,251.72 205.7,251.41 206.2,251.09 206.7,250.78 207.2,250.44 207.6,250.08 208.1,249.70 208.6,249.29 209.1,248.87 209.5,248.42 210.0,247.96 210.5,247.47 211.0,246.93 211.4,246.35 211.9,245.73 212.4,245.10 212.8,244.45 213.3,243.80 213.8,243.16 214.3,242.52 214.7,241.91 215.2,241.33 215.7,240.79 216.2,240.29 216.6,239.82 217.1,239.37 217.6,238.94 218.1,238.52 218.5,238.11 219.0,237.71 219.5,237.31 220.0,236.91 220.4,236.50 220.9,236.09 221.4,235.67 221.8,235.23 222.3,234.77 222.8,234.31 223.3,233.84 223.7,233.37 224.2,232.89 224.7,232.40 225.2,231.92 225.6,231.44 226.1,230.95 226.6,230.47 227.1,229.99 227.5,229.52 228.0,229.05 228.5,228.58 228.9,228.12 229.4,227.66 229.9,227.20 230.4,226.74 230.8,226.28 231.3,225.82 231.8,225.36 232.3,224.91 232.7,224.45 233.2,224.00 233.7,223.55"/>
</g>
<rect class="ax" x="171.54" y="215.16" width="65.10" height="42.75"/>
<line class="tk" x1="186.34" y1="257.91" x2="186.34" y2="259.51"/>
<text class="xt" x="186.34" y="265.31" text-anchor="middle" textLength="10.69" lengthAdjust="spacingAndGlyphs">1900</text>
<line class="tk" x1="210.01" y1="257.91" x2="210.01" y2="259.51"/>
<text class="xt" x="210.01" y="265.31" text-anchor="middle" textLength="10.69" lengthAdjust="spacingAndGlyphs">2000</text>
<line class="tk" x1="233.68" y1="257.91" x2="233.68" y2="259.51"/>
<text class="xt" x="233.68" y="265.31" text-anchor="middle" textLength="10.69" lengthAdjust="spacingAndGlyphs">2100</text>
<line class="tk" x1="169.94" y1="254.27" x2="171.54" y2="254.27"/>
<text class="yt" x="168.34" y="256.02" text-anchor="end" textLength="2.67" lengthAdjust="spacingAndGlyphs">0</text>
<line class="tk" x1="169.94" y1="239.13" x2="171.54" y2="239.13"/>
<text class="yt" x="168.34" y="240.88" text-anchor="end" textLength="2.67" lengthAdjust="spacingAndGlyphs">2</text>
<line class="tk" x1="169.94" y1="223.98" x2="171.54" y2="223.98"/>
<text class="yt" x="168.34" y="225.73" text-anchor="end" textLength="2.67" lengthAdjust="spacingAndGlyphs">4</text>
<text class="an" x="234.84" y="253.26" text-anchor="end" textLength="15.60" lengthAdjust="spacingAndGlyphs">r<tspan class="sup" dy="-1.3">2</tspan><tspan dy="1.3">=0.99</tspan></text>
<text class="an" x="234.84" y="256.96" text-anchor="end" textLength="23.43" lengthAdjust="spacingAndGlyphs">RMSE=0.16</text>
<clipPath id="c43"><rect x="249.56" y="215.16" width="65.10" height="42.75"/></clipPath>
<g clip-path="url(#c43)">
<polyline class="g" points="252.5,254.34 252.8,254.27 253.0,254.52 253.2,254.44 253.5,255.44 253.7,256.10 253.9,255.09 254.2,254.37 254.4,254.71 254.6,253.46 254.9,254.12 255.1,253.24 255.4,254.23 255.6,253.88 255.8,254.49 256.1,253.87 256.3,253.94 256.5,255.27 256.8,254.95 257.0,254.41 257.3,254.19 257.5,254.19 257.7,252.25 258.0,253.61 258.2,254.26 258.4,255.04 258.7,255.45 258.9,252.93 259.1,254.34 259.4,254.44 259.6,253.75 259.9,254.40 260.1,255.64 260.3,256.65 260.6,257.33 260.8,256.37 261.0,254.28 261.3,254.86 261.5,255.15 261.8,253.76 262.0,253.08 262.2,253.38 262.5,252.09 262.7,254.53 262.9,253.91 263.2,252.87 263.4,252.75 263.6,252.65 263.9,253.38 264.1,253.25 264.4,252.89 264.6,254.82 264.8,253.65 265.1,255.81 265.3,256.55 265.5,256.38 265.8,253.20 266.0,252.22 266.2,252.90 266.5,253.85 266.7,252.72 267.0,254.01 267.2,253.45 267.4,254.33 267.7,253.78 267.9,255.47 268.1,254.02 268.4,253.70 268.6,253.09 268.9,253.63 269.1,254.64 269.3,253.78 269.6,253.16 269.8,253.84 270.0,254.01 270.3,253.02 270.5,251.96 270.7,252.80 271.0,252.04 271.2,252.08 271.5,252.27 271.7,253.48 271.9,253.00 272.2,253.02 272.4,252.41 272.6,252.31 272.9,254.22 273.1,253.54 273.4,252.14 273.6,252.62 273.8,252.05 274.1,252.36 274.3,252.36 274.5,252.61 274.8,254.53 275.0,254.73 275.2,253.68 275.5,253.82 275.7,252.63 276.0,251.15 276.2,252.75 276.4,253.18 276.7,254.92 276.9,254.79 277.1,252.63 277.4,253.45 277.6,251.95 277.8,251.44 278.1,253.05 278.3,250.40 278.6,251.74 278.8,251.47 279.0,252.80 279.3,252.91 279.5,253.56 279.7,251.03 280.0,249.41 280.2,250.87 280.5,251.30 280.7,250.83 280.9,252.00 281.2,252.32 281.4,252.46 281.6,252.35 281.9,252.98 282.1,252.07 282.3,251.47 282.6,250.91 282.8,250.27 283.1,251.41 283.3,250.02 283.5,252.94 283.8,254.25 284.0,255.56 284.2,253.95 284.5,251.41 284.7,249.74 285.0,248.66 285.2,250.54 285.4,249.91 285.7,250.89 285.9,251.11 286.1,252.66 286.4,250.57 286.6,248.39 286.8,246.71 287.1,247.34 287.3,247.56 287.6,248.23 287.8,248.08 288.0,248.62 288.3,249.22 288.5,249.47 288.7,248.10 289.0,247.81 289.2,247.06 289.4,248.82 289.7,248.36 289.9,246.66 290.2,248.58 290.4,246.50 290.6,245.96 290.9,245.13 291.1,245.01 291.3,246.34 291.6,243.13 291.8,243.70 292.1,243.86 292.3,244.60 292.5,244.56 292.8,244.33 293.0,243.88 293.2,242.36 293.5,243.33 293.7,242.60 293.9,239.81 294.2,239.99 294.4,239.83 294.7,239.89 294.9,241.53 295.1,241.38 295.4,242.14 295.6,238.63 295.8,239.52 296.1,239.58 296.3,239.30 296.6,238.38 296.8,239.25 297.0,239.97 297.3,238.87 297.5,240.69 297.7,239.98 298.0,237.55 298.2,236.79 298.4,236.11 298.7,236.64 298.9,237.93 299.2,238.35 299.4,237.33 299.6,237.77 299.9,235.59 300.1,234.45 300.3,235.40 300.6,234.09 300.8,234.08 301.0,233.94 301.3,234.75 301.5,233.70 301.8,232.33 302.0,231.69 302.2,233.06 302.5,232.65 302.7,231.91 302.9,233.28 303.2,231.84 303.4,231.87 303.7,231.18 303.9,230.94 304.1,231.19 304.4,230.30 304.6,231.16 304.8,229.38 305.1,229.15 305.3,229.78 305.5,229.23 305.8,228.73 306.0,228.01 306.3,228.82 306.5,227.85 306.7,228.80 307.0,227.15 307.2,226.95 307.4,227.32 307.7,227.14 307.9,224.60 308.1,223.97 308.4,223.51 308.6,224.29 308.9,223.76 309.1,223.00 309.3,223.54 309.6,221.49 309.8,221.09 310.0,220.37 310.3,221.46 310.5,222.16 310.8,219.21 311.0,219.03 311.2,220.09 311.5,219.26 311.7,217.01"/>
<polyline class="o" points="252.5,254.33 253.0,254.31 253.5,254.28 253.9,254.26 254.4,254.23 254.9,254.20 255.4,254.17 255.8,254.13 256.3,254.09 256.8,254.06 257.3,254.02 257.7,253.98 258.2,253.93 258.7,253.89 259.1,253.84 259.6,253.80 260.1,253.75 260.6,253.70 261.0,253.65 261.5,253.60 262.0,253.54 262.5,253.49 262.9,253.44 263.4,253.38 263.9,253.33 264.4,253.27 264.8,253.21 265.3,253.15 265.8,253.09 266.2,253.03 266.7,252.97 267.2,252.90 267.7,252.84 268.1,252.77 268.6,252.69 269.1,252.62 269.6,252.54 270.0,252.46 270.5,252.38 271.0,252.30 271.5,252.21 271.9,252.12 272.4,252.03 272.9,251.93 273.4,251.83 273.8,251.72 274.3,251.62 274.8,251.51 275.2,251.39 275.7,251.27 276.2,251.15 276.7,251.01 277.1,250.87 277.6,250.71 278.1,250.53 278.6,250.35 279.0,250.15 279.5,249.94 280.0,249.72 280.5,249.48 280.9,249.24 281.4,248.99 281.9,248.73 282.3,248.46 282.8,248.16 283.3,247.83 283.8,247.47 284.2,247.09 284.7,246.69 285.2,246.27 285.7,245.85 286.1,245.42 286.6,244.98 287.1,244.55 287.6,244.13 288.0,243.72 288.5,243.31 289.0,242.90 289.4,242.50 289.9,242.09 290.4,241.67 290.9,241.26 291.3,240.84 291.8,240.41 292.3,239.98 292.8,239.54 293.2,239.10 293.7,238.64 294.2,238.18 294.7,237.71 295.1,237.23 295.6,236.74 296.1,236.24 296.6,235.74 297.0,235.23 297.5,234.72 298.0,234.19 298.4,233.66 298.9,233.13 299.4,232.59 299.9,232.04 300.3,231.49 300.8,230.92 301.3,230.34 301.8,229.75 302.2,229.15 302.7,228.55 303.2,227.94 303.7,227.34 304.1,226.73 304.6,226.12 305.1,225.51 305.5,224.91 306.0,224.32 306.5,223.72 307.0,223.13 307.4,222.53 307.9,221.94 308.4,221.34 308.9,220.75 309.3,220.16 309.8,219.56 310.3,218.97 310.8,218.37 311.2,217.78 311.7,217.18"/>
<polyline class="p" points="252.5,254.33 253.0,254.32 253.5,254.30 253.9,254.29 254.4,254.28 254.9,254.26 255.4,254.25 255.8,254.23 256.3,254.22 256.8,254.20 257.3,254.18 257.7,254.17 258.2,254.15 258.7,254.13 259.1,254.12 259.6,254.10 260.1,254.08 260.6,254.06 261.0,254.04 261.5,254.02 262.0,254.01 262.5,253.99 262.9,253.97 263.4,253.95 263.9,253.93 264.4,253.91 264.8,253.89 265.3,253.86 265.8,253.84 266.2,253.82 266.7,253.80 267.2,253.78 267.7,253.75 268.1,253.73 268.6,253.70 269.1,253.68 269.6,253.66 270.0,253.63 270.5,253.60 271.0,253.58 271.5,253.55 271.9,253.52 272.4,253.50 272.9,253.47 273.4,253.44 273.8,253.41 274.3,253.39 274.8,253.36 275.2,253.33 275.7,253.30 276.2,253.27 276.7,253.24 277.1,253.22 277.6,253.19 278.1,253.17 278.6,253.14 279.0,253.12 279.5,253.09 280.0,253.06 280.5,253.02 280.9,252.98 281.4,252.93 281.9,252.88 282.3,252.81 282.8,252.68 283.3,252.51 283.8,252.31 284.2,252.10 284.7,251.89 285.2,251.68 285.7,251.46 286.1,251.22 286.6,250.97 287.1,250.70 287.6,250.40 288.0,250.09 288.5,249.73 289.0,249.32 289.4,248.87 289.9,248.38 290.4,247.86 290.9,247.32 291.3,246.76 291.8,246.20 292.3,245.63 292.8,245.06 293.2,244.51 293.7,243.98 294.2,243.46 294.7,242.96 295.1,242.46 295.6,241.96 296.1,241.47 296.6,240.97 297.0,240.47 297.5,239.97 298.0,239.46 298.4,238.95 298.9,238.42 299.4,237.89 299.9,237.35 300.3,236.80 300.8,236.24 301.3,235.68 301.8,235.11 302.2,234.53 302.7,233.95 303.2,233.36 303.7,232.75 304.1,232.14 304.6,231.52 305.1,230.89 305.5,230.25 306.0,229.59 306.5,228.92 307.0,228.24 307.4,227.55 307.9,226.84 308.4,226.13 308.9,225.40 309.3,224.66 309.8,223.90 310.3,223.14 310.8,222.37 311.2,221.59 311.7,220.79"/>
</g>
<rect class="ax" x="249.56" y="215.16" width="65.10" height="42.75"/>
<line class="tk" x1="264.36" y1="257.91" x2="264.36" y2="259.51"/>
<text class="xt" x="264.36" y="265.31" text-anchor="middle" textLength="10.69" lengthAdjust="spacingAndGlyphs">1900</text>
<line class="tk" x1="288.03" y1="257.91" x2="288.03" y2="259.51"/>
<text class="xt" x="288.03" y="265.31" text-anchor="middle" textLength="10.69" lengthAdjust="spacingAndGlyphs">2000</text>
<line class="tk" x1="311.70" y1="257.91" x2="311.70" y2="259.51"/>
<text class="xt" x="311.70" y="265.31" text-anchor="middle" textLength="10.69" lengthAdjust="spacingAndGlyphs">2100</text>
<line class="tk" x1="247.96" y1="254.43" x2="249.56" y2="254.43"/>
<text class="yt" x="246.36" y="256.18" text-anchor="end" textLength="2.67" lengthAdjust="spacingAndGlyphs">0</text>
<line class="tk" x1="247.96" y1="241.10" x2="249.56" y2="241.10"/>
<text class="yt" x="246.36" y="242.85" text-anchor="end" textLength="2.67" lengthAdjust="spacingAndGlyphs">2</text>
<line class="tk" x1="247.96" y1="227.76" x2="249.56" y2="227.76"/>
<text class="yt" x="246.36" y="229.51" text-anchor="end" textLength="2.67" lengthAdjust="spacingAndGlyphs">4</text>
<text class="an" x="312.86" y="253.26" text-anchor="end" textLength="15.60" lengthAdjust="spacingAndGlyphs">r<tspan class="sup" dy="-1.3">2</tspan><tspan dy="1.3">=0.99</tspan></text>
<text class="an" x="312.86" y="256.96" text-anchor="end" textLength="23.43" lengthAdjust="spacingAndGlyphs">RMSE=0.15</text>
<text class="mn" x="17.20" y="220.06" textLength="30.39" lengthAdjust="spacingAndGlyphs">FGOALS-f3-L</text>
<text class="yl" transform="translate(6.10,237.14) rotate(-90)" text-anchor="middle"><tspan font-style="italic">&#916;GMST</tspan> [K]</text>
<clipPath id="c50"><rect x="15.50" y="266.50" width="65.10" height="42.75"/></clipPath>
<g clip-path="url(#c50)">
<polyline class="g" points="18.5,300.24 18.7,300.48 18.9,300.12 19.2,300.45 19.4,302.01 19.6,300.73 19.9,300.28 20.1,303.04 20.4,299.54 20.6,299.60 20.8,301.37 21.1,300.55 21.3,300.21 21.5,298.55 21.8,297.60 22.0,300.82 22.2,302.86 22.5,302.15 22.7,300.62 23.0,298.95 23.2,299.80 23.4,300.71 23.7,298.54 23.9,300.37 24.1,300.08 24.4,302.18 24.6,302.06 24.9,302.23 25.1,301.18 25.3,300.28 25.6,299.52 25.8,301.83 26.0,302.37 26.3,303.35 26.5,304.20 26.7,302.61 27.0,302.29 27.2,302.80 27.5,303.41 27.7,299.80 27.9,300.51 28.2,298.46 28.4,299.43 28.6,300.70 28.9,300.28 29.1,300.24 29.3,300.91 29.6,302.24 29.8,300.83 30.1,301.52 30.3,299.64 30.5,299.55 30.8,302.28 31.0,303.62 31.2,301.63 31.5,301.53 31.7,299.89 32.0,299.27 32.2,301.17 32.4,299.71 32.7,299.24 32.9,299.41 33.1,300.36 33.4,300.51 33.6,301.12 33.8,301.19 34.1,301.94 34.3,300.12 34.6,299.85 34.8,299.45 35.0,300.40 35.3,299.03 35.5,299.79 35.7,300.16 36.0,299.67 36.2,295.92 36.5,297.12 36.7,300.65 36.9,300.63 37.2,298.68 37.4,298.23 37.6,297.77 37.9,296.69 38.1,299.51 38.3,299.55 38.6,299.69 38.8,299.56 39.1,299.10 39.3,298.51 39.5,299.37 39.8,298.11 40.0,299.42 40.2,296.88 40.5,297.25 40.7,299.41 40.9,298.45 41.2,299.33 41.4,298.91 41.7,299.17 41.9,299.13 42.1,299.34 42.4,299.88 42.6,299.77 42.8,299.27 43.1,300.06 43.3,298.93 43.6,297.49 43.8,298.98 44.0,297.01 44.3,298.76 44.5,299.32 44.7,298.70 45.0,297.14 45.2,298.84 45.4,300.30 45.7,300.85 45.9,297.55 46.2,295.76 46.4,298.92 46.6,298.78 46.9,295.68 47.1,298.22 47.3,297.37 47.6,299.05 47.8,297.46 48.0,297.47 48.3,297.71 48.5,297.26 48.8,295.42 49.0,297.25 49.2,296.43 49.5,297.23 49.7,297.50 49.9,298.40 50.2,298.70 50.4,293.48 50.7,293.72 50.9,292.90 51.1,292.74 51.4,291.64 51.6,292.72 51.8,294.85 52.1,294.47 52.3,291.60 52.5,290.54 52.8,290.40 53.0,288.05 53.3,289.61 53.5,287.20 53.7,288.58 54.0,286.16 54.2,284.14 54.4,285.74 54.7,285.83 54.9,286.01 55.2,287.67 55.4,284.50 55.6,284.94 55.9,285.39 56.1,282.57 56.3,282.70 56.6,280.59 56.8,281.59 57.0,283.05 57.3,281.29 57.5,280.16 57.8,279.76 58.0,279.85 58.2,280.58 58.5,281.54 58.7,279.07 58.9,281.70 59.2,279.87 59.4,277.82 59.6,276.88 59.9,277.08 60.1,277.02 60.4,277.94 60.6,278.99 60.8,277.34 61.1,276.80 61.3,278.61 61.5,276.45 61.8,275.64 62.0,276.54 62.3,277.18 62.5,274.95 62.7,273.27 63.0,273.66 63.2,275.97 63.4,273.30 63.7,276.14 63.9,273.73 64.1,273.85 64.4,275.46 64.6,275.52 64.9,273.72 65.1,275.56 65.3,275.28 65.6,275.16 65.8,275.93 66.0,275.86 66.3,276.58 66.5,274.41 66.8,275.26 67.0,277.05 67.2,275.58 67.5,276.19 67.7,274.04 67.9,274.05 68.2,273.58 68.4,272.22 68.6,272.98 68.9,273.37 69.1,274.39 69.4,274.84 69.6,273.43 69.8,275.11 70.1,275.72 70.3,275.93 70.5,275.28 70.8,273.83 71.0,275.47 71.2,274.39 71.5,276.13 71.7,277.25 72.0,277.63 72.2,277.21 72.4,275.96 72.7,275.63 72.9,277.57 73.1,276.23 73.4,277.24 73.6,277.00 73.9,276.74 74.1,275.86 74.3,275.59 74.6,276.32 74.8,276.41 75.0,275.06 75.3,276.49 75.5,275.39 75.7,277.25 76.0,276.06 76.2,274.03 76.5,277.75 76.7,277.68 76.9,279.12 77.2,279.32 77.4,278.39 77.6,277.69"/>
<polyline class="o" points="18.5,300.66 18.9,300.66 19.4,300.64 19.9,300.62 20.4,300.59 20.8,300.54 21.3,300.50 21.8,300.44 22.2,300.38 22.7,300.30 23.2,300.23 23.7,300.14 24.1,300.05 24.6,299.96 25.1,299.86 25.6,299.75 26.0,299.65 26.5,299.53 27.0,299.42 27.5,299.30 27.9,299.18 28.4,299.05 28.9,298.93 29.3,298.80 29.8,298.67 30.3,298.54 30.8,298.40 31.2,298.25 31.7,298.09 32.2,297.91 32.7,297.73 33.1,297.53 33.6,297.31 34.1,297.09 34.6,296.85 35.0,296.60 35.5,296.34 36.0,296.07 36.5,295.79 36.9,295.49 37.4,295.18 37.9,294.87 38.3,294.54 38.8,294.20 39.3,293.85 39.8,293.49 40.2,293.12 40.7,292.74 41.2,292.35 41.7,291.94 42.1,291.53 42.6,291.08 43.1,290.55 43.6,289.95 44.0,289.30 44.5,288.61 45.0,287.89 45.4,287.14 45.9,286.37 46.4,285.61 46.9,284.85 47.3,284.10 47.8,283.39 48.3,282.70 48.8,281.99 49.2,281.27 49.7,280.54 50.2,279.80 50.7,279.06 51.1,278.33 51.6,277.62 52.1,276.93 52.5,276.27 53.0,275.65 53.5,275.08 54.0,274.55 54.4,274.06 54.9,273.57 55.4,273.08 55.9,272.61 56.3,272.16 56.8,271.73 57.3,271.32 57.8,270.93 58.2,270.58 58.7,270.27 59.2,270.00 59.6,269.77 60.1,269.58 60.6,269.40 61.1,269.22 61.5,269.05 62.0,268.89 62.5,268.75 63.0,268.61 63.4,268.49 63.9,268.38 64.4,268.30 64.9,268.24 65.3,268.20 65.8,268.18 66.3,268.19 66.8,268.22 67.2,268.27 67.7,268.32 68.2,268.40 68.6,268.48 69.1,268.58 69.6,268.69 70.1,268.80 70.5,268.92 71.0,269.05 71.5,269.18 72.0,269.32 72.4,269.49 72.9,269.69 73.4,269.92 73.9,270.19 74.3,270.48 74.8,270.79 75.3,271.13 75.7,271.49 76.2,271.86 76.7,272.25 77.2,272.65 77.6,273.07"/>
<polyline class="p" points="18.5,300.66 18.9,300.66 19.4,300.66 19.9,300.65 20.4,300.65 20.8,300.64 21.3,300.63 21.8,300.62 22.2,300.60 22.7,300.59 23.2,300.57 23.7,300.56 24.1,300.54 24.6,300.52 25.1,300.50 25.6,300.48 26.0,300.46 26.5,300.43 27.0,300.41 27.5,300.39 27.9,300.36 28.4,300.34 28.9,300.31 29.3,300.29 29.8,300.26 30.3,300.24 30.8,300.21 31.2,300.18 31.7,300.16 32.2,300.13 32.7,300.10 33.1,300.07 33.6,300.03 34.1,300.00 34.6,299.96 35.0,299.92 35.5,299.88 36.0,299.84 36.5,299.79 36.9,299.74 37.4,299.69 37.9,299.64 38.3,299.58 38.8,299.52 39.3,299.45 39.8,299.38 40.2,299.31 40.7,299.23 41.2,299.14 41.7,299.06 42.1,298.96 42.6,298.79 43.1,298.52 43.6,298.23 44.0,298.00 44.5,297.90 45.0,298.01 45.4,298.28 45.9,298.59 46.4,298.85 46.9,298.96 47.3,298.87 47.8,298.66 48.3,298.39 48.8,297.97 49.2,297.42 49.7,296.78 50.2,296.11 50.7,295.44 51.1,294.69 51.6,293.87 52.1,293.00 52.5,292.09 53.0,291.18 53.5,290.28 54.0,289.41 54.4,288.54 54.9,287.61 55.4,286.66 55.9,285.70 56.3,284.73 56.8,283.77 57.3,282.84 57.8,281.95 58.2,281.11 58.7,280.34 59.2,279.65 59.6,279.05 60.1,278.56 60.6,278.08 61.1,277.61 61.5,277.15 62.0,276.72 62.5,276.31 63.0,275.93 63.4,275.59 63.9,275.28 64.4,275.02 64.9,274.81 65.3,274.65 65.8,274.55 66.3,274.49 66.8,274.43 67.2,274.38 67.7,274.35 68.2,274.34 68.6,274.37 69.1,274.44 69.6,274.54 70.1,274.67 70.5,274.82 71.0,274.97 71.5,275.12 72.0,275.26 72.4,275.40 72.9,275.54 73.4,275.69 73.9,275.85 74.3,276.01 74.8,276.18 75.3,276.36 75.7,276.54 76.2,276.72 76.7,276.91 77.2,277.11 77.6,277.31"/>
</g>
<rect class="ax" x="15.50" y="266.50" width="65.10" height="42.75"/>
<line class="tk" x1="30.30" y1="309.25" x2="30.30" y2="310.85"/>
<text class="xt" x="30.30" y="316.65" text-anchor="middle" textLength="10.69" lengthAdjust="spacingAndGlyphs">1900</text>
<line class="tk" x1="53.97" y1="309.25" x2="53.97" y2="310.85"/>
<text class="xt" x="53.97" y="316.65" text-anchor="middle" textLength="10.69" lengthAdjust="spacingAndGlyphs">2000</text>
<line class="tk" x1="77.64" y1="309.25" x2="77.64" y2="310.85"/>
<text class="xt" x="77.64" y="316.65" text-anchor="middle" textLength="10.69" lengthAdjust="spacingAndGlyphs">2100</text>
<line class="tk" x1="13.90" y1="301.31" x2="15.50" y2="301.31"/>
<text class="yt" x="12.30" y="303.06" text-anchor="end" textLength="2.67" lengthAdjust="spacingAndGlyphs">0</text>
<line class="tk" x1="13.90" y1="284.79" x2="15.50" y2="284.79"/>
<text class="yt" x="12.30" y="286.54" text-anchor="end" textLength="2.67" lengthAdjust="spacingAndGlyphs">1</text>
<line class="tk" x1="13.90" y1="268.27" x2="15.50" y2="268.27"/>
<text class="yt" x="12.30" y="270.02" text-anchor="end" textLength="2.67" lengthAdjust="spacingAndGlyphs">2</text>
<text class="an" x="78.80" y="304.60" text-anchor="end" textLength="15.60" lengthAdjust="spacingAndGlyphs">r<tspan class="sup" dy="-1.3">2</tspan><tspan dy="1.3">=0.95</tspan></text>
<text class="an" x="78.80" y="308.30" text-anchor="end" textLength="23.43" lengthAdjust="spacingAndGlyphs">RMSE=0.15</text>
<clipPath id="c51"><rect x="93.52" y="266.50" width="65.10" height="42.75"/></clipPath>
<g clip-path="url(#c51)">
<polyline class="g" points="96.5,302.71 96.7,302.92 97.0,302.61 97.2,302.88 97.4,304.18 97.7,303.11 97.9,302.74 98.1,305.03 98.4,302.11 98.6,302.16 98.8,303.63 99.1,302.95 99.3,302.66 99.6,301.27 99.8,300.48 100.0,303.16 100.3,304.86 100.5,304.27 100.7,302.99 101.0,301.59 101.2,302.30 101.5,303.06 101.7,301.25 101.9,302.77 102.2,302.53 102.4,304.27 102.6,304.17 102.9,304.31 103.1,303.44 103.3,302.68 103.6,302.05 103.8,303.98 104.1,304.49 104.3,305.58 104.5,306.51 104.8,304.95 105.0,304.42 105.2,304.77 105.5,305.28 105.7,302.27 105.9,302.86 106.2,301.14 106.4,301.95 106.7,303.01 106.9,302.66 107.1,302.62 107.4,303.18 107.6,304.28 107.8,303.10 108.1,303.68 108.3,302.11 108.6,302.08 108.8,304.52 109.0,305.77 109.3,303.97 109.5,303.72 109.7,302.31 110.0,301.79 110.2,303.37 110.4,302.16 110.7,301.76 110.9,301.90 111.2,302.69 111.4,302.81 111.6,303.32 111.9,303.38 112.1,304.01 112.3,302.49 112.6,302.26 112.8,301.93 113.0,302.72 113.3,301.57 113.5,302.20 113.8,302.51 114.0,302.10 114.2,298.98 114.5,299.98 114.7,302.92 114.9,302.90 115.2,301.27 115.4,300.90 115.7,300.52 115.9,299.62 116.1,301.96 116.4,302.00 116.6,302.12 116.8,302.01 117.1,301.63 117.3,301.14 117.5,301.85 117.8,300.80 118.0,301.89 118.3,299.78 118.5,300.08 118.7,301.89 119.0,301.08 119.2,301.82 119.4,301.46 119.7,301.68 119.9,301.65 120.2,301.82 120.4,302.28 120.6,302.19 120.9,301.79 121.1,302.45 121.3,301.52 121.6,300.34 121.8,301.58 122.0,299.96 122.3,301.42 122.5,301.88 122.8,301.37 123.0,300.15 123.2,301.83 123.5,303.27 123.7,303.51 123.9,300.50 124.2,298.93 124.4,301.56 124.6,301.45 124.9,298.86 125.1,300.97 125.4,300.26 125.6,301.65 125.8,300.31 126.1,300.30 126.3,300.47 126.5,300.06 126.8,298.45 127.0,299.91 127.3,299.16 127.5,299.78 127.7,300.10 128.0,300.92 128.2,300.98 128.4,296.42 128.7,296.56 128.9,295.87 129.1,295.74 129.4,294.85 129.6,295.85 129.9,297.93 130.1,297.88 130.3,295.31 130.6,294.22 130.8,294.08 131.0,292.15 131.3,293.49 131.5,291.52 131.8,292.70 132.0,290.70 132.2,289.03 132.5,290.38 132.7,290.48 132.9,290.65 133.2,292.06 133.4,289.44 133.6,289.83 133.9,290.24 134.1,287.91 134.4,288.05 134.6,286.31 134.8,287.16 135.1,288.39 135.3,286.93 135.5,286.58 135.8,285.08 136.0,286.59 136.2,286.88 136.5,285.92 136.7,285.10 137.0,284.29 137.2,283.91 137.4,283.84 137.7,284.89 137.9,283.20 138.1,283.15 138.4,283.13 138.6,281.90 138.9,279.97 139.1,281.13 139.3,280.02 139.6,279.54 139.8,278.93 140.0,278.12 140.3,280.47 140.5,280.64 140.7,280.38 141.0,280.28 141.2,279.60 141.5,280.82 141.7,279.03 141.9,278.17 142.2,278.96 142.4,279.96 142.6,277.49 142.9,277.61 143.1,278.90 143.4,277.07 143.6,277.67 143.8,278.43 144.1,277.92 144.3,279.08 144.5,277.02 144.8,278.63 145.0,276.31 145.2,276.69 145.5,276.09 145.7,275.94 146.0,276.22 146.2,276.54 146.4,274.98 146.7,274.62 146.9,276.10 147.1,276.26 147.4,276.40 147.6,276.93 147.8,276.56 148.1,277.96 148.3,277.23 148.6,275.02 148.8,274.94 149.0,276.72 149.3,276.85 149.5,275.06 149.7,274.66 150.0,275.46 150.2,275.22 150.5,273.72 150.7,274.41 150.9,274.09 151.2,274.14 151.4,275.27 151.6,274.58 151.9,273.72 152.1,272.14 152.3,272.69 152.6,272.37 152.8,273.35 153.1,271.42 153.3,272.63 153.5,272.50 153.8,273.41 154.0,273.72 154.2,273.34 154.5,273.55 154.7,272.76 155.0,272.24 155.2,271.96 155.4,271.28 155.7,271.11"/>
<polyline class="o" points="96.5,303.21 97.0,303.20 97.4,303.18 97.9,303.15 98.4,303.12 98.8,303.08 99.3,303.04 99.8,302.99 100.3,302.94 100.7,302.88 101.2,302.82 101.7,302.75 102.2,302.68 102.6,302.61 103.1,302.53 103.6,302.45 104.1,302.36 104.5,302.27 105.0,302.18 105.5,302.09 105.9,302.00 106.4,301.90 106.9,301.81 107.4,301.71 107.8,301.61 108.3,301.51 108.8,301.41 109.3,301.30 109.7,301.18 110.2,301.06 110.7,300.94 111.2,300.80 111.6,300.66 112.1,300.51 112.6,300.36 113.0,300.20 113.5,300.03 114.0,299.86 114.5,299.67 114.9,299.48 115.4,299.28 115.9,299.08 116.4,298.86 116.8,298.64 117.3,298.41 117.8,298.17 118.3,297.92 118.7,297.66 119.2,297.40 119.7,297.12 120.2,296.84 120.6,296.52 121.1,296.14 121.6,295.72 122.0,295.25 122.5,294.74 123.0,294.20 123.5,293.64 123.9,293.07 124.4,292.48 124.9,291.90 125.4,291.32 125.8,290.75 126.3,290.20 126.8,289.63 127.3,289.06 127.7,288.48 128.2,287.88 128.7,287.28 129.1,286.68 129.6,286.07 130.1,285.46 130.6,284.85 131.0,284.24 131.5,283.64 132.0,283.04 132.5,282.44 132.9,281.82 133.4,281.19 133.9,280.55 134.4,279.91 134.8,279.27 135.3,278.65 135.8,278.04 136.2,277.45 136.7,276.88 137.2,276.35 137.7,275.85 138.1,275.38 138.6,274.93 139.1,274.47 139.6,274.03 140.0,273.59 140.5,273.18 141.0,272.77 141.5,272.40 141.9,272.04 142.4,271.72 142.9,271.42 143.4,271.16 143.8,270.94 144.3,270.75 144.8,270.57 145.2,270.41 145.7,270.26 146.2,270.11 146.7,269.98 147.1,269.85 147.6,269.73 148.1,269.62 148.6,269.51 149.0,269.40 149.5,269.30 150.0,269.19 150.5,269.09 150.9,268.99 151.4,268.89 151.9,268.80 152.3,268.71 152.8,268.62 153.3,268.54 153.8,268.46 154.2,268.38 154.7,268.31 155.2,268.25 155.7,268.18"/>
<polyline class="p" points="96.5,303.21 97.0,303.21 97.4,303.20 97.9,303.20 98.4,303.19 98.8,303.18 99.3,303.17 99.8,303.16 100.3,303.15 100.7,303.14 101.2,303.12 101.7,303.10 102.2,303.09 102.6,303.07 103.1,303.05 103.6,303.03 104.1,303.00 104.5,302.98 105.0,302.96 105.5,302.93 105.9,302.91 106.4,302.88 106.9,302.86 107.4,302.83 107.8,302.81 108.3,302.78 108.8,302.76 109.3,302.73 109.7,302.70 110.2,302.67 110.7,302.64 111.2,302.61 111.6,302.57 112.1,302.54 112.6,302.50 113.0,302.46 113.5,302.41 114.0,302.37 114.5,302.32 114.9,302.27 115.4,302.22 115.9,302.16 116.4,302.10 116.8,302.04 117.3,301.98 117.8,301.91 118.3,301.84 118.7,301.76 119.2,301.68 119.7,301.60 120.2,301.51 120.6,301.37 121.1,301.15 121.6,300.92 122.0,300.74 122.5,300.66 123.0,300.75 123.5,300.96 123.9,301.21 124.4,301.42 124.9,301.51 125.4,301.42 125.8,301.21 126.3,300.94 126.8,300.49 127.3,299.92 127.7,299.27 128.2,298.63 128.7,298.03 129.1,297.44 129.6,296.83 130.1,296.21 130.6,295.58 131.0,294.94 131.5,294.30 132.0,293.66 132.5,293.00 132.9,292.32 133.4,291.62 133.9,290.91 134.4,290.20 134.8,289.49 135.3,288.78 135.8,288.08 136.2,287.39 136.7,286.72 137.2,286.08 137.7,285.46 138.1,284.87 138.6,284.29 139.1,283.72 139.6,283.15 140.0,282.59 140.5,282.05 141.0,281.52 141.5,281.00 141.9,280.51 142.4,280.04 142.9,279.60 143.4,279.18 143.8,278.80 144.3,278.44 144.8,278.09 145.2,277.75 145.7,277.43 146.2,277.12 146.7,276.82 147.1,276.54 147.6,276.27 148.1,276.01 148.6,275.76 149.0,275.52 149.5,275.30 150.0,275.08 150.5,274.87 150.9,274.67 151.4,274.47 151.9,274.28 152.3,274.10 152.8,273.92 153.3,273.76 153.8,273.60 154.2,273.45 154.7,273.31 155.2,273.18 155.7,273.07"/>
</g>
<rect class="ax" x="93.52" y="266.50" width="65.10" height="42.75"/>
<line class="tk" x1="108.32" y1="309.25" x2="108.32" y2="310.85"/>
<text class="xt" x="108.32" y="316.65" text-anchor="middle" textLength="10.69" lengthAdjust="spacingAndGlyphs">1900</text>
<line class="tk" x1="131.99" y1="309.25" x2="131.99" y2="310.85"/>
<text class="xt" x="131.99" y="316.65" text-anchor="middle" textLength="10.69" lengthAdjust="spacingAndGlyphs">2000</text>
<line class="tk" x1="155.66" y1="309.25" x2="155.66" y2="310.85"/>
<text class="xt" x="155.66" y="316.65" text-anchor="middle" textLength="10.69" lengthAdjust="spacingAndGlyphs">2100</text>
<line class="tk" x1="91.92" y1="302.86" x2="93.52" y2="302.86"/>
<text class="yt" x="90.32" y="304.61" text-anchor="end" textLength="2.67" lengthAdjust="spacingAndGlyphs">0</text>
<line class="tk" x1="91.92" y1="290.19" x2="93.52" y2="290.19"/>
<text class="yt" x="90.32" y="291.94" text-anchor="end" textLength="2.67" lengthAdjust="spacingAndGlyphs">1</text>
<line class="tk" x1="91.92" y1="277.52" x2="93.52" y2="277.52"/>
<text class="yt" x="90.32" y="279.27" text-anchor="end" textLength="2.67" lengthAdjust="spacingAndGlyphs">2</text>
<text class="an" x="156.82" y="304.60" text-anchor="end" textLength="15.60" lengthAdjust="spacingAndGlyphs">r<tspan class="sup" dy="-1.3">2</tspan><tspan dy="1.3">=0.97</tspan></text>
<text class="an" x="156.82" y="308.30" text-anchor="end" textLength="23.43" lengthAdjust="spacingAndGlyphs">RMSE=0.14</text>
<clipPath id="c52"><rect x="171.54" y="266.50" width="65.10" height="42.75"/></clipPath>
<g clip-path="url(#c52)">
<polyline class="g" points="174.5,303.42 174.7,303.60 175.0,303.33 175.2,303.58 175.4,304.75 175.7,303.79 175.9,303.45 176.2,305.52 176.4,302.90 176.6,302.94 176.9,304.26 177.1,303.65 177.3,303.40 177.6,302.15 177.8,301.44 178.0,303.85 178.3,305.39 178.5,304.86 178.8,303.71 179.0,302.45 179.2,303.09 179.5,303.78 179.7,302.15 179.9,303.52 180.2,303.31 180.4,304.88 180.7,304.80 180.9,304.93 181.1,304.14 181.4,303.46 181.6,302.90 181.8,304.64 182.1,305.15 182.3,306.29 182.5,307.26 182.8,305.74 183.0,305.10 183.3,305.38 183.5,305.83 183.7,303.13 184.0,303.66 184.2,302.12 184.4,302.85 184.7,303.81 184.9,303.49 185.2,303.47 185.4,303.97 185.6,304.97 185.9,303.91 186.1,304.44 186.3,303.03 186.6,303.03 186.8,305.34 187.0,306.55 187.3,304.85 187.5,304.52 187.8,303.23 188.0,302.76 188.2,304.19 188.5,303.10 188.7,302.74 188.9,302.88 189.2,303.59 189.4,303.70 189.6,304.17 189.9,304.22 190.1,304.79 190.4,303.43 190.6,303.23 190.8,302.93 191.1,303.65 191.3,302.62 191.5,303.19 191.8,303.48 192.0,303.11 192.3,300.30 192.5,301.21 192.7,303.86 193.0,303.85 193.2,302.39 193.4,302.06 193.7,301.72 193.9,300.92 194.1,303.04 194.4,303.08 194.6,303.19 194.9,303.10 195.1,302.76 195.3,302.33 195.6,302.98 195.8,302.04 196.0,303.03 196.3,301.14 196.5,301.42 196.8,303.06 197.0,302.34 197.2,303.01 197.5,302.71 197.7,302.91 197.9,302.90 198.2,303.06 198.4,303.49 198.6,303.45 198.9,303.12 199.1,303.76 199.4,302.97 199.6,301.95 199.8,303.11 200.1,301.68 200.3,303.02 200.5,303.44 200.8,303.00 201.0,301.95 201.2,303.66 201.5,305.13 201.7,305.25 202.0,302.42 202.2,301.01 202.4,303.40 202.7,303.32 202.9,301.00 203.1,302.91 203.4,302.30 203.6,303.58 203.9,302.42 204.1,302.46 204.3,302.66 204.6,302.35 204.8,300.97 205.0,302.35 205.3,301.75 205.5,302.42 205.7,302.88 206.0,303.78 206.2,303.83 206.5,299.70 206.7,299.86 206.9,299.31 207.2,299.26 207.4,298.53 207.6,299.53 207.9,301.64 208.1,301.79 208.4,299.41 208.6,298.32 208.8,298.22 209.1,296.55 209.3,297.83 209.5,296.12 209.8,297.25 210.0,295.52 210.2,294.08 210.5,295.38 210.7,295.55 211.0,295.79 211.2,297.14 211.4,294.88 211.7,295.32 211.9,295.78 212.1,293.78 212.4,294.00 212.6,292.52 212.8,293.38 213.1,294.57 213.3,293.35 213.6,292.72 213.8,292.90 214.0,291.24 214.3,292.51 214.5,291.42 214.7,290.82 215.0,290.27 215.2,289.32 215.5,291.22 215.7,291.10 215.9,292.60 216.2,291.07 216.4,290.47 216.6,288.90 216.9,289.22 217.1,289.72 217.3,289.94 217.6,288.23 217.8,288.24 218.1,287.84 218.3,288.23 218.5,287.26 218.8,287.95 219.0,286.98 219.2,288.20 219.5,287.79 219.7,285.87 220.0,285.14 220.2,286.23 220.4,285.49 220.7,286.10 220.9,285.81 221.1,285.02 221.4,285.96 221.6,284.31 221.8,285.55 222.1,285.41 222.3,286.74 222.6,285.08 222.8,285.98 223.0,285.17 223.3,285.37 223.5,284.31 223.7,284.43 224.0,283.20 224.2,283.10 224.4,282.67 224.7,282.84 224.9,282.87 225.2,281.49 225.4,282.21 225.6,280.69 225.9,281.89 226.1,281.03 226.3,281.92 226.6,279.56 226.8,281.26 227.1,280.32 227.3,280.75 227.5,280.04 227.8,280.64 228.0,280.03 228.2,279.47 228.5,278.68 228.7,279.60 228.9,277.95 229.2,278.03 229.4,277.32 229.7,277.37 229.9,278.36 230.1,277.42 230.4,277.60 230.6,276.93 230.8,277.64 231.1,278.27 231.3,277.46 231.6,274.86 231.8,273.78 232.0,274.02 232.3,274.56 232.5,274.37 232.7,275.04 233.0,276.22 233.2,275.01 233.4,273.76 233.7,273.12"/>
<polyline class="o" points="174.5,303.85 175.0,303.83 175.4,303.82 175.9,303.80 176.4,303.78 176.9,303.76 177.3,303.73 177.8,303.70 178.3,303.66 178.8,303.63 179.2,303.59 179.7,303.55 180.2,303.50 180.7,303.46 181.1,303.41 181.6,303.36 182.1,303.31 182.5,303.25 183.0,303.20 183.5,303.14 184.0,303.08 184.4,303.03 184.9,302.97 185.4,302.91 185.9,302.85 186.3,302.78 186.8,302.72 187.3,302.65 187.8,302.58 188.2,302.51 188.7,302.43 189.2,302.35 189.6,302.26 190.1,302.17 190.6,302.08 191.1,301.98 191.5,301.88 192.0,301.77 192.5,301.66 193.0,301.55 193.4,301.43 193.9,301.31 194.4,301.18 194.9,301.05 195.3,300.92 195.8,300.78 196.3,300.64 196.8,300.49 197.2,300.34 197.7,300.18 198.2,300.02 198.6,299.86 199.1,299.67 199.6,299.47 200.1,299.26 200.5,299.03 201.0,298.79 201.5,298.53 202.0,298.25 202.4,297.97 202.9,297.66 203.4,297.34 203.9,297.01 204.3,296.66 204.8,296.25 205.3,295.79 205.7,295.28 206.2,294.74 206.7,294.17 207.2,293.57 207.6,292.97 208.1,292.36 208.6,291.76 209.1,291.16 209.5,290.59 210.0,290.05 210.5,289.52 211.0,288.99 211.4,288.45 211.9,287.92 212.4,287.39 212.8,286.86 213.3,286.34 213.8,285.83 214.3,285.33 214.7,284.84 215.2,284.36 215.7,283.90 216.2,283.46 216.6,283.04 217.1,282.63 217.6,282.23 218.1,281.84 218.5,281.46 219.0,281.09 219.5,280.72 220.0,280.34 220.4,279.97 220.9,279.59 221.4,279.20 221.8,278.80 222.3,278.39 222.8,277.97 223.3,277.55 223.7,277.13 224.2,276.71 224.7,276.28 225.2,275.85 225.6,275.42 226.1,274.99 226.6,274.56 227.1,274.13 227.5,273.70 228.0,273.28 228.5,272.85 228.9,272.43 229.4,272.00 229.9,271.58 230.4,271.16 230.8,270.73 231.3,270.31 231.8,269.88 232.3,269.46 232.7,269.03 233.2,268.61 233.7,268.18"/>
<polyline class="p" points="174.5,303.85 175.0,303.84 175.4,303.84 175.9,303.84 176.4,303.84 176.9,303.83 177.3,303.83 177.8,303.82 178.3,303.82 178.8,303.81 179.2,303.80 179.7,303.79 180.2,303.79 180.7,303.78 181.1,303.77 181.6,303.76 182.1,303.75 182.5,303.73 183.0,303.72 183.5,303.71 184.0,303.70 184.4,303.69 184.9,303.67 185.4,303.66 185.9,303.65 186.3,303.63 186.8,303.62 187.3,303.60 187.8,303.58 188.2,303.57 188.7,303.54 189.2,303.52 189.6,303.50 190.1,303.47 190.6,303.44 191.1,303.41 191.5,303.38 192.0,303.35 192.5,303.32 193.0,303.28 193.4,303.24 193.9,303.20 194.4,303.16 194.9,303.12 195.3,303.08 195.8,303.03 196.3,302.99 196.8,302.94 197.2,302.89 197.7,302.84 198.2,302.78 198.6,302.71 199.1,302.60 199.6,302.48 200.1,302.39 200.5,302.36 201.0,302.47 201.5,302.73 202.0,303.05 202.4,303.31 202.9,303.42 203.4,303.38 203.9,303.27 204.3,303.12 204.8,302.83 205.3,302.43 205.7,301.97 206.2,301.51 206.7,301.09 207.2,300.66 207.6,300.22 208.1,299.77 208.6,299.32 209.1,298.85 209.5,298.38 210.0,297.90 210.5,297.42 211.0,296.92 211.4,296.40 211.9,295.88 212.4,295.36 212.8,294.83 213.3,294.30 213.8,293.77 214.3,293.26 214.7,292.75 215.2,292.25 215.7,291.77 216.2,291.30 216.6,290.85 217.1,290.41 217.6,289.98 218.1,289.55 218.5,289.13 219.0,288.72 219.5,288.30 220.0,287.89 220.4,287.48 220.9,287.07 221.4,286.65 221.8,286.23 222.3,285.81 222.8,285.39 223.3,284.97 223.7,284.56 224.2,284.15 224.7,283.74 225.2,283.32 225.6,282.90 226.1,282.48 226.6,282.04 227.1,281.60 227.5,281.15 228.0,280.69 228.5,280.22 228.9,279.74 229.4,279.25 229.9,278.76 230.4,278.26 230.8,277.75 231.3,277.23 231.8,276.71 232.3,276.18 232.7,275.64 233.2,275.10 233.7,274.55"/>
</g>
<rect class="ax" x="171.54" y="266.50" width="65.10" height="42.75"/>
<line class="tk" x1="186.34" y1="309.25" x2="186.34" y2="310.85"/>
<text class="xt" x="186.34" y="316.65" text-anchor="middle" textLength="10.69" lengthAdjust="spacingAndGlyphs">1900</text>
<line class="tk" x1="210.01" y1="309.25" x2="210.01" y2="310.85"/>
<text class="xt" x="210.01" y="316.65" text-anchor="middle" textLength="10.69" lengthAdjust="spacingAndGlyphs">2000</text>
<line class="tk" x1="233.68" y1="309.25" x2="233.68" y2="310.85"/>
<text class="xt" x="233.68" y="316.65" text-anchor="middle" textLength="10.69" lengthAdjust="spacingAndGlyphs">2100</text>
<line class="tk" x1="169.94" y1="304.43" x2="171.54" y2="304.43"/>
<text class="yt" x="168.34" y="306.18" text-anchor="end" textLength="2.67" lengthAdjust="spacingAndGlyphs">0</text>
<line class="tk" x1="169.94" y1="287.14" x2="171.54" y2="287.14"/>
<text class="yt" x="168.34" y="288.89" text-anchor="end" textLength="2.67" lengthAdjust="spacingAndGlyphs">2</text>
<line class="tk" x1="169.94" y1="269.85" x2="171.54" y2="269.85"/>
<text class="yt" x="168.34" y="271.60" text-anchor="end" textLength="2.67" lengthAdjust="spacingAndGlyphs">4</text>
<text class="an" x="234.84" y="304.60" text-anchor="end" textLength="15.60" lengthAdjust="spacingAndGlyphs">r<tspan class="sup" dy="-1.3">2</tspan><tspan dy="1.3">=0.98</tspan></text>
<text class="an" x="234.84" y="308.30" text-anchor="end" textLength="23.43" lengthAdjust="spacingAndGlyphs">RMSE=0.15</text>
<clipPath id="c53"><rect x="249.56" y="266.50" width="65.10" height="42.75"/></clipPath>
<g clip-path="url(#c53)">
<polyline class="g" points="252.5,303.85 252.8,304.03 253.0,303.75 253.2,304.00 253.5,305.17 253.7,304.21 253.9,303.88 254.2,305.94 254.4,303.32 254.6,303.36 254.9,304.69 255.1,304.08 255.4,303.82 255.6,302.57 255.8,301.86 256.1,304.28 256.3,305.81 256.5,305.28 256.8,304.13 257.0,302.88 257.3,303.52 257.5,304.20 257.7,302.58 258.0,303.95 258.2,303.74 258.4,305.31 258.7,305.22 258.9,305.35 259.1,304.57 259.4,303.89 259.6,303.32 259.9,305.06 260.1,305.58 260.3,306.71 260.6,307.69 260.8,306.16 261.0,305.52 261.3,305.80 261.5,306.25 261.8,303.55 262.0,304.09 262.2,302.55 262.5,303.28 262.7,304.23 262.9,303.92 263.2,303.89 263.4,304.40 263.6,305.39 263.9,304.34 264.1,304.86 264.4,303.45 264.6,303.46 264.8,305.76 265.1,306.97 265.3,305.27 265.5,304.95 265.8,303.65 266.0,303.19 266.2,304.61 266.5,303.52 266.7,303.17 267.0,303.30 267.2,304.02 267.4,304.12 267.7,304.59 267.9,304.64 268.1,305.21 268.4,303.85 268.6,303.64 268.9,303.35 269.1,304.06 269.3,303.04 269.6,303.61 269.8,303.89 270.0,303.53 270.3,300.72 270.5,301.62 270.7,304.28 271.0,304.26 271.2,302.81 271.5,302.48 271.7,302.14 271.9,301.33 272.2,303.45 272.4,303.49 272.6,303.60 272.9,303.51 273.1,303.17 273.4,302.74 273.6,303.39 273.8,302.45 274.1,303.45 274.3,301.56 274.5,301.84 274.8,303.47 275.0,302.76 275.2,303.43 275.5,303.13 275.7,303.34 276.0,303.32 276.2,303.49 276.4,303.92 276.7,303.88 276.9,303.56 277.1,304.22 277.4,303.44 277.6,302.43 277.8,303.60 278.1,302.18 278.3,303.53 278.6,303.95 278.8,303.50 279.0,302.45 279.3,304.14 279.5,305.60 279.7,305.70 280.0,302.85 280.2,301.42 280.5,303.80 280.7,303.71 280.9,301.38 281.2,303.29 281.4,302.69 281.6,303.98 281.9,302.83 282.1,302.89 282.3,303.11 282.6,302.84 282.8,301.52 283.1,302.98 283.3,302.45 283.5,303.20 283.8,303.75 284.0,304.72 284.2,304.84 284.5,300.76 284.7,300.97 285.0,300.45 285.2,300.43 285.4,299.73 285.7,300.75 285.9,302.86 286.1,303.03 286.4,300.65 286.6,299.58 286.8,299.48 287.1,297.81 287.3,299.09 287.6,297.38 287.8,298.52 288.0,296.79 288.3,295.36 288.5,296.67 288.7,296.85 289.0,297.09 289.2,298.46 289.4,296.20 289.7,296.66 289.9,297.13 290.2,295.13 290.4,295.36 290.6,293.89 290.9,294.75 291.1,295.95 291.3,294.72 291.6,291.70 291.8,294.02 292.1,294.18 292.3,294.25 292.5,292.79 292.8,292.86 293.0,292.36 293.2,293.49 293.5,294.88 293.7,292.94 293.9,292.24 294.2,291.47 294.4,291.65 294.7,292.13 294.9,291.58 295.1,292.42 295.4,290.28 295.6,290.42 295.8,289.93 296.1,289.28 296.3,289.05 296.6,290.58 296.8,289.35 297.0,289.17 297.3,289.33 297.5,288.12 297.7,287.52 298.0,287.00 298.2,287.86 298.4,287.68 298.7,285.41 298.9,286.81 299.2,285.57 299.4,287.75 299.6,284.89 299.9,284.64 300.1,285.00 300.3,283.29 300.6,284.01 300.8,284.14 301.0,283.87 301.3,284.65 301.5,284.13 301.8,283.69 302.0,283.38 302.2,279.88 302.5,282.40 302.7,282.02 302.9,282.35 303.2,281.39 303.4,280.57 303.7,280.41 303.9,280.91 304.1,280.78 304.4,281.79 304.6,281.75 304.8,280.67 305.1,280.30 305.3,279.15 305.5,279.20 305.8,278.63 306.0,277.99 306.3,277.26 306.5,277.52 306.7,277.22 307.0,278.39 307.2,277.10 307.4,276.52 307.7,275.00 307.9,275.14 308.1,275.86 308.4,276.08 308.6,275.94 308.9,275.45 309.1,275.87 309.3,274.46 309.6,275.00 309.8,273.94 310.0,273.39 310.3,271.87 310.5,272.20 310.8,273.23 311.0,272.60 311.2,272.50 311.5,272.49 311.7,273.76"/>
<polyline class="o" points="252.5,304.27 253.0,304.25 253.5,304.22 253.9,304.20 254.4,304.17 254.9,304.14 255.4,304.10 255.8,304.07 256.3,304.03 256.8,304.00 257.3,303.96 257.7,303.91 258.2,303.87 258.7,303.83 259.1,303.78 259.6,303.73 260.1,303.69 260.6,303.64 261.0,303.59 261.5,303.54 262.0,303.48 262.5,303.43 262.9,303.38 263.4,303.32 263.9,303.26 264.4,303.21 264.8,303.15 265.3,303.09 265.8,303.04 266.2,302.98 266.7,302.91 267.2,302.85 267.7,302.79 268.1,302.72 268.6,302.65 269.1,302.58 269.6,302.51 270.0,302.43 270.5,302.35 271.0,302.27 271.5,302.18 271.9,302.09 272.4,302.00 272.9,301.90 273.4,301.80 273.8,301.69 274.3,301.58 274.8,301.47 275.2,301.34 275.7,301.22 276.2,301.09 276.7,300.94 277.1,300.77 277.6,300.57 278.1,300.35 278.6,300.12 279.0,299.86 279.5,299.59 280.0,299.31 280.5,299.01 280.9,298.70 281.4,298.39 281.9,298.06 282.3,297.73 282.8,297.37 283.3,296.97 283.8,296.54 284.2,296.09 284.7,295.62 285.2,295.13 285.7,294.64 286.1,294.13 286.6,293.63 287.1,293.13 287.6,292.65 288.0,292.17 288.5,291.70 289.0,291.23 289.4,290.76 289.9,290.28 290.4,289.81 290.9,289.33 291.3,288.85 291.8,288.38 292.3,287.90 292.8,287.42 293.2,286.94 293.7,286.46 294.2,285.99 294.7,285.51 295.1,285.03 295.6,284.56 296.1,284.08 296.6,283.60 297.0,283.12 297.5,282.65 298.0,282.17 298.4,281.69 298.9,281.22 299.4,280.75 299.9,280.28 300.3,279.82 300.8,279.36 301.3,278.90 301.8,278.44 302.2,277.99 302.7,277.53 303.2,277.08 303.7,276.62 304.1,276.17 304.6,275.71 305.1,275.25 305.5,274.79 306.0,274.32 306.5,273.85 307.0,273.38 307.4,272.91 307.9,272.44 308.4,271.96 308.9,271.49 309.3,271.01 309.8,270.53 310.3,270.05 310.8,269.57 311.2,269.09 311.7,268.61"/>
<polyline class="p" points="252.5,304.27 253.0,304.27 253.5,304.27 253.9,304.27 254.4,304.26 254.9,304.26 255.4,304.25 255.8,304.25 256.3,304.24 256.8,304.24 257.3,304.23 257.7,304.22 258.2,304.21 258.7,304.20 259.1,304.19 259.6,304.18 260.1,304.17 260.6,304.16 261.0,304.15 261.5,304.14 262.0,304.12 262.5,304.11 262.9,304.10 263.4,304.08 263.9,304.07 264.4,304.06 264.8,304.04 265.3,304.03 265.8,304.01 266.2,303.99 266.7,303.97 267.2,303.95 267.7,303.92 268.1,303.90 268.6,303.87 269.1,303.84 269.6,303.81 270.0,303.77 270.5,303.74 271.0,303.71 271.5,303.67 271.9,303.63 272.4,303.59 272.9,303.55 273.4,303.50 273.8,303.46 274.3,303.41 274.8,303.36 275.2,303.31 275.7,303.26 276.2,303.21 276.7,303.13 277.1,303.02 277.6,302.91 278.1,302.82 278.6,302.78 279.0,302.87 279.5,303.08 280.0,303.33 280.5,303.54 280.9,303.63 281.4,303.59 281.9,303.48 282.3,303.35 282.8,303.16 283.3,302.90 283.8,302.61 284.2,302.30 284.7,301.98 285.2,301.63 285.7,301.23 286.1,300.80 286.6,300.35 287.1,299.89 287.6,299.43 288.0,298.96 288.5,298.50 289.0,298.01 289.4,297.52 289.9,297.02 290.4,296.51 290.9,295.99 291.3,295.46 291.8,294.94 292.3,294.41 292.8,293.89 293.2,293.37 293.7,292.85 294.2,292.34 294.7,291.83 295.1,291.32 295.6,290.81 296.1,290.30 296.6,289.79 297.0,289.28 297.5,288.77 298.0,288.26 298.4,287.76 298.9,287.25 299.4,286.74 299.9,286.23 300.3,285.72 300.8,285.23 301.3,284.74 301.8,284.25 302.2,283.77 302.7,283.28 303.2,282.79 303.7,282.29 304.1,281.77 304.6,281.25 305.1,280.71 305.5,280.15 306.0,279.57 306.5,278.97 307.0,278.35 307.4,277.72 307.9,277.07 308.4,276.41 308.9,275.73 309.3,275.03 309.8,274.33 310.3,273.61 310.8,272.87 311.2,272.13 311.7,271.37"/>
</g>
<rect class="ax" x="249.56" y="266.50" width="65.10" height="42.75"/>
<line class="tk" x1="264.36" y1="309.25" x2="264.36" y2="310.85"/>
<text class="xt" x="264.36" y="316.65" text-anchor="middle" textLength="10.69" lengthAdjust="spacingAndGlyphs">1900</text>
<line class="tk" x1="288.03" y1="309.25" x2="288.03" y2="310.85"/>
<text class="xt" x="288.03" y="316.65" text-anchor="middle" textLength="10.69" lengthAdjust="spacingAndGlyphs">2000</text>
<line class="tk" x1="311.70" y1="309.25" x2="311.70" y2="310.85"/>
<text class="xt" x="311.70" y="316.65" text-anchor="middle" textLength="10.69" lengthAdjust="spacingAndGlyphs">2100</text>
<line class="tk" x1="247.96" y1="304.79" x2="249.56" y2="304.79"/>
<text class="yt" x="246.36" y="306.54" text-anchor="end" textLength="2.67" lengthAdjust="spacingAndGlyphs">0</text>
<line class="tk" x1="247.96" y1="289.17" x2="249.56" y2="289.17"/>
<text class="yt" x="246.36" y="290.92" text-anchor="end" textLength="2.67" lengthAdjust="spacingAndGlyphs">2</text>
<line class="tk" x1="247.96" y1="273.55" x2="249.56" y2="273.55"/>
<text class="yt" x="246.36" y="275.30" text-anchor="end" textLength="2.67" lengthAdjust="spacingAndGlyphs">4</text>
<text class="an" x="312.86" y="304.60" text-anchor="end" textLength="15.60" lengthAdjust="spacingAndGlyphs">r<tspan class="sup" dy="-1.3">2</tspan><tspan dy="1.3">=0.99</tspan></text>
<text class="an" x="312.86" y="308.30" text-anchor="end" textLength="23.43" lengthAdjust="spacingAndGlyphs">RMSE=0.20</text>
<text class="mn" x="17.20" y="271.40" textLength="27.91" lengthAdjust="spacingAndGlyphs">GFDL-ESM4</text>
<text class="yl" transform="translate(6.10,288.48) rotate(-90)" text-anchor="middle"><tspan font-style="italic">&#916;GMST</tspan> [K]</text>
<clipPath id="c60"><rect x="15.50" y="317.84" width="65.10" height="42.75"/></clipPath>
<g clip-path="url(#c60)">
<polyline class="g" points="18.5,355.66 18.7,353.19 18.9,354.75 19.2,356.32 19.4,355.93 19.6,356.52 19.9,355.00 20.1,353.04 20.4,353.48 20.6,355.36 20.8,356.16 21.1,354.91 21.3,353.17 21.5,354.97 21.8,353.98 22.0,354.40 22.2,354.02 22.5,354.30 22.7,354.94 23.0,354.08 23.2,354.08 23.4,353.81 23.7,355.32 23.9,352.63 24.1,353.51 24.4,353.84 24.6,353.83 24.9,354.57 25.1,353.72 25.3,353.48 25.6,353.15 25.8,352.84 26.0,353.44 26.3,354.74 26.5,356.65 26.7,354.69 27.0,353.82 27.2,353.83 27.5,352.99 27.7,353.45 27.9,353.66 28.2,354.02 28.4,354.01 28.6,354.49 28.9,353.94 29.1,354.15 29.3,354.81 29.6,353.98 29.8,354.51 30.1,352.98 30.3,353.27 30.5,353.21 30.8,354.45 31.0,353.80 31.2,353.71 31.5,354.90 31.7,355.81 32.0,355.72 32.2,354.31 32.4,353.43 32.7,355.28 32.9,353.92 33.1,353.32 33.4,353.17 33.6,353.94 33.8,354.70 34.1,353.58 34.3,353.78 34.6,354.23 34.8,354.87 35.0,354.48 35.3,353.65 35.5,352.97 35.7,352.57 36.0,354.21 36.2,352.46 36.5,352.04 36.7,352.08 36.9,352.71 37.2,350.70 37.4,351.53 37.6,353.22 37.9,353.93 38.1,353.75 38.3,352.53 38.6,351.93 38.8,351.14 39.1,349.84 39.3,350.66 39.5,351.16 39.8,350.50 40.0,350.65 40.2,350.54 40.5,351.69 40.7,351.05 40.9,351.40 41.2,351.14 41.4,351.64 41.7,350.73 41.9,351.09 42.1,352.76 42.4,351.54 42.6,350.86 42.8,352.89 43.1,352.18 43.3,350.28 43.6,350.25 43.8,348.67 44.0,351.68 44.3,349.76 44.5,350.30 44.7,349.81 45.0,350.98 45.2,351.72 45.4,352.85 45.7,351.34 45.9,349.31 46.2,348.65 46.4,349.74 46.6,350.77 46.9,350.72 47.1,348.43 47.3,348.36 47.6,348.14 47.8,349.04 48.0,347.01 48.3,348.02 48.5,348.36 48.8,347.71 49.0,346.73 49.2,345.69 49.5,345.36 49.7,346.26 49.9,347.26 50.2,347.08 50.4,346.52 50.7,347.68 50.9,347.30 51.1,344.50 51.4,344.00 51.6,342.41 51.8,344.01 52.1,344.99 52.3,342.65 52.5,342.19 52.8,339.82 53.0,339.12 53.3,339.11 53.5,338.39 53.7,340.43 54.0,339.80 54.2,338.91 54.4,338.15 54.7,337.55 54.9,338.92 55.2,338.09 55.4,337.53 55.6,338.61 55.9,335.90 56.1,335.17 56.3,335.07 56.6,334.31 56.8,334.65 57.0,334.21 57.3,334.05 57.5,333.50 57.8,331.66 58.0,330.11 58.2,329.59 58.5,331.63 58.7,331.04 58.9,329.26 59.2,330.80 59.4,329.89 59.6,328.01 59.9,330.79 60.1,328.50 60.4,327.90 60.6,326.67 60.8,328.58 61.1,327.21 61.3,327.12 61.5,327.01 61.8,328.32 62.0,328.69 62.3,329.43 62.5,327.42 62.7,325.73 63.0,324.54 63.2,324.58 63.4,324.50 63.7,325.57 63.9,325.75 64.1,327.12 64.4,326.19 64.6,324.39 64.9,325.81 65.1,325.77 65.3,326.37 65.6,323.64 65.8,324.66 66.0,325.19 66.3,322.89 66.5,324.55 66.8,325.77 67.0,325.05 67.2,325.26 67.5,323.71 67.7,325.34 67.9,325.45 68.2,324.39 68.4,325.18 68.6,324.66 68.9,323.50 69.1,323.93 69.4,322.95 69.6,323.98 69.8,323.71 70.1,323.81 70.3,322.33 70.5,322.87 70.8,322.61 71.0,324.39 71.2,322.85 71.5,323.30 71.7,322.60 72.0,323.62 72.2,322.23 72.4,323.32 72.7,322.18 72.9,321.95 73.1,322.39 73.4,321.66 73.6,322.99 73.9,323.29 74.1,322.79 74.3,323.50 74.6,323.22 74.8,323.89 75.0,323.48 75.3,323.05 75.5,325.03 75.7,321.88 76.0,321.53 76.2,324.18 76.5,323.43 76.7,324.67 76.9,322.01 77.2,322.61 77.4,323.28 77.6,323.30"/>
<polyline class="o" points="18.5,354.15 18.9,354.11 19.4,354.07 19.9,354.02 20.4,353.96 20.8,353.89 21.3,353.82 21.8,353.73 22.2,353.64 22.7,353.55 23.2,353.45 23.7,353.34 24.1,353.22 24.6,353.10 25.1,352.98 25.6,352.85 26.0,352.72 26.5,352.58 27.0,352.44 27.5,352.30 27.9,352.15 28.4,352.00 28.9,351.85 29.3,351.70 29.8,351.54 30.3,351.39 30.8,351.23 31.2,351.06 31.7,350.89 32.2,350.71 32.7,350.52 33.1,350.32 33.6,350.12 34.1,349.90 34.6,349.68 35.0,349.45 35.5,349.21 36.0,348.95 36.5,348.69 36.9,348.42 37.4,348.13 37.9,347.84 38.3,347.53 38.8,347.21 39.3,346.88 39.8,346.53 40.2,346.17 40.7,345.80 41.2,345.41 41.7,345.01 42.1,344.59 42.6,344.12 43.1,343.55 43.6,342.89 44.0,342.17 44.5,341.39 45.0,340.56 45.4,339.71 45.9,338.84 46.4,337.96 46.9,337.09 47.3,336.24 47.8,335.43 48.3,334.66 48.8,333.86 49.2,333.03 49.7,332.18 50.2,331.33 50.7,330.48 51.1,329.65 51.6,328.84 52.1,328.06 52.5,327.33 53.0,326.65 53.5,326.03 54.0,325.49 54.4,324.99 54.9,324.49 55.4,323.99 55.9,323.51 56.3,323.05 56.8,322.62 57.3,322.21 57.8,321.85 58.2,321.52 58.7,321.25 59.2,321.03 59.6,320.87 60.1,320.78 60.6,320.69 61.1,320.61 61.5,320.54 62.0,320.47 62.5,320.40 63.0,320.35 63.4,320.30 63.9,320.26 64.4,320.23 64.9,320.20 65.3,320.19 65.8,320.18 66.3,320.19 66.8,320.23 67.2,320.28 67.7,320.34 68.2,320.42 68.6,320.51 69.1,320.61 69.6,320.72 70.1,320.84 70.5,320.95 71.0,321.07 71.5,321.19 72.0,321.30 72.4,321.43 72.9,321.56 73.4,321.71 73.9,321.86 74.3,322.02 74.8,322.20 75.3,322.37 75.7,322.56 76.2,322.75 76.7,322.95 77.2,323.16 77.6,323.37"/>
<polyline class="p" points="18.5,354.15 18.9,354.14 19.4,354.13 19.9,354.11 20.4,354.10 20.8,354.08 21.3,354.06 21.8,354.04 22.2,354.02 22.7,354.00 23.2,353.98 23.7,353.95 24.1,353.93 24.6,353.90 25.1,353.87 25.6,353.84 26.0,353.81 26.5,353.78 27.0,353.75 27.5,353.72 27.9,353.68 28.4,353.65 28.9,353.62 29.3,353.58 29.8,353.55 30.3,353.51 30.8,353.47 31.2,353.44 31.7,353.40 32.2,353.36 32.7,353.32 33.1,353.28 33.6,353.24 34.1,353.20 34.6,353.15 35.0,353.11 35.5,353.06 36.0,353.01 36.5,352.95 36.9,352.89 37.4,352.83 37.9,352.77 38.3,352.70 38.8,352.63 39.3,352.56 39.8,352.48 40.2,352.40 40.7,352.31 41.2,352.22 41.7,352.13 42.1,352.02 42.6,351.91 43.1,351.76 43.6,351.58 44.0,351.37 44.5,351.15 45.0,350.89 45.4,350.62 45.9,350.33 46.4,350.02 46.9,349.70 47.3,349.36 47.8,349.02 48.3,348.65 48.8,348.24 49.2,347.76 49.7,347.24 50.2,346.68 50.7,346.08 51.1,345.45 51.6,344.80 52.1,344.13 52.5,343.45 53.0,342.77 53.5,342.09 54.0,341.41 54.4,340.71 54.9,339.96 55.4,339.16 55.9,338.34 56.3,337.50 56.8,336.65 57.3,335.81 57.8,334.99 58.2,334.20 58.7,333.46 59.2,332.77 59.6,332.14 60.1,331.59 60.6,331.06 61.1,330.55 61.5,330.06 62.0,329.59 62.5,329.13 63.0,328.70 63.4,328.29 63.9,327.90 64.4,327.53 64.9,327.18 65.3,326.85 65.8,326.55 66.3,326.26 66.8,325.97 67.2,325.68 67.7,325.40 68.2,325.13 68.6,324.87 69.1,324.63 69.6,324.42 70.1,324.22 70.5,324.06 71.0,323.92 71.5,323.83 72.0,323.76 72.4,323.71 72.9,323.65 73.4,323.60 73.9,323.56 74.3,323.52 74.8,323.48 75.3,323.45 75.7,323.42 76.2,323.40 76.7,323.38 77.2,323.37 77.6,323.37"/>
</g>
<rect class="ax" x="15.50" y="317.84" width="65.10" height="42.75"/>
<line class="tk" x1="30.30" y1="360.59" x2="30.30" y2="362.19"/>
<text class="xt" x="30.30" y="367.99" text-anchor="middle" textLength="10.69" lengthAdjust="spacingAndGlyphs">1900</text>
<line class="tk" x1="53.97" y1="360.59" x2="53.97" y2="362.19"/>
<text class="xt" x="53.97" y="367.99" text-anchor="middle" textLength="10.69" lengthAdjust="spacingAndGlyphs">2000</text>
<line class="tk" x1="77.64" y1="360.59" x2="77.64" y2="362.19"/>
<text class="xt" x="77.64" y="367.99" text-anchor="middle" textLength="10.69" lengthAdjust="spacingAndGlyphs">2100</text>
<line class="tk" x1="13.90" y1="354.52" x2="15.50" y2="354.52"/>
<text class="yt" x="12.30" y="356.27" text-anchor="end" textLength="2.67" lengthAdjust="spacingAndGlyphs">0</text>
<line class="tk" x1="13.90" y1="339.43" x2="15.50" y2="339.43"/>
<text class="yt" x="12.30" y="341.18" text-anchor="end" textLength="2.67" lengthAdjust="spacingAndGlyphs">1</text>
<line class="tk" x1="13.90" y1="324.33" x2="15.50" y2="324.33"/>
<text class="yt" x="12.30" y="326.08" text-anchor="end" textLength="2.67" lengthAdjust="spacingAndGlyphs">2</text>
<text class="an" x="78.80" y="355.94" text-anchor="end" textLength="15.60" lengthAdjust="spacingAndGlyphs">r<tspan class="sup" dy="-1.3">2</tspan><tspan dy="1.3">=0.96</tspan></text>
<text class="an" x="78.80" y="359.64" text-anchor="end" textLength="23.43" lengthAdjust="spacingAndGlyphs">RMSE=0.15</text>
<clipPath id="c61"><rect x="93.52" y="317.84" width="65.10" height="42.75"/></clipPath>
<g clip-path="url(#c61)">
<polyline class="g" points="96.5,356.40 96.7,354.17 97.0,355.57 97.2,356.98 97.4,356.63 97.7,357.15 97.9,355.78 98.1,354.01 98.4,354.41 98.6,356.10 98.8,356.82 99.1,355.69 99.3,354.13 99.6,355.74 99.8,354.86 100.0,355.23 100.3,354.89 100.5,355.14 100.7,355.72 101.0,354.95 101.2,354.95 101.5,354.71 101.7,356.07 101.9,353.65 102.2,354.45 102.4,354.75 102.6,354.74 102.9,355.41 103.1,354.65 103.3,354.44 103.6,354.14 103.8,353.87 104.1,354.44 104.3,355.71 104.5,357.52 104.8,355.68 105.0,354.80 105.2,354.79 105.5,354.04 105.7,354.46 105.9,354.66 106.2,354.99 106.4,354.98 106.7,355.42 106.9,354.93 107.1,355.13 107.4,355.74 107.6,355.00 107.8,355.48 108.1,354.11 108.3,354.38 108.6,354.34 108.8,355.53 109.0,355.01 109.3,354.88 109.5,355.90 109.7,356.72 110.0,356.64 110.2,355.39 110.4,354.60 110.7,356.28 110.9,355.07 111.2,354.54 111.4,354.41 111.6,355.12 111.9,355.82 112.1,354.82 112.3,355.01 112.6,355.43 112.8,356.02 113.0,355.69 113.3,354.95 113.5,354.36 113.8,354.02 114.0,355.50 114.2,353.95 114.5,353.59 114.7,353.65 114.9,354.23 115.2,352.44 115.4,353.21 115.7,354.74 115.9,355.41 116.1,355.26 116.4,354.19 116.6,353.67 116.8,352.98 117.1,351.83 117.3,352.59 117.5,353.07 117.8,352.50 118.0,352.66 118.3,352.59 118.5,353.65 118.7,353.10 119.0,353.44 119.2,353.24 119.4,353.71 119.7,352.92 119.9,353.27 120.2,354.81 120.4,353.75 120.6,353.17 120.9,355.04 121.1,354.44 121.3,352.78 121.6,352.81 121.8,351.45 122.0,354.22 122.3,352.55 122.5,353.11 122.8,352.74 123.0,353.89 123.2,354.73 123.5,355.91 123.7,354.55 123.9,352.71 124.2,352.17 124.4,353.23 124.6,354.24 124.9,354.29 125.1,352.32 125.4,352.34 125.6,352.23 125.8,353.13 126.1,351.39 126.3,352.39 126.5,352.79 126.8,352.29 127.0,351.50 127.3,350.66 127.5,350.46 127.7,351.42 128.0,352.46 128.2,352.34 128.4,351.85 128.7,352.97 128.9,352.70 129.1,350.27 129.4,349.89 129.6,348.56 129.9,350.17 130.1,351.20 130.3,349.08 130.6,348.63 130.8,346.54 131.0,345.96 131.3,346.00 131.5,345.40 131.8,347.28 132.0,346.75 132.2,345.99 132.5,345.33 132.7,344.83 132.9,346.08 133.2,345.36 133.4,344.86 133.6,345.86 133.9,343.42 134.1,342.76 134.4,342.67 134.6,341.98 134.8,342.28 135.1,341.86 135.3,341.70 135.5,341.89 135.8,339.84 136.0,339.38 136.2,339.11 136.5,338.20 136.7,337.90 137.0,336.80 137.2,337.52 137.4,336.90 137.7,337.39 137.9,337.58 138.1,337.19 138.4,336.33 138.6,336.85 138.9,335.30 139.1,334.88 139.3,336.50 139.6,336.30 139.8,334.62 140.0,332.58 140.3,333.10 140.5,332.14 140.7,331.31 141.0,332.16 141.2,330.28 141.5,331.13 141.7,331.12 141.9,331.31 142.2,331.09 142.4,329.52 142.6,329.34 142.9,329.15 143.1,329.61 143.4,330.07 143.6,330.83 143.8,330.68 144.1,329.26 144.3,329.65 144.5,329.46 144.8,329.64 145.0,329.13 145.2,328.50 145.5,326.91 145.7,327.77 146.0,327.08 146.2,327.01 146.4,325.56 146.7,326.03 146.9,327.74 147.1,327.53 147.4,327.09 147.6,326.26 147.8,324.99 148.1,324.43 148.3,325.35 148.6,325.43 148.8,324.34 149.0,327.53 149.3,327.02 149.5,326.95 149.7,324.80 150.0,323.93 150.2,325.16 150.5,324.71 150.7,324.57 150.9,324.38 151.2,324.37 151.4,323.80 151.6,322.21 151.9,322.51 152.1,323.82 152.3,325.76 152.6,323.57 152.8,322.53 153.1,321.32 153.3,321.53 153.5,321.94 153.8,322.20 154.0,321.78 154.2,321.78 154.5,322.27 154.7,321.65 155.0,321.74 155.2,322.64 155.4,320.82 155.7,321.64"/>
<polyline class="o" points="96.5,355.21 97.0,355.20 97.4,355.18 97.9,355.15 98.4,355.12 98.8,355.08 99.3,355.04 99.8,354.99 100.3,354.94 100.7,354.88 101.2,354.82 101.7,354.75 102.2,354.68 102.6,354.61 103.1,354.53 103.6,354.45 104.1,354.36 104.5,354.27 105.0,354.18 105.5,354.09 105.9,354.00 106.4,353.90 106.9,353.81 107.4,353.71 107.8,353.61 108.3,353.51 108.8,353.41 109.3,353.30 109.7,353.18 110.2,353.06 110.7,352.94 111.2,352.80 111.6,352.66 112.1,352.51 112.6,352.36 113.0,352.20 113.5,352.03 114.0,351.86 114.5,351.67 114.9,351.48 115.4,351.28 115.9,351.08 116.4,350.86 116.8,350.64 117.3,350.41 117.8,350.17 118.3,349.92 118.7,349.66 119.2,349.40 119.7,349.12 120.2,348.84 120.6,348.52 121.1,348.15 121.6,347.74 122.0,347.28 122.5,346.78 123.0,346.25 123.5,345.70 123.9,345.13 124.4,344.54 124.9,343.95 125.4,343.36 125.8,342.76 126.3,342.18 126.8,341.56 127.3,340.91 127.7,340.24 128.2,339.55 128.7,338.84 129.1,338.13 129.6,337.41 130.1,336.70 130.6,335.99 131.0,335.30 131.5,334.63 132.0,333.98 132.5,333.34 132.9,332.69 133.4,332.04 133.9,331.39 134.4,330.74 134.8,330.11 135.3,329.49 135.8,328.89 136.2,328.31 136.7,327.76 137.2,327.25 137.7,326.77 138.1,326.34 138.6,325.92 139.1,325.51 139.6,325.12 140.0,324.74 140.5,324.37 141.0,324.02 141.5,323.69 141.9,323.38 142.4,323.08 142.9,322.80 143.4,322.54 143.8,322.31 144.3,322.08 144.8,321.86 145.2,321.65 145.7,321.44 146.2,321.25 146.7,321.06 147.1,320.88 147.6,320.72 148.1,320.57 148.6,320.44 149.0,320.32 149.5,320.23 150.0,320.14 150.5,320.07 150.9,319.99 151.4,319.92 151.9,319.85 152.3,319.79 152.8,319.73 153.3,319.68 153.8,319.63 154.2,319.60 154.7,319.57 155.2,319.55 155.7,319.55"/>
<polyline class="p" points="96.5,355.21 97.0,355.20 97.4,355.18 97.9,355.17 98.4,355.15 98.8,355.14 99.3,355.12 99.8,355.11 100.3,355.09 100.7,355.08 101.2,355.06 101.7,355.05 102.2,355.03 102.6,355.01 103.1,354.99 103.6,354.98 104.1,354.96 104.5,354.94 105.0,354.92 105.5,354.90 105.9,354.88 106.4,354.86 106.9,354.84 107.4,354.82 107.8,354.80 108.3,354.78 108.8,354.76 109.3,354.74 109.7,354.72 110.2,354.71 110.7,354.69 111.2,354.67 111.6,354.65 112.1,354.63 112.6,354.61 113.0,354.59 113.5,354.57 114.0,354.54 114.5,354.52 114.9,354.50 115.4,354.47 115.9,354.45 116.4,354.42 116.8,354.39 117.3,354.36 117.8,354.33 118.3,354.30 118.7,354.26 119.2,354.23 119.7,354.19 120.2,354.15 120.6,354.10 121.1,354.05 121.6,354.00 122.0,353.94 122.5,353.87 123.0,353.79 123.5,353.71 123.9,353.62 124.4,353.52 124.9,353.41 125.4,353.29 125.8,353.16 126.3,353.01 126.8,352.80 127.3,352.53 127.7,352.20 128.2,351.82 128.7,351.40 129.1,350.95 129.6,350.46 130.1,349.95 130.6,349.42 131.0,348.88 131.5,348.33 132.0,347.78 132.5,347.19 132.9,346.53 133.4,345.81 133.9,345.04 134.4,344.24 134.8,343.41 135.3,342.56 135.8,341.72 136.2,340.88 136.7,340.07 137.2,339.30 137.7,338.57 138.1,337.89 138.6,337.23 139.1,336.58 139.6,335.94 140.0,335.31 140.5,334.70 141.0,334.09 141.5,333.50 141.9,332.93 142.4,332.37 142.9,331.83 143.4,331.30 143.8,330.80 144.3,330.31 144.8,329.83 145.2,329.36 145.7,328.91 146.2,328.46 146.7,328.03 147.1,327.61 147.6,327.20 148.1,326.80 148.6,326.41 149.0,326.04 149.5,325.67 150.0,325.31 150.5,324.97 150.9,324.62 151.4,324.29 151.9,323.96 152.3,323.64 152.8,323.33 153.3,323.03 153.8,322.74 154.2,322.46 154.7,322.18 155.2,321.92 155.7,321.67"/>
</g>
<rect class="ax" x="93.52" y="317.84" width="65.10" height="42.75"/>
<line class="tk" x1="108.32" y1="360.59" x2="108.32" y2="362.19"/>
<text class="xt" x="108.32" y="367.99" text-anchor="middle" textLength="10.69" lengthAdjust="spacingAndGlyphs">1900</text>
<line class="tk" x1="131.99" y1="360.59" x2="131.99" y2="362.19"/>
<text class="xt" x="131.99" y="367.99" text-anchor="middle" textLength="10.69" lengthAdjust="spacingAndGlyphs">2000</text>
<line class="tk" x1="155.66" y1="360.59" x2="155.66" y2="362.19"/>
<text class="xt" x="155.66" y="367.99" text-anchor="middle" textLength="10.69" lengthAdjust="spacingAndGlyphs">2100</text>
<line class="tk" x1="91.92" y1="355.63" x2="93.52" y2="355.63"/>
<text class="yt" x="90.32" y="357.38" text-anchor="end" textLength="2.67" lengthAdjust="spacingAndGlyphs">0</text>
<line class="tk" x1="91.92" y1="344.30" x2="93.52" y2="344.30"/>
<text class="yt" x="90.32" y="346.05" text-anchor="end" textLength="2.67" lengthAdjust="spacingAndGlyphs">1</text>
<line class="tk" x1="91.92" y1="332.98" x2="93.52" y2="332.98"/>
<text class="yt" x="90.32" y="334.73" text-anchor="end" textLength="2.67" lengthAdjust="spacingAndGlyphs">2</text>
<line class="tk" x1="91.92" y1="321.65" x2="93.52" y2="321.65"/>
<text class="yt" x="90.32" y="323.40" text-anchor="end" textLength="2.67" lengthAdjust="spacingAndGlyphs">3</text>
<text class="an" x="156.82" y="355.94" text-anchor="end" textLength="15.60" lengthAdjust="spacingAndGlyphs">r<tspan class="sup" dy="-1.3">2</tspan><tspan dy="1.3">=0.98</tspan></text>
<text class="an" x="156.82" y="359.64" text-anchor="end" textLength="23.43" lengthAdjust="spacingAndGlyphs">RMSE=0.16</text>
<clipPath id="c62"><rect x="171.54" y="317.84" width="65.10" height="42.75"/></clipPath>
<g clip-path="url(#c62)">
<polyline class="g" points="174.5,357.36 174.7,355.37 175.0,356.62 175.2,357.87 175.4,357.57 175.7,358.04 175.9,356.82 176.2,355.25 176.4,355.61 176.6,357.11 176.9,357.76 177.1,356.75 177.3,355.37 177.6,356.81 177.8,356.02 178.0,356.35 178.3,356.05 178.5,356.28 178.8,356.80 179.0,356.12 179.2,356.12 179.5,355.91 179.7,357.12 179.9,354.97 180.2,355.69 180.4,355.95 180.7,355.95 180.9,356.55 181.1,355.87 181.4,355.69 181.6,355.43 181.8,355.20 182.1,355.73 182.3,356.97 182.5,358.67 182.8,356.95 183.0,356.07 183.3,356.03 183.5,355.36 183.7,355.74 184.0,355.92 184.2,356.21 184.4,356.21 184.7,356.61 184.9,356.17 185.2,356.35 185.4,356.89 185.6,356.24 185.9,356.67 186.1,355.45 186.3,355.70 186.6,355.69 186.8,356.81 187.0,356.41 187.3,356.24 187.5,357.08 187.8,357.79 188.0,357.73 188.2,356.61 188.5,355.92 188.7,357.41 188.9,356.33 189.2,355.86 189.4,355.76 189.6,356.38 189.9,357.01 190.1,356.12 190.4,356.30 190.6,356.67 190.8,357.19 191.1,356.90 191.3,356.25 191.5,355.72 191.8,355.42 192.0,356.74 192.3,355.36 192.5,355.05 192.7,355.10 193.0,355.62 193.2,354.03 193.4,354.71 193.7,356.08 193.9,356.68 194.1,356.55 194.4,355.60 194.6,355.14 194.9,354.53 195.1,353.51 195.3,354.19 195.6,354.62 195.8,354.12 196.0,354.26 196.3,354.20 196.5,355.15 196.8,354.67 197.0,354.98 197.2,354.80 197.5,355.22 197.7,354.53 197.9,354.85 198.2,356.22 198.4,355.29 198.6,354.78 198.9,356.45 199.1,355.94 199.4,354.48 199.6,354.52 199.8,353.33 200.1,355.82 200.3,354.36 200.5,354.88 200.8,354.57 201.0,355.66 201.2,356.54 201.5,357.70 201.7,356.44 202.0,354.72 202.2,354.25 202.4,355.23 202.7,356.17 202.9,356.24 203.1,354.53 203.4,354.59 203.6,354.53 203.9,355.37 204.1,353.87 204.3,354.80 204.6,355.20 204.8,354.81 205.0,354.15 205.3,353.46 205.5,353.36 205.7,354.34 206.0,355.38 206.2,355.27 206.5,354.84 206.7,355.88 206.9,355.71 207.2,353.61 207.4,353.36 207.6,352.27 207.9,353.87 208.1,354.95 208.4,353.06 208.6,352.62 208.8,350.81 209.1,350.37 209.3,350.48 209.5,350.02 209.8,351.77 210.0,351.37 210.2,350.77 210.5,350.27 210.7,349.91 211.0,351.11 211.2,350.56 211.4,350.22 211.7,351.20 211.9,349.14 212.1,348.66 212.4,348.68 212.6,348.17 212.8,348.53 213.1,348.27 213.3,348.22 213.6,347.18 213.8,346.84 214.0,346.08 214.3,345.57 214.5,344.99 214.7,346.11 215.0,346.45 215.2,346.08 215.5,344.58 215.7,345.07 215.9,345.86 216.2,344.81 216.4,344.39 216.6,342.58 216.9,342.39 217.1,343.75 217.3,341.45 217.6,341.27 217.8,340.59 218.1,341.63 218.3,340.99 218.5,340.87 218.8,340.48 219.0,340.99 219.2,340.68 219.5,340.35 219.7,341.58 220.0,342.54 220.2,341.44 220.4,340.71 220.7,340.64 220.9,340.69 221.1,340.27 221.4,339.89 221.6,337.77 221.8,338.11 222.1,337.24 222.3,337.58 222.6,336.36 222.8,336.89 223.0,336.66 223.3,335.44 223.5,336.03 223.7,335.50 224.0,335.47 224.2,336.83 224.4,335.34 224.7,335.39 224.9,335.43 225.2,334.75 225.4,334.83 225.6,334.11 225.9,333.14 226.1,332.49 226.3,333.21 226.6,331.38 226.8,331.01 227.1,330.91 227.3,331.92 227.5,332.08 227.8,332.10 228.0,332.48 228.2,330.97 228.5,331.74 228.7,330.78 228.9,331.15 229.2,329.92 229.4,329.11 229.7,328.31 229.9,328.29 230.1,329.04 230.4,328.01 230.6,327.88 230.8,326.75 231.1,326.24 231.3,327.01 231.6,326.34 231.8,327.06 232.0,325.66 232.3,325.24 232.5,325.78 232.7,324.50 233.0,323.53 233.2,324.05 233.4,322.82 233.7,324.03"/>
<polyline class="o" points="174.5,356.27 175.0,356.26 175.4,356.24 175.9,356.22 176.4,356.19 176.9,356.17 177.3,356.14 177.8,356.11 178.3,356.07 178.8,356.03 179.2,355.99 179.7,355.95 180.2,355.91 180.7,355.86 181.1,355.82 181.6,355.77 182.1,355.72 182.5,355.66 183.0,355.61 183.5,355.56 184.0,355.50 184.4,355.44 184.9,355.39 185.4,355.33 185.9,355.27 186.3,355.21 186.8,355.15 187.3,355.08 187.8,355.02 188.2,354.95 188.7,354.88 189.2,354.81 189.6,354.73 190.1,354.65 190.6,354.57 191.1,354.48 191.5,354.39 192.0,354.30 192.5,354.20 193.0,354.10 193.4,354.00 193.9,353.89 194.4,353.77 194.9,353.65 195.3,353.53 195.8,353.40 196.3,353.26 196.8,353.12 197.2,352.97 197.7,352.82 198.2,352.66 198.6,352.48 199.1,352.27 199.6,352.04 200.1,351.77 200.5,351.48 201.0,351.18 201.5,350.85 202.0,350.51 202.4,350.15 202.9,349.78 203.4,349.41 203.9,349.03 204.3,348.64 204.8,348.22 205.3,347.77 205.7,347.29 206.2,346.78 206.7,346.26 207.2,345.72 207.6,345.17 208.1,344.62 208.6,344.07 209.1,343.53 209.5,342.99 210.0,342.47 210.5,341.96 211.0,341.45 211.4,340.93 211.9,340.42 212.4,339.90 212.8,339.39 213.3,338.88 213.8,338.36 214.3,337.86 214.7,337.35 215.2,336.85 215.7,336.35 216.2,335.86 216.6,335.37 217.1,334.87 217.6,334.38 218.1,333.90 218.5,333.41 219.0,332.93 219.5,332.45 220.0,331.98 220.4,331.51 220.9,331.06 221.4,330.60 221.8,330.16 222.3,329.73 222.8,329.30 223.3,328.88 223.7,328.46 224.2,328.06 224.7,327.65 225.2,327.25 225.6,326.85 226.1,326.45 226.6,326.06 227.1,325.66 227.5,325.27 228.0,324.87 228.5,324.47 228.9,324.07 229.4,323.68 229.9,323.28 230.4,322.89 230.8,322.50 231.3,322.11 231.8,321.72 232.3,321.34 232.7,320.95 233.2,320.57 233.7,320.18"/>
<polyline class="p" points="174.5,356.27 175.0,356.27 175.4,356.26 175.9,356.26 176.4,356.25 176.9,356.24 177.3,356.24 177.8,356.23 178.3,356.22 178.8,356.21 179.2,356.21 179.7,356.20 180.2,356.19 180.7,356.18 181.1,356.17 181.6,356.16 182.1,356.15 182.5,356.14 183.0,356.13 183.5,356.12 184.0,356.11 184.4,356.10 184.9,356.09 185.4,356.08 185.9,356.07 186.3,356.06 186.8,356.05 187.3,356.03 187.8,356.02 188.2,356.01 188.7,356.00 189.2,355.98 189.6,355.97 190.1,355.95 190.6,355.94 191.1,355.92 191.5,355.91 192.0,355.89 192.5,355.87 193.0,355.86 193.4,355.84 193.9,355.82 194.4,355.80 194.9,355.78 195.3,355.76 195.8,355.74 196.3,355.72 196.8,355.70 197.2,355.68 197.7,355.66 198.2,355.63 198.6,355.61 199.1,355.59 199.6,355.56 200.1,355.54 200.5,355.51 201.0,355.49 201.5,355.45 202.0,355.42 202.4,355.38 202.9,355.34 203.4,355.29 203.9,355.24 204.3,355.17 204.8,355.07 205.3,354.92 205.7,354.73 206.2,354.51 206.7,354.26 207.2,353.98 207.6,353.68 208.1,353.37 208.6,353.04 209.1,352.71 209.5,352.37 210.0,352.02 210.5,351.66 211.0,351.25 211.4,350.79 211.9,350.30 212.4,349.78 212.8,349.24 213.3,348.69 213.8,348.12 214.3,347.56 214.7,347.00 215.2,346.45 215.7,345.91 216.2,345.40 216.6,344.90 217.1,344.39 217.6,343.89 218.1,343.39 218.5,342.89 219.0,342.38 219.5,341.88 220.0,341.37 220.4,340.86 220.9,340.34 221.4,339.82 221.8,339.29 222.3,338.75 222.8,338.21 223.3,337.67 223.7,337.12 224.2,336.57 224.7,336.02 225.2,335.46 225.6,334.89 226.1,334.32 226.6,333.75 227.1,333.17 227.5,332.58 228.0,331.99 228.5,331.39 228.9,330.78 229.4,330.17 229.9,329.56 230.4,328.94 230.8,328.31 231.3,327.68 231.8,327.04 232.3,326.39 232.7,325.74 233.2,325.09 233.7,324.43"/>
</g>
<rect class="ax" x="171.54" y="317.84" width="65.10" height="42.75"/>
<line class="tk" x1="186.34" y1="360.59" x2="186.34" y2="362.19"/>
<text class="xt" x="186.34" y="367.99" text-anchor="middle" textLength="10.69" lengthAdjust="spacingAndGlyphs">1900</text>
<line class="tk" x1="210.01" y1="360.59" x2="210.01" y2="362.19"/>
<text class="xt" x="210.01" y="367.99" text-anchor="middle" textLength="10.69" lengthAdjust="spacingAndGlyphs">2000</text>
<line class="tk" x1="233.68" y1="360.59" x2="233.68" y2="362.19"/>
<text class="xt" x="233.68" y="367.99" text-anchor="middle" textLength="10.69" lengthAdjust="spacingAndGlyphs">2100</text>
<line class="tk" x1="169.94" y1="356.56" x2="171.54" y2="356.56"/>
<text class="yt" x="168.34" y="358.31" text-anchor="end" textLength="2.67" lengthAdjust="spacingAndGlyphs">0</text>
<line class="tk" x1="169.94" y1="341.08" x2="171.54" y2="341.08"/>
<text class="yt" x="168.34" y="342.83" text-anchor="end" textLength="2.67" lengthAdjust="spacingAndGlyphs">2</text>
<line class="tk" x1="169.94" y1="325.60" x2="171.54" y2="325.60"/>
<text class="yt" x="168.34" y="327.35" text-anchor="end" textLength="2.67" lengthAdjust="spacingAndGlyphs">4</text>
<text class="an" x="234.84" y="355.94" text-anchor="end" textLength="15.60" lengthAdjust="spacingAndGlyphs">r<tspan class="sup" dy="-1.3">2</tspan><tspan dy="1.3">=0.98</tspan></text>
<text class="an" x="234.84" y="359.64" text-anchor="end" textLength="23.43" lengthAdjust="spacingAndGlyphs">RMSE=0.17</text>
<clipPath id="c63"><rect x="249.56" y="317.84" width="65.10" height="42.75"/></clipPath>
<g clip-path="url(#c63)">
<polyline class="g" points="252.5,357.78 252.8,355.80 253.0,357.05 253.2,358.30 253.5,357.99 253.7,358.46 253.9,357.24 254.2,355.67 254.4,356.03 254.6,357.53 254.9,358.18 255.1,357.18 255.4,355.79 255.6,357.23 255.8,356.45 256.1,356.78 256.3,356.48 256.5,356.71 256.8,357.23 257.0,356.54 257.3,356.54 257.5,356.33 257.7,357.55 258.0,355.40 258.2,356.11 258.4,356.38 258.7,356.37 258.9,356.97 259.1,356.30 259.4,356.11 259.6,355.85 259.9,355.62 260.1,356.16 260.3,357.39 260.6,359.09 260.8,357.37 261.0,356.49 261.3,356.45 261.5,355.79 261.8,356.16 262.0,356.34 262.2,356.64 262.5,356.64 262.7,357.03 262.9,356.60 263.2,356.78 263.4,357.32 263.6,356.66 263.9,357.09 264.1,355.88 264.4,356.12 264.6,356.11 264.8,357.23 265.1,356.83 265.3,356.67 265.5,357.51 265.8,358.22 266.0,358.15 266.2,357.04 266.5,356.34 266.7,357.83 267.0,356.76 267.2,356.29 267.4,356.18 267.7,356.81 267.9,357.43 268.1,356.54 268.4,356.72 268.6,357.09 268.9,357.62 269.1,357.32 269.3,356.67 269.6,356.14 269.8,355.84 270.0,357.17 270.3,355.79 270.5,355.47 270.7,355.52 271.0,356.04 271.2,354.46 271.5,355.14 271.7,356.51 271.9,357.10 272.2,356.97 272.4,356.02 272.6,355.57 272.9,354.95 273.1,353.94 273.4,354.61 273.6,355.04 273.8,354.54 274.1,354.69 274.3,354.63 274.5,355.57 274.8,355.09 275.0,355.40 275.2,355.22 275.5,355.65 275.7,354.95 276.0,355.27 276.2,356.64 276.4,355.71 276.7,355.21 276.9,356.88 277.1,356.36 277.4,354.90 277.6,354.94 277.8,353.75 278.1,356.24 278.3,354.78 278.6,355.30 278.8,354.99 279.0,356.08 279.3,356.96 279.5,358.12 279.7,356.86 280.0,355.14 280.2,354.67 280.5,355.65 280.7,356.59 280.9,356.66 281.2,354.95 281.4,355.01 281.6,354.95 281.9,355.79 282.1,354.29 282.3,355.23 282.6,355.64 282.8,355.26 283.1,354.62 283.3,353.95 283.5,353.88 283.8,354.88 284.0,355.95 284.2,355.88 284.5,355.48 284.7,356.56 285.0,356.43 285.2,354.38 285.4,354.16 285.7,353.12 285.9,354.77 286.1,355.89 286.4,354.04 286.6,353.65 286.8,351.88 287.1,351.48 287.3,351.64 287.6,351.22 287.8,353.01 288.0,352.64 288.3,352.08 288.5,351.62 288.7,351.29 289.0,352.54 289.2,352.03 289.4,351.73 289.7,352.76 289.9,350.74 290.2,350.29 290.4,350.35 290.6,349.89 290.9,350.29 291.1,350.06 291.3,350.05 291.6,349.06 291.8,349.55 292.1,349.22 292.3,349.50 292.5,348.74 292.8,347.45 293.0,346.16 293.2,345.55 293.5,345.91 293.7,346.62 293.9,346.30 294.2,346.03 294.4,345.69 294.7,345.57 294.9,345.26 295.1,345.32 295.4,346.00 295.6,344.37 295.8,344.11 296.1,344.50 296.3,344.37 296.6,342.41 296.8,342.48 297.0,343.40 297.3,344.55 297.5,345.11 297.7,343.39 298.0,341.94 298.2,340.05 298.4,340.62 298.7,339.74 298.9,339.65 299.2,339.12 299.4,340.29 299.6,339.65 299.9,339.05 300.1,339.26 300.3,338.54 300.6,338.02 300.8,340.01 301.0,340.17 301.3,338.70 301.5,337.37 301.8,338.37 302.0,338.40 302.2,337.81 302.5,336.66 302.7,336.64 302.9,336.25 303.2,336.33 303.4,336.45 303.7,336.59 303.9,335.94 304.1,336.05 304.4,334.05 304.6,332.59 304.8,332.27 305.1,333.68 305.3,334.14 305.5,332.40 305.8,332.85 306.0,331.48 306.3,331.74 306.5,330.81 306.7,332.11 307.0,330.30 307.2,330.96 307.4,329.74 307.7,330.69 307.9,329.14 308.1,327.06 308.4,327.48 308.6,327.24 308.9,325.31 309.1,326.51 309.3,325.22 309.6,324.60 309.8,324.59 310.0,324.11 310.3,323.61 310.5,322.62 310.8,323.27 311.0,323.19 311.2,322.56 311.5,320.99 311.7,319.93"/>
<polyline class="o" points="252.5,356.69 253.0,356.68 253.5,356.67 253.9,356.66 254.4,356.64 254.9,356.62 255.4,356.59 255.8,356.57 256.3,356.54 256.8,356.51 257.3,356.48 257.7,356.45 258.2,356.41 258.7,356.38 259.1,356.34 259.6,356.30 260.1,356.26 260.6,356.22 261.0,356.17 261.5,356.13 262.0,356.08 262.5,356.04 262.9,355.99 263.4,355.94 263.9,355.89 264.4,355.85 264.8,355.80 265.3,355.74 265.8,355.69 266.2,355.63 266.7,355.57 267.2,355.51 267.7,355.45 268.1,355.38 268.6,355.31 269.1,355.23 269.6,355.16 270.0,355.08 270.5,354.99 271.0,354.91 271.5,354.82 271.9,354.72 272.4,354.63 272.9,354.53 273.4,354.42 273.8,354.32 274.3,354.21 274.8,354.09 275.2,353.97 275.7,353.85 276.2,353.72 276.7,353.58 277.1,353.43 277.6,353.26 278.1,353.07 278.6,352.87 279.0,352.65 279.5,352.42 280.0,352.18 280.5,351.93 280.9,351.66 281.4,351.39 281.9,351.11 282.3,350.81 282.8,350.48 283.3,350.12 283.8,349.72 284.2,349.30 284.7,348.86 285.2,348.40 285.7,347.94 286.1,347.47 286.6,347.00 287.1,346.54 287.6,346.09 288.0,345.66 288.5,345.23 289.0,344.82 289.4,344.40 289.9,343.99 290.4,343.58 290.9,343.17 291.3,342.75 291.8,342.33 292.3,341.91 292.8,341.47 293.2,341.03 293.7,340.58 294.2,340.12 294.7,339.64 295.1,339.15 295.6,338.65 296.1,338.14 296.6,337.63 297.0,337.11 297.5,336.58 298.0,336.06 298.4,335.54 298.9,335.01 299.4,334.49 299.9,333.98 300.3,333.47 300.8,332.97 301.3,332.46 301.8,331.96 302.2,331.45 302.7,330.95 303.2,330.44 303.7,329.94 304.1,329.43 304.6,328.91 305.1,328.40 305.5,327.88 306.0,327.35 306.5,326.82 307.0,326.29 307.4,325.76 307.9,325.22 308.4,324.68 308.9,324.14 309.3,323.59 309.8,323.04 310.3,322.49 310.8,321.94 311.2,321.38 311.7,320.82"/>
<polyline class="p" points="252.5,356.69 253.0,356.69 253.5,356.68 253.9,356.68 254.4,356.67 254.9,356.67 255.4,356.66 255.8,356.65 256.3,356.65 256.8,356.64 257.3,356.63 257.7,356.62 258.2,356.61 258.7,356.61 259.1,356.60 259.6,356.59 260.1,356.58 260.6,356.57 261.0,356.56 261.5,356.55 262.0,356.54 262.5,356.53 262.9,356.52 263.4,356.50 263.9,356.49 264.4,356.48 264.8,356.47 265.3,356.46 265.8,356.45 266.2,356.43 266.7,356.42 267.2,356.41 267.7,356.39 268.1,356.38 268.6,356.36 269.1,356.35 269.6,356.33 270.0,356.32 270.5,356.30 271.0,356.28 271.5,356.26 271.9,356.25 272.4,356.23 272.9,356.21 273.4,356.19 273.8,356.17 274.3,356.15 274.8,356.13 275.2,356.10 275.7,356.08 276.2,356.06 276.7,356.03 277.1,356.01 277.6,355.99 278.1,355.96 278.6,355.94 279.0,355.91 279.5,355.88 280.0,355.84 280.5,355.80 280.9,355.76 281.4,355.71 281.9,355.66 282.3,355.60 282.8,355.51 283.3,355.39 283.8,355.23 284.2,355.06 284.7,354.86 285.2,354.64 285.7,354.41 286.1,354.16 286.6,353.90 287.1,353.63 287.6,353.36 288.0,353.09 288.5,352.79 289.0,352.46 289.4,352.10 289.9,351.71 290.4,351.30 290.9,350.87 291.3,350.42 291.8,349.95 292.3,349.48 292.8,348.99 293.2,348.51 293.7,348.02 294.2,347.54 294.7,347.04 295.1,346.52 295.6,346.00 296.1,345.46 296.6,344.90 297.0,344.34 297.5,343.77 298.0,343.18 298.4,342.59 298.9,341.99 299.4,341.39 299.9,340.77 300.3,340.16 300.8,339.53 301.3,338.89 301.8,338.24 302.2,337.59 302.7,336.92 303.2,336.24 303.7,335.55 304.1,334.84 304.6,334.13 305.1,333.40 305.5,332.66 306.0,331.90 306.5,331.13 307.0,330.35 307.4,329.54 307.9,328.72 308.4,327.89 308.9,327.04 309.3,326.18 309.8,325.31 310.3,324.42 310.8,323.51 311.2,322.60 311.7,321.67"/>
</g>
<rect class="ax" x="249.56" y="317.84" width="65.10" height="42.75"/>
<line class="tk" x1="264.36" y1="360.59" x2="264.36" y2="362.19"/>
<text class="xt" x="264.36" y="367.99" text-anchor="middle" textLength="10.69" lengthAdjust="spacingAndGlyphs">1900</text>
<line class="tk" x1="288.03" y1="360.59" x2="288.03" y2="362.19"/>
<text class="xt" x="288.03" y="367.99" text-anchor="middle" textLength="10.69" lengthAdjust="spacingAndGlyphs">2000</text>
<line class="tk" x1="311.70" y1="360.59" x2="311.70" y2="362.19"/>
<text class="xt" x="311.70" y="367.99" text-anchor="middle" textLength="10.69" lengthAdjust="spacingAndGlyphs">2100</text>
<line class="tk" x1="247.96" y1="357.01" x2="249.56" y2="357.01"/>
<text class="yt" x="246.36" y="358.76" text-anchor="end" textLength="2.67" lengthAdjust="spacingAndGlyphs">0</text>
<line class="tk" x1="247.96" y1="343.30" x2="249.56" y2="343.30"/>
<text class="yt" x="246.36" y="345.05" text-anchor="end" textLength="2.67" lengthAdjust="spacingAndGlyphs">2</text>
<line class="tk" x1="247.96" y1="329.59" x2="249.56" y2="329.59"/>
<text class="yt" x="246.36" y="331.34" text-anchor="end" textLength="2.67" lengthAdjust="spacingAndGlyphs">4</text>
<text class="an" x="312.86" y="355.94" text-anchor="end" textLength="15.60" lengthAdjust="spacingAndGlyphs">r<tspan class="sup" dy="-1.3">2</tspan><tspan dy="1.3">=0.99</tspan></text>
<text class="an" x="312.86" y="359.64" text-anchor="end" textLength="23.43" lengthAdjust="spacingAndGlyphs">RMSE=0.18</text>
<text class="mn" x="17.20" y="322.74" textLength="29.05" lengthAdjust="spacingAndGlyphs">GISS-E2-1-H</text>
<text class="yl" transform="translate(6.10,339.82) rotate(-90)" text-anchor="middle"><tspan font-style="italic">&#916;GMST</tspan> [K]</text>
<clipPath id="c70"><rect x="15.50" y="369.18" width="65.10" height="42.75"/></clipPath>
<g clip-path="url(#c70)">
<polyline class="g" points="18.5,403.12 18.7,402.48 18.9,403.43 19.2,404.46 19.4,404.65 19.6,404.47 19.9,402.98 20.1,404.69 20.4,402.44 20.6,402.55 20.8,402.68 21.1,405.03 21.3,404.83 21.5,404.60 21.8,405.79 22.0,405.90 22.2,405.23 22.5,403.54 22.7,404.05 23.0,402.19 23.2,402.79 23.4,403.04 23.7,401.73 23.9,402.39 24.1,401.92 24.4,402.53 24.6,402.93 24.9,402.31 25.1,401.97 25.3,403.13 25.6,402.68 25.8,403.55 26.0,403.78 26.3,407.38 26.5,405.56 26.7,403.97 27.0,402.96 27.2,401.12 27.5,401.98 27.7,403.97 27.9,405.61 28.2,403.53 28.4,403.11 28.6,403.05 28.9,403.68 29.1,402.85 29.3,401.29 29.6,402.61 29.8,403.12 30.1,402.71 30.3,401.80 30.5,403.66 30.8,402.61 31.0,405.40 31.2,404.11 31.5,403.18 31.7,402.77 32.0,401.91 32.2,402.78 32.4,401.82 32.7,401.97 32.9,403.00 33.1,402.71 33.4,403.82 33.6,403.95 33.8,402.36 34.1,402.20 34.3,402.38 34.6,402.20 34.8,401.01 35.0,400.79 35.3,400.01 35.5,400.43 35.7,401.34 36.0,400.82 36.2,400.98 36.5,401.51 36.7,403.60 36.9,402.57 37.2,402.14 37.4,400.82 37.6,403.05 37.9,402.18 38.1,401.13 38.3,402.34 38.6,402.72 38.8,401.61 39.1,401.33 39.3,400.85 39.5,400.67 39.8,400.16 40.0,400.41 40.2,398.59 40.5,400.28 40.7,400.04 40.9,402.04 41.2,400.58 41.4,400.73 41.7,402.16 41.9,401.35 42.1,399.94 42.4,399.49 42.6,398.50 42.8,397.67 43.1,397.40 43.3,397.20 43.6,397.05 43.8,397.73 44.0,397.54 44.3,399.62 44.5,400.16 44.7,399.67 45.0,400.41 45.2,401.38 45.4,403.50 45.7,401.88 45.9,399.55 46.2,397.60 46.4,398.66 46.6,399.03 46.9,395.95 47.1,397.22 47.3,396.41 47.6,396.51 47.8,398.46 48.0,399.17 48.3,397.48 48.5,398.97 48.8,396.69 49.0,396.12 49.2,395.72 49.5,396.31 49.7,395.92 49.9,396.91 50.2,395.57 50.4,392.67 50.7,392.33 50.9,392.41 51.1,392.28 51.4,392.84 51.6,393.06 51.8,393.83 52.1,393.21 52.3,393.84 52.5,391.78 52.8,391.82 53.0,391.33 53.3,389.93 53.5,388.01 53.7,386.93 54.0,388.01 54.2,387.74 54.4,388.00 54.7,387.50 54.9,386.12 55.2,385.82 55.4,384.82 55.6,384.75 55.9,386.58 56.1,385.50 56.3,385.69 56.6,385.20 56.8,383.58 57.0,382.42 57.3,382.50 57.5,384.09 57.8,381.76 58.0,380.21 58.2,380.94 58.5,381.43 58.7,380.17 58.9,377.98 59.2,380.34 59.4,378.05 59.6,378.48 59.9,378.09 60.1,378.45 60.4,377.39 60.6,377.03 60.8,377.22 61.1,377.75 61.3,378.14 61.5,378.04 61.8,377.97 62.0,375.46 62.3,376.11 62.5,375.49 62.7,374.57 63.0,373.72 63.2,374.25 63.4,371.62 63.7,373.12 63.9,375.04 64.1,376.25 64.4,374.28 64.6,374.56 64.9,374.72 65.1,374.28 65.3,372.97 65.6,372.39 65.8,372.86 66.0,373.06 66.3,373.80 66.5,373.18 66.8,373.78 67.0,372.84 67.2,374.75 67.5,375.17 67.7,374.33 67.9,371.28 68.2,370.23 68.4,371.05 68.6,372.49 68.9,371.34 69.1,371.33 69.4,371.95 69.6,371.36 69.8,373.13 70.1,375.23 70.3,375.89 70.5,374.16 70.8,372.80 71.0,372.79 71.2,372.22 71.5,373.66 71.7,374.86 72.0,376.09 72.2,375.56 72.4,373.46 72.7,375.04 72.9,374.80 73.1,375.21 73.4,374.38 73.6,373.31 73.9,374.55 74.1,375.74 74.3,376.94 74.6,375.24 74.8,376.04 75.0,374.63 75.3,374.81 75.5,374.19 75.7,374.60 76.0,375.50 76.2,375.88 76.5,376.19 76.7,375.90 76.9,375.20 77.2,375.11 77.4,376.50 77.6,377.56"/>
<polyline class="o" points="18.5,403.66 18.9,403.62 19.4,403.58 19.9,403.53 20.4,403.48 20.8,403.43 21.3,403.38 21.8,403.32 22.2,403.26 22.7,403.20 23.2,403.14 23.7,403.07 24.1,403.00 24.6,402.93 25.1,402.86 25.6,402.79 26.0,402.71 26.5,402.63 27.0,402.56 27.5,402.47 27.9,402.39 28.4,402.31 28.9,402.22 29.3,402.14 29.8,402.05 30.3,401.96 30.8,401.87 31.2,401.79 31.7,401.70 32.2,401.61 32.7,401.52 33.1,401.43 33.6,401.34 34.1,401.25 34.6,401.15 35.0,401.05 35.5,400.94 36.0,400.83 36.5,400.72 36.9,400.60 37.4,400.47 37.9,400.34 38.3,400.20 38.8,400.06 39.3,399.90 39.8,399.74 40.2,399.57 40.7,399.38 41.2,399.19 41.7,398.99 42.1,398.78 42.6,398.52 43.1,398.19 43.6,397.79 44.0,397.34 44.5,396.84 45.0,396.30 45.4,395.73 45.9,395.14 46.4,394.53 46.9,393.92 47.3,393.31 47.8,392.70 48.3,392.12 48.8,391.50 49.2,390.86 49.7,390.19 50.2,389.51 50.7,388.81 51.1,388.10 51.6,387.39 52.1,386.67 52.5,385.97 53.0,385.27 53.5,384.58 54.0,383.92 54.4,383.25 54.9,382.55 55.4,381.83 55.9,381.10 56.3,380.37 56.8,379.66 57.3,378.97 57.8,378.31 58.2,377.70 58.7,377.14 59.2,376.65 59.6,376.24 60.1,375.90 60.6,375.58 61.1,375.26 61.5,374.95 62.0,374.65 62.5,374.37 63.0,374.11 63.4,373.89 63.9,373.69 64.4,373.53 64.9,373.41 65.3,373.33 65.8,373.31 66.3,373.33 66.8,373.40 67.2,373.50 67.7,373.61 68.2,373.73 68.6,373.88 69.1,374.07 69.6,374.30 70.1,374.55 70.5,374.81 71.0,375.07 71.5,375.31 72.0,375.54 72.4,375.76 72.9,375.99 73.4,376.21 73.9,376.43 74.3,376.65 74.8,376.87 75.3,377.10 75.7,377.32 76.2,377.53 76.7,377.75 77.2,377.97 77.6,378.19"/>
<polyline class="p" points="18.5,403.66 18.9,403.60 19.4,403.54 19.9,403.48 20.4,403.42 20.8,403.35 21.3,403.29 21.8,403.23 22.2,403.16 22.7,403.10 23.2,403.03 23.7,402.96 24.1,402.90 24.6,402.83 25.1,402.76 25.6,402.69 26.0,402.62 26.5,402.55 27.0,402.48 27.5,402.41 27.9,402.33 28.4,402.26 28.9,402.19 29.3,402.11 29.8,402.04 30.3,401.96 30.8,401.89 31.2,401.82 31.7,401.75 32.2,401.68 32.7,401.61 33.1,401.54 33.6,401.47 34.1,401.41 34.6,401.34 35.0,401.27 35.5,401.20 36.0,401.12 36.5,401.05 36.9,400.97 37.4,400.89 37.9,400.81 38.3,400.72 38.8,400.63 39.3,400.53 39.8,400.43 40.2,400.33 40.7,400.21 41.2,400.10 41.7,399.97 42.1,399.84 42.6,399.69 43.1,399.53 43.6,399.34 44.0,399.13 44.5,398.90 45.0,398.66 45.4,398.40 45.9,398.11 46.4,397.82 46.9,397.50 47.3,397.18 47.8,396.83 48.3,396.47 48.8,396.06 49.2,395.59 49.7,395.08 50.2,394.53 50.7,393.94 51.1,393.32 51.6,392.67 52.1,392.01 52.5,391.32 53.0,390.63 53.5,389.93 54.0,389.23 54.4,388.50 54.9,387.71 55.4,386.88 55.9,386.02 56.3,385.13 56.8,384.22 57.3,383.31 57.8,382.40 58.2,381.51 58.7,380.63 59.2,379.79 59.6,378.99 60.1,378.24 60.6,377.47 61.1,376.71 61.5,375.96 62.0,375.25 62.5,374.60 63.0,374.01 63.4,373.52 63.9,373.10 64.4,372.71 64.9,372.37 65.3,372.07 65.8,371.82 66.3,371.59 66.8,371.36 67.2,371.16 67.7,371.02 68.2,370.97 68.6,371.00 69.1,371.07 69.6,371.17 70.1,371.31 70.5,371.45 71.0,371.60 71.5,371.75 72.0,371.89 72.4,372.03 72.9,372.17 73.4,372.32 73.9,372.48 74.3,372.64 74.8,372.81 75.3,372.99 75.7,373.17 76.2,373.35 76.7,373.54 77.2,373.74 77.6,373.94"/>
</g>
<rect class="ax" x="15.50" y="369.18" width="65.10" height="42.75"/>
<line class="tk" x1="30.30" y1="411.93" x2="30.30" y2="413.53"/>
<text class="xt" x="30.30" y="419.33" text-anchor="middle" textLength="10.69" lengthAdjust="spacingAndGlyphs">1900</text>
<line class="tk" x1="53.97" y1="411.93" x2="53.97" y2="413.53"/>
<text class="xt" x="53.97" y="419.33" text-anchor="middle" textLength="10.69" lengthAdjust="spacingAndGlyphs">2000</text>
<line class="tk" x1="77.64" y1="411.93" x2="77.64" y2="413.53"/>
<text class="xt" x="77.64" y="419.33" text-anchor="middle" textLength="10.69" lengthAdjust="spacingAndGlyphs">2100</text>
<line class="tk" x1="13.90" y1="404.33" x2="15.50" y2="404.33"/>
<text class="yt" x="12.30" y="406.08" text-anchor="end" textLength="2.67" lengthAdjust="spacingAndGlyphs">0</text>
<line class="tk" x1="13.90" y1="385.29" x2="15.50" y2="385.29"/>
<text class="yt" x="12.30" y="387.04" text-anchor="end" textLength="2.67" lengthAdjust="spacingAndGlyphs">1</text>
<text class="an" x="78.80" y="407.28" text-anchor="end" textLength="15.60" lengthAdjust="spacingAndGlyphs">r<tspan class="sup" dy="-1.3">2</tspan><tspan dy="1.3">=0.97</tspan></text>
<text class="an" x="78.80" y="410.98" text-anchor="end" textLength="23.43" lengthAdjust="spacingAndGlyphs">RMSE=0.13</text>
<clipPath id="c71"><rect x="93.52" y="369.18" width="65.10" height="42.75"/></clipPath>
<g clip-path="url(#c71)">
<polyline class="g" points="96.5,404.18 96.7,403.55 97.0,404.52 97.2,405.56 97.4,405.77 97.7,405.61 97.9,404.13 98.1,405.86 98.4,403.61 98.6,403.74 98.8,403.88 99.1,406.25 99.3,406.06 99.6,405.84 99.8,407.05 100.0,407.17 100.3,406.52 100.5,404.84 100.7,405.36 101.0,403.51 101.2,404.13 101.5,404.39 101.7,403.09 101.9,403.77 102.2,403.30 102.4,403.93 102.6,404.34 102.9,403.73 103.1,403.41 103.3,404.58 103.6,404.15 103.8,405.02 104.1,405.27 104.3,408.87 104.5,407.07 104.8,405.49 105.0,404.49 105.2,402.67 105.5,403.54 105.7,405.54 105.9,407.19 106.2,405.13 106.4,404.71 106.7,404.67 106.9,405.31 107.1,404.49 107.4,402.94 107.6,404.27 107.8,404.80 108.1,404.40 108.3,403.50 108.6,405.37 108.8,404.33 109.0,407.13 109.3,405.85 109.5,404.93 109.7,404.53 110.0,403.68 110.2,404.56 110.4,403.61 110.7,403.76 110.9,404.80 111.2,404.52 111.4,405.64 111.6,405.78 111.9,404.19 112.1,404.04 112.3,404.22 112.6,404.05 112.8,402.87 113.0,402.66 113.3,401.88 113.5,402.31 113.8,403.23 114.0,402.71 114.2,402.88 114.5,403.42 114.7,405.51 114.9,404.49 115.2,404.07 115.4,402.75 115.7,404.99 115.9,404.12 116.1,403.08 116.4,404.30 116.6,404.69 116.8,403.59 117.1,403.32 117.3,402.85 117.5,402.67 117.8,402.17 118.0,402.43 118.3,400.62 118.5,402.32 118.7,402.09 119.0,404.10 119.2,402.65 119.4,402.81 119.7,404.26 119.9,403.46 120.2,402.07 120.4,401.62 120.6,400.65 120.9,399.83 121.1,399.58 121.3,399.40 121.6,399.27 121.8,399.97 122.0,399.80 122.3,401.90 122.5,402.46 122.8,401.99 123.0,402.75 123.2,403.74 123.5,405.90 123.7,404.31 123.9,402.00 124.2,400.08 124.4,401.17 124.6,401.57 124.9,398.53 125.1,399.82 125.4,399.05 125.6,399.19 125.8,401.18 126.1,401.93 126.3,400.29 126.5,401.83 126.8,399.61 127.0,399.10 127.3,398.77 127.5,399.44 127.7,399.13 128.0,400.20 128.2,398.95 128.4,396.14 128.7,395.90 128.9,396.08 129.1,396.04 129.4,396.71 129.6,397.02 129.9,397.89 130.1,397.38 130.3,398.10 130.6,396.14 130.8,396.28 131.0,395.87 131.3,394.57 131.5,392.73 131.8,391.73 132.0,392.89 132.2,392.70 132.5,393.04 132.7,392.61 132.9,391.31 133.2,391.08 133.4,390.17 133.6,390.18 133.9,392.08 134.1,391.08 134.4,391.34 134.6,390.93 134.8,389.38 135.1,388.28 135.3,388.43 135.5,386.98 135.8,388.24 136.0,386.00 136.2,387.41 136.5,385.38 136.7,385.89 137.0,386.67 137.2,386.26 137.4,387.42 137.7,385.70 137.9,384.11 138.1,383.01 138.4,383.68 138.6,384.94 138.9,385.00 139.1,383.62 139.3,381.55 139.6,381.49 139.8,382.26 140.0,382.93 140.3,382.52 140.5,382.48 140.7,381.84 141.0,380.73 141.2,379.59 141.5,380.40 141.7,379.48 141.9,378.85 142.2,376.65 142.4,377.63 142.6,378.62 142.9,378.25 143.1,377.12 143.4,377.43 143.6,376.37 143.8,377.18 144.1,377.84 144.3,375.83 144.5,375.56 144.8,374.66 145.0,375.00 145.2,376.64 145.5,375.42 145.7,374.89 146.0,375.79 146.2,375.91 146.4,376.87 146.7,375.47 146.9,376.25 147.1,376.13 147.4,375.21 147.6,372.46 147.8,373.01 148.1,374.64 148.3,374.56 148.6,373.51 148.8,374.37 149.0,375.45 149.3,375.99 149.5,374.76 149.7,373.26 150.0,373.21 150.2,373.50 150.5,374.18 150.7,374.35 150.9,372.68 151.2,374.08 151.4,372.96 151.6,373.74 151.9,374.06 152.1,373.42 152.3,372.14 152.6,372.95 152.8,372.65 153.1,373.09 153.3,372.03 153.5,371.31 153.8,372.13 154.0,370.72 154.2,370.07 154.5,370.42 154.7,372.69 155.0,370.84 155.2,371.70 155.4,372.14 155.7,370.68"/>
<polyline class="o" points="96.5,404.72 97.0,404.71 97.4,404.70 97.9,404.68 98.4,404.66 98.8,404.63 99.3,404.61 99.8,404.58 100.3,404.54 100.7,404.50 101.2,404.47 101.7,404.42 102.2,404.38 102.6,404.33 103.1,404.29 103.6,404.24 104.1,404.18 104.5,404.13 105.0,404.07 105.5,404.02 105.9,403.96 106.4,403.90 106.9,403.84 107.4,403.78 107.8,403.72 108.3,403.66 108.8,403.60 109.3,403.53 109.7,403.47 110.2,403.39 110.7,403.32 111.2,403.24 111.6,403.16 112.1,403.07 112.6,402.99 113.0,402.89 113.5,402.80 114.0,402.69 114.5,402.59 114.9,402.48 115.4,402.36 115.9,402.24 116.4,402.12 116.8,401.98 117.3,401.85 117.8,401.70 118.3,401.56 118.7,401.40 119.2,401.24 119.7,401.08 120.2,400.90 120.6,400.71 121.1,400.47 121.6,400.20 122.0,399.90 122.5,399.58 123.0,399.23 123.5,398.86 123.9,398.48 124.4,398.08 124.9,397.68 125.4,397.27 125.8,396.86 126.3,396.45 126.8,396.02 127.3,395.56 127.7,395.09 128.2,394.59 128.7,394.08 129.1,393.56 129.6,393.03 130.1,392.49 130.6,391.94 131.0,391.39 131.5,390.84 132.0,390.29 132.5,389.73 132.9,389.15 133.4,388.55 133.9,387.94 134.4,387.32 134.8,386.70 135.3,386.08 135.8,385.46 136.2,384.85 136.7,384.26 137.2,383.68 137.7,383.13 138.1,382.59 138.6,382.05 139.1,381.51 139.6,380.96 140.0,380.42 140.5,379.89 141.0,379.38 141.5,378.89 141.9,378.42 142.4,377.98 142.9,377.58 143.4,377.23 143.8,376.92 144.3,376.64 144.8,376.37 145.2,376.12 145.7,375.88 146.2,375.65 146.7,375.43 147.1,375.23 147.6,375.05 148.1,374.87 148.6,374.71 149.0,374.56 149.5,374.43 150.0,374.31 150.5,374.19 150.9,374.08 151.4,373.97 151.9,373.86 152.3,373.76 152.8,373.67 153.3,373.58 153.8,373.51 154.2,373.44 154.7,373.38 155.2,373.34 155.7,373.31"/>
<polyline class="p" points="96.5,404.72 97.0,404.69 97.4,404.66 97.9,404.63 98.4,404.59 98.8,404.56 99.3,404.52 99.8,404.49 100.3,404.45 100.7,404.41 101.2,404.37 101.7,404.33 102.2,404.28 102.6,404.24 103.1,404.20 103.6,404.15 104.1,404.11 104.5,404.06 105.0,404.01 105.5,403.96 105.9,403.92 106.4,403.87 106.9,403.82 107.4,403.76 107.8,403.71 108.3,403.66 108.8,403.61 109.3,403.56 109.7,403.51 110.2,403.46 110.7,403.40 111.2,403.35 111.6,403.30 112.1,403.25 112.6,403.19 113.0,403.13 113.5,403.08 114.0,403.02 114.5,402.95 114.9,402.89 115.4,402.82 115.9,402.75 116.4,402.68 116.8,402.61 117.3,402.53 117.8,402.44 118.3,402.36 118.7,402.26 119.2,402.17 119.7,402.07 120.2,401.96 120.6,401.85 121.1,401.71 121.6,401.56 122.0,401.40 122.5,401.21 123.0,401.02 123.5,400.81 123.9,400.58 124.4,400.34 124.9,400.09 125.4,399.83 125.8,399.56 126.3,399.27 126.8,398.93 127.3,398.56 127.7,398.15 128.2,397.70 128.7,397.23 129.1,396.73 129.6,396.21 130.1,395.67 130.6,395.13 131.0,394.58 131.5,394.02 132.0,393.47 132.5,392.91 132.9,392.32 133.4,391.70 133.9,391.06 134.4,390.41 134.8,389.75 135.3,389.07 135.8,388.40 136.2,387.72 136.7,387.04 137.2,386.38 137.7,385.73 138.1,385.08 138.6,384.42 139.1,383.75 139.6,383.06 140.0,382.37 140.5,381.68 141.0,381.01 141.5,380.35 141.9,379.71 142.4,379.11 142.9,378.54 143.4,378.02 143.8,377.55 144.3,377.12 144.8,376.70 145.2,376.30 145.7,375.91 146.2,375.54 146.7,375.18 147.1,374.84 147.6,374.52 148.1,374.22 148.6,373.93 149.0,373.67 149.5,373.42 150.0,373.19 150.5,372.97 150.9,372.76 151.4,372.55 151.9,372.35 152.3,372.16 152.8,371.98 153.3,371.81 153.8,371.66 154.2,371.52 154.7,371.39 155.2,371.28 155.7,371.18"/>
</g>
<rect class="ax" x="93.52" y="369.18" width="65.10" height="42.75"/>
<line class="tk" x1="108.32" y1="411.93" x2="108.32" y2="413.53"/>
<text class="xt" x="108.32" y="419.33" text-anchor="middle" textLength="10.69" lengthAdjust="spacingAndGlyphs">1900</text>
<line class="tk" x1="131.99" y1="411.93" x2="131.99" y2="413.53"/>
<text class="xt" x="131.99" y="419.33" text-anchor="middle" textLength="10.69" lengthAdjust="spacingAndGlyphs">2000</text>
<line class="tk" x1="155.66" y1="411.93" x2="155.66" y2="413.53"/>
<text class="xt" x="155.66" y="419.33" text-anchor="middle" textLength="10.69" lengthAdjust="spacingAndGlyphs">2100</text>
<line class="tk" x1="91.92" y1="405.65" x2="93.52" y2="405.65"/>
<text class="yt" x="90.32" y="407.40" text-anchor="end" textLength="2.67" lengthAdjust="spacingAndGlyphs">0</text>
<line class="tk" x1="91.92" y1="391.13" x2="93.52" y2="391.13"/>
<text class="yt" x="90.32" y="392.88" text-anchor="end" textLength="2.67" lengthAdjust="spacingAndGlyphs">1</text>
<line class="tk" x1="91.92" y1="376.60" x2="93.52" y2="376.60"/>
<text class="yt" x="90.32" y="378.35" text-anchor="end" textLength="2.67" lengthAdjust="spacingAndGlyphs">2</text>
<text class="an" x="156.82" y="407.28" text-anchor="end" textLength="15.60" lengthAdjust="spacingAndGlyphs">r<tspan class="sup" dy="-1.3">2</tspan><tspan dy="1.3">=0.98</tspan></text>
<text class="an" x="156.82" y="410.98" text-anchor="end" textLength="23.43" lengthAdjust="spacingAndGlyphs">RMSE=0.12</text>
<clipPath id="c72"><rect x="171.54" y="369.18" width="65.10" height="42.75"/></clipPath>
<g clip-path="url(#c72)">
<polyline class="g" points="174.5,405.55 174.7,404.99 175.0,405.88 175.2,406.82 175.4,407.02 175.7,406.88 175.9,405.56 176.2,407.12 176.4,405.11 176.6,405.23 176.9,405.36 177.1,407.50 177.3,407.34 177.6,407.15 177.8,408.24 178.0,408.36 178.3,407.78 178.5,406.27 178.8,406.75 179.0,405.10 179.2,405.66 179.5,405.90 179.7,404.73 179.9,405.35 180.2,404.94 180.4,405.51 180.7,405.88 180.9,405.34 181.1,405.05 181.4,406.11 181.6,405.73 181.8,406.53 182.1,406.80 182.3,410.21 182.5,408.72 182.8,407.18 183.0,406.12 183.3,404.44 183.5,405.22 183.7,407.03 184.0,408.53 184.2,406.67 184.4,406.30 184.7,406.27 184.9,406.85 185.2,406.12 185.4,404.73 185.6,405.94 185.9,406.41 186.1,406.06 186.3,405.26 186.6,406.98 186.8,406.14 187.0,408.75 187.3,407.52 187.5,406.59 187.8,406.21 188.0,405.45 188.2,406.24 188.5,405.39 188.7,405.52 188.9,406.46 189.2,406.21 189.4,407.21 189.6,407.34 189.9,405.91 190.1,405.77 190.4,405.94 190.6,405.78 190.8,404.72 191.1,404.53 191.3,403.83 191.5,404.21 191.8,405.04 192.0,404.57 192.3,404.72 192.5,405.20 192.7,407.08 193.0,406.16 193.2,405.78 193.4,404.60 193.7,406.61 193.9,405.83 194.1,404.89 194.4,405.98 194.6,406.34 194.9,405.35 195.1,405.10 195.3,404.68 195.6,404.52 195.8,404.07 196.0,404.31 196.3,402.68 196.5,404.21 196.8,404.00 197.0,405.82 197.2,404.52 197.5,404.67 197.7,405.97 197.9,405.26 198.2,404.01 198.4,403.62 198.6,402.75 198.9,402.03 199.1,401.82 199.4,401.68 199.6,401.58 199.8,402.23 200.1,402.11 200.3,404.02 200.5,404.55 200.8,404.17 201.0,404.93 201.2,406.02 201.5,408.12 201.7,406.59 202.0,404.40 202.2,402.67 202.4,403.68 202.7,404.08 202.9,401.38 203.1,402.59 203.4,401.94 203.6,402.11 203.9,403.93 204.1,404.65 204.3,403.21 204.6,404.65 204.8,402.70 205.0,402.29 205.3,402.05 205.5,402.74 205.7,402.61 206.0,403.73 206.2,402.58 206.5,400.01 206.7,399.83 206.9,400.06 207.2,400.09 207.4,400.76 207.6,401.15 207.9,402.16 208.1,401.90 208.4,402.47 208.6,400.62 208.8,400.76 209.1,400.46 209.3,399.34 209.5,397.75 209.8,396.91 210.0,398.00 210.2,397.88 210.5,398.23 210.7,397.90 211.0,396.76 211.2,396.60 211.4,395.82 211.7,395.86 211.9,397.60 212.1,396.74 212.4,397.01 212.6,396.67 212.8,395.30 213.1,394.35 213.3,394.51 213.6,393.32 213.8,393.73 214.0,393.60 214.3,393.43 214.5,392.13 214.7,393.78 215.0,394.43 215.2,393.13 215.5,392.38 215.7,391.36 215.9,391.78 216.2,390.53 216.4,390.54 216.6,390.65 216.9,390.31 217.1,391.18 217.3,390.44 217.6,392.36 217.8,391.17 218.1,388.78 218.3,388.08 218.5,389.38 218.8,390.55 219.0,389.94 219.2,389.11 219.5,387.92 219.7,387.46 220.0,387.41 220.2,387.48 220.4,386.65 220.7,387.14 220.9,386.35 221.1,386.96 221.4,386.48 221.6,387.19 221.8,386.70 222.1,385.94 222.3,387.25 222.6,386.53 222.8,386.38 223.0,385.47 223.3,383.74 223.5,382.83 223.7,382.66 224.0,382.55 224.2,383.20 224.4,384.56 224.7,383.29 224.9,383.89 225.2,382.71 225.4,381.14 225.6,382.82 225.9,383.82 226.1,383.75 226.3,381.22 226.6,381.17 226.8,381.11 227.1,380.61 227.3,381.05 227.5,380.20 227.8,379.53 228.0,379.43 228.2,379.67 228.5,378.41 228.7,378.85 228.9,379.08 229.2,378.70 229.4,376.76 229.7,376.29 229.9,376.40 230.1,378.48 230.4,376.62 230.6,378.57 230.8,377.85 231.1,375.78 231.3,375.72 231.6,375.25 231.8,375.16 232.0,374.81 232.3,374.25 232.5,374.47 232.7,372.41 233.0,375.20 233.2,374.47 233.4,374.48 233.7,373.45"/>
<polyline class="o" points="174.5,406.21 175.0,406.21 175.4,406.20 175.9,406.20 176.4,406.19 176.9,406.17 177.3,406.16 177.8,406.14 178.3,406.12 178.8,406.10 179.2,406.08 179.7,406.05 180.2,406.02 180.7,405.99 181.1,405.96 181.6,405.93 182.1,405.90 182.5,405.87 183.0,405.83 183.5,405.80 184.0,405.76 184.4,405.72 184.9,405.69 185.4,405.65 185.9,405.61 186.3,405.57 186.8,405.53 187.3,405.49 187.8,405.44 188.2,405.40 188.7,405.35 189.2,405.29 189.6,405.24 190.1,405.18 190.6,405.12 191.1,405.05 191.5,404.98 192.0,404.91 192.5,404.83 193.0,404.76 193.4,404.67 193.9,404.59 194.4,404.50 194.9,404.41 195.3,404.31 195.8,404.21 196.3,404.11 196.8,404.00 197.2,403.89 197.7,403.78 198.2,403.66 198.6,403.53 199.1,403.38 199.6,403.21 200.1,403.02 200.5,402.81 201.0,402.59 201.5,402.36 202.0,402.11 202.4,401.86 202.9,401.59 203.4,401.32 203.9,401.04 204.3,400.76 204.8,400.45 205.3,400.11 205.7,399.75 206.2,399.38 206.7,398.98 207.2,398.58 207.6,398.16 208.1,397.73 208.6,397.30 209.1,396.87 209.5,396.44 210.0,396.02 210.5,395.59 211.0,395.15 211.4,394.70 211.9,394.24 212.4,393.77 212.8,393.30 213.3,392.83 213.8,392.36 214.3,391.89 214.7,391.42 215.2,390.96 215.7,390.51 216.2,390.07 216.6,389.63 217.1,389.20 217.6,388.77 218.1,388.35 218.5,387.93 219.0,387.50 219.5,387.08 220.0,386.67 220.4,386.25 220.9,385.83 221.4,385.40 221.8,384.98 222.3,384.56 222.8,384.13 223.3,383.71 223.7,383.28 224.2,382.86 224.7,382.43 225.2,382.01 225.6,381.59 226.1,381.16 226.6,380.74 227.1,380.31 227.5,379.89 228.0,379.46 228.5,379.04 228.9,378.61 229.4,378.19 229.9,377.76 230.4,377.34 230.8,376.92 231.3,376.49 231.8,376.07 232.3,375.64 232.7,375.22 233.2,374.79 233.7,374.37"/>
<polyline class="p" points="174.5,406.21 175.0,406.20 175.4,406.19 175.9,406.17 176.4,406.16 176.9,406.14 177.3,406.13 177.8,406.11 178.3,406.09 178.8,406.06 179.2,406.04 179.7,406.01 180.2,405.99 180.7,405.96 181.1,405.93 181.6,405.90 182.1,405.87 182.5,405.84 183.0,405.81 183.5,405.78 184.0,405.75 184.4,405.71 184.9,405.68 185.4,405.64 185.9,405.61 186.3,405.57 186.8,405.54 187.3,405.50 187.8,405.46 188.2,405.42 188.7,405.37 189.2,405.33 189.6,405.28 190.1,405.23 190.6,405.18 191.1,405.13 191.5,405.07 192.0,405.02 192.5,404.96 193.0,404.90 193.4,404.83 193.9,404.77 194.4,404.70 194.9,404.63 195.3,404.56 195.8,404.49 196.3,404.41 196.8,404.33 197.2,404.25 197.7,404.17 198.2,404.09 198.6,404.00 199.1,403.90 199.6,403.79 200.1,403.68 200.5,403.55 201.0,403.42 201.5,403.29 202.0,403.14 202.4,402.99 202.9,402.83 203.4,402.66 203.9,402.48 204.3,402.29 204.8,402.09 205.3,401.86 205.7,401.62 206.2,401.36 206.7,401.09 207.2,400.80 207.6,400.49 208.1,400.17 208.6,399.84 209.1,399.50 209.5,399.14 210.0,398.78 210.5,398.39 211.0,397.95 211.4,397.47 211.9,396.96 212.4,396.43 212.8,395.88 213.3,395.32 213.8,394.76 214.3,394.21 214.7,393.67 215.2,393.14 215.7,392.65 216.2,392.18 216.6,391.74 217.1,391.30 217.6,390.88 218.1,390.47 218.5,390.06 219.0,389.66 219.5,389.25 220.0,388.84 220.4,388.42 220.9,388.00 221.4,387.56 221.8,387.10 222.3,386.64 222.8,386.16 223.3,385.67 223.7,385.17 224.2,384.66 224.7,384.15 225.2,383.63 225.6,383.11 226.1,382.58 226.6,382.05 227.1,381.53 227.5,381.00 228.0,380.47 228.5,379.94 228.9,379.41 229.4,378.88 229.9,378.34 230.4,377.80 230.8,377.26 231.3,376.71 231.8,376.16 232.3,375.61 232.7,375.06 233.2,374.50 233.7,373.94"/>
</g>
<rect class="ax" x="171.54" y="369.18" width="65.10" height="42.75"/>
<line class="tk" x1="186.34" y1="411.93" x2="186.34" y2="413.53"/>
<text class="xt" x="186.34" y="419.33" text-anchor="middle" textLength="10.69" lengthAdjust="spacingAndGlyphs">1900</text>
<line class="tk" x1="210.01" y1="411.93" x2="210.01" y2="413.53"/>
<text class="xt" x="210.01" y="419.33" text-anchor="middle" textLength="10.69" lengthAdjust="spacingAndGlyphs">2000</text>
<line class="tk" x1="233.68" y1="411.93" x2="233.68" y2="413.53"/>
<text class="xt" x="233.68" y="419.33" text-anchor="middle" textLength="10.69" lengthAdjust="spacingAndGlyphs">2100</text>
<line class="tk" x1="169.94" y1="407.48" x2="171.54" y2="407.48"/>
<text class="yt" x="168.34" y="409.23" text-anchor="end" textLength="2.67" lengthAdjust="spacingAndGlyphs">0</text>
<line class="tk" x1="169.94" y1="387.19" x2="171.54" y2="387.19"/>
<text class="yt" x="168.34" y="388.94" text-anchor="end" textLength="2.67" lengthAdjust="spacingAndGlyphs">2</text>
<text class="an" x="234.84" y="407.28" text-anchor="end" textLength="15.60" lengthAdjust="spacingAndGlyphs">r<tspan class="sup" dy="-1.3">2</tspan><tspan dy="1.3">=0.99</tspan></text>
<text class="an" x="234.84" y="410.98" text-anchor="end" textLength="23.43" lengthAdjust="spacingAndGlyphs">RMSE=0.13</text>
<clipPath id="c73"><rect x="249.56" y="369.18" width="65.10" height="42.75"/></clipPath>
<g clip-path="url(#c73)">
<polyline class="g" points="252.5,406.19 252.8,405.63 253.0,406.50 253.2,407.45 253.5,407.64 253.7,407.50 253.9,406.17 254.2,407.73 254.4,405.72 254.6,405.84 254.9,405.97 255.1,408.10 255.4,407.94 255.6,407.75 255.8,408.84 256.1,408.96 256.3,408.38 256.5,406.87 256.8,407.35 257.0,405.69 257.3,406.25 257.5,406.49 257.7,405.33 258.0,405.94 258.2,405.53 258.4,406.11 258.7,406.48 258.9,405.94 259.1,405.65 259.4,406.72 259.6,406.33 259.9,407.13 260.1,407.40 260.3,410.81 260.6,409.33 260.8,407.78 261.0,406.73 261.3,405.05 261.5,405.84 261.8,407.65 262.0,409.14 262.2,407.29 262.5,406.92 262.7,406.90 262.9,407.47 263.2,406.74 263.4,405.36 263.6,406.57 263.9,407.04 264.1,406.69 264.4,405.89 264.6,407.62 264.8,406.78 265.1,409.40 265.3,408.17 265.5,407.25 265.8,406.86 266.0,406.11 266.2,406.91 266.5,406.06 266.7,406.20 267.0,407.14 267.2,406.90 267.4,407.91 267.7,408.04 267.9,406.62 268.1,406.49 268.4,406.66 268.6,406.52 268.9,405.46 269.1,405.27 269.3,404.59 269.6,404.98 269.8,405.81 270.0,405.35 270.3,405.52 270.5,406.01 270.7,407.90 271.0,406.99 271.2,406.62 271.5,405.44 271.7,407.47 271.9,406.70 272.2,405.77 272.4,406.87 272.6,407.23 272.9,406.26 273.1,406.02 273.4,405.61 273.6,405.46 273.8,405.03 274.1,405.27 274.3,403.65 274.5,405.19 274.8,405.00 275.0,406.83 275.2,405.53 275.5,405.70 275.7,407.01 276.0,406.31 276.2,405.07 276.4,404.69 276.7,403.83 276.9,403.12 277.1,402.91 277.4,402.78 277.6,402.69 277.8,403.35 278.1,403.23 278.3,405.15 278.6,405.69 278.8,405.31 279.0,406.07 279.3,407.17 279.5,409.28 279.7,407.76 280.0,405.57 280.2,403.85 280.5,404.87 280.7,405.28 280.9,402.59 281.2,403.81 281.4,403.17 281.6,403.35 281.9,405.19 282.1,405.92 282.3,404.51 282.6,405.96 282.8,404.04 283.1,403.66 283.3,403.45 283.5,404.17 283.8,404.09 284.0,405.24 284.2,404.14 284.5,401.61 284.7,401.48 285.0,401.75 285.2,401.83 285.4,402.55 285.7,402.99 285.9,404.05 286.1,403.84 286.4,404.47 286.6,402.66 286.8,402.86 287.1,402.60 287.3,401.54 287.6,399.99 287.8,399.20 288.0,400.34 288.3,400.26 288.5,400.66 288.7,400.38 289.0,399.29 289.2,399.19 289.4,398.46 289.7,398.55 289.9,400.35 290.2,399.54 290.4,399.87 290.6,399.58 290.9,398.27 291.1,397.36 291.3,397.57 291.6,397.98 291.8,397.03 292.1,396.94 292.3,396.84 292.5,397.78 292.8,397.96 293.0,396.39 293.2,397.51 293.5,395.03 293.7,395.06 293.9,396.92 294.2,396.55 294.4,396.01 294.7,395.37 294.9,393.23 295.1,393.67 295.4,393.72 295.6,393.47 295.8,392.98 296.1,392.38 296.3,393.83 296.6,392.48 296.8,393.10 297.0,391.45 297.3,392.52 297.5,392.42 297.7,392.09 298.0,390.72 298.2,389.94 298.4,389.98 298.7,390.40 298.9,389.72 299.2,389.13 299.4,389.53 299.6,388.09 299.9,388.24 300.1,386.94 300.3,387.14 300.6,389.05 300.8,386.93 301.0,386.02 301.3,385.27 301.5,385.68 301.8,386.01 302.0,384.19 302.2,384.52 302.5,384.02 302.7,382.28 302.9,383.00 303.2,384.22 303.4,383.38 303.7,383.66 303.9,384.01 304.1,384.23 304.4,384.95 304.6,382.27 304.8,381.58 305.1,381.30 305.3,380.67 305.5,381.04 305.8,380.25 306.0,380.08 306.3,379.06 306.5,378.35 306.7,376.59 307.0,377.27 307.2,376.75 307.4,378.00 307.7,377.33 307.9,377.31 308.1,376.45 308.4,376.68 308.6,376.37 308.9,376.00 309.1,375.21 309.3,374.40 309.6,374.05 309.8,375.78 310.0,373.79 310.3,375.32 310.5,373.96 310.8,372.96 311.0,373.12 311.2,373.55 311.5,372.81 311.7,371.92"/>
<polyline class="o" points="252.5,406.85 253.0,406.84 253.5,406.83 253.9,406.82 254.4,406.81 254.9,406.80 255.4,406.78 255.8,406.76 256.3,406.74 256.8,406.72 257.3,406.69 257.7,406.67 258.2,406.64 258.7,406.62 259.1,406.59 259.6,406.56 260.1,406.52 260.6,406.49 261.0,406.46 261.5,406.42 262.0,406.39 262.5,406.35 262.9,406.32 263.4,406.28 263.9,406.25 264.4,406.21 264.8,406.17 265.3,406.13 265.8,406.09 266.2,406.04 266.7,405.99 267.2,405.95 267.7,405.89 268.1,405.84 268.6,405.78 269.1,405.72 269.6,405.66 270.0,405.60 270.5,405.53 271.0,405.46 271.5,405.39 271.9,405.31 272.4,405.23 272.9,405.15 273.4,405.07 273.8,404.98 274.3,404.89 274.8,404.80 275.2,404.71 275.7,404.61 276.2,404.51 276.7,404.40 277.1,404.28 277.6,404.14 278.1,403.99 278.6,403.84 279.0,403.67 279.5,403.49 280.0,403.30 280.5,403.11 280.9,402.91 281.4,402.70 281.9,402.49 282.3,402.28 282.8,402.05 283.3,401.80 283.8,401.54 284.2,401.27 284.7,400.99 285.2,400.69 285.7,400.39 286.1,400.08 286.6,399.76 287.1,399.44 287.6,399.11 288.0,398.78 288.5,398.44 289.0,398.09 289.4,397.73 289.9,397.35 290.4,396.97 290.9,396.58 291.3,396.18 291.8,395.77 292.3,395.36 292.8,394.95 293.2,394.53 293.7,394.11 294.2,393.69 294.7,393.26 295.1,392.83 295.6,392.40 296.1,391.96 296.6,391.52 297.0,391.07 297.5,390.61 298.0,390.14 298.4,389.66 298.9,389.18 299.4,388.68 299.9,388.17 300.3,387.64 300.8,387.09 301.3,386.53 301.8,385.95 302.2,385.36 302.7,384.76 303.2,384.15 303.7,383.54 304.1,382.91 304.6,382.29 305.1,381.67 305.5,381.05 306.0,380.43 306.5,379.80 307.0,379.18 307.4,378.54 307.9,377.91 308.4,377.27 308.9,376.62 309.3,375.97 309.8,375.32 310.3,374.66 310.8,374.00 311.2,373.34 311.7,372.67"/>
<polyline class="p" points="252.5,406.85 253.0,406.83 253.5,406.81 253.9,406.79 254.4,406.77 254.9,406.75 255.4,406.73 255.8,406.71 256.3,406.68 256.8,406.66 257.3,406.64 257.7,406.61 258.2,406.59 258.7,406.56 259.1,406.53 259.6,406.51 260.1,406.48 260.6,406.45 261.0,406.42 261.5,406.39 262.0,406.36 262.5,406.33 262.9,406.30 263.4,406.27 263.9,406.24 264.4,406.21 264.8,406.18 265.3,406.14 265.8,406.11 266.2,406.08 266.7,406.05 267.2,406.02 267.7,405.98 268.1,405.95 268.6,405.91 269.1,405.88 269.6,405.84 270.0,405.80 270.5,405.76 271.0,405.72 271.5,405.68 271.9,405.64 272.4,405.59 272.9,405.54 273.4,405.50 273.8,405.44 274.3,405.39 274.8,405.33 275.2,405.27 275.7,405.21 276.2,405.15 276.7,405.08 277.1,404.99 277.6,404.90 278.1,404.80 278.6,404.69 279.0,404.57 279.5,404.45 280.0,404.32 280.5,404.18 280.9,404.04 281.4,403.89 281.9,403.74 282.3,403.58 282.8,403.42 283.3,403.24 283.8,403.06 284.2,402.86 284.7,402.66 285.2,402.44 285.7,402.21 286.1,401.97 286.6,401.72 287.1,401.46 287.6,401.19 288.0,400.90 288.5,400.59 289.0,400.25 289.4,399.88 289.9,399.49 290.4,399.07 290.9,398.63 291.3,398.18 291.8,397.72 292.3,397.25 292.8,396.77 293.2,396.30 293.7,395.83 294.2,395.36 294.7,394.90 295.1,394.42 295.6,393.95 296.1,393.46 296.6,392.97 297.0,392.47 297.5,391.96 298.0,391.44 298.4,390.91 298.9,390.36 299.4,389.80 299.9,389.23 300.3,388.63 300.8,388.01 301.3,387.37 301.8,386.70 302.2,386.03 302.7,385.33 303.2,384.63 303.7,383.92 304.1,383.21 304.6,382.50 305.1,381.79 305.5,381.09 306.0,380.39 306.5,379.69 307.0,378.99 307.4,378.28 307.9,377.58 308.4,376.87 308.9,376.15 309.3,375.44 309.8,374.72 310.3,374.00 310.8,373.28 311.2,372.55 311.7,371.82"/>
</g>
<rect class="ax" x="249.56" y="369.18" width="65.10" height="42.75"/>
<line class="tk" x1="264.36" y1="411.93" x2="264.36" y2="413.53"/>
<text class="xt" x="264.36" y="419.33" text-anchor="middle" textLength="10.69" lengthAdjust="spacingAndGlyphs">1900</text>
<line class="tk" x1="288.03" y1="411.93" x2="288.03" y2="413.53"/>
<text class="xt" x="288.03" y="419.33" text-anchor="middle" textLength="10.69" lengthAdjust="spacingAndGlyphs">2000</text>
<line class="tk" x1="311.70" y1="411.93" x2="311.70" y2="413.53"/>
<text class="xt" x="311.70" y="419.33" text-anchor="middle" textLength="10.69" lengthAdjust="spacingAndGlyphs">2100</text>
<line class="tk" x1="247.96" y1="407.42" x2="249.56" y2="407.42"/>
<text class="yt" x="246.36" y="409.17" text-anchor="end" textLength="2.67" lengthAdjust="spacingAndGlyphs">0</text>
<line class="tk" x1="247.96" y1="389.80" x2="249.56" y2="389.80"/>
<text class="yt" x="246.36" y="391.55" text-anchor="end" textLength="2.67" lengthAdjust="spacingAndGlyphs">2</text>
<line class="tk" x1="247.96" y1="372.18" x2="249.56" y2="372.18"/>
<text class="yt" x="246.36" y="373.93" text-anchor="end" textLength="2.67" lengthAdjust="spacingAndGlyphs">4</text>
<text class="an" x="312.86" y="407.28" text-anchor="end" textLength="15.60" lengthAdjust="spacingAndGlyphs">r<tspan class="sup" dy="-1.3">2</tspan><tspan dy="1.3">=0.99</tspan></text>
<text class="an" x="312.86" y="410.98" text-anchor="end" textLength="23.43" lengthAdjust="spacingAndGlyphs">RMSE=0.12</text>
<text class="mn" x="17.20" y="374.08" textLength="26.51" lengthAdjust="spacingAndGlyphs">INM-CM4-8</text>
<text class="yl" transform="translate(6.10,391.16) rotate(-90)" text-anchor="middle"><tspan font-style="italic">&#916;GMST</tspan> [K]</text>
<clipPath id="c80"><rect x="15.50" y="420.52" width="65.10" height="42.75"/></clipPath>
<g clip-path="url(#c80)">
<polyline class="g" points="18.5,454.63 18.7,453.80 18.9,456.99 19.2,457.72 19.4,453.65 19.6,455.46 19.9,454.73 20.1,454.55 20.4,455.08 20.6,453.33 20.8,452.67 21.1,453.04 21.3,453.06 21.5,452.04 21.8,454.67 22.0,454.62 22.2,455.09 22.5,456.18 22.7,455.65 23.0,453.67 23.2,453.57 23.4,455.54 23.7,455.00 23.9,453.01 24.1,452.60 24.4,452.04 24.6,453.88 24.9,453.15 25.1,453.73 25.3,453.12 25.6,454.45 25.8,453.03 26.0,455.01 26.3,454.76 26.5,458.74 26.7,455.85 27.0,454.72 27.2,452.59 27.5,452.49 27.7,452.37 27.9,453.76 28.2,454.66 28.4,453.32 28.6,453.10 28.9,453.39 29.1,453.97 29.3,454.18 29.6,452.80 29.8,452.16 30.1,451.54 30.3,451.45 30.5,452.27 30.8,453.51 31.0,456.37 31.2,454.55 31.5,452.49 31.7,451.40 32.0,453.32 32.2,452.66 32.4,452.13 32.7,452.02 32.9,451.81 33.1,452.60 33.4,452.69 33.6,453.28 33.8,450.89 34.1,452.77 34.3,451.39 34.6,452.66 34.8,454.01 35.0,452.54 35.3,452.26 35.5,451.21 35.7,451.68 36.0,452.12 36.2,451.21 36.5,452.91 36.7,453.74 36.9,454.04 37.2,451.69 37.4,450.30 37.6,451.69 37.9,452.29 38.1,449.93 38.3,451.46 38.6,451.27 38.8,452.21 39.1,453.09 39.3,451.74 39.5,453.30 39.8,451.94 40.0,453.04 40.2,451.04 40.5,453.05 40.7,451.75 40.9,450.32 41.2,451.21 41.4,451.37 41.7,450.76 41.9,451.73 42.1,451.60 42.4,451.92 42.6,450.47 42.8,450.67 43.1,451.21 43.3,450.26 43.6,449.54 43.8,452.39 44.0,450.12 44.3,449.78 44.5,450.56 44.7,448.90 45.0,449.98 45.2,451.29 45.4,451.04 45.7,451.33 45.9,449.90 46.2,447.69 46.4,448.08 46.6,445.30 46.9,447.88 47.1,447.37 47.3,446.81 47.6,447.59 47.8,446.72 48.0,446.48 48.3,443.18 48.5,448.00 48.8,446.52 49.0,445.59 49.2,444.60 49.5,442.59 49.7,444.41 49.9,445.50 50.2,445.65 50.4,442.85 50.7,442.82 50.9,441.25 51.1,440.77 51.4,439.91 51.6,440.02 51.8,441.64 52.1,440.35 52.3,439.15 52.5,438.86 52.8,437.63 53.0,438.73 53.3,436.30 53.5,436.93 53.7,434.87 54.0,435.15 54.2,434.82 54.4,436.07 54.7,435.18 54.9,433.69 55.2,433.06 55.4,433.69 55.6,431.98 55.9,431.81 56.1,432.17 56.3,430.50 56.6,431.87 56.8,431.98 57.0,430.37 57.3,431.86 57.5,428.75 57.8,430.33 58.0,430.54 58.2,430.23 58.5,429.68 58.7,429.55 58.9,427.95 59.2,429.95 59.4,428.05 59.6,428.22 59.9,427.45 60.1,428.02 60.4,426.28 60.6,427.10 60.8,424.98 61.1,424.72 61.3,424.33 61.5,423.14 61.8,425.02 62.0,425.51 62.3,424.82 62.5,425.01 62.7,425.82 63.0,425.87 63.2,426.67 63.4,426.19 63.7,425.32 63.9,424.78 64.1,425.90 64.4,425.91 64.6,424.68 64.9,423.42 65.1,424.50 65.3,424.52 65.6,424.89 65.8,425.29 66.0,423.61 66.3,424.05 66.5,425.48 66.8,425.52 67.0,424.87 67.2,425.08 67.5,424.56 67.7,423.78 67.9,422.83 68.2,423.35 68.4,423.50 68.6,423.51 68.9,423.32 69.1,424.70 69.4,425.21 69.6,426.46 69.8,425.92 70.1,426.16 70.3,424.22 70.5,424.13 70.8,423.41 71.0,426.78 71.2,426.77 71.5,426.66 71.7,427.01 72.0,427.11 72.2,425.34 72.4,426.38 72.7,425.31 72.9,425.54 73.1,425.00 73.4,423.08 73.6,423.61 73.9,423.47 74.1,423.85 74.3,423.49 74.6,425.31 74.8,424.78 75.0,425.53 75.3,426.12 75.5,426.77 75.7,425.62 76.0,425.85 76.2,425.76 76.5,425.16 76.7,426.72 76.9,425.88 77.2,425.63 77.4,427.06 77.6,427.55"/>
<polyline class="o" points="18.5,454.66 18.9,454.64 19.4,454.62 19.9,454.59 20.4,454.55 20.8,454.51 21.3,454.46 21.8,454.41 22.2,454.36 22.7,454.30 23.2,454.24 23.7,454.17 24.1,454.10 24.6,454.03 25.1,453.95 25.6,453.87 26.0,453.79 26.5,453.70 27.0,453.62 27.5,453.53 27.9,453.44 28.4,453.34 28.9,453.25 29.3,453.16 29.8,453.06 30.3,452.96 30.8,452.86 31.2,452.76 31.7,452.66 32.2,452.55 32.7,452.44 33.1,452.32 33.6,452.20 34.1,452.07 34.6,451.93 35.0,451.80 35.5,451.65 36.0,451.50 36.5,451.34 36.9,451.17 37.4,450.99 37.9,450.81 38.3,450.62 38.8,450.41 39.3,450.20 39.8,449.98 40.2,449.75 40.7,449.51 41.2,449.26 41.7,448.99 42.1,448.72 42.6,448.39 43.1,447.99 43.6,447.52 44.0,446.98 44.5,446.40 45.0,445.77 45.4,445.11 45.9,444.42 46.4,443.72 46.9,443.02 47.3,442.32 47.8,441.63 48.3,440.95 48.8,440.22 49.2,439.46 49.7,438.66 50.2,437.84 50.7,437.01 51.1,436.18 51.6,435.35 52.1,434.55 52.5,433.77 53.0,433.04 53.5,432.36 54.0,431.74 54.4,431.15 54.9,430.56 55.4,429.97 55.9,429.40 56.3,428.84 56.8,428.30 57.3,427.80 57.8,427.33 58.2,426.89 58.7,426.51 59.2,426.18 59.6,425.91 60.1,425.69 60.6,425.48 61.1,425.29 61.5,425.11 62.0,424.95 62.5,424.84 63.0,424.76 63.4,424.73 63.9,424.74 64.4,424.78 64.9,424.83 65.3,424.89 65.8,424.94 66.3,425.01 66.8,425.08 67.2,425.17 67.7,425.27 68.2,425.37 68.6,425.48 69.1,425.60 69.6,425.73 70.1,425.87 70.5,426.01 71.0,426.17 71.5,426.34 72.0,426.52 72.4,426.71 72.9,426.91 73.4,427.13 73.9,427.36 74.3,427.60 74.8,427.85 75.3,428.12 75.7,428.40 76.2,428.68 76.7,428.98 77.2,429.29 77.6,429.61"/>
<polyline class="p" points="18.5,454.66 18.9,454.63 19.4,454.60 19.9,454.57 20.4,454.54 20.8,454.50 21.3,454.46 21.8,454.42 22.2,454.38 22.7,454.33 23.2,454.28 23.7,454.23 24.1,454.18 24.6,454.13 25.1,454.08 25.6,454.02 26.0,453.96 26.5,453.90 27.0,453.84 27.5,453.78 27.9,453.72 28.4,453.65 28.9,453.59 29.3,453.52 29.8,453.46 30.3,453.39 30.8,453.32 31.2,453.25 31.7,453.18 32.2,453.11 32.7,453.04 33.1,452.96 33.6,452.89 34.1,452.81 34.6,452.73 35.0,452.65 35.5,452.56 36.0,452.47 36.5,452.38 36.9,452.28 37.4,452.17 37.9,452.07 38.3,451.95 38.8,451.84 39.3,451.71 39.8,451.58 40.2,451.45 40.7,451.31 41.2,451.16 41.7,451.00 42.1,450.84 42.6,450.66 43.1,450.44 43.6,450.18 44.0,449.90 44.5,449.59 45.0,449.25 45.4,448.89 45.9,448.51 46.4,448.11 46.9,447.69 47.3,447.26 47.8,446.82 48.3,446.36 48.8,445.84 49.2,445.26 49.7,444.63 50.2,443.96 50.7,443.25 51.1,442.52 51.6,441.77 52.1,441.02 52.5,440.27 53.0,439.52 53.5,438.80 54.0,438.10 54.4,437.41 54.9,436.69 55.4,435.96 55.9,435.22 56.3,434.47 56.8,433.73 57.3,433.01 57.8,432.31 58.2,431.63 58.7,431.00 59.2,430.40 59.6,429.86 60.1,429.37 60.6,428.91 61.1,428.47 61.5,428.04 62.0,427.63 62.5,427.24 63.0,426.86 63.4,426.51 63.9,426.16 64.4,425.84 64.9,425.52 65.3,425.23 65.8,424.94 66.3,424.65 66.8,424.35 67.2,424.05 67.7,423.77 68.2,423.53 68.6,423.36 69.1,423.26 69.6,423.25 70.1,423.25 70.5,423.25 71.0,423.25 71.5,423.25 72.0,423.25 72.4,423.25 72.9,423.25 73.4,423.25 73.9,423.25 74.3,423.25 74.8,423.25 75.3,423.25 75.7,423.25 76.2,423.25 76.7,423.25 77.2,423.25 77.6,423.25"/>
</g>
<rect class="ax" x="15.50" y="420.52" width="65.10" height="42.75"/>
<line class="tk" x1="30.30" y1="463.27" x2="30.30" y2="464.87"/>
<text class="xt" x="30.30" y="470.67" text-anchor="middle" textLength="10.69" lengthAdjust="spacingAndGlyphs">1900</text>
<line class="tk" x1="53.97" y1="463.27" x2="53.97" y2="464.87"/>
<text class="xt" x="53.97" y="470.67" text-anchor="middle" textLength="10.69" lengthAdjust="spacingAndGlyphs">2000</text>
<line class="tk" x1="77.64" y1="463.27" x2="77.64" y2="464.87"/>
<text class="xt" x="77.64" y="470.67" text-anchor="middle" textLength="10.69" lengthAdjust="spacingAndGlyphs">2100</text>
<line class="tk" x1="13.90" y1="455.62" x2="15.50" y2="455.62"/>
<text class="yt" x="12.30" y="457.37" text-anchor="end" textLength="2.67" lengthAdjust="spacingAndGlyphs">0</text>
<line class="tk" x1="13.90" y1="436.57" x2="15.50" y2="436.57"/>
<text class="yt" x="12.30" y="438.32" text-anchor="end" textLength="2.67" lengthAdjust="spacingAndGlyphs">1</text>
<text class="an" x="78.80" y="458.62" text-anchor="end" textLength="15.60" lengthAdjust="spacingAndGlyphs">r<tspan class="sup" dy="-1.3">2</tspan><tspan dy="1.3">=0.95</tspan></text>
<text class="an" x="78.80" y="462.32" text-anchor="end" textLength="23.43" lengthAdjust="spacingAndGlyphs">RMSE=0.15</text>
<clipPath id="c81"><rect x="93.52" y="420.52" width="65.10" height="42.75"/></clipPath>
<g clip-path="url(#c81)">
<polyline class="g" points="96.5,456.58 96.7,455.82 97.0,458.71 97.2,459.36 97.4,455.66 97.7,457.30 97.9,456.63 98.1,456.45 98.4,456.93 98.6,455.34 98.8,454.73 99.1,455.06 99.3,455.07 99.6,454.14 99.8,456.52 100.0,456.48 100.3,456.90 100.5,457.89 100.7,457.40 101.0,455.60 101.2,455.50 101.5,457.30 101.7,456.80 101.9,454.99 102.2,454.62 102.4,454.11 102.6,455.78 102.9,455.11 103.1,455.64 103.3,455.08 103.6,456.30 103.8,455.01 104.1,456.84 104.3,456.75 104.5,460.48 104.8,457.73 105.0,456.58 105.2,454.60 105.5,454.51 105.7,454.40 105.9,455.66 106.2,456.48 106.4,455.27 106.7,455.07 106.9,455.33 107.1,455.86 107.4,456.05 107.6,454.80 107.8,454.22 108.1,453.66 108.3,453.58 108.6,454.35 108.8,455.56 109.0,458.22 109.3,456.51 109.5,454.55 109.7,453.55 110.0,455.29 110.2,454.70 110.4,454.22 110.7,454.13 110.9,453.94 111.2,454.66 111.4,454.75 111.6,455.29 111.9,453.12 112.1,454.84 112.3,453.59 112.6,454.75 112.8,455.99 113.0,454.67 113.3,454.42 113.5,453.48 113.8,453.91 114.0,454.32 114.2,453.51 114.5,455.07 114.7,455.84 114.9,456.12 115.2,454.00 115.4,452.75 115.7,454.03 115.9,454.59 116.1,452.46 116.4,453.86 116.6,453.70 116.8,454.57 117.1,455.39 117.3,454.18 117.5,455.61 117.8,454.39 118.0,455.42 118.3,453.61 118.5,455.46 118.7,454.30 119.0,453.02 119.2,453.85 119.4,454.02 119.7,453.48 119.9,454.39 120.2,454.29 120.4,454.61 120.6,453.32 120.9,453.54 121.1,454.07 121.3,453.26 121.6,452.65 121.8,455.30 122.0,453.30 122.3,453.06 122.5,453.83 122.8,452.39 123.0,453.48 123.2,454.87 123.5,454.83 123.7,455.06 123.9,453.72 124.2,451.75 124.4,452.18 124.6,449.73 124.9,452.17 125.1,451.78 125.4,451.35 125.6,452.13 125.8,451.42 126.1,451.27 126.3,448.35 126.5,452.80 126.8,451.54 127.0,450.77 127.3,449.96 127.5,448.23 127.7,450.05 128.0,451.18 128.2,451.33 128.4,448.78 128.7,448.81 128.9,447.46 129.1,447.09 129.4,446.39 129.6,446.60 129.9,448.27 130.1,447.27 130.3,446.13 130.6,445.80 130.8,444.70 131.0,445.75 131.3,443.59 131.5,444.20 131.8,442.37 132.0,442.66 132.2,442.39 132.5,443.56 132.7,442.78 132.9,441.46 133.2,440.93 133.4,441.53 133.6,440.01 133.9,439.89 134.1,440.24 134.4,438.75 134.6,440.02 134.8,440.14 135.1,438.69 135.3,440.05 135.5,439.20 135.8,439.62 136.0,439.43 136.2,438.56 136.5,438.18 136.7,437.87 137.0,438.01 137.2,436.00 137.4,436.04 137.7,434.89 137.9,435.62 138.1,436.10 138.4,434.90 138.6,435.67 138.9,435.30 139.1,434.10 139.3,433.32 139.6,434.90 139.8,433.63 140.0,433.76 140.3,434.93 140.5,433.41 140.7,432.74 141.0,432.86 141.2,433.77 141.5,431.83 141.7,431.44 141.9,432.38 142.2,432.02 142.4,432.16 142.6,429.59 142.9,430.73 143.1,430.79 143.4,429.54 143.6,429.54 143.8,429.78 144.1,431.44 144.3,430.38 144.5,429.66 144.8,427.83 145.0,429.78 145.2,428.73 145.5,427.37 145.7,425.68 146.0,426.29 146.2,426.14 146.4,428.64 146.7,428.13 146.9,429.57 147.1,429.03 147.4,426.66 147.6,425.83 147.8,426.85 148.1,426.73 148.3,428.31 148.6,426.68 148.8,426.93 149.0,427.47 149.3,427.06 149.5,426.55 149.7,426.40 150.0,427.74 150.2,428.18 150.5,427.54 150.7,425.39 150.9,424.52 151.2,425.03 151.4,425.23 151.6,425.11 151.9,426.28 152.1,424.41 152.3,425.08 152.6,425.39 152.8,425.33 153.1,423.72 153.3,423.87 153.5,425.21 153.8,426.78 154.0,425.28 154.2,425.17 154.5,426.14 154.7,424.88 155.0,425.17 155.2,423.35 155.4,424.04 155.7,423.89"/>
<polyline class="o" points="96.5,456.57 97.0,456.56 97.4,456.54 97.9,456.52 98.4,456.50 98.8,456.47 99.3,456.44 99.8,456.41 100.3,456.37 100.7,456.34 101.2,456.30 101.7,456.25 102.2,456.21 102.6,456.17 103.1,456.12 103.6,456.07 104.1,456.02 104.5,455.97 105.0,455.91 105.5,455.86 105.9,455.80 106.4,455.75 106.9,455.69 107.4,455.63 107.8,455.57 108.3,455.51 108.8,455.45 109.3,455.39 109.7,455.32 110.2,455.26 110.7,455.19 111.2,455.12 111.6,455.04 112.1,454.96 112.6,454.88 113.0,454.80 113.5,454.71 114.0,454.62 114.5,454.52 114.9,454.42 115.4,454.32 115.9,454.21 116.4,454.09 116.8,453.97 117.3,453.85 117.8,453.71 118.3,453.58 118.7,453.43 119.2,453.28 119.7,453.13 120.2,452.96 120.6,452.78 121.1,452.55 121.6,452.29 122.0,452.00 122.5,451.69 123.0,451.34 123.5,450.98 123.9,450.60 124.4,450.20 124.9,449.78 125.4,449.36 125.8,448.93 126.3,448.49 126.8,448.01 127.3,447.48 127.7,446.92 128.2,446.32 128.7,445.70 129.1,445.07 129.6,444.42 130.1,443.77 130.6,443.13 131.0,442.50 131.5,441.88 132.0,441.29 132.5,440.71 132.9,440.11 133.4,439.52 133.9,438.92 134.4,438.32 134.8,437.73 135.3,437.15 135.8,436.58 136.2,436.03 136.7,435.50 137.2,434.99 137.7,434.51 138.1,434.06 138.6,433.62 139.1,433.19 139.6,432.76 140.0,432.35 140.5,431.95 141.0,431.56 141.5,431.19 141.9,430.84 142.4,430.50 142.9,430.19 143.4,429.89 143.8,429.61 144.3,429.34 144.8,429.07 145.2,428.79 145.7,428.51 146.2,428.24 146.7,427.99 147.1,427.75 147.6,427.55 148.1,427.37 148.6,427.23 149.0,427.13 149.5,427.07 150.0,427.07 150.5,427.07 150.9,427.07 151.4,427.07 151.9,427.07 152.3,427.07 152.8,427.07 153.3,427.07 153.8,427.07 154.2,427.07 154.7,427.07 155.2,427.07 155.7,427.07"/>
<polyline class="p" points="96.5,456.57 97.0,456.55 97.4,456.52 97.9,456.49 98.4,456.46 98.8,456.42 99.3,456.39 99.8,456.35 100.3,456.32 100.7,456.28 101.2,456.24 101.7,456.20 102.2,456.15 102.6,456.11 103.1,456.07 103.6,456.02 104.1,455.97 104.5,455.92 105.0,455.88 105.5,455.83 105.9,455.77 106.4,455.72 106.9,455.67 107.4,455.62 107.8,455.56 108.3,455.51 108.8,455.46 109.3,455.40 109.7,455.35 110.2,455.29 110.7,455.23 111.2,455.18 111.6,455.12 112.1,455.06 112.6,454.99 113.0,454.93 113.5,454.86 114.0,454.79 114.5,454.72 114.9,454.65 115.4,454.57 115.9,454.49 116.4,454.41 116.8,454.32 117.3,454.23 117.8,454.14 118.3,454.04 118.7,453.94 119.2,453.83 119.7,453.72 120.2,453.60 120.6,453.47 121.1,453.32 121.6,453.16 122.0,452.98 122.5,452.78 123.0,452.57 123.5,452.34 123.9,452.10 124.4,451.84 124.9,451.57 125.4,451.29 125.8,450.99 126.3,450.68 126.8,450.32 127.3,449.90 127.7,449.45 128.2,448.96 128.7,448.44 129.1,447.89 129.6,447.33 130.1,446.76 130.6,446.18 131.0,445.60 131.5,445.03 132.0,444.47 132.5,443.91 132.9,443.34 133.4,442.74 133.9,442.14 134.4,441.53 134.8,440.91 135.3,440.29 135.8,439.68 136.2,439.07 136.7,438.47 137.2,437.89 137.7,437.32 138.1,436.77 138.6,436.22 139.1,435.67 139.6,435.12 140.0,434.57 140.5,434.04 141.0,433.51 141.5,432.99 141.9,432.49 142.4,432.01 142.9,431.54 143.4,431.10 143.8,430.67 144.3,430.28 144.8,429.89 145.2,429.52 145.7,429.17 146.2,428.82 146.7,428.49 147.1,428.16 147.6,427.84 148.1,427.52 148.6,427.21 149.0,426.90 149.5,426.59 150.0,426.27 150.5,425.97 150.9,425.66 151.4,425.36 151.9,425.06 152.3,424.77 152.8,424.48 153.3,424.19 153.8,423.91 154.2,423.63 154.7,423.36 155.2,423.09 155.7,422.82"/>
</g>
<rect class="ax" x="93.52" y="420.52" width="65.10" height="42.75"/>
<line class="tk" x1="108.32" y1="463.27" x2="108.32" y2="464.87"/>
<text class="xt" x="108.32" y="470.67" text-anchor="middle" textLength="10.69" lengthAdjust="spacingAndGlyphs">1900</text>
<line class="tk" x1="131.99" y1="463.27" x2="131.99" y2="464.87"/>
<text class="xt" x="131.99" y="470.67" text-anchor="middle" textLength="10.69" lengthAdjust="spacingAndGlyphs">2000</text>
<line class="tk" x1="155.66" y1="463.27" x2="155.66" y2="464.87"/>
<text class="xt" x="155.66" y="470.67" text-anchor="middle" textLength="10.69" lengthAdjust="spacingAndGlyphs">2100</text>
<line class="tk" x1="91.92" y1="457.27" x2="93.52" y2="457.27"/>
<text class="yt" x="90.32" y="459.02" text-anchor="end" textLength="2.67" lengthAdjust="spacingAndGlyphs">0</text>
<line class="tk" x1="91.92" y1="443.46" x2="93.52" y2="443.46"/>
<text class="yt" x="90.32" y="445.21" text-anchor="end" textLength="2.67" lengthAdjust="spacingAndGlyphs">1</text>
<line class="tk" x1="91.92" y1="429.65" x2="93.52" y2="429.65"/>
<text class="yt" x="90.32" y="431.40" text-anchor="end" textLength="2.67" lengthAdjust="spacingAndGlyphs">2</text>
<text class="an" x="156.82" y="458.62" text-anchor="end" textLength="15.60" lengthAdjust="spacingAndGlyphs">r<tspan class="sup" dy="-1.3">2</tspan><tspan dy="1.3">=0.97</tspan></text>
<text class="an" x="156.82" y="462.32" text-anchor="end" textLength="23.43" lengthAdjust="spacingAndGlyphs">RMSE=0.14</text>
<clipPath id="c82"><rect x="171.54" y="420.52" width="65.10" height="42.75"/></clipPath>
<g clip-path="url(#c82)">
<polyline class="g" points="174.5,457.68 174.7,457.00 175.0,459.61 175.2,460.21 175.4,456.89 175.7,458.37 175.9,457.78 176.2,457.63 176.4,458.07 176.6,456.65 176.9,456.11 177.1,456.42 177.3,456.43 177.6,455.61 177.8,457.76 178.0,457.73 178.3,458.12 178.5,459.02 178.8,458.59 179.0,456.98 179.2,456.90 179.5,458.53 179.7,458.09 179.9,456.47 180.2,456.15 180.4,455.70 180.7,457.21 180.9,456.62 181.1,457.10 181.4,456.61 181.6,457.72 181.8,456.57 182.1,458.27 182.3,458.34 182.5,461.83 182.8,459.25 183.0,458.08 183.3,456.27 183.5,456.20 183.7,456.11 184.0,457.26 184.2,458.00 184.4,456.92 184.7,456.76 184.9,457.00 185.2,457.49 185.4,457.67 185.6,456.55 185.9,456.05 186.1,455.55 186.3,455.49 186.6,456.22 186.8,457.41 187.0,459.90 187.3,458.29 187.5,456.45 187.8,455.53 188.0,457.11 188.2,456.58 188.5,456.16 188.7,456.09 188.9,455.93 189.2,456.59 189.4,456.68 189.6,457.17 189.9,455.23 190.1,456.79 190.4,455.68 190.6,456.73 190.8,457.86 191.1,456.68 191.3,456.46 191.5,455.62 191.8,456.03 192.0,456.41 192.3,455.69 192.5,457.10 192.7,457.80 193.0,458.06 193.2,456.17 193.4,455.06 193.7,456.22 193.9,456.74 194.1,454.83 194.4,456.11 194.6,455.98 194.9,456.78 195.1,457.52 195.3,456.45 195.6,457.75 195.8,456.68 196.0,457.61 196.3,456.01 196.5,457.69 196.8,456.66 197.0,455.52 197.2,456.29 197.5,456.46 197.7,456.00 197.9,456.84 198.2,456.77 198.4,457.08 198.6,455.94 198.9,456.17 199.1,456.68 199.4,455.98 199.6,455.47 199.8,457.89 200.1,456.13 200.3,455.96 200.5,456.70 200.8,455.45 201.0,456.52 201.2,457.97 201.5,458.10 201.7,458.24 202.0,456.94 202.2,455.18 202.4,455.63 202.7,453.48 202.9,455.73 203.1,455.44 203.4,455.11 203.6,455.87 203.9,455.29 204.1,455.22 204.3,452.65 204.6,456.73 204.8,455.67 205.0,455.05 205.3,454.40 205.5,452.95 205.7,454.76 206.0,455.94 206.2,456.09 206.5,453.80 206.7,453.89 206.9,452.77 207.2,452.53 207.4,451.99 207.6,452.31 207.9,454.05 208.1,453.36 208.4,452.31 208.6,451.95 208.8,451.01 209.1,452.03 209.3,450.16 209.5,450.78 209.8,449.20 210.0,449.53 210.2,449.34 210.5,450.45 210.7,449.81 211.0,448.67 211.2,448.24 211.4,448.84 211.7,447.51 211.9,447.44 212.1,447.80 212.4,446.50 212.6,447.67 212.8,447.81 213.1,446.54 213.3,447.78 213.6,448.88 213.8,448.47 214.0,446.93 214.3,447.00 214.5,445.66 214.7,445.51 215.0,444.84 215.2,444.57 215.5,444.68 215.7,445.01 215.9,444.63 216.2,442.84 216.4,443.37 216.6,442.85 216.9,441.40 217.1,441.69 217.3,442.14 217.6,443.52 217.8,440.81 218.1,441.03 218.3,441.50 218.5,440.34 218.8,439.90 219.0,440.51 219.2,440.13 219.5,440.12 219.7,439.80 220.0,440.53 220.2,440.09 220.4,439.39 220.7,439.08 220.9,438.91 221.1,438.57 221.4,438.81 221.6,440.59 221.8,439.40 222.1,439.83 222.3,439.17 222.6,437.99 222.8,438.33 223.0,437.83 223.3,436.92 223.5,436.20 223.7,435.44 224.0,437.38 224.2,437.67 224.4,434.86 224.7,433.04 224.9,433.82 225.2,434.69 225.4,436.29 225.6,434.66 225.9,433.62 226.1,432.72 226.3,431.13 226.6,431.13 226.8,432.62 227.1,432.75 227.3,433.30 227.5,432.64 227.8,431.92 228.0,432.63 228.2,431.90 228.5,430.20 228.7,428.83 228.9,428.91 229.2,429.98 229.4,429.91 229.7,428.95 229.9,427.67 230.1,428.63 230.4,429.01 230.6,428.84 230.8,427.32 231.1,424.17 231.3,425.10 231.6,425.40 231.8,424.90 232.0,425.19 232.3,425.47 232.5,426.53 232.7,426.27 233.0,425.77 233.2,426.21 233.4,423.94 233.7,424.70"/>
<polyline class="o" points="174.5,457.85 175.0,457.84 175.4,457.83 175.9,457.82 176.4,457.81 176.9,457.80 177.3,457.78 177.8,457.76 178.3,457.74 178.8,457.72 179.2,457.69 179.7,457.67 180.2,457.64 180.7,457.62 181.1,457.59 181.6,457.56 182.1,457.52 182.5,457.49 183.0,457.46 183.5,457.42 184.0,457.39 184.4,457.35 184.9,457.32 185.4,457.28 185.9,457.25 186.3,457.21 186.8,457.17 187.3,457.13 187.8,457.09 188.2,457.05 188.7,457.00 189.2,456.95 189.6,456.90 190.1,456.85 190.6,456.79 191.1,456.74 191.5,456.68 192.0,456.61 192.5,456.55 193.0,456.48 193.4,456.41 193.9,456.33 194.4,456.26 194.9,456.17 195.3,456.09 195.8,456.00 196.3,455.91 196.8,455.82 197.2,455.72 197.7,455.62 198.2,455.51 198.6,455.39 199.1,455.25 199.6,455.10 200.1,454.92 200.5,454.74 201.0,454.53 201.5,454.32 202.0,454.09 202.4,453.85 202.9,453.61 203.4,453.35 203.9,453.09 204.3,452.83 204.8,452.54 205.3,452.22 205.7,451.88 206.2,451.52 206.7,451.14 207.2,450.75 207.6,450.35 208.1,449.94 208.6,449.53 209.1,449.11 209.5,448.70 210.0,448.29 210.5,447.88 211.0,447.46 211.4,447.04 211.9,446.60 212.4,446.16 212.8,445.72 213.3,445.27 213.8,444.81 214.3,444.36 214.7,443.91 215.2,443.45 215.7,443.00 216.2,442.55 216.6,442.10 217.1,441.64 217.6,441.19 218.1,440.73 218.5,440.27 219.0,439.81 219.5,439.35 220.0,438.88 220.4,438.42 220.9,437.96 221.4,437.50 221.8,437.04 222.3,436.59 222.8,436.14 223.3,435.69 223.7,435.25 224.2,434.81 224.7,434.36 225.2,433.91 225.6,433.46 226.1,433.00 226.6,432.53 227.1,432.05 227.5,431.56 228.0,431.06 228.5,430.54 228.9,430.02 229.4,429.49 229.9,428.95 230.4,428.40 230.8,427.84 231.3,427.27 231.8,426.69 232.3,426.11 232.7,425.51 233.2,424.91 233.7,424.31"/>
<polyline class="p" points="174.5,457.85 175.0,457.83 175.4,457.81 175.9,457.79 176.4,457.77 176.9,457.75 177.3,457.73 177.8,457.71 178.3,457.68 178.8,457.66 179.2,457.64 179.7,457.61 180.2,457.59 180.7,457.56 181.1,457.53 181.6,457.51 182.1,457.48 182.5,457.45 183.0,457.42 183.5,457.39 184.0,457.36 184.4,457.33 184.9,457.30 185.4,457.27 185.9,457.24 186.3,457.21 186.8,457.18 187.3,457.14 187.8,457.11 188.2,457.08 188.7,457.05 189.2,457.02 189.6,456.98 190.1,456.95 190.6,456.91 191.1,456.88 191.5,456.84 192.0,456.80 192.5,456.76 193.0,456.72 193.4,456.68 193.9,456.64 194.4,456.59 194.9,456.54 195.3,456.50 195.8,456.44 196.3,456.39 196.8,456.33 197.2,456.27 197.7,456.21 198.2,456.15 198.6,456.08 199.1,456.00 199.6,455.91 200.1,455.81 200.5,455.71 201.0,455.60 201.5,455.48 202.0,455.35 202.4,455.21 202.9,455.06 203.4,454.91 203.9,454.75 204.3,454.57 204.8,454.37 205.3,454.14 205.7,453.88 206.2,453.60 206.7,453.30 207.2,452.98 207.6,452.65 208.1,452.30 208.6,451.95 209.1,451.58 209.5,451.21 210.0,450.84 210.5,450.45 211.0,450.03 211.4,449.59 211.9,449.12 212.4,448.64 212.8,448.14 213.3,447.64 213.8,447.13 214.3,446.62 214.7,446.11 215.2,445.62 215.7,445.13 216.2,444.66 216.6,444.21 217.1,443.76 217.6,443.31 218.1,442.87 218.5,442.42 219.0,441.98 219.5,441.53 220.0,441.08 220.4,440.62 220.9,440.15 221.4,439.66 221.8,439.17 222.3,438.66 222.8,438.14 223.3,437.61 223.7,437.07 224.2,436.53 224.7,435.97 225.2,435.41 225.6,434.84 226.1,434.26 226.6,433.67 227.1,433.07 227.5,432.47 228.0,431.85 228.5,431.23 228.9,430.59 229.4,429.94 229.9,429.29 230.4,428.62 230.8,427.94 231.3,427.25 231.8,426.55 232.3,425.85 232.7,425.13 233.2,424.40 233.7,423.67"/>
</g>
<rect class="ax" x="171.54" y="420.52" width="65.10" height="42.75"/>
<line class="tk" x1="186.34" y1="463.27" x2="186.34" y2="464.87"/>
<text class="xt" x="186.34" y="470.67" text-anchor="middle" textLength="10.69" lengthAdjust="spacingAndGlyphs">1900</text>
<line class="tk" x1="210.01" y1="463.27" x2="210.01" y2="464.87"/>
<text class="xt" x="210.01" y="470.67" text-anchor="middle" textLength="10.69" lengthAdjust="spacingAndGlyphs">2000</text>
<line class="tk" x1="233.68" y1="463.27" x2="233.68" y2="464.87"/>
<text class="xt" x="233.68" y="470.67" text-anchor="middle" textLength="10.69" lengthAdjust="spacingAndGlyphs">2100</text>
<line class="tk" x1="169.94" y1="458.48" x2="171.54" y2="458.48"/>
<text class="yt" x="168.34" y="460.23" text-anchor="end" textLength="2.67" lengthAdjust="spacingAndGlyphs">0</text>
<line class="tk" x1="169.94" y1="438.19" x2="171.54" y2="438.19"/>
<text class="yt" x="168.34" y="439.94" text-anchor="end" textLength="2.67" lengthAdjust="spacingAndGlyphs">2</text>
<text class="an" x="234.84" y="458.62" text-anchor="end" textLength="15.60" lengthAdjust="spacingAndGlyphs">r<tspan class="sup" dy="-1.3">2</tspan><tspan dy="1.3">=0.99</tspan></text>
<text class="an" x="234.84" y="462.32" text-anchor="end" textLength="23.43" lengthAdjust="spacingAndGlyphs">RMSE=0.13</text>
<clipPath id="c83"><rect x="249.56" y="420.52" width="65.10" height="42.75"/></clipPath>
<g clip-path="url(#c83)">
<polyline class="g" points="252.5,458.11 252.8,457.44 253.0,460.05 253.2,460.66 253.5,457.34 253.7,458.83 253.9,458.24 254.2,458.10 254.4,458.54 254.6,457.12 254.9,456.59 255.1,456.90 255.4,456.92 255.6,456.10 255.8,458.26 256.1,458.24 256.3,458.63 256.5,459.53 256.8,459.11 257.0,457.50 257.3,457.43 257.5,459.05 257.7,458.62 258.0,457.01 258.2,456.69 258.4,456.24 258.7,457.76 258.9,457.17 259.1,457.66 259.4,457.17 259.6,458.28 259.9,457.14 260.1,458.84 260.3,458.91 260.6,462.40 260.8,459.83 261.0,458.66 261.3,456.86 261.5,456.79 261.8,456.70 262.0,457.85 262.2,458.60 262.5,457.53 262.7,457.37 262.9,457.62 263.2,458.10 263.4,458.29 263.6,457.18 263.9,456.68 264.1,456.18 264.4,456.13 264.6,456.86 264.8,458.05 265.1,460.54 265.3,458.94 265.5,457.10 265.8,456.19 266.0,457.76 266.2,457.24 266.5,456.82 266.7,456.75 267.0,456.59 267.2,457.25 267.4,457.34 267.7,457.84 267.9,455.90 268.1,457.45 268.4,456.34 268.6,457.39 268.9,458.52 269.1,457.34 269.3,457.12 269.6,456.28 269.8,456.68 270.0,457.06 270.3,456.34 270.5,457.75 270.7,458.45 271.0,458.71 271.2,456.82 271.5,455.70 271.7,456.86 271.9,457.38 272.2,455.47 272.4,456.75 272.6,456.62 272.9,457.41 273.1,458.16 273.4,457.09 273.6,458.39 273.8,457.31 274.1,458.25 274.3,456.64 274.5,458.32 274.8,457.29 275.0,456.16 275.2,456.92 275.5,457.10 275.7,456.63 276.0,457.47 276.2,457.40 276.4,457.71 276.7,456.58 276.9,456.81 277.1,457.32 277.4,456.63 277.6,456.12 277.8,458.55 278.1,456.79 278.3,456.62 278.6,457.37 278.8,456.13 279.0,457.20 279.3,458.66 279.5,458.80 279.7,458.95 280.0,457.65 280.2,455.91 280.5,456.37 280.7,454.23 280.9,456.49 281.2,456.22 281.4,455.91 281.6,456.69 281.9,456.12 282.1,456.07 282.3,453.52 282.6,457.63 282.8,456.60 283.1,456.02 283.3,455.41 283.5,454.02 283.8,455.88 284.0,457.12 284.2,457.33 284.5,455.09 284.7,455.25 285.0,454.20 285.2,454.03 285.4,453.56 285.7,453.95 285.9,455.76 286.1,455.15 286.4,454.16 286.6,453.87 286.8,453.01 287.1,454.10 287.3,452.30 287.6,452.99 287.8,451.47 288.0,451.86 288.3,451.74 288.5,452.92 288.7,452.33 289.0,451.27 289.2,450.90 289.4,451.57 289.7,450.31 289.9,450.31 290.2,450.74 290.4,449.50 290.6,450.75 290.9,450.95 291.1,449.74 291.3,451.06 291.6,449.90 291.8,449.28 292.1,449.98 292.3,448.21 292.5,449.67 292.8,447.34 293.0,448.98 293.2,448.85 293.5,448.16 293.7,446.95 293.9,447.70 294.2,448.67 294.4,447.84 294.7,446.70 294.9,446.37 295.1,447.57 295.4,446.56 295.6,447.54 295.8,446.77 296.1,445.62 296.3,446.46 296.6,445.23 296.8,443.69 297.0,445.62 297.3,444.17 297.5,444.54 297.7,445.24 298.0,444.70 298.2,442.45 298.4,444.09 298.7,444.32 298.9,443.32 299.2,442.83 299.4,443.62 299.6,442.65 299.9,441.49 300.1,442.04 300.3,442.41 300.6,441.20 300.8,440.03 301.0,439.36 301.3,441.45 301.5,440.30 301.8,439.89 302.0,441.15 302.2,439.00 302.5,437.50 302.7,437.91 302.9,437.72 303.2,438.61 303.4,437.56 303.7,436.87 303.9,437.32 304.1,438.05 304.4,438.18 304.6,436.67 304.8,435.82 305.1,435.67 305.3,435.39 305.5,432.94 305.8,432.36 306.0,432.87 306.3,432.02 306.5,430.29 306.7,431.07 307.0,432.04 307.2,433.17 307.4,432.35 307.7,431.47 307.9,431.59 308.1,432.37 308.4,430.17 308.6,428.86 308.9,429.37 309.1,428.33 309.3,428.58 309.6,429.84 309.8,427.32 310.0,425.21 310.3,425.04 310.5,426.00 310.8,423.01 311.0,423.66 311.2,422.43 311.5,423.02 311.7,422.83"/>
<polyline class="o" points="252.5,458.27 253.0,458.26 253.5,458.25 253.9,458.24 254.4,458.22 254.9,458.20 255.4,458.19 255.8,458.17 256.3,458.15 256.8,458.12 257.3,458.10 257.7,458.08 258.2,458.05 258.7,458.02 259.1,457.99 259.6,457.97 260.1,457.94 260.6,457.90 261.0,457.87 261.5,457.84 262.0,457.81 262.5,457.77 262.9,457.74 263.4,457.70 263.9,457.67 264.4,457.63 264.8,457.60 265.3,457.56 265.8,457.52 266.2,457.48 266.7,457.44 267.2,457.40 267.7,457.35 268.1,457.30 268.6,457.26 269.1,457.20 269.6,457.15 270.0,457.10 270.5,457.04 271.0,456.98 271.5,456.92 271.9,456.86 272.4,456.79 272.9,456.72 273.4,456.65 273.8,456.57 274.3,456.49 274.8,456.41 275.2,456.33 275.7,456.24 276.2,456.15 276.7,456.05 277.1,455.93 277.6,455.79 278.1,455.65 278.6,455.49 279.0,455.32 279.5,455.14 280.0,454.95 280.5,454.75 280.9,454.55 281.4,454.34 281.9,454.13 282.3,453.92 282.8,453.68 283.3,453.43 283.8,453.17 284.2,452.89 284.7,452.60 285.2,452.30 285.7,451.99 286.1,451.68 286.6,451.36 287.1,451.05 287.6,450.73 288.0,450.42 288.5,450.10 289.0,449.79 289.4,449.47 289.9,449.15 290.4,448.82 290.9,448.49 291.3,448.15 291.8,447.81 292.3,447.46 292.8,447.10 293.2,446.74 293.7,446.36 294.2,445.98 294.7,445.58 295.1,445.18 295.6,444.76 296.1,444.34 296.6,443.90 297.0,443.46 297.5,443.01 298.0,442.55 298.4,442.09 298.9,441.61 299.4,441.14 299.9,440.65 300.3,440.16 300.8,439.67 301.3,439.17 301.8,438.66 302.2,438.15 302.7,437.62 303.2,437.08 303.7,436.53 304.1,435.97 304.6,435.39 305.1,434.79 305.5,434.17 306.0,433.54 306.5,432.88 307.0,432.20 307.4,431.50 307.9,430.77 308.4,430.03 308.9,429.26 309.3,428.48 309.8,427.68 310.3,426.86 310.8,426.03 311.2,425.17 311.7,424.31"/>
<polyline class="p" points="252.5,458.27 253.0,458.26 253.5,458.26 253.9,458.25 254.4,458.24 254.9,458.23 255.4,458.22 255.8,458.21 256.3,458.19 256.8,458.18 257.3,458.16 257.7,458.15 258.2,458.13 258.7,458.11 259.1,458.09 259.6,458.07 260.1,458.05 260.6,458.03 261.0,458.01 261.5,457.99 262.0,457.96 262.5,457.94 262.9,457.92 263.4,457.89 263.9,457.87 264.4,457.85 264.8,457.82 265.3,457.79 265.8,457.77 266.2,457.74 266.7,457.71 267.2,457.68 267.7,457.64 268.1,457.61 268.6,457.57 269.1,457.54 269.6,457.50 270.0,457.46 270.5,457.41 271.0,457.37 271.5,457.33 271.9,457.28 272.4,457.23 272.9,457.18 273.4,457.13 273.8,457.08 274.3,457.02 274.8,456.96 275.2,456.91 275.7,456.85 276.2,456.78 276.7,456.72 277.1,456.64 277.6,456.56 278.1,456.48 278.6,456.39 279.0,456.29 279.5,456.18 280.0,456.07 280.5,455.96 280.9,455.83 281.4,455.71 281.9,455.58 282.3,455.44 282.8,455.29 283.3,455.13 283.8,454.96 284.2,454.77 284.7,454.58 285.2,454.37 285.7,454.16 286.1,453.93 286.6,453.70 287.1,453.46 287.6,453.21 288.0,452.96 288.5,452.70 289.0,452.42 289.4,452.12 289.9,451.81 290.4,451.49 290.9,451.15 291.3,450.80 291.8,450.44 292.3,450.07 292.8,449.69 293.2,449.31 293.7,448.92 294.2,448.52 294.7,448.11 295.1,447.69 295.6,447.26 296.1,446.81 296.6,446.35 297.0,445.88 297.5,445.40 298.0,444.90 298.4,444.39 298.9,443.86 299.4,443.33 299.9,442.77 300.3,442.20 300.8,441.61 301.3,441.00 301.8,440.37 302.2,439.72 302.7,439.04 303.2,438.36 303.7,437.65 304.1,436.93 304.6,436.19 305.1,435.44 305.5,434.67 306.0,433.89 306.5,433.09 307.0,432.26 307.4,431.41 307.9,430.53 308.4,429.64 308.9,428.72 309.3,427.78 309.8,426.83 310.3,425.85 310.8,424.86 311.2,423.85 311.7,422.82"/>
</g>
<rect class="ax" x="249.56" y="420.52" width="65.10" height="42.75"/>
<line class="tk" x1="264.36" y1="463.27" x2="264.36" y2="464.87"/>
<text class="xt" x="264.36" y="470.67" text-anchor="middle" textLength="10.69" lengthAdjust="spacingAndGlyphs">1900</text>
<line class="tk" x1="288.03" y1="463.27" x2="288.03" y2="464.87"/>
<text class="xt" x="288.03" y="470.67" text-anchor="middle" textLength="10.69" lengthAdjust="spacingAndGlyphs">2000</text>
<line class="tk" x1="311.70" y1="463.27" x2="311.70" y2="464.87"/>
<text class="xt" x="311.70" y="470.67" text-anchor="middle" textLength="10.69" lengthAdjust="spacingAndGlyphs">2100</text>
<line class="tk" x1="247.96" y1="458.76" x2="249.56" y2="458.76"/>
<text class="yt" x="246.36" y="460.51" text-anchor="end" textLength="2.67" lengthAdjust="spacingAndGlyphs">0</text>
<line class="tk" x1="247.96" y1="441.33" x2="249.56" y2="441.33"/>
<text class="yt" x="246.36" y="443.08" text-anchor="end" textLength="2.67" lengthAdjust="spacingAndGlyphs">2</text>
<line class="tk" x1="247.96" y1="423.90" x2="249.56" y2="423.90"/>
<text class="yt" x="246.36" y="425.65" text-anchor="end" textLength="2.67" lengthAdjust="spacingAndGlyphs">4</text>
<text class="an" x="312.86" y="458.62" text-anchor="end" textLength="15.60" lengthAdjust="spacingAndGlyphs">r<tspan class="sup" dy="-1.3">2</tspan><tspan dy="1.3">=0.99</tspan></text>
<text class="an" x="312.86" y="462.32" text-anchor="end" textLength="23.43" lengthAdjust="spacingAndGlyphs">RMSE=0.13</text>
<text class="mn" x="17.20" y="425.42" textLength="26.51" lengthAdjust="spacingAndGlyphs">INM-CM5-0</text>
<text class="yl" transform="translate(6.10,442.50) rotate(-90)" text-anchor="middle"><tspan font-style="italic">&#916;GMST</tspan> [K]</text>
<clipPath id="c90"><rect x="15.50" y="471.86" width="65.10" height="42.75"/></clipPath>
<g clip-path="url(#c90)">
<polyline class="g" points="18.5,509.86 18.7,507.39 18.9,508.95 19.2,510.52 19.4,510.13 19.6,510.72 19.9,509.20 20.1,507.24 20.4,507.68 20.6,509.56 20.8,510.36 21.1,509.11 21.3,507.37 21.5,509.17 21.8,508.18 22.0,508.60 22.2,508.22 22.5,508.50 22.7,509.14 23.0,508.28 23.2,508.28 23.4,508.01 23.7,509.52 23.9,506.83 24.1,507.71 24.4,508.04 24.6,508.03 24.9,508.77 25.1,507.92 25.3,507.68 25.6,507.35 25.8,507.04 26.0,507.64 26.3,508.94 26.5,510.85 26.7,508.89 27.0,508.02 27.2,508.03 27.5,507.19 27.7,507.65 27.9,507.86 28.2,508.22 28.4,508.21 28.6,508.69 28.9,508.14 29.1,508.35 29.3,509.01 29.6,508.18 29.8,508.71 30.1,507.18 30.3,507.47 30.5,507.41 30.8,508.65 31.0,508.00 31.2,507.91 31.5,509.10 31.7,510.01 32.0,509.92 32.2,508.51 32.4,507.63 32.7,509.48 32.9,508.12 33.1,507.52 33.4,507.37 33.6,508.14 33.8,508.90 34.1,507.78 34.3,507.98 34.6,508.43 34.8,509.07 35.0,508.68 35.3,507.85 35.5,507.17 35.7,506.77 36.0,508.41 36.2,506.66 36.5,506.24 36.7,506.28 36.9,506.91 37.2,504.90 37.4,505.73 37.6,507.42 37.9,508.13 38.1,507.95 38.3,506.73 38.6,506.13 38.8,505.34 39.1,504.04 39.3,504.86 39.5,505.36 39.8,504.70 40.0,504.85 40.2,504.74 40.5,505.89 40.7,505.25 40.9,505.60 41.2,505.34 41.4,505.84 41.7,504.93 41.9,505.29 42.1,506.96 42.4,505.74 42.6,505.06 42.8,507.09 43.1,506.38 43.3,504.48 43.6,504.45 43.8,502.87 44.0,505.88 44.3,503.96 44.5,504.50 44.7,504.01 45.0,505.18 45.2,505.92 45.4,507.05 45.7,505.54 45.9,503.51 46.2,502.85 46.4,503.94 46.6,504.97 46.9,504.92 47.1,502.63 47.3,502.56 47.6,502.34 47.8,503.24 48.0,501.21 48.3,502.22 48.5,502.56 48.8,501.91 49.0,500.93 49.2,499.89 49.5,499.56 49.7,500.46 49.9,501.46 50.2,501.28 50.4,500.72 50.7,501.88 50.9,501.50 51.1,498.70 51.4,498.20 51.6,496.61 51.8,498.21 52.1,499.19 52.3,496.85 52.5,496.39 52.8,494.02 53.0,493.32 53.3,493.31 53.5,492.59 53.7,494.63 54.0,494.00 54.2,493.11 54.4,492.35 54.7,491.75 54.9,493.12 55.2,492.29 55.4,491.73 55.6,492.81 55.9,490.10 56.1,489.37 56.3,489.27 56.6,488.51 56.8,488.85 57.0,488.41 57.3,488.25 57.5,487.70 57.8,485.86 58.0,484.31 58.2,483.79 58.5,485.83 58.7,485.24 58.9,483.46 59.2,485.00 59.4,484.09 59.6,482.21 59.9,484.99 60.1,482.70 60.4,482.10 60.6,480.87 60.8,482.78 61.1,481.41 61.3,481.32 61.5,481.21 61.8,482.52 62.0,482.89 62.3,483.63 62.5,481.62 62.7,479.93 63.0,478.74 63.2,478.78 63.4,478.70 63.7,479.77 63.9,479.95 64.1,481.32 64.4,480.39 64.6,478.59 64.9,480.01 65.1,479.97 65.3,480.57 65.6,477.84 65.8,478.86 66.0,479.39 66.3,477.09 66.5,478.75 66.8,479.97 67.0,479.25 67.2,479.46 67.5,477.91 67.7,479.54 67.9,479.65 68.2,478.59 68.4,479.38 68.6,478.86 68.9,477.70 69.1,478.13 69.4,477.15 69.6,478.18 69.8,477.91 70.1,478.01 70.3,476.53 70.5,477.07 70.8,476.81 71.0,478.59 71.2,477.05 71.5,477.50 71.7,476.80 72.0,477.82 72.2,476.43 72.4,477.52 72.7,476.38 72.9,476.15 73.1,476.59 73.4,475.86 73.6,477.19 73.9,477.49 74.1,476.99 74.3,477.70 74.6,477.42 74.8,478.09 75.0,477.68 75.3,477.25 75.5,479.23 75.7,476.08 76.0,475.73 76.2,478.38 76.5,477.63 76.7,478.87 76.9,476.21 77.2,476.81 77.4,477.48 77.6,477.50"/>
<polyline class="o" points="18.5,508.35 18.9,508.31 19.4,508.27 19.9,508.22 20.4,508.16 20.8,508.09 21.3,508.02 21.8,507.93 22.2,507.84 22.7,507.75 23.2,507.65 23.7,507.54 24.1,507.42 24.6,507.30 25.1,507.18 25.6,507.05 26.0,506.92 26.5,506.78 27.0,506.64 27.5,506.50 27.9,506.35 28.4,506.20 28.9,506.05 29.3,505.90 29.8,505.74 30.3,505.59 30.8,505.43 31.2,505.26 31.7,505.09 32.2,504.91 32.7,504.72 33.1,504.52 33.6,504.32 34.1,504.10 34.6,503.88 35.0,503.65 35.5,503.41 36.0,503.15 36.5,502.89 36.9,502.62 37.4,502.33 37.9,502.04 38.3,501.73 38.8,501.41 39.3,501.08 39.8,500.73 40.2,500.37 40.7,500.00 41.2,499.61 41.7,499.21 42.1,498.79 42.6,498.32 43.1,497.75 43.6,497.09 44.0,496.37 44.5,495.59 45.0,494.76 45.4,493.91 45.9,493.04 46.4,492.16 46.9,491.29 47.3,490.44 47.8,489.63 48.3,488.86 48.8,488.06 49.2,487.23 49.7,486.38 50.2,485.53 50.7,484.68 51.1,483.85 51.6,483.04 52.1,482.26 52.5,481.53 53.0,480.85 53.5,480.23 54.0,479.69 54.4,479.19 54.9,478.69 55.4,478.19 55.9,477.71 56.3,477.25 56.8,476.82 57.3,476.41 57.8,476.05 58.2,475.72 58.7,475.45 59.2,475.23 59.6,475.07 60.1,474.98 60.6,474.89 61.1,474.81 61.5,474.74 62.0,474.67 62.5,474.60 63.0,474.55 63.4,474.50 63.9,474.46 64.4,474.43 64.9,474.40 65.3,474.39 65.8,474.38 66.3,474.39 66.8,474.43 67.2,474.48 67.7,474.54 68.2,474.62 68.6,474.71 69.1,474.81 69.6,474.92 70.1,475.04 70.5,475.15 71.0,475.27 71.5,475.39 72.0,475.50 72.4,475.63 72.9,475.76 73.4,475.91 73.9,476.06 74.3,476.22 74.8,476.40 75.3,476.57 75.7,476.76 76.2,476.95 76.7,477.15 77.2,477.36 77.6,477.57"/>
<polyline class="p" points="18.5,508.35 18.9,508.34 19.4,508.33 19.9,508.31 20.4,508.30 20.8,508.28 21.3,508.26 21.8,508.24 22.2,508.22 22.7,508.20 23.2,508.18 23.7,508.15 24.1,508.13 24.6,508.10 25.1,508.07 25.6,508.04 26.0,508.01 26.5,507.98 27.0,507.95 27.5,507.92 27.9,507.88 28.4,507.85 28.9,507.82 29.3,507.78 29.8,507.75 30.3,507.71 30.8,507.67 31.2,507.64 31.7,507.60 32.2,507.56 32.7,507.52 33.1,507.48 33.6,507.44 34.1,507.40 34.6,507.35 35.0,507.31 35.5,507.26 36.0,507.21 36.5,507.15 36.9,507.09 37.4,507.03 37.9,506.97 38.3,506.90 38.8,506.83 39.3,506.76 39.8,506.68 40.2,506.60 40.7,506.51 41.2,506.42 41.7,506.33 42.1,506.22 42.6,506.11 43.1,505.96 43.6,505.78 44.0,505.57 44.5,505.35 45.0,505.09 45.4,504.82 45.9,504.53 46.4,504.22 46.9,503.90 47.3,503.56 47.8,503.22 48.3,502.85 48.8,502.44 49.2,501.96 49.7,501.44 50.2,500.88 50.7,500.28 51.1,499.65 51.6,499.00 52.1,498.33 52.5,497.65 53.0,496.97 53.5,496.29 54.0,495.61 54.4,494.91 54.9,494.16 55.4,493.36 55.9,492.54 56.3,491.70 56.8,490.85 57.3,490.01 57.8,489.19 58.2,488.40 58.7,487.66 59.2,486.97 59.6,486.34 60.1,485.79 60.6,485.26 61.1,484.75 61.5,484.26 62.0,483.79 62.5,483.33 63.0,482.90 63.4,482.49 63.9,482.10 64.4,481.73 64.9,481.38 65.3,481.05 65.8,480.75 66.3,480.46 66.8,480.17 67.2,479.88 67.7,479.60 68.2,479.33 68.6,479.07 69.1,478.83 69.6,478.62 70.1,478.42 70.5,478.26 71.0,478.12 71.5,478.03 72.0,477.96 72.4,477.91 72.9,477.85 73.4,477.80 73.9,477.76 74.3,477.72 74.8,477.68 75.3,477.65 75.7,477.62 76.2,477.60 76.7,477.58 77.2,477.57 77.6,477.57"/>
</g>
<rect class="ax" x="15.50" y="471.86" width="65.10" height="42.75"/>
<line class="tk" x1="30.30" y1="514.61" x2="30.30" y2="516.21"/>
<text class="xt" x="30.30" y="522.01" text-anchor="middle" textLength="10.69" lengthAdjust="spacingAndGlyphs">1900</text>
<line class="tk" x1="53.97" y1="514.61" x2="53.97" y2="516.21"/>
<text class="xt" x="53.97" y="522.01" text-anchor="middle" textLength="10.69" lengthAdjust="spacingAndGlyphs">2000</text>
<line class="tk" x1="77.64" y1="514.61" x2="77.64" y2="516.21"/>
<text class="xt" x="77.64" y="522.01" text-anchor="middle" textLength="10.69" lengthAdjust="spacingAndGlyphs">2100</text>
<line class="tk" x1="13.90" y1="508.72" x2="15.50" y2="508.72"/>
<text class="yt" x="12.30" y="510.47" text-anchor="end" textLength="2.67" lengthAdjust="spacingAndGlyphs">0</text>
<line class="tk" x1="13.90" y1="493.63" x2="15.50" y2="493.63"/>
<text class="yt" x="12.30" y="495.38" text-anchor="end" textLength="2.67" lengthAdjust="spacingAndGlyphs">1</text>
<line class="tk" x1="13.90" y1="478.53" x2="15.50" y2="478.53"/>
<text class="yt" x="12.30" y="480.28" text-anchor="end" textLength="2.67" lengthAdjust="spacingAndGlyphs">2</text>
<text class="an" x="78.80" y="509.96" text-anchor="end" textLength="15.60" lengthAdjust="spacingAndGlyphs">r<tspan class="sup" dy="-1.3">2</tspan><tspan dy="1.3">=0.96</tspan></text>
<text class="an" x="78.80" y="513.66" text-anchor="end" textLength="23.43" lengthAdjust="spacingAndGlyphs">RMSE=0.15</text>
<clipPath id="c91"><rect x="93.52" y="471.86" width="65.10" height="42.75"/></clipPath>
<g clip-path="url(#c91)">
<polyline class="g" points="96.5,510.60 96.7,508.37 97.0,509.77 97.2,511.18 97.4,510.83 97.7,511.35 97.9,509.98 98.1,508.21 98.4,508.61 98.6,510.30 98.8,511.02 99.1,509.89 99.3,508.33 99.6,509.94 99.8,509.06 100.0,509.43 100.3,509.09 100.5,509.34 100.7,509.92 101.0,509.15 101.2,509.15 101.5,508.91 101.7,510.27 101.9,507.85 102.2,508.65 102.4,508.95 102.6,508.94 102.9,509.61 103.1,508.85 103.3,508.64 103.6,508.34 103.8,508.07 104.1,508.64 104.3,509.91 104.5,511.72 104.8,509.88 105.0,509.00 105.2,508.99 105.5,508.24 105.7,508.66 105.9,508.86 106.2,509.19 106.4,509.18 106.7,509.62 106.9,509.13 107.1,509.33 107.4,509.94 107.6,509.20 107.8,509.68 108.1,508.31 108.3,508.58 108.6,508.54 108.8,509.73 109.0,509.21 109.3,509.08 109.5,510.10 109.7,510.92 110.0,510.84 110.2,509.59 110.4,508.80 110.7,510.48 110.9,509.27 111.2,508.74 111.4,508.61 111.6,509.32 111.9,510.02 112.1,509.02 112.3,509.21 112.6,509.63 112.8,510.22 113.0,509.89 113.3,509.15 113.5,508.56 113.8,508.22 114.0,509.70 114.2,508.15 114.5,507.79 114.7,507.85 114.9,508.43 115.2,506.64 115.4,507.41 115.7,508.94 115.9,509.61 116.1,509.46 116.4,508.39 116.6,507.87 116.8,507.18 117.1,506.03 117.3,506.79 117.5,507.27 117.8,506.70 118.0,506.86 118.3,506.79 118.5,507.85 118.7,507.30 119.0,507.64 119.2,507.44 119.4,507.91 119.7,507.12 119.9,507.47 120.2,509.01 120.4,507.95 120.6,507.37 120.9,509.24 121.1,508.64 121.3,506.98 121.6,507.01 121.8,505.65 122.0,508.42 122.3,506.75 122.5,507.31 122.8,506.94 123.0,508.09 123.2,508.93 123.5,510.11 123.7,508.75 123.9,506.91 124.2,506.37 124.4,507.43 124.6,508.44 124.9,508.49 125.1,506.52 125.4,506.54 125.6,506.43 125.8,507.33 126.1,505.59 126.3,506.59 126.5,506.99 126.8,506.49 127.0,505.70 127.3,504.86 127.5,504.66 127.7,505.62 128.0,506.66 128.2,506.54 128.4,506.05 128.7,507.17 128.9,506.90 129.1,504.47 129.4,504.09 129.6,502.76 129.9,504.37 130.1,505.40 130.3,503.28 130.6,502.83 130.8,500.74 131.0,500.16 131.3,500.20 131.5,499.60 131.8,501.48 132.0,500.95 132.2,500.19 132.5,499.53 132.7,499.03 132.9,500.28 133.2,499.56 133.4,499.06 133.6,500.06 133.9,497.62 134.1,496.96 134.4,496.87 134.6,496.18 134.8,496.48 135.1,496.06 135.3,495.90 135.5,496.09 135.8,494.04 136.0,493.58 136.2,493.31 136.5,492.40 136.7,492.10 137.0,491.00 137.2,491.72 137.4,491.10 137.7,491.59 137.9,491.78 138.1,491.39 138.4,490.53 138.6,491.05 138.9,489.50 139.1,489.08 139.3,490.70 139.6,490.50 139.8,488.82 140.0,486.78 140.3,487.30 140.5,486.34 140.7,485.51 141.0,486.36 141.2,484.48 141.5,485.33 141.7,485.32 141.9,485.51 142.2,485.29 142.4,483.72 142.6,483.54 142.9,483.35 143.1,483.81 143.4,484.27 143.6,485.03 143.8,484.88 144.1,483.46 144.3,483.85 144.5,483.66 144.8,483.84 145.0,483.33 145.2,482.70 145.5,481.11 145.7,481.97 146.0,481.28 146.2,481.21 146.4,479.76 146.7,480.23 146.9,481.94 147.1,481.73 147.4,481.29 147.6,480.46 147.8,479.19 148.1,478.63 148.3,479.55 148.6,479.63 148.8,478.54 149.0,481.73 149.3,481.22 149.5,481.15 149.7,479.00 150.0,478.13 150.2,479.36 150.5,478.91 150.7,478.77 150.9,478.58 151.2,478.57 151.4,478.00 151.6,476.41 151.9,476.71 152.1,478.02 152.3,479.96 152.6,477.77 152.8,476.73 153.1,475.52 153.3,475.73 153.5,476.14 153.8,476.40 154.0,475.98 154.2,475.98 154.5,476.47 154.7,475.85 155.0,475.94 155.2,476.84 155.4,475.02 155.7,475.84"/>
<polyline class="o" points="96.5,509.41 97.0,509.40 97.4,509.38 97.9,509.35 98.4,509.32 98.8,509.28 99.3,509.24 99.8,509.19 100.3,509.14 100.7,509.08 101.2,509.02 101.7,508.95 102.2,508.88 102.6,508.81 103.1,508.73 103.6,508.65 104.1,508.56 104.5,508.47 105.0,508.38 105.5,508.29 105.9,508.20 106.4,508.10 106.9,508.01 107.4,507.91 107.8,507.81 108.3,507.71 108.8,507.61 109.3,507.50 109.7,507.38 110.2,507.26 110.7,507.14 111.2,507.00 111.6,506.86 112.1,506.71 112.6,506.56 113.0,506.40 113.5,506.23 114.0,506.06 114.5,505.87 114.9,505.68 115.4,505.48 115.9,505.28 116.4,505.06 116.8,504.84 117.3,504.61 117.8,504.37 118.3,504.12 118.7,503.86 119.2,503.60 119.7,503.32 120.2,503.04 120.6,502.72 121.1,502.35 121.6,501.94 122.0,501.48 122.5,500.98 123.0,500.45 123.5,499.90 123.9,499.33 124.4,498.74 124.9,498.15 125.4,497.56 125.8,496.96 126.3,496.38 126.8,495.76 127.3,495.11 127.7,494.44 128.2,493.75 128.7,493.04 129.1,492.33 129.6,491.61 130.1,490.90 130.6,490.19 131.0,489.50 131.5,488.83 132.0,488.18 132.5,487.54 132.9,486.89 133.4,486.24 133.9,485.59 134.4,484.94 134.8,484.31 135.3,483.69 135.8,483.09 136.2,482.51 136.7,481.96 137.2,481.45 137.7,480.97 138.1,480.54 138.6,480.12 139.1,479.71 139.6,479.32 140.0,478.94 140.5,478.57 141.0,478.22 141.5,477.89 141.9,477.58 142.4,477.28 142.9,477.00 143.4,476.74 143.8,476.51 144.3,476.28 144.8,476.06 145.2,475.85 145.7,475.64 146.2,475.45 146.7,475.26 147.1,475.08 147.6,474.92 148.1,474.77 148.6,474.64 149.0,474.52 149.5,474.43 150.0,474.34 150.5,474.27 150.9,474.19 151.4,474.12 151.9,474.05 152.3,473.99 152.8,473.93 153.3,473.88 153.8,473.83 154.2,473.80 154.7,473.77 155.2,473.75 155.7,473.75"/>
<polyline class="p" points="96.5,509.41 97.0,509.40 97.4,509.38 97.9,509.37 98.4,509.35 98.8,509.34 99.3,509.32 99.8,509.31 100.3,509.29 100.7,509.28 101.2,509.26 101.7,509.25 102.2,509.23 102.6,509.21 103.1,509.19 103.6,509.18 104.1,509.16 104.5,509.14 105.0,509.12 105.5,509.10 105.9,509.08 106.4,509.06 106.9,509.04 107.4,509.02 107.8,509.00 108.3,508.98 108.8,508.96 109.3,508.94 109.7,508.92 110.2,508.91 110.7,508.89 111.2,508.87 111.6,508.85 112.1,508.83 112.6,508.81 113.0,508.79 113.5,508.77 114.0,508.74 114.5,508.72 114.9,508.70 115.4,508.67 115.9,508.65 116.4,508.62 116.8,508.59 117.3,508.56 117.8,508.53 118.3,508.50 118.7,508.46 119.2,508.43 119.7,508.39 120.2,508.35 120.6,508.30 121.1,508.25 121.6,508.20 122.0,508.14 122.5,508.07 123.0,507.99 123.5,507.91 123.9,507.82 124.4,507.72 124.9,507.61 125.4,507.49 125.8,507.36 126.3,507.21 126.8,507.00 127.3,506.73 127.7,506.40 128.2,506.02 128.7,505.60 129.1,505.15 129.6,504.66 130.1,504.15 130.6,503.62 131.0,503.08 131.5,502.53 132.0,501.98 132.5,501.39 132.9,500.73 133.4,500.01 133.9,499.24 134.4,498.44 134.8,497.61 135.3,496.76 135.8,495.92 136.2,495.08 136.7,494.27 137.2,493.50 137.7,492.77 138.1,492.09 138.6,491.43 139.1,490.78 139.6,490.14 140.0,489.51 140.5,488.90 141.0,488.29 141.5,487.70 141.9,487.13 142.4,486.57 142.9,486.03 143.4,485.50 143.8,485.00 144.3,484.51 144.8,484.03 145.2,483.56 145.7,483.11 146.2,482.66 146.7,482.23 147.1,481.81 147.6,481.40 148.1,481.00 148.6,480.61 149.0,480.24 149.5,479.87 150.0,479.51 150.5,479.17 150.9,478.82 151.4,478.49 151.9,478.16 152.3,477.84 152.8,477.53 153.3,477.23 153.8,476.94 154.2,476.66 154.7,476.38 155.2,476.12 155.7,475.87"/>
</g>
<rect class="ax" x="93.52" y="471.86" width="65.10" height="42.75"/>
<line class="tk" x1="108.32" y1="514.61" x2="108.32" y2="516.21"/>
<text class="xt" x="108.32" y="522.01" text-anchor="middle" textLength="10.69" lengthAdjust="spacingAndGlyphs">1900</text>
<line class="tk" x1="131.99" y1="514.61" x2="131.99" y2="516.21"/>
<text class="xt" x="131.99" y="522.01" text-anchor="middle" textLength="10.69" lengthAdjust="spacingAndGlyphs">2000</text>
<line class="tk" x1="155.66" y1="514.61" x2="155.66" y2="516.21"/>
<text class="xt" x="155.66" y="522.01" text-anchor="middle" textLength="10.69" lengthAdjust="spacingAndGlyphs">2100</text>
<line class="tk" x1="91.92" y1="509.83" x2="93.52" y2="509.83"/>
<text class="yt" x="90.32" y="511.58" text-anchor="end" textLength="2.67" lengthAdjust="spacingAndGlyphs">0</text>
<line class="tk" x1="91.92" y1="498.50" x2="93.52" y2="498.50"/>
<text class="yt" x="90.32" y="500.25" text-anchor="end" textLength="2.67" lengthAdjust="spacingAndGlyphs">1</text>
<line class="tk" x1="91.92" y1="487.18" x2="93.52" y2="487.18"/>
<text class="yt" x="90.32" y="488.93" text-anchor="end" textLength="2.67" lengthAdjust="spacingAndGlyphs">2</text>
<line class="tk" x1="91.92" y1="475.85" x2="93.52" y2="475.85"/>
<text class="yt" x="90.32" y="477.60" text-anchor="end" textLength="2.67" lengthAdjust="spacingAndGlyphs">3</text>
<text class="an" x="156.82" y="509.96" text-anchor="end" textLength="15.60" lengthAdjust="spacingAndGlyphs">r<tspan class="sup" dy="-1.3">2</tspan><tspan dy="1.3">=0.98</tspan></text>
<text class="an" x="156.82" y="513.66" text-anchor="end" textLength="23.43" lengthAdjust="spacingAndGlyphs">RMSE=0.16</text>
<clipPath id="c92"><rect x="171.54" y="471.86" width="65.10" height="42.75"/></clipPath>
<g clip-path="url(#c92)">
<polyline class="g" points="174.5,511.56 174.7,509.57 175.0,510.82 175.2,512.07 175.4,511.77 175.7,512.24 175.9,511.02 176.2,509.45 176.4,509.81 176.6,511.31 176.9,511.96 177.1,510.95 177.3,509.57 177.6,511.01 177.8,510.22 178.0,510.55 178.3,510.25 178.5,510.48 178.8,511.00 179.0,510.32 179.2,510.32 179.5,510.11 179.7,511.32 179.9,509.17 180.2,509.89 180.4,510.15 180.7,510.15 180.9,510.75 181.1,510.07 181.4,509.89 181.6,509.63 181.8,509.40 182.1,509.93 182.3,511.17 182.5,512.87 182.8,511.15 183.0,510.27 183.3,510.23 183.5,509.56 183.7,509.94 184.0,510.12 184.2,510.41 184.4,510.41 184.7,510.81 184.9,510.37 185.2,510.55 185.4,511.09 185.6,510.44 185.9,510.87 186.1,509.65 186.3,509.90 186.6,509.89 186.8,511.01 187.0,510.61 187.3,510.44 187.5,511.28 187.8,511.99 188.0,511.93 188.2,510.81 188.5,510.12 188.7,511.61 188.9,510.53 189.2,510.06 189.4,509.96 189.6,510.58 189.9,511.21 190.1,510.32 190.4,510.50 190.6,510.87 190.8,511.39 191.1,511.10 191.3,510.45 191.5,509.92 191.8,509.62 192.0,510.94 192.3,509.56 192.5,509.25 192.7,509.30 193.0,509.82 193.2,508.23 193.4,508.91 193.7,510.28 193.9,510.88 194.1,510.75 194.4,509.80 194.6,509.34 194.9,508.73 195.1,507.71 195.3,508.39 195.6,508.82 195.8,508.32 196.0,508.46 196.3,508.40 196.5,509.35 196.8,508.87 197.0,509.18 197.2,509.00 197.5,509.42 197.7,508.73 197.9,509.05 198.2,510.42 198.4,509.49 198.6,508.98 198.9,510.65 199.1,510.14 199.4,508.68 199.6,508.72 199.8,507.53 200.1,510.02 200.3,508.56 200.5,509.08 200.8,508.77 201.0,509.86 201.2,510.74 201.5,511.90 201.7,510.64 202.0,508.92 202.2,508.45 202.4,509.43 202.7,510.37 202.9,510.44 203.1,508.73 203.4,508.79 203.6,508.73 203.9,509.57 204.1,508.07 204.3,509.00 204.6,509.40 204.8,509.01 205.0,508.35 205.3,507.66 205.5,507.56 205.7,508.54 206.0,509.58 206.2,509.47 206.5,509.04 206.7,510.08 206.9,509.91 207.2,507.81 207.4,507.56 207.6,506.47 207.9,508.07 208.1,509.15 208.4,507.26 208.6,506.82 208.8,505.01 209.1,504.57 209.3,504.68 209.5,504.22 209.8,505.97 210.0,505.57 210.2,504.97 210.5,504.47 210.7,504.11 211.0,505.31 211.2,504.76 211.4,504.42 211.7,505.40 211.9,503.34 212.1,502.86 212.4,502.88 212.6,502.37 212.8,502.73 213.1,502.47 213.3,502.42 213.6,501.38 213.8,501.04 214.0,500.28 214.3,499.77 214.5,499.19 214.7,500.31 215.0,500.65 215.2,500.28 215.5,498.78 215.7,499.27 215.9,500.06 216.2,499.01 216.4,498.59 216.6,496.78 216.9,496.59 217.1,497.95 217.3,495.65 217.6,495.47 217.8,494.79 218.1,495.83 218.3,495.19 218.5,495.07 218.8,494.68 219.0,495.19 219.2,494.88 219.5,494.55 219.7,495.78 220.0,496.74 220.2,495.64 220.4,494.91 220.7,494.84 220.9,494.89 221.1,494.47 221.4,494.09 221.6,491.97 221.8,492.31 222.1,491.44 222.3,491.78 222.6,490.56 222.8,491.09 223.0,490.86 223.3,489.64 223.5,490.23 223.7,489.70 224.0,489.67 224.2,491.03 224.4,489.54 224.7,489.59 224.9,489.63 225.2,488.95 225.4,489.03 225.6,488.31 225.9,487.34 226.1,486.69 226.3,487.41 226.6,485.58 226.8,485.21 227.1,485.11 227.3,486.12 227.5,486.28 227.8,486.30 228.0,486.68 228.2,485.17 228.5,485.94 228.7,484.98 228.9,485.35 229.2,484.12 229.4,483.31 229.7,482.51 229.9,482.49 230.1,483.24 230.4,482.21 230.6,482.08 230.8,480.95 231.1,480.44 231.3,481.21 231.6,480.54 231.8,481.26 232.0,479.86 232.3,479.44 232.5,479.98 232.7,478.70 233.0,477.73 233.2,478.25 233.4,477.02 233.7,478.23"/>
<polyline class="o" points="174.5,510.47 175.0,510.46 175.4,510.44 175.9,510.42 176.4,510.39 176.9,510.37 177.3,510.34 177.8,510.31 178.3,510.27 178.8,510.23 179.2,510.19 179.7,510.15 180.2,510.11 180.7,510.06 181.1,510.02 181.6,509.97 182.1,509.92 182.5,509.86 183.0,509.81 183.5,509.76 184.0,509.70 184.4,509.64 184.9,509.59 185.4,509.53 185.9,509.47 186.3,509.41 186.8,509.35 187.3,509.28 187.8,509.22 188.2,509.15 188.7,509.08 189.2,509.01 189.6,508.93 190.1,508.85 190.6,508.77 191.1,508.68 191.5,508.59 192.0,508.50 192.5,508.40 193.0,508.30 193.4,508.20 193.9,508.09 194.4,507.97 194.9,507.85 195.3,507.73 195.8,507.60 196.3,507.46 196.8,507.32 197.2,507.17 197.7,507.02 198.2,506.86 198.6,506.68 199.1,506.47 199.6,506.24 200.1,505.97 200.5,505.68 201.0,505.38 201.5,505.05 202.0,504.71 202.4,504.35 202.9,503.98 203.4,503.61 203.9,503.23 204.3,502.84 204.8,502.42 205.3,501.97 205.7,501.49 206.2,500.98 206.7,500.46 207.2,499.92 207.6,499.37 208.1,498.82 208.6,498.27 209.1,497.73 209.5,497.19 210.0,496.67 210.5,496.16 211.0,495.65 211.4,495.13 211.9,494.62 212.4,494.10 212.8,493.59 213.3,493.08 213.8,492.56 214.3,492.06 214.7,491.55 215.2,491.05 215.7,490.55 216.2,490.06 216.6,489.57 217.1,489.07 217.6,488.58 218.1,488.10 218.5,487.61 219.0,487.13 219.5,486.65 220.0,486.18 220.4,485.71 220.9,485.26 221.4,484.80 221.8,484.36 222.3,483.93 222.8,483.50 223.3,483.08 223.7,482.66 224.2,482.26 224.7,481.85 225.2,481.45 225.6,481.05 226.1,480.65 226.6,480.26 227.1,479.86 227.5,479.47 228.0,479.07 228.5,478.67 228.9,478.27 229.4,477.88 229.9,477.48 230.4,477.09 230.8,476.70 231.3,476.31 231.8,475.92 232.3,475.54 232.7,475.15 233.2,474.77 233.7,474.38"/>
<polyline class="p" points="174.5,510.47 175.0,510.47 175.4,510.46 175.9,510.46 176.4,510.45 176.9,510.44 177.3,510.44 177.8,510.43 178.3,510.42 178.8,510.41 179.2,510.41 179.7,510.40 180.2,510.39 180.7,510.38 181.1,510.37 181.6,510.36 182.1,510.35 182.5,510.34 183.0,510.33 183.5,510.32 184.0,510.31 184.4,510.30 184.9,510.29 185.4,510.28 185.9,510.27 186.3,510.26 186.8,510.25 187.3,510.23 187.8,510.22 188.2,510.21 188.7,510.20 189.2,510.18 189.6,510.17 190.1,510.15 190.6,510.14 191.1,510.12 191.5,510.11 192.0,510.09 192.5,510.07 193.0,510.06 193.4,510.04 193.9,510.02 194.4,510.00 194.9,509.98 195.3,509.96 195.8,509.94 196.3,509.92 196.8,509.90 197.2,509.88 197.7,509.86 198.2,509.83 198.6,509.81 199.1,509.79 199.6,509.76 200.1,509.74 200.5,509.71 201.0,509.69 201.5,509.65 202.0,509.62 202.4,509.58 202.9,509.54 203.4,509.49 203.9,509.44 204.3,509.37 204.8,509.27 205.3,509.12 205.7,508.93 206.2,508.71 206.7,508.46 207.2,508.18 207.6,507.88 208.1,507.57 208.6,507.24 209.1,506.91 209.5,506.57 210.0,506.22 210.5,505.86 211.0,505.45 211.4,504.99 211.9,504.50 212.4,503.98 212.8,503.44 213.3,502.89 213.8,502.32 214.3,501.76 214.7,501.20 215.2,500.65 215.7,500.11 216.2,499.60 216.6,499.10 217.1,498.59 217.6,498.09 218.1,497.59 218.5,497.09 219.0,496.58 219.5,496.08 220.0,495.57 220.4,495.06 220.9,494.54 221.4,494.02 221.8,493.49 222.3,492.95 222.8,492.41 223.3,491.87 223.7,491.32 224.2,490.77 224.7,490.22 225.2,489.66 225.6,489.09 226.1,488.52 226.6,487.95 227.1,487.37 227.5,486.78 228.0,486.19 228.5,485.59 228.9,484.98 229.4,484.37 229.9,483.76 230.4,483.14 230.8,482.51 231.3,481.88 231.8,481.24 232.3,480.59 232.7,479.94 233.2,479.29 233.7,478.63"/>
</g>
<rect class="ax" x="171.54" y="471.86" width="65.10" height="42.75"/>
<line class="tk" x1="186.34" y1="514.61" x2="186.34" y2="516.21"/>
<text class="xt" x="186.34" y="522.01" text-anchor="middle" textLength="10.69" lengthAdjust="spacingAndGlyphs">1900</text>
<line class="tk" x1="210.01" y1="514.61" x2="210.01" y2="516.21"/>
<text class="xt" x="210.01" y="522.01" text-anchor="middle" textLength="10.69" lengthAdjust="spacingAndGlyphs">2000</text>
<line class="tk" x1="233.68" y1="514.61" x2="233.68" y2="516.21"/>
<text class="xt" x="233.68" y="522.01" text-anchor="middle" textLength="10.69" lengthAdjust="spacingAndGlyphs">2100</text>
<line class="tk" x1="169.94" y1="510.76" x2="171.54" y2="510.76"/>
<text class="yt" x="168.34" y="512.51" text-anchor="end" textLength="2.67" lengthAdjust="spacingAndGlyphs">0</text>
<line class="tk" x1="169.94" y1="495.28" x2="171.54" y2="495.28"/>
<text class="yt" x="168.34" y="497.03" text-anchor="end" textLength="2.67" lengthAdjust="spacingAndGlyphs">2</text>
<line class="tk" x1="169.94" y1="479.80" x2="171.54" y2="479.80"/>
<text class="yt" x="168.34" y="481.55" text-anchor="end" textLength="2.67" lengthAdjust="spacingAndGlyphs">4</text>
<text class="an" x="234.84" y="509.96" text-anchor="end" textLength="15.60" lengthAdjust="spacingAndGlyphs">r<tspan class="sup" dy="-1.3">2</tspan><tspan dy="1.3">=0.98</tspan></text>
<text class="an" x="234.84" y="513.66" text-anchor="end" textLength="23.43" lengthAdjust="spacingAndGlyphs">RMSE=0.17</text>
<clipPath id="c93"><rect x="249.56" y="471.86" width="65.10" height="42.75"/></clipPath>
<g clip-path="url(#c93)">
<polyline class="g" points="252.5,511.98 252.8,510.00 253.0,511.25 253.2,512.50 253.5,512.19 253.7,512.66 253.9,511.44 254.2,509.87 254.4,510.23 254.6,511.73 254.9,512.38 255.1,511.38 255.4,509.99 255.6,511.43 255.8,510.65 256.1,510.98 256.3,510.68 256.5,510.91 256.8,511.43 257.0,510.74 257.3,510.74 257.5,510.53 257.7,511.75 258.0,509.60 258.2,510.31 258.4,510.58 258.7,510.57 258.9,511.17 259.1,510.50 259.4,510.31 259.6,510.05 259.9,509.82 260.1,510.36 260.3,511.59 260.6,513.29 260.8,511.57 261.0,510.69 261.3,510.65 261.5,509.99 261.8,510.36 262.0,510.54 262.2,510.84 262.5,510.84 262.7,511.23 262.9,510.80 263.2,510.98 263.4,511.52 263.6,510.86 263.9,511.29 264.1,510.08 264.4,510.32 264.6,510.31 264.8,511.43 265.1,511.03 265.3,510.87 265.5,511.71 265.8,512.42 266.0,512.35 266.2,511.24 266.5,510.54 266.7,512.03 267.0,510.96 267.2,510.49 267.4,510.38 267.7,511.01 267.9,511.63 268.1,510.74 268.4,510.92 268.6,511.29 268.9,511.82 269.1,511.52 269.3,510.87 269.6,510.34 269.8,510.04 270.0,511.37 270.3,509.99 270.5,509.67 270.7,509.72 271.0,510.24 271.2,508.66 271.5,509.34 271.7,510.71 271.9,511.30 272.2,511.17 272.4,510.22 272.6,509.77 272.9,509.15 273.1,508.14 273.4,508.81 273.6,509.24 273.8,508.74 274.1,508.89 274.3,508.83 274.5,509.77 274.8,509.29 275.0,509.60 275.2,509.42 275.5,509.85 275.7,509.15 276.0,509.47 276.2,510.84 276.4,509.91 276.7,509.41 276.9,511.08 277.1,510.56 277.4,509.10 277.6,509.14 277.8,507.95 278.1,510.44 278.3,508.98 278.6,509.50 278.8,509.19 279.0,510.28 279.3,511.16 279.5,512.32 279.7,511.06 280.0,509.34 280.2,508.87 280.5,509.85 280.7,510.79 280.9,510.86 281.2,509.15 281.4,509.21 281.6,509.15 281.9,509.99 282.1,508.49 282.3,509.43 282.6,509.84 282.8,509.46 283.1,508.82 283.3,508.15 283.5,508.08 283.8,509.08 284.0,510.15 284.2,510.08 284.5,509.68 284.7,510.76 285.0,510.63 285.2,508.58 285.4,508.36 285.7,507.32 285.9,508.97 286.1,510.09 286.4,508.24 286.6,507.85 286.8,506.08 287.1,505.68 287.3,505.84 287.6,505.42 287.8,507.21 288.0,506.84 288.3,506.28 288.5,505.82 288.7,505.49 289.0,506.74 289.2,506.23 289.4,505.93 289.7,506.96 289.9,504.94 290.2,504.49 290.4,504.55 290.6,504.09 290.9,504.49 291.1,504.26 291.3,504.25 291.6,503.26 291.8,503.75 292.1,503.42 292.3,503.70 292.5,502.94 292.8,501.65 293.0,500.36 293.2,499.75 293.5,500.11 293.7,500.82 293.9,500.50 294.2,500.23 294.4,499.89 294.7,499.77 294.9,499.46 295.1,499.52 295.4,500.20 295.6,498.57 295.8,498.31 296.1,498.70 296.3,498.57 296.6,496.61 296.8,496.68 297.0,497.60 297.3,498.75 297.5,499.31 297.7,497.59 298.0,496.14 298.2,494.25 298.4,494.82 298.7,493.94 298.9,493.85 299.2,493.32 299.4,494.49 299.6,493.85 299.9,493.25 300.1,493.46 300.3,492.74 300.6,492.22 300.8,494.21 301.0,494.37 301.3,492.90 301.5,491.57 301.8,492.57 302.0,492.60 302.2,492.01 302.5,490.86 302.7,490.84 302.9,490.45 303.2,490.53 303.4,490.65 303.7,490.79 303.9,490.14 304.1,490.25 304.4,488.25 304.6,486.79 304.8,486.47 305.1,487.88 305.3,488.34 305.5,486.60 305.8,487.05 306.0,485.68 306.3,485.94 306.5,485.01 306.7,486.31 307.0,484.50 307.2,485.16 307.4,483.94 307.7,484.89 307.9,483.34 308.1,481.26 308.4,481.68 308.6,481.44 308.9,479.51 309.1,480.71 309.3,479.42 309.6,478.80 309.8,478.79 310.0,478.31 310.3,477.81 310.5,476.82 310.8,477.47 311.0,477.39 311.2,476.76 311.5,475.19 311.7,474.13"/>
<polyline class="o" points="252.5,510.89 253.0,510.88 253.5,510.87 253.9,510.86 254.4,510.84 254.9,510.82 255.4,510.79 255.8,510.77 256.3,510.74 256.8,510.71 257.3,510.68 257.7,510.65 258.2,510.61 258.7,510.58 259.1,510.54 259.6,510.50 260.1,510.46 260.6,510.42 261.0,510.37 261.5,510.33 262.0,510.28 262.5,510.24 262.9,510.19 263.4,510.14 263.9,510.09 264.4,510.05 264.8,510.00 265.3,509.94 265.8,509.89 266.2,509.83 266.7,509.77 267.2,509.71 267.7,509.65 268.1,509.58 268.6,509.51 269.1,509.43 269.6,509.36 270.0,509.28 270.5,509.19 271.0,509.11 271.5,509.02 271.9,508.92 272.4,508.83 272.9,508.73 273.4,508.62 273.8,508.52 274.3,508.41 274.8,508.29 275.2,508.17 275.7,508.05 276.2,507.92 276.7,507.78 277.1,507.63 277.6,507.46 278.1,507.27 278.6,507.07 279.0,506.85 279.5,506.62 280.0,506.38 280.5,506.13 280.9,505.86 281.4,505.59 281.9,505.31 282.3,505.01 282.8,504.68 283.3,504.32 283.8,503.92 284.2,503.50 284.7,503.06 285.2,502.60 285.7,502.14 286.1,501.67 286.6,501.20 287.1,500.74 287.6,500.29 288.0,499.86 288.5,499.43 289.0,499.02 289.4,498.60 289.9,498.19 290.4,497.78 290.9,497.37 291.3,496.95 291.8,496.53 292.3,496.11 292.8,495.67 293.2,495.23 293.7,494.78 294.2,494.32 294.7,493.84 295.1,493.35 295.6,492.85 296.1,492.34 296.6,491.83 297.0,491.31 297.5,490.78 298.0,490.26 298.4,489.74 298.9,489.21 299.4,488.69 299.9,488.18 300.3,487.67 300.8,487.17 301.3,486.66 301.8,486.16 302.2,485.65 302.7,485.15 303.2,484.64 303.7,484.14 304.1,483.63 304.6,483.11 305.1,482.60 305.5,482.08 306.0,481.55 306.5,481.02 307.0,480.49 307.4,479.96 307.9,479.42 308.4,478.88 308.9,478.34 309.3,477.79 309.8,477.24 310.3,476.69 310.8,476.14 311.2,475.58 311.7,475.02"/>
<polyline class="p" points="252.5,510.89 253.0,510.89 253.5,510.88 253.9,510.88 254.4,510.87 254.9,510.87 255.4,510.86 255.8,510.85 256.3,510.85 256.8,510.84 257.3,510.83 257.7,510.82 258.2,510.81 258.7,510.81 259.1,510.80 259.6,510.79 260.1,510.78 260.6,510.77 261.0,510.76 261.5,510.75 262.0,510.74 262.5,510.73 262.9,510.72 263.4,510.70 263.9,510.69 264.4,510.68 264.8,510.67 265.3,510.66 265.8,510.65 266.2,510.63 266.7,510.62 267.2,510.61 267.7,510.59 268.1,510.58 268.6,510.56 269.1,510.55 269.6,510.53 270.0,510.52 270.5,510.50 271.0,510.48 271.5,510.46 271.9,510.45 272.4,510.43 272.9,510.41 273.4,510.39 273.8,510.37 274.3,510.35 274.8,510.33 275.2,510.30 275.7,510.28 276.2,510.26 276.7,510.23 277.1,510.21 277.6,510.19 278.1,510.16 278.6,510.14 279.0,510.11 279.5,510.08 280.0,510.04 280.5,510.00 280.9,509.96 281.4,509.91 281.9,509.86 282.3,509.80 282.8,509.71 283.3,509.59 283.8,509.43 284.2,509.26 284.7,509.06 285.2,508.84 285.7,508.61 286.1,508.36 286.6,508.10 287.1,507.83 287.6,507.56 288.0,507.29 288.5,506.99 289.0,506.66 289.4,506.30 289.9,505.91 290.4,505.50 290.9,505.07 291.3,504.62 291.8,504.15 292.3,503.68 292.8,503.19 293.2,502.71 293.7,502.22 294.2,501.74 294.7,501.24 295.1,500.72 295.6,500.20 296.1,499.66 296.6,499.10 297.0,498.54 297.5,497.97 298.0,497.38 298.4,496.79 298.9,496.19 299.4,495.59 299.9,494.97 300.3,494.36 300.8,493.73 301.3,493.09 301.8,492.44 302.2,491.79 302.7,491.12 303.2,490.44 303.7,489.75 304.1,489.04 304.6,488.33 305.1,487.60 305.5,486.86 306.0,486.10 306.5,485.33 307.0,484.55 307.4,483.74 307.9,482.92 308.4,482.09 308.9,481.24 309.3,480.38 309.8,479.51 310.3,478.62 310.8,477.71 311.2,476.80 311.7,475.87"/>
</g>
<rect class="ax" x="249.56" y="471.86" width="65.10" height="42.75"/>
<line class="tk" x1="264.36" y1="514.61" x2="264.36" y2="516.21"/>
<text class="xt" x="264.36" y="522.01" text-anchor="middle" textLength="10.69" lengthAdjust="spacingAndGlyphs">1900</text>
<line class="tk" x1="288.03" y1="514.61" x2="288.03" y2="516.21"/>
<text class="xt" x="288.03" y="522.01" text-anchor="middle" textLength="10.69" lengthAdjust="spacingAndGlyphs">2000</text>
<line class="tk" x1="311.70" y1="514.61" x2="311.70" y2="516.21"/>
<text class="xt" x="311.70" y="522.01" text-anchor="middle" textLength="10.69" lengthAdjust="spacingAndGlyphs">2100</text>
<line class="tk" x1="247.96" y1="511.21" x2="249.56" y2="511.21"/>
<text class="yt" x="246.36" y="512.96" text-anchor="end" textLength="2.67" lengthAdjust="spacingAndGlyphs">0</text>
<line class="tk" x1="247.96" y1="497.50" x2="249.56" y2="497.50"/>
<text class="yt" x="246.36" y="499.25" text-anchor="end" textLength="2.67" lengthAdjust="spacingAndGlyphs">2</text>
<line class="tk" x1="247.96" y1="483.79" x2="249.56" y2="483.79"/>
<text class="yt" x="246.36" y="485.54" text-anchor="end" textLength="2.67" lengthAdjust="spacingAndGlyphs">4</text>
<text class="an" x="312.86" y="509.96" text-anchor="end" textLength="15.60" lengthAdjust="spacingAndGlyphs">r<tspan class="sup" dy="-1.3">2</tspan><tspan dy="1.3">=0.99</tspan></text>
<text class="an" x="312.86" y="513.66" text-anchor="end" textLength="23.43" lengthAdjust="spacingAndGlyphs">RMSE=0.18</text>
<text class="mn" x="17.20" y="476.76" textLength="27.66" lengthAdjust="spacingAndGlyphs">KACE-1-0-G</text>
<text class="yl" transform="translate(6.10,493.84) rotate(-90)" text-anchor="middle"><tspan font-style="italic">&#916;GMST</tspan> [K]</text>
<line class="g" x1="19.10" y1="19.25" x2="26.60" y2="19.25"/>
<text class="lg" x="30.35" y="20.65" textLength="14.65" lengthAdjust="spacingAndGlyphs">Original</text>
<line class="o" x1="19.10" y1="25.25" x2="26.60" y2="25.25"/>
<text class="lg" x="30.35" y="26.65" textLength="17.73" lengthAdjust="spacingAndGlyphs">GHG only</text>
<line class="p" x1="19.10" y1="31.50" x2="26.60" y2="31.50"/>
<text class="lg" x="30.35" y="32.90" textLength="17.89" lengthAdjust="spacingAndGlyphs">GHG+aer</text>
</svg>
</body></html>
